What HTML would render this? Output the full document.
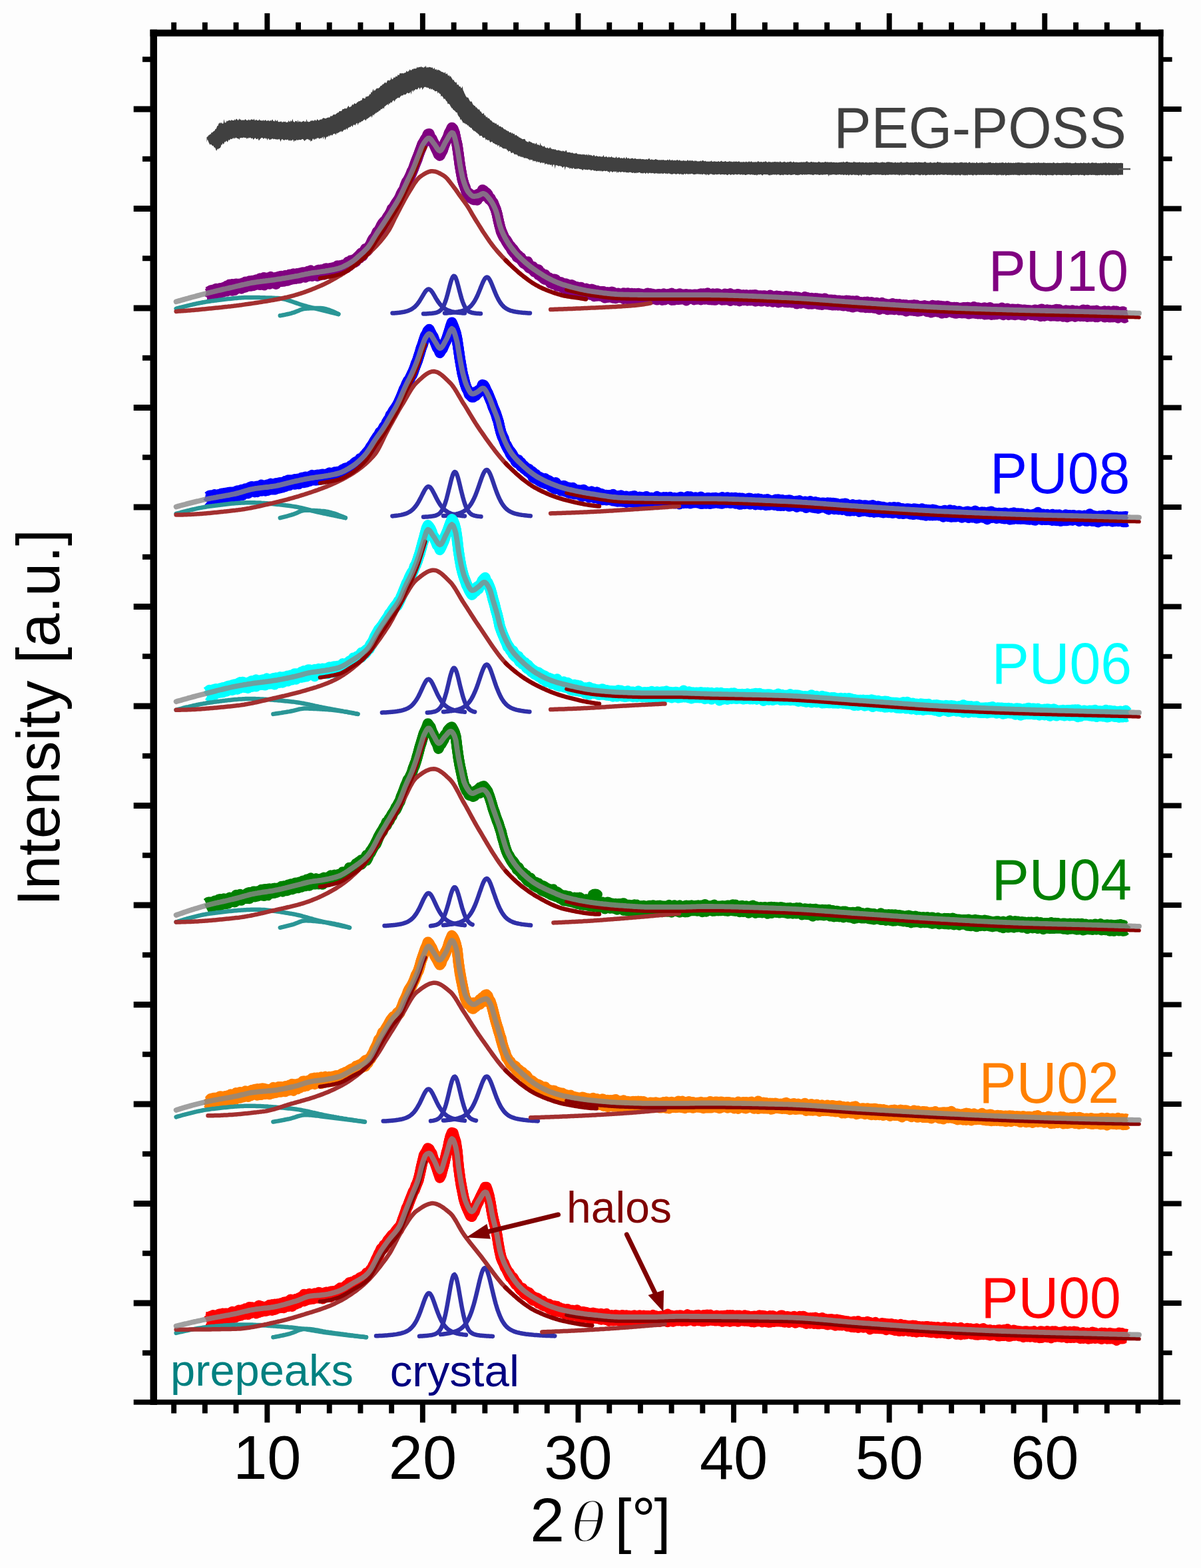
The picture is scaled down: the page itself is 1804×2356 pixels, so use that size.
<!DOCTYPE html>
<html><head><meta charset="utf-8"><style>
html,body{margin:0;padding:0;background:#fdfdfd;}
svg{display:block;}
</style></head><body>
<svg width="1804" height="2356" viewBox="0 0 1804 2356">
<rect width="1804" height="2356" fill="#fdfdfd"/>
<polygon points="310.5,205.9 311.5,205.4 312.5,204.7 313.5,203.0 314.5,203.0 315.5,201.3 316.5,202.0 317.5,199.0 318.5,199.5 319.5,198.4 320.5,197.6 321.5,196.9 322.5,196.2 323.5,193.7 324.5,193.9 325.5,191.5 326.5,189.0 327.5,189.0 328.5,185.5 329.5,185.4 330.5,183.7 331.5,185.7 332.5,183.8 333.5,185.4 334.5,185.8 335.5,185.6 336.5,178.9 337.5,184.1 338.5,184.4 339.5,183.9 340.5,181.2 341.5,182.4 342.5,181.3 343.5,181.2 344.5,180.5 345.5,180.7 346.5,181.7 347.5,180.1 348.5,180.5 349.5,181.1 350.5,181.0 351.5,181.0 352.5,179.1 353.5,181.0 354.5,178.9 355.5,178.6 356.5,179.7 357.5,180.9 358.5,180.1 359.5,177.9 360.5,179.9 361.5,179.2 362.5,181.0 363.5,180.2 364.5,180.8 365.5,180.1 366.5,181.1 367.5,180.1 368.5,178.9 369.5,180.1 370.5,180.9 371.5,180.5 372.5,181.0 373.5,179.3 374.5,180.3 375.5,181.0 376.5,179.8 377.5,179.5 378.5,179.2 379.5,180.1 380.5,180.3 381.5,178.2 382.5,180.6 383.5,181.2 384.5,179.4 385.5,180.3 386.5,180.9 387.5,180.9 388.5,181.1 389.5,179.1 390.5,180.8 391.5,181.1 392.5,181.0 393.5,181.4 394.5,181.3 395.5,179.9 396.5,181.7 397.5,181.1 398.5,180.0 399.5,180.9 400.5,182.0 401.5,181.0 402.5,181.6 403.5,180.5 404.5,182.3 405.5,181.5 406.5,180.4 407.5,182.0 408.5,179.9 409.5,179.5 410.5,182.3 411.5,181.5 412.5,182.7 413.5,179.5 414.5,181.8 415.5,182.2 416.5,179.9 417.5,182.6 418.5,183.2 419.5,183.2 420.5,182.5 421.5,182.9 422.5,182.1 423.5,183.7 424.5,183.8 425.5,182.3 426.5,183.6 427.5,182.7 428.5,182.5 429.5,183.8 430.5,184.0 431.5,183.2 432.5,184.0 433.5,181.0 434.5,182.4 435.5,183.6 436.5,180.8 437.5,182.8 438.5,181.4 439.5,178.6 440.5,182.8 441.5,182.9 442.5,183.9 443.5,181.7 444.5,182.1 445.5,181.8 446.5,184.0 447.5,179.9 448.6,183.8 449.6,182.4 450.6,182.2 451.6,183.1 452.6,183.8 453.6,182.6 454.6,182.8 455.6,181.8 456.6,181.8 457.6,183.5 458.6,182.1 459.6,183.6 460.6,178.7 461.6,183.1 462.6,182.6 463.6,183.5 464.6,182.8 465.6,182.9 466.6,181.1 467.6,181.9 468.6,180.4 469.6,181.8 470.6,181.1 471.6,182.0 472.6,180.2 473.6,179.9 474.6,181.7 475.6,180.8 476.6,178.8 477.6,180.2 478.6,181.1 479.6,180.8 480.6,179.4 481.6,179.7 482.6,179.3 483.6,179.6 484.6,177.8 485.6,177.4 486.6,176.9 487.6,178.0 488.6,178.0 489.6,178.2 490.6,177.2 491.6,176.9 492.6,176.4 493.6,176.6 494.6,176.5 495.6,176.3 496.6,174.1 497.6,174.5 498.6,174.5 499.6,173.8 500.6,172.0 501.6,172.2 502.6,171.7 503.6,172.5 504.6,171.3 505.6,170.4 506.6,169.8 507.6,169.1 508.6,169.3 509.6,167.1 510.6,167.0 511.6,167.1 512.6,167.1 513.6,165.9 514.6,163.8 515.6,163.9 516.6,163.9 517.6,162.5 518.6,163.4 519.6,162.5 520.6,163.6 521.6,161.8 522.6,160.0 523.6,158.8 524.6,161.2 525.6,161.0 526.6,160.2 527.6,160.0 528.6,158.1 529.6,156.5 530.6,158.1 531.6,156.3 532.6,154.7 533.6,155.9 534.6,156.1 535.6,154.9 536.6,153.4 537.6,153.4 538.6,152.2 539.6,151.8 540.6,152.3 541.6,150.8 542.6,150.9 543.6,150.3 544.6,147.0 545.6,147.4 546.6,147.5 547.6,148.2 548.6,147.7 549.6,144.7 550.6,145.7 551.6,144.5 552.6,144.9 553.6,144.2 554.6,143.1 555.6,140.9 556.6,142.0 557.6,137.7 558.6,139.3 559.6,136.5 560.6,133.6 561.6,137.2 562.6,135.1 563.6,136.3 564.6,133.7 565.6,133.3 566.6,132.2 567.6,133.0 568.6,132.4 569.6,131.7 570.6,130.9 571.6,129.0 572.6,128.7 573.6,128.5 574.6,126.5 575.6,126.7 576.6,125.8 577.6,124.5 578.6,123.6 579.6,124.8 580.6,124.5 581.6,121.8 582.6,120.6 583.6,120.5 584.6,121.4 585.6,120.3 586.6,120.3 587.6,116.1 588.6,119.3 589.6,119.0 590.6,118.3 591.6,116.1 592.6,116.8 593.6,116.4 594.6,114.2 595.6,115.0 596.6,115.0 597.6,112.0 598.6,113.1 599.6,112.8 600.6,110.0 601.6,109.9 602.6,110.4 603.6,110.1 604.6,110.0 605.6,110.5 606.6,109.9 607.6,109.5 608.6,109.2 609.6,109.0 610.6,106.3 611.6,107.5 612.6,108.0 613.6,106.7 614.6,106.2 615.6,104.1 616.6,105.5 617.6,105.7 618.6,104.9 619.6,103.2 620.6,104.5 621.6,102.8 622.6,103.3 623.6,103.2 624.6,102.9 625.6,102.8 626.6,100.2 627.6,102.1 628.6,101.0 629.6,100.8 630.6,100.8 631.6,101.0 632.6,99.4 633.6,101.3 634.6,100.8 635.6,101.4 636.6,101.7 637.6,100.1 638.6,101.0 639.6,98.6 640.6,101.5 641.6,101.7 642.6,100.4 643.6,101.7 644.6,100.4 645.6,100.9 646.6,100.8 647.6,101.7 648.6,101.6 649.6,101.2 650.6,103.6 651.6,103.4 652.6,101.6 653.6,104.8 654.6,104.5 655.6,103.7 656.6,106.2 657.6,104.2 658.6,105.2 659.6,105.5 660.6,105.8 661.6,106.7 662.6,107.4 663.6,107.9 664.6,108.3 665.6,108.6 666.6,109.2 667.6,110.1 668.6,107.7 669.6,111.3 670.6,111.3 671.6,109.9 672.6,112.7 673.6,114.3 674.6,112.6 675.6,115.5 676.6,113.9 677.6,115.8 678.6,117.6 679.6,118.9 680.6,120.8 681.6,119.4 682.6,122.7 683.6,123.3 684.6,124.5 685.6,123.1 686.6,127.4 687.6,127.2 688.6,127.1 689.6,129.5 690.6,130.2 691.6,129.7 692.6,132.5 693.6,132.2 694.6,129.2 695.6,135.5 696.6,137.2 697.6,140.0 698.6,141.8 699.6,144.3 700.6,145.4 701.6,146.7 702.6,146.3 703.6,147.3 704.6,149.5 705.6,151.6 706.6,152.7 707.6,152.6 708.6,152.6 709.6,155.2 710.6,157.2 711.6,158.0 712.6,159.1 713.6,159.1 714.6,161.4 715.6,160.9 716.6,162.4 717.6,163.6 718.6,165.1 719.6,163.8 720.6,165.7 721.6,167.8 722.6,167.6 723.7,170.0 724.7,171.0 725.7,170.7 726.7,169.4 727.7,173.9 728.7,172.6 729.7,174.9 730.7,176.5 731.7,175.0 732.7,177.7 733.7,177.6 734.7,178.0 735.7,179.0 736.7,180.9 737.7,180.5 738.7,182.1 739.7,182.9 740.7,184.2 741.7,184.1 742.7,184.4 743.7,185.8 744.7,185.4 745.7,185.6 746.7,188.1 747.7,187.5 748.7,187.2 749.7,190.0 750.7,189.7 751.7,189.8 752.7,190.6 753.7,191.7 754.7,190.8 755.7,192.5 756.7,193.6 757.7,194.4 758.7,194.2 759.7,195.0 760.7,196.2 761.7,196.1 762.7,197.5 763.7,196.6 764.7,198.6 765.7,199.2 766.7,198.5 767.7,199.1 768.7,201.0 769.7,199.1 770.7,201.2 771.7,201.2 772.7,200.7 773.7,203.8 774.7,202.9 775.7,202.8 776.7,204.0 777.7,205.1 778.7,205.1 779.7,206.7 780.7,206.6 781.7,207.3 782.7,208.0 783.7,208.3 784.7,209.2 785.7,209.0 786.7,209.1 787.7,208.7 788.7,209.2 789.7,211.7 790.7,212.3 791.7,213.0 792.7,213.2 793.7,213.7 794.7,211.5 795.7,213.1 796.7,212.8 797.7,213.9 798.7,213.8 799.7,215.0 800.7,215.2 801.7,215.4 802.7,215.1 803.7,216.9 804.7,215.8 805.7,214.2 806.7,217.6 807.7,217.2 808.7,217.5 809.7,217.8 810.7,219.1 811.7,214.3 812.7,218.8 813.7,218.5 814.7,219.6 815.7,220.4 816.7,220.1 817.7,219.0 818.7,221.2 819.7,222.0 820.7,222.2 821.7,222.4 822.7,221.3 823.7,222.9 824.7,223.2 825.7,221.8 826.7,221.3 827.7,223.8 828.7,223.2 829.7,224.4 830.7,223.9 831.7,224.0 832.7,225.1 833.7,224.0 834.7,224.8 835.7,225.7 836.7,225.7 837.7,226.0 838.7,225.5 839.7,225.4 840.7,226.5 841.7,226.3 842.7,226.9 843.7,227.4 844.7,225.9 845.7,227.7 846.7,226.3 847.7,227.4 848.7,228.0 849.7,226.0 850.7,225.7 851.7,228.8 852.7,228.9 853.7,228.8 854.7,229.0 855.7,228.5 856.7,229.5 857.7,229.4 858.7,230.1 859.7,228.9 860.7,230.3 861.7,230.6 862.7,230.8 863.7,230.6 864.7,230.6 865.7,229.5 866.7,231.1 867.7,231.5 868.7,231.6 869.7,231.7 870.7,231.5 871.7,232.1 872.7,231.8 873.7,232.2 874.7,232.6 875.7,231.2 876.7,232.5 877.7,231.9 878.7,232.2 879.7,233.2 880.7,231.8 881.7,232.6 882.7,233.7 883.7,231.0 884.7,233.7 885.7,232.5 886.7,232.8 887.7,233.7 888.7,233.1 889.7,234.2 890.7,234.4 891.7,232.8 892.7,233.1 893.7,234.9 894.7,234.9 895.7,233.8 896.7,234.6 897.7,235.0 898.7,235.1 899.7,235.5 900.7,234.6 901.7,235.0 902.7,235.8 903.7,235.2 904.7,235.4 905.7,235.0 906.7,232.7 907.7,236.0 908.7,236.0 909.7,235.4 910.7,234.7 911.7,236.0 912.7,236.6 913.7,236.4 914.7,235.0 915.7,236.5 916.7,236.3 917.7,236.1 918.7,234.7 919.7,236.8 920.7,236.3 921.7,236.9 922.7,236.8 923.7,237.5 924.7,236.7 925.7,234.7 926.7,237.5 927.7,237.2 928.7,237.1 929.7,236.1 930.7,236.7 931.7,237.7 932.7,237.7 933.7,237.3 934.7,237.6 935.7,238.2 936.7,237.3 937.7,236.3 938.7,238.2 939.7,238.4 940.7,235.6 941.7,237.2 942.7,238.6 943.7,237.2 944.7,237.8 945.7,238.6 946.7,238.7 947.7,238.1 948.7,237.9 949.7,237.5 950.7,238.1 951.7,238.8 952.7,238.5 953.7,237.7 954.7,238.2 955.7,238.8 956.7,238.9 957.7,238.9 958.7,238.4 959.7,239.3 960.7,238.5 961.7,238.7 962.7,238.8 963.7,239.5 964.7,239.1 965.7,239.1 966.7,239.6 967.7,239.0 968.7,239.9 969.7,239.6 970.7,239.1 971.7,239.5 972.7,239.7 973.7,239.0 974.7,238.1 975.7,238.3 976.7,240.2 977.7,240.1 978.7,238.9 979.7,240.3 980.7,239.5 981.7,240.4 982.7,240.1 983.7,239.8 984.7,239.1 985.7,239.3 986.7,240.1 987.7,240.0 988.7,240.6 989.7,240.6 990.7,240.3 991.7,240.6 992.7,240.5 993.7,240.1 994.7,240.7 995.7,240.1 996.7,240.0 997.7,241.1 998.8,240.5 999.8,240.8 1000.8,241.0 1001.8,240.6 1002.8,239.8 1003.8,240.4 1004.8,241.0 1005.8,239.1 1006.8,240.5 1007.8,241.3 1008.8,240.8 1009.8,239.7 1010.8,241.3 1011.8,241.2 1012.8,240.5 1013.8,241.2 1014.8,241.1 1015.8,241.2 1016.8,240.0 1017.8,240.2 1018.8,241.3 1019.8,241.2 1020.8,240.0 1021.8,241.3 1022.8,241.7 1023.8,241.5 1024.8,241.4 1025.8,241.7 1026.8,240.5 1027.8,241.7 1028.8,241.4 1029.8,241.8 1030.8,241.6 1031.8,241.9 1032.8,240.1 1033.8,241.1 1034.8,242.0 1035.8,241.3 1036.8,240.6 1037.8,242.3 1038.8,240.8 1039.8,241.6 1040.8,241.3 1041.8,242.0 1042.8,242.4 1043.8,240.7 1044.8,242.2 1045.8,241.2 1046.8,242.3 1047.8,242.5 1048.8,242.3 1049.8,242.6 1050.8,242.2 1051.8,242.1 1052.8,241.2 1053.8,242.7 1054.8,241.1 1055.8,241.0 1056.8,241.6 1057.8,242.2 1058.8,242.2 1059.8,241.6 1060.8,242.8 1061.8,242.8 1062.8,242.6 1063.8,242.8 1064.8,242.6 1065.8,242.9 1066.8,242.0 1067.8,242.7 1068.8,241.0 1069.8,243.0 1070.8,242.9 1071.8,242.6 1072.8,242.5 1073.8,242.2 1074.8,243.0 1075.8,242.4 1076.8,242.9 1077.8,243.1 1078.8,241.9 1079.8,242.6 1080.8,243.2 1081.8,242.8 1082.8,242.0 1083.8,241.6 1084.8,242.7 1085.8,242.9 1086.8,242.8 1087.8,242.9 1088.8,242.2 1089.8,242.1 1090.8,242.8 1091.8,243.2 1092.8,242.9 1093.8,243.0 1094.8,242.7 1095.8,241.7 1096.8,243.2 1097.8,242.3 1098.8,243.0 1099.8,243.2 1100.8,243.3 1101.8,242.2 1102.8,243.4 1103.8,242.3 1104.8,243.0 1105.8,242.8 1106.8,242.6 1107.8,243.3 1108.8,243.1 1109.8,242.0 1110.8,243.1 1111.8,243.6 1112.8,243.4 1113.8,243.6 1114.8,243.2 1115.8,243.7 1116.8,242.7 1117.8,243.4 1118.8,243.4 1119.8,243.4 1120.8,242.5 1121.8,243.6 1122.8,243.5 1123.8,243.6 1124.8,242.6 1125.8,242.4 1126.8,243.7 1127.8,242.8 1128.8,242.3 1129.8,243.6 1130.8,243.7 1131.8,243.2 1132.8,243.7 1133.8,243.3 1134.8,243.4 1135.8,243.2 1136.8,243.8 1137.8,243.0 1138.8,241.7 1139.8,243.0 1140.8,243.5 1141.8,243.2 1142.8,243.2 1143.8,242.9 1144.8,243.5 1145.8,243.8 1146.8,243.1 1147.8,243.1 1148.8,243.5 1149.8,242.1 1150.8,242.7 1151.8,243.6 1152.8,243.8 1153.8,243.8 1154.8,242.4 1155.8,243.5 1156.8,243.3 1157.8,243.5 1158.8,243.9 1159.8,243.2 1160.8,243.4 1161.8,243.5 1162.8,243.0 1163.8,243.3 1164.8,242.8 1165.8,243.8 1166.8,243.0 1167.8,243.6 1168.8,243.2 1169.8,243.5 1170.8,243.8 1171.8,241.9 1172.8,243.4 1173.8,243.6 1174.8,243.9 1175.8,243.7 1176.8,243.0 1177.8,243.6 1178.8,242.6 1179.8,243.8 1180.8,244.0 1181.8,243.9 1182.8,242.9 1183.8,243.8 1184.8,243.4 1185.8,243.1 1186.8,243.3 1187.8,242.3 1188.8,243.4 1189.8,243.8 1190.8,243.9 1191.8,242.6 1192.8,243.3 1193.8,244.0 1194.8,243.7 1195.8,243.5 1196.8,243.7 1197.8,243.8 1198.8,243.9 1199.8,244.0 1200.8,244.0 1201.8,243.2 1202.8,244.1 1203.8,243.4 1204.8,243.3 1205.8,243.9 1206.8,243.6 1207.8,243.2 1208.8,244.0 1209.8,243.3 1210.8,243.2 1211.8,242.3 1212.8,242.5 1213.8,244.0 1214.8,243.5 1215.8,244.0 1216.8,244.1 1217.8,242.9 1218.8,243.1 1219.8,243.3 1220.8,244.1 1221.8,243.0 1222.8,244.0 1223.8,243.6 1224.8,244.0 1225.8,243.6 1226.8,244.2 1227.8,243.8 1228.8,243.8 1229.8,242.5 1230.8,243.5 1231.8,243.6 1232.8,244.1 1233.8,244.2 1234.8,243.4 1235.8,243.9 1236.8,243.7 1237.8,244.1 1238.8,243.3 1239.8,243.1 1240.8,243.3 1241.8,243.7 1242.8,243.4 1243.8,243.2 1244.8,244.2 1245.8,243.2 1246.8,244.0 1247.8,243.5 1248.8,243.3 1249.8,243.9 1250.8,244.0 1251.8,243.7 1252.8,243.8 1253.8,244.0 1254.8,244.3 1255.8,243.9 1256.8,243.9 1257.8,244.2 1258.8,244.3 1259.8,243.9 1260.8,244.0 1261.8,243.4 1262.8,244.1 1263.8,243.6 1264.8,243.4 1265.8,243.9 1266.8,242.6 1267.8,243.7 1268.8,243.7 1269.8,244.1 1270.8,242.9 1271.8,243.0 1272.8,242.8 1273.8,243.6 1274.9,243.8 1275.9,243.7 1276.9,243.8 1277.9,244.3 1278.9,244.0 1279.9,243.9 1280.9,244.3 1281.9,243.6 1282.9,242.6 1283.9,243.9 1284.9,243.6 1285.9,243.7 1286.9,244.2 1287.9,243.7 1288.9,244.1 1289.9,243.7 1290.9,243.7 1291.9,243.2 1292.9,244.4 1293.9,244.0 1294.9,243.6 1295.9,244.3 1296.9,243.6 1297.9,244.4 1298.9,244.4 1299.9,244.0 1300.9,243.6 1301.9,244.2 1302.9,244.3 1303.9,244.3 1304.9,244.4 1305.9,243.8 1306.9,243.7 1307.9,244.2 1308.9,244.1 1309.9,243.8 1310.9,244.2 1311.9,244.2 1312.9,244.2 1313.9,242.9 1314.9,244.2 1315.9,243.1 1316.9,243.8 1317.9,244.0 1318.9,244.2 1319.9,244.2 1320.9,244.5 1321.9,244.5 1322.9,244.3 1323.9,243.2 1324.9,244.4 1325.9,242.8 1326.9,244.3 1327.9,244.0 1328.9,244.0 1329.9,244.4 1330.9,244.3 1331.9,243.5 1332.9,243.2 1333.9,243.8 1334.9,243.0 1335.9,243.8 1336.9,243.4 1337.9,243.8 1338.9,244.1 1339.9,243.5 1340.9,244.4 1341.9,244.3 1342.9,244.5 1343.9,244.2 1344.9,243.3 1345.9,244.4 1346.9,244.5 1347.9,243.9 1348.9,244.2 1349.9,244.4 1350.9,244.0 1351.9,244.6 1352.9,243.3 1353.9,243.1 1354.9,244.4 1355.9,244.0 1356.9,244.4 1357.9,244.0 1358.9,244.4 1359.9,243.6 1360.9,244.6 1361.9,242.8 1362.9,243.8 1363.9,243.8 1364.9,244.0 1365.9,244.4 1366.9,243.9 1367.9,244.1 1368.9,244.2 1369.9,244.0 1370.9,244.0 1371.9,244.4 1372.9,243.9 1373.9,243.5 1374.9,244.2 1375.9,243.0 1376.9,244.1 1377.9,244.2 1378.9,244.3 1379.9,243.3 1380.9,243.8 1381.9,243.9 1382.9,244.1 1383.9,243.9 1384.9,244.2 1385.9,244.0 1386.9,244.6 1387.9,243.5 1388.9,243.6 1389.9,243.0 1390.9,243.9 1391.9,244.5 1392.9,244.6 1393.9,244.6 1394.9,244.5 1395.9,244.6 1396.9,243.9 1397.9,243.2 1398.9,244.8 1399.9,244.2 1400.9,244.7 1401.9,244.6 1402.9,244.1 1403.9,244.3 1404.9,244.2 1405.9,244.5 1406.9,244.3 1407.9,243.3 1408.9,243.1 1409.9,243.7 1410.9,244.6 1411.9,243.0 1412.9,244.2 1413.9,244.6 1414.9,244.6 1415.9,244.4 1416.9,244.7 1417.9,244.4 1418.9,244.3 1419.9,244.5 1420.9,244.5 1421.9,244.0 1422.9,244.8 1423.9,244.2 1424.9,244.7 1425.9,244.1 1426.9,244.6 1427.9,244.5 1428.9,244.6 1429.9,244.8 1430.9,244.8 1431.9,244.6 1432.9,244.3 1433.9,244.1 1434.9,243.9 1435.9,244.8 1436.9,244.3 1437.9,244.5 1438.9,244.4 1439.9,244.8 1440.9,244.4 1441.9,244.1 1442.9,244.3 1443.9,243.3 1444.9,244.4 1445.9,243.5 1446.9,244.9 1447.9,244.1 1448.9,244.4 1449.9,244.0 1450.9,244.4 1451.9,243.7 1452.9,244.7 1453.9,244.9 1454.9,244.2 1455.9,243.2 1456.9,244.0 1457.9,244.8 1458.9,244.7 1459.9,244.5 1460.9,244.5 1461.9,244.2 1462.9,244.9 1463.9,244.3 1464.9,244.9 1465.9,244.9 1466.9,243.3 1467.9,244.4 1468.9,244.9 1469.9,244.8 1470.9,244.7 1471.9,244.2 1472.9,244.6 1473.9,244.4 1474.9,243.8 1475.9,244.3 1476.9,244.6 1477.9,244.9 1478.9,244.3 1479.9,244.7 1480.9,245.0 1481.9,244.6 1482.9,244.6 1483.9,244.8 1484.9,243.7 1485.9,244.2 1486.9,243.9 1487.9,243.5 1488.9,244.8 1489.9,244.9 1490.9,244.8 1491.9,244.5 1492.9,245.0 1493.9,245.0 1494.9,245.0 1495.9,243.7 1496.9,244.9 1497.9,244.4 1498.9,244.7 1499.9,244.9 1500.9,244.6 1501.9,244.4 1502.9,244.7 1503.9,244.4 1504.9,244.3 1505.9,244.3 1506.9,244.1 1507.9,245.0 1508.9,244.9 1509.9,244.5 1510.9,244.1 1511.9,244.9 1512.9,244.7 1513.9,244.8 1514.9,243.9 1515.9,244.5 1516.9,245.1 1517.9,244.5 1518.9,244.4 1519.9,245.0 1520.9,245.0 1521.9,244.5 1522.9,244.8 1523.9,244.9 1524.9,244.7 1525.9,243.9 1526.9,245.1 1527.9,244.1 1528.9,244.5 1529.9,244.1 1530.9,244.3 1531.9,244.3 1532.9,245.0 1533.9,244.1 1534.9,244.7 1535.9,244.3 1536.9,244.9 1537.9,244.7 1538.9,244.9 1539.9,245.0 1540.9,244.7 1541.9,244.4 1542.9,244.4 1543.9,244.4 1544.9,244.3 1545.9,244.7 1546.9,244.2 1547.9,245.1 1548.9,245.0 1550.0,244.9 1551.0,244.6 1552.0,244.9 1553.0,244.6 1554.0,244.2 1555.0,244.7 1556.0,245.0 1557.0,244.6 1558.0,244.5 1559.0,245.0 1560.0,243.6 1561.0,244.8 1562.0,244.9 1563.0,244.6 1564.0,245.1 1565.0,244.4 1566.0,244.9 1567.0,244.5 1568.0,243.9 1569.0,244.9 1570.0,244.4 1571.0,245.1 1572.0,245.0 1573.0,244.8 1574.0,244.7 1575.0,244.9 1576.0,244.6 1577.0,245.1 1578.0,244.7 1579.0,244.8 1580.0,245.0 1581.0,245.2 1582.0,243.4 1583.0,244.8 1584.0,244.4 1585.0,245.2 1586.0,245.2 1587.0,244.8 1588.0,244.7 1589.0,244.5 1590.0,245.1 1591.0,244.9 1592.0,244.9 1593.0,245.0 1594.0,244.9 1595.0,244.4 1596.0,245.0 1597.0,244.6 1598.0,244.3 1599.0,245.2 1600.0,244.4 1601.0,244.5 1602.0,244.4 1603.0,244.3 1604.0,244.8 1605.0,244.5 1606.0,244.9 1607.0,244.2 1608.0,244.7 1609.0,245.3 1610.0,245.2 1611.0,245.3 1612.0,245.2 1613.0,245.0 1614.0,245.3 1615.0,244.3 1616.0,244.3 1617.0,245.2 1618.0,244.8 1619.0,245.2 1620.0,244.8 1621.0,245.3 1622.0,244.9 1623.0,244.4 1624.0,244.7 1625.0,245.0 1626.0,245.0 1627.0,245.3 1628.0,243.7 1629.0,244.9 1630.0,245.2 1631.0,244.4 1632.0,245.2 1633.0,245.2 1634.0,244.5 1635.0,244.5 1636.0,244.3 1637.0,245.4 1638.0,245.3 1639.0,244.4 1640.0,244.8 1641.0,243.7 1642.0,245.0 1643.0,244.6 1644.0,245.1 1645.0,244.8 1646.0,244.6 1647.0,244.6 1648.0,245.3 1649.0,245.2 1650.0,244.9 1651.0,245.2 1652.0,245.2 1653.0,245.0 1654.0,244.6 1655.0,245.4 1656.0,245.0 1657.0,244.6 1658.0,244.7 1659.0,245.1 1660.0,244.3 1661.0,244.6 1662.0,244.4 1663.0,245.3 1664.0,245.2 1665.0,244.2 1666.0,244.5 1667.0,245.0 1668.0,244.9 1669.0,245.3 1670.0,245.3 1671.0,244.4 1672.0,245.3 1673.0,244.8 1674.0,244.7 1675.0,245.3 1676.0,245.3 1677.0,244.6 1678.0,244.9 1679.0,245.2 1680.0,245.1 1681.0,245.1 1682.0,245.1 1683.0,245.1 1684.0,244.4 1685.0,245.3 1686.0,245.2 1687.0,245.2 1687.0,263.1 1686.0,262.6 1685.0,262.6 1684.0,262.8 1683.0,262.7 1682.0,262.6 1681.0,262.8 1680.0,263.2 1679.0,263.4 1678.0,262.9 1677.0,262.5 1676.0,262.8 1675.0,263.3 1674.0,262.8 1673.0,262.7 1672.0,263.4 1671.0,262.8 1670.0,263.2 1669.0,262.7 1668.0,262.8 1667.0,263.3 1666.0,263.5 1665.0,263.1 1664.0,262.7 1663.0,262.8 1662.0,263.5 1661.0,263.6 1660.0,262.9 1659.0,262.7 1658.0,262.6 1657.0,263.0 1656.0,263.2 1655.0,263.3 1654.0,262.9 1653.0,262.6 1652.0,263.3 1651.0,263.2 1650.0,262.9 1649.0,263.2 1648.0,263.7 1647.0,262.8 1646.0,263.7 1645.0,263.1 1644.0,262.8 1643.0,263.0 1642.0,262.8 1641.0,262.7 1640.0,263.1 1639.0,263.1 1638.0,262.8 1637.0,262.5 1636.0,262.9 1635.0,263.0 1634.0,263.6 1633.0,262.7 1632.0,263.2 1631.0,262.6 1630.0,263.2 1629.0,263.9 1628.0,263.4 1627.0,262.9 1626.0,262.7 1625.0,263.1 1624.0,263.1 1623.0,262.5 1622.0,262.7 1621.0,263.3 1620.0,263.4 1619.0,263.1 1618.0,262.6 1617.0,262.9 1616.0,263.1 1615.0,262.8 1614.0,263.1 1613.0,262.9 1612.0,263.0 1611.0,262.9 1610.0,262.9 1609.0,264.5 1608.0,263.0 1607.0,262.6 1606.0,262.8 1605.0,263.0 1604.0,263.2 1603.0,262.8 1602.0,263.5 1601.0,262.8 1600.0,263.1 1599.0,263.0 1598.0,262.5 1597.0,262.8 1596.0,263.8 1595.0,262.8 1594.0,263.2 1593.0,262.9 1592.0,262.8 1591.0,263.1 1590.0,262.7 1589.0,262.8 1588.0,262.9 1587.0,263.4 1586.0,262.9 1585.0,262.5 1584.0,262.6 1583.0,262.8 1582.0,263.4 1581.0,263.4 1580.0,263.3 1579.0,263.1 1578.0,263.2 1577.0,262.6 1576.0,263.6 1575.0,262.8 1574.0,262.9 1573.0,262.6 1572.0,264.1 1571.0,263.4 1570.0,263.0 1569.0,262.9 1568.0,263.0 1567.0,262.8 1566.0,263.8 1565.0,262.7 1564.0,262.6 1563.0,263.4 1562.0,263.2 1561.0,263.1 1560.0,262.6 1559.0,262.7 1558.0,262.4 1557.0,263.3 1556.0,262.7 1555.0,262.7 1554.0,262.4 1553.0,262.6 1552.0,263.1 1551.0,262.5 1550.0,262.5 1548.9,263.2 1547.9,263.0 1546.9,262.5 1545.9,262.7 1544.9,262.8 1543.9,262.6 1542.9,263.1 1541.9,263.1 1540.9,263.2 1539.9,262.8 1538.9,262.9 1537.9,262.5 1536.9,262.6 1535.9,263.2 1534.9,262.8 1533.9,262.8 1532.9,262.5 1531.9,263.4 1530.9,263.6 1529.9,263.1 1528.9,263.4 1527.9,262.7 1526.9,262.7 1525.9,262.9 1524.9,262.5 1523.9,262.6 1522.9,263.3 1521.9,262.6 1520.9,263.1 1519.9,262.6 1518.9,262.9 1517.9,263.0 1516.9,262.4 1515.9,263.5 1514.9,263.0 1513.9,262.9 1512.9,262.9 1511.9,263.0 1510.9,264.4 1509.9,262.6 1508.9,262.6 1507.9,263.3 1506.9,263.2 1505.9,262.5 1504.9,264.0 1503.9,262.6 1502.9,263.0 1501.9,262.6 1500.9,262.4 1499.9,263.5 1498.9,262.5 1497.9,263.4 1496.9,263.4 1495.9,262.5 1494.9,262.7 1493.9,262.9 1492.9,262.4 1491.9,262.6 1490.9,262.6 1489.9,263.1 1488.9,262.8 1487.9,262.8 1486.9,263.0 1485.9,262.9 1484.9,262.4 1483.9,262.8 1482.9,262.9 1481.9,262.4 1480.9,263.3 1479.9,262.3 1478.9,262.7 1477.9,263.1 1476.9,263.0 1475.9,262.5 1474.9,263.1 1473.9,262.7 1472.9,262.7 1471.9,262.7 1470.9,263.1 1469.9,262.4 1468.9,262.7 1467.9,262.7 1466.9,263.3 1465.9,263.4 1464.9,262.6 1463.9,262.7 1462.9,262.6 1461.9,263.7 1460.9,263.6 1459.9,262.7 1458.9,262.8 1457.9,262.7 1456.9,262.7 1455.9,263.1 1454.9,262.4 1453.9,262.6 1452.9,264.0 1451.9,262.7 1450.9,263.1 1449.9,263.6 1448.9,263.5 1447.9,262.6 1446.9,263.8 1445.9,262.6 1444.9,262.5 1443.9,262.3 1442.9,263.9 1441.9,263.0 1440.9,263.6 1439.9,262.6 1438.9,262.7 1437.9,263.4 1436.9,262.6 1435.9,263.8 1434.9,262.9 1433.9,262.4 1432.9,263.1 1431.9,262.4 1430.9,263.2 1429.9,263.8 1428.9,262.3 1427.9,263.2 1426.9,262.4 1425.9,262.9 1424.9,262.5 1423.9,262.9 1422.9,263.0 1421.9,262.6 1420.9,262.3 1419.9,262.4 1418.9,262.6 1417.9,263.1 1416.9,262.6 1415.9,262.8 1414.9,262.3 1413.9,262.3 1412.9,262.3 1411.9,262.9 1410.9,262.7 1409.9,262.3 1408.9,262.7 1407.9,262.8 1406.9,263.6 1405.9,262.5 1404.9,262.3 1403.9,262.7 1402.9,263.0 1401.9,263.3 1400.9,262.3 1399.9,262.8 1398.9,262.8 1397.9,262.7 1396.9,262.8 1395.9,262.9 1394.9,262.5 1393.9,262.6 1392.9,263.0 1391.9,263.1 1390.9,263.6 1389.9,263.4 1388.9,262.3 1387.9,262.9 1386.9,262.7 1385.9,263.5 1384.9,262.2 1383.9,262.3 1382.9,263.7 1381.9,262.7 1380.9,263.8 1379.9,262.8 1378.9,262.4 1377.9,262.4 1376.9,262.3 1375.9,262.4 1374.9,262.3 1373.9,263.0 1372.9,263.4 1371.9,263.0 1370.9,263.1 1369.9,262.4 1368.9,262.7 1367.9,263.7 1366.9,262.8 1365.9,262.4 1364.9,263.2 1363.9,262.2 1362.9,262.6 1361.9,262.3 1360.9,262.4 1359.9,262.8 1358.9,262.4 1357.9,263.2 1356.9,262.7 1355.9,262.3 1354.9,264.1 1353.9,262.5 1352.9,262.4 1351.9,262.4 1350.9,264.0 1349.9,262.6 1348.9,262.8 1347.9,262.4 1346.9,262.4 1345.9,262.3 1344.9,263.0 1343.9,262.5 1342.9,262.2 1341.9,262.6 1340.9,262.2 1339.9,262.7 1338.9,262.4 1337.9,262.5 1336.9,262.5 1335.9,262.3 1334.9,262.7 1333.9,263.0 1332.9,262.8 1331.9,262.5 1330.9,262.9 1329.9,263.4 1328.9,262.5 1327.9,262.7 1326.9,262.9 1325.9,262.8 1324.9,263.3 1323.9,262.4 1322.9,262.4 1321.9,262.3 1320.9,262.8 1319.9,262.5 1318.9,262.2 1317.9,262.4 1316.9,262.3 1315.9,262.8 1314.9,262.4 1313.9,262.5 1312.9,262.3 1311.9,262.2 1310.9,262.3 1309.9,262.3 1308.9,263.0 1307.9,262.7 1306.9,263.1 1305.9,263.4 1304.9,263.2 1303.9,262.5 1302.9,262.9 1301.9,263.2 1300.9,262.6 1299.9,262.3 1298.9,262.6 1297.9,262.6 1296.9,262.8 1295.9,262.2 1294.9,262.6 1293.9,264.8 1292.9,262.8 1291.9,262.5 1290.9,262.8 1289.9,264.3 1288.9,263.0 1287.9,262.8 1286.9,263.2 1285.9,262.3 1284.9,263.2 1283.9,263.0 1282.9,262.3 1281.9,262.4 1280.9,262.4 1279.9,263.1 1278.9,263.2 1277.9,262.2 1276.9,262.5 1275.9,262.4 1274.9,263.9 1273.8,262.4 1272.8,262.5 1271.8,262.9 1270.8,263.2 1269.8,262.3 1268.8,262.3 1267.8,263.3 1266.8,262.7 1265.8,262.6 1264.8,262.2 1263.8,262.7 1262.8,262.4 1261.8,262.2 1260.8,262.1 1259.8,262.2 1258.8,262.8 1257.8,262.0 1256.8,263.0 1255.8,262.8 1254.8,262.5 1253.8,262.5 1252.8,262.1 1251.8,262.2 1250.8,262.3 1249.8,262.2 1248.8,262.9 1247.8,262.2 1246.8,263.5 1245.8,262.1 1244.8,264.9 1243.8,262.4 1242.8,262.0 1241.8,262.1 1240.8,262.2 1239.8,262.6 1238.8,262.3 1237.8,262.6 1236.8,262.2 1235.8,262.9 1234.8,262.6 1233.8,262.6 1232.8,262.4 1231.8,262.8 1230.8,263.0 1229.8,262.9 1228.8,262.1 1227.8,262.6 1226.8,262.4 1225.8,262.3 1224.8,262.1 1223.8,262.3 1222.8,262.3 1221.8,263.3 1220.8,263.0 1219.8,262.5 1218.8,262.6 1217.8,262.3 1216.8,262.5 1215.8,262.1 1214.8,262.0 1213.8,262.2 1212.8,261.9 1211.8,262.8 1210.8,262.2 1209.8,262.2 1208.8,262.8 1207.8,262.2 1206.8,262.0 1205.8,262.7 1204.8,262.8 1203.8,262.2 1202.8,262.0 1201.8,262.3 1200.8,262.9 1199.8,262.4 1198.8,263.5 1197.8,263.1 1196.8,262.7 1195.8,263.2 1194.8,262.7 1193.8,262.1 1192.8,262.0 1191.8,262.5 1190.8,262.2 1189.8,262.9 1188.8,262.8 1187.8,263.2 1186.8,262.5 1185.8,262.4 1184.8,261.9 1183.8,263.0 1182.8,263.1 1181.8,262.6 1180.8,262.7 1179.8,262.2 1178.8,262.5 1177.8,262.1 1176.8,263.6 1175.8,262.9 1174.8,262.5 1173.8,262.7 1172.8,262.9 1171.8,263.4 1170.8,262.4 1169.8,262.4 1168.8,261.9 1167.8,262.0 1166.8,263.4 1165.8,262.0 1164.8,262.5 1163.8,262.6 1162.8,262.3 1161.8,262.5 1160.8,261.9 1159.8,263.0 1158.8,262.7 1157.8,262.6 1156.8,263.7 1155.8,263.1 1154.8,263.5 1153.8,262.4 1152.8,262.2 1151.8,261.9 1150.8,262.5 1149.8,261.9 1148.8,262.3 1147.8,262.1 1146.8,262.1 1145.8,263.4 1144.8,263.4 1143.8,262.4 1142.8,262.0 1141.8,262.0 1140.8,262.7 1139.8,262.0 1138.8,262.6 1137.8,262.6 1136.8,263.9 1135.8,262.2 1134.8,262.9 1133.8,262.9 1132.8,262.7 1131.8,262.6 1130.8,262.5 1129.8,262.4 1128.8,262.0 1127.8,262.3 1126.8,262.9 1125.8,261.8 1124.8,262.2 1123.8,261.8 1122.8,262.4 1121.8,262.3 1120.8,263.1 1119.8,262.9 1118.8,263.1 1117.8,262.0 1116.8,262.2 1115.8,263.3 1114.8,261.8 1113.8,262.4 1112.8,261.9 1111.8,262.9 1110.8,261.8 1109.8,261.7 1108.8,262.1 1107.8,262.6 1106.8,262.3 1105.8,262.2 1104.8,261.8 1103.8,261.8 1102.8,262.8 1101.8,262.8 1100.8,262.0 1099.8,262.2 1098.8,261.9 1097.8,263.2 1096.8,262.4 1095.8,261.8 1094.8,261.8 1093.8,262.6 1092.8,263.2 1091.8,263.1 1090.8,262.0 1089.8,262.2 1088.8,261.9 1087.8,262.8 1086.8,261.9 1085.8,262.0 1084.8,262.0 1083.8,261.9 1082.8,262.6 1081.8,262.4 1080.8,261.5 1079.8,261.8 1078.8,262.0 1077.8,262.2 1076.8,262.0 1075.8,262.4 1074.8,261.6 1073.8,262.2 1072.8,262.7 1071.8,262.2 1070.8,262.5 1069.8,261.9 1068.8,261.6 1067.8,261.5 1066.8,261.4 1065.8,261.8 1064.8,263.5 1063.8,262.2 1062.8,262.5 1061.8,261.3 1060.8,263.7 1059.8,261.8 1058.8,262.3 1057.8,261.6 1056.8,261.3 1055.8,261.9 1054.8,262.6 1053.8,261.4 1052.8,261.7 1051.8,262.0 1050.8,261.4 1049.8,261.8 1048.8,261.5 1047.8,261.3 1046.8,261.8 1045.8,261.2 1044.8,261.9 1043.8,262.1 1042.8,262.3 1041.8,262.1 1040.8,261.8 1039.8,261.0 1038.8,261.0 1037.8,261.2 1036.8,261.4 1035.8,261.8 1034.8,261.0 1033.8,262.3 1032.8,261.4 1031.8,260.9 1030.8,261.1 1029.8,262.5 1028.8,260.9 1027.8,260.9 1026.8,262.7 1025.8,261.4 1024.8,262.6 1023.8,261.8 1022.8,261.2 1021.8,261.2 1020.8,262.4 1019.8,260.9 1018.8,261.5 1017.8,260.8 1016.8,261.4 1015.8,262.1 1014.8,261.4 1013.8,261.5 1012.8,260.8 1011.8,261.0 1010.8,261.8 1009.8,261.6 1008.8,262.1 1007.8,261.6 1006.8,261.2 1005.8,260.9 1004.8,260.3 1003.8,260.4 1002.8,261.8 1001.8,260.3 1000.8,261.3 999.8,260.8 998.8,260.5 997.7,260.1 996.7,260.7 995.7,261.4 994.7,260.5 993.7,260.3 992.7,261.3 991.7,260.2 990.7,260.8 989.7,261.6 988.7,259.9 987.7,261.2 986.7,260.3 985.7,260.3 984.7,260.5 983.7,260.6 982.7,261.3 981.7,260.1 980.7,260.2 979.7,260.0 978.7,260.3 977.7,260.6 976.7,259.6 975.7,260.2 974.7,259.6 973.7,261.5 972.7,259.9 971.7,259.5 970.7,260.1 969.7,261.6 968.7,259.9 967.7,259.6 966.7,260.5 965.7,260.3 964.7,260.4 963.7,260.0 962.7,260.6 961.7,259.4 960.7,259.0 959.7,259.1 958.7,259.5 957.7,260.1 956.7,259.1 955.7,260.5 954.7,259.7 953.7,259.8 952.7,260.4 951.7,258.9 950.7,259.7 949.7,259.9 948.7,259.6 947.7,258.7 946.7,258.8 945.7,259.1 944.7,258.4 943.7,259.9 942.7,258.9 941.7,259.0 940.7,259.6 939.7,258.6 938.7,258.6 937.7,258.8 936.7,258.9 935.7,258.1 934.7,258.2 933.7,258.2 932.7,258.7 931.7,259.0 930.7,257.8 929.7,258.3 928.7,259.8 927.7,257.6 926.7,260.3 925.7,257.6 924.7,257.6 923.7,258.7 922.7,257.3 921.7,257.8 920.7,258.6 919.7,259.0 918.7,257.5 917.7,257.7 916.7,256.9 915.7,260.2 914.7,257.5 913.7,258.6 912.7,257.5 911.7,256.6 910.7,256.9 909.7,257.3 908.7,257.1 907.7,256.4 906.7,257.0 905.7,257.2 904.7,257.4 903.7,257.5 902.7,256.0 901.7,257.7 900.7,256.4 899.7,256.4 898.7,257.0 897.7,256.4 896.7,257.1 895.7,257.2 894.7,256.3 893.7,256.6 892.7,256.6 891.7,256.3 890.7,255.3 889.7,255.4 888.7,255.6 887.7,256.7 886.7,255.1 885.7,255.1 884.7,254.8 883.7,254.7 882.7,255.3 881.7,255.6 880.7,254.5 879.7,255.3 878.7,254.7 877.7,254.5 876.7,254.1 875.7,256.1 874.7,255.6 873.7,254.3 872.7,254.4 871.7,253.9 870.7,254.1 869.7,253.6 868.7,253.2 867.7,253.1 866.7,254.5 865.7,253.1 864.7,253.9 863.7,254.0 862.7,253.4 861.7,252.2 860.7,252.4 859.7,254.1 858.7,252.9 857.7,252.4 856.7,252.5 855.7,253.9 854.7,251.1 853.7,252.7 852.7,251.2 851.7,251.0 850.7,250.6 849.7,250.7 848.7,255.8 847.7,250.1 846.7,250.4 845.7,251.4 844.7,252.1 843.7,250.2 842.7,249.4 841.7,249.8 840.7,249.0 839.7,249.4 838.7,249.7 837.7,248.8 836.7,248.6 835.7,248.2 834.7,248.0 833.7,253.8 832.7,247.5 831.7,247.4 830.7,247.2 829.7,251.2 828.7,247.8 827.7,247.2 826.7,248.2 825.7,247.5 824.7,246.3 823.7,247.7 822.7,247.3 821.7,245.9 820.7,245.9 819.7,245.7 818.7,247.8 817.7,244.8 816.7,244.3 815.7,245.4 814.7,244.2 813.7,244.4 812.7,244.3 811.7,245.5 810.7,243.8 809.7,243.1 808.7,243.7 807.7,243.4 806.7,242.1 805.7,244.5 804.7,241.8 803.7,242.0 802.7,242.5 801.7,241.0 800.7,243.0 799.7,240.3 798.7,239.8 797.7,240.7 796.7,239.2 795.7,241.2 794.7,239.2 793.7,239.5 792.7,238.2 791.7,237.9 790.7,237.8 789.7,237.6 788.7,237.6 787.7,237.4 786.7,237.6 785.7,235.6 784.7,236.8 783.7,235.3 782.7,235.9 781.7,235.6 780.7,234.1 779.7,235.5 778.7,234.3 777.7,233.9 776.7,232.0 775.7,232.8 774.7,231.5 773.7,232.2 772.7,232.0 771.7,230.5 770.7,229.3 769.7,229.4 768.7,229.8 767.7,230.2 766.7,227.4 765.7,227.1 764.7,226.6 763.7,228.4 762.7,225.7 761.7,225.8 760.7,223.8 759.7,223.5 758.7,223.7 757.7,223.1 756.7,223.5 755.7,222.9 754.7,222.4 753.7,221.3 752.7,220.9 751.7,219.7 750.7,222.0 749.7,218.3 748.7,218.1 747.7,219.9 746.7,217.2 745.7,217.2 744.7,217.3 743.7,216.2 742.7,216.1 741.7,214.7 740.7,215.6 739.7,213.3 738.7,212.8 737.7,213.2 736.7,214.1 735.7,213.1 734.7,210.3 733.7,210.7 732.7,210.7 731.7,210.3 730.7,209.1 729.7,210.8 728.7,207.3 727.7,206.6 726.7,207.2 725.7,206.9 724.7,206.3 723.7,204.0 722.6,204.0 721.6,203.8 720.6,204.8 719.6,202.4 718.6,201.5 717.6,200.8 716.6,199.5 715.6,199.5 714.6,197.8 713.6,197.7 712.6,196.2 711.6,197.2 710.6,195.1 709.6,195.0 708.6,192.5 707.6,192.0 706.6,191.9 705.6,190.4 704.6,190.7 703.6,188.3 702.6,188.8 701.6,187.5 700.6,186.2 699.6,187.0 698.6,184.9 697.6,185.8 696.6,183.9 695.6,185.1 694.6,182.5 693.6,181.0 692.6,178.7 691.6,180.8 690.6,176.6 689.6,175.4 688.6,174.3 687.6,172.4 686.6,168.9 685.6,168.9 684.6,168.4 683.6,166.8 682.6,166.3 681.6,165.3 680.6,165.1 679.6,162.4 678.6,162.8 677.6,160.8 676.6,159.4 675.6,157.0 674.6,156.5 673.6,155.5 672.6,156.6 671.6,152.8 670.6,152.1 669.6,150.7 668.6,148.7 667.6,148.2 666.6,148.9 665.6,146.3 664.6,144.9 663.6,143.8 662.6,145.5 661.6,140.9 660.6,141.0 659.6,139.9 658.6,138.2 657.6,140.8 656.6,137.2 655.6,136.8 654.6,136.9 653.6,137.5 652.6,136.2 651.6,135.0 650.6,135.5 649.6,133.7 648.6,133.4 647.6,135.0 646.6,132.5 645.6,133.9 644.6,133.5 643.6,131.4 642.6,132.5 641.6,131.1 640.6,131.9 639.6,130.6 638.6,131.1 637.6,130.5 636.6,131.7 635.6,133.0 634.6,135.2 633.6,131.4 632.6,131.4 631.6,132.0 630.6,134.8 629.6,132.0 628.6,131.4 627.6,133.4 626.6,134.4 625.6,134.5 624.6,133.8 623.6,134.6 622.6,136.3 621.6,135.3 620.6,138.4 619.6,135.6 618.6,136.7 617.6,142.1 616.6,137.4 615.6,139.2 614.6,140.3 613.6,140.2 612.6,139.5 611.6,139.4 610.6,140.5 609.6,142.1 608.6,141.9 607.6,142.6 606.6,141.4 605.6,143.2 604.6,143.4 603.6,143.6 602.6,143.8 601.6,144.7 600.6,146.3 599.6,147.4 598.6,146.6 597.6,147.0 596.6,147.6 595.6,148.5 594.6,149.0 593.6,150.4 592.6,153.1 591.6,150.6 590.6,151.0 589.6,151.7 588.6,154.4 587.6,153.7 586.6,153.7 585.6,156.2 584.6,154.8 583.6,158.4 582.6,156.0 581.6,157.5 580.6,157.4 579.6,158.8 578.6,159.5 577.6,160.1 576.6,163.7 575.6,161.8 574.6,163.1 573.6,164.2 572.6,163.6 571.6,164.9 570.6,166.6 569.6,165.9 568.6,167.6 567.6,168.4 566.6,168.2 565.6,169.9 564.6,169.3 563.6,170.9 562.6,171.0 561.6,173.8 560.6,172.0 559.6,173.6 558.6,177.0 557.6,173.8 556.6,175.6 555.6,175.2 554.6,176.6 553.6,177.1 552.6,178.0 551.6,178.5 550.6,178.7 549.6,181.5 548.6,180.2 547.6,179.3 546.6,180.0 545.6,180.7 544.6,182.3 543.6,181.9 542.6,182.7 541.6,184.3 540.6,183.0 539.6,185.1 538.6,184.7 537.6,188.2 536.6,184.8 535.6,185.2 534.6,186.2 533.6,188.8 532.6,187.3 531.6,187.5 530.6,187.8 529.6,191.3 528.6,188.8 527.6,189.1 526.6,190.9 525.6,190.6 524.6,191.6 523.6,191.4 522.6,192.5 521.6,195.4 520.6,192.4 519.6,194.0 518.6,195.4 517.6,194.5 516.6,195.2 515.6,196.2 514.6,197.5 513.6,198.6 512.6,196.4 511.6,197.9 510.6,197.5 509.6,198.8 508.6,199.3 507.6,199.4 506.6,200.8 505.6,199.4 504.6,202.9 503.6,201.1 502.6,200.7 501.6,200.9 500.6,201.2 499.6,203.0 498.6,203.8 497.6,202.2 496.6,203.8 495.6,203.1 494.6,205.4 493.6,203.3 492.6,205.7 491.6,205.3 490.6,205.7 489.6,206.7 488.6,210.5 487.6,206.4 486.6,204.9 485.6,209.4 484.6,205.6 483.6,206.7 482.6,207.9 481.6,207.5 480.6,207.8 479.6,209.1 478.6,207.4 477.6,207.1 476.6,207.8 475.6,207.6 474.6,209.8 473.6,207.9 472.6,209.7 471.6,210.1 470.6,208.2 469.6,208.7 468.6,212.0 467.6,211.3 466.6,213.1 465.6,209.6 464.6,211.2 463.6,209.2 462.6,209.5 461.6,208.7 460.6,209.2 459.6,209.9 458.6,210.6 457.6,212.0 456.6,211.1 455.6,209.6 454.6,209.1 453.6,209.1 452.6,209.9 451.6,210.0 450.6,210.4 449.6,209.7 448.6,210.1 447.5,211.1 446.5,210.3 445.5,209.8 444.5,211.8 443.5,211.0 442.5,211.1 441.5,213.5 440.5,210.3 439.5,209.6 438.5,211.6 437.5,210.5 436.5,212.1 435.5,210.0 434.5,211.8 433.5,211.1 432.5,209.5 431.5,209.8 430.5,210.4 429.5,209.8 428.5,209.7 427.5,210.7 426.5,210.5 425.5,210.4 424.5,209.2 423.5,208.9 422.5,210.2 421.5,213.0 420.5,210.3 419.5,208.8 418.5,209.0 417.5,209.9 416.5,209.3 415.5,209.4 414.5,209.5 413.5,208.9 412.5,208.9 411.5,208.6 410.5,209.6 409.5,207.9 408.5,208.6 407.5,209.2 406.5,209.7 405.5,209.5 404.5,210.5 403.5,207.7 402.5,208.4 401.5,210.9 400.5,207.2 399.5,208.9 398.5,207.3 397.5,207.6 396.5,207.9 395.5,209.1 394.5,206.9 393.5,207.0 392.5,206.9 391.5,208.2 390.5,209.1 389.5,210.7 388.5,210.9 387.5,207.5 386.5,208.9 385.5,208.9 384.5,208.8 383.5,207.0 382.5,207.7 381.5,209.1 380.5,209.9 379.5,207.8 378.5,207.6 377.5,208.6 376.5,207.0 375.5,206.4 374.5,207.8 373.5,206.5 372.5,208.5 371.5,206.9 370.5,209.0 369.5,206.8 368.5,207.1 367.5,207.1 366.5,206.6 365.5,206.6 364.5,207.4 363.5,206.7 362.5,207.3 361.5,207.3 360.5,206.9 359.5,209.9 358.5,208.4 357.5,208.1 356.5,207.9 355.5,207.5 354.5,206.5 353.5,207.3 352.5,208.8 351.5,206.5 350.5,208.7 349.5,207.3 348.5,209.2 347.5,209.1 346.5,208.6 345.5,209.8 344.5,211.0 343.5,209.7 342.5,212.2 341.5,213.8 340.5,211.4 339.5,212.0 338.5,213.8 337.5,212.8 336.5,215.8 335.5,217.1 334.5,214.7 333.5,217.7 332.5,217.3 331.5,221.1 330.5,222.3 329.5,223.1 328.5,222.9 327.5,224.8 326.5,223.2 325.5,226.5 324.5,225.8 323.5,222.5 322.5,221.6 321.5,221.4 320.5,218.8 319.5,219.2 318.5,218.6 317.5,217.2 316.5,216.4 315.5,217.7 314.5,216.0 313.5,213.9 312.5,211.3 311.5,209.3 310.5,213.8" fill="#404040"/><path d="M1680 254 L1698 254" stroke="#555" stroke-width="2.5"/>
<g fill="none" stroke="#800080" stroke-width="16" stroke-linejoin="round" stroke-linecap="butt"><path d="M310.6 437.9L312.6 438.7 314.6 437.5 316.6 436.4 318.6 435.7 320.6 436 322.6 435.2 324.6 433.7 326.6 435.5 328.6 433.7 330.6 433 332.6 433.8 334.6 432.9 336.6 431.4 338.6 431.5 340.6 429.6 342.6 429.6 344.6 427.6 346.6 430.3 348.6 427 350.6 428.9 352.6 427.1 354.6 426.5 356.6 426.8 358.6 426.7 360.6 426.5 362.6 427.1 364.6 425.3 366.6 425.3 368.6 423.5 370.6 424.2 372.6 423.3 374.6 422.3 376.6 422.2 378.6 421.8 380.6 421.7 382.6 421.6 384.6 420.4 386.6 419.9 388.6 421 390.6 418.5 392.6 419.3 394.6 421 396.6 416.9 398.6 418.5 400.6 419.5 402.6 417.2 404.6 420.7 406.6 415.8 408.6 419.2 410.6 419 412.6 418.2 414.6 416.8 416.6 417.1 418.6 415.6 420.6 416.8 422.6 414.8 424.6 415.2 426.6 416 428.6 413.8 430.6 414.1 432.6 414.3 434.6 412.6 436.6 414.5 438.6 413.4 440.6 411.3 442.6 412.3 444.6 411.3 446.7 411 448.7 411.3 450.7 410.2 452.7 411.2 454.7 409.3 456.7 410.4 458.7 409 460.7 409.4 462.7 407.7 464.7 407.4 466.7 406.4 468.7 407.7 470.7 407.7 472.7 408.5 474.7 407.5 476.7 406.3 478.7 405.6 480.7 405.8 482.7 405.2 484.7 406.3 486.7 405.5 488.7 403.5 490.7 403.3 492.7 404.9 494.7 403.6 496.7 402.8 498.7 403.7 500.7 401.9 502.7 401.6 504.7 401.1 506.7 399.3 508.7 401.4 510.7 399 512.7 398.9 514.7 398.1 516.7 398.6 518.7 397 520.7 396.1 522.7 393.5 524.7 393.9 526.7 391.4 528.7 391.9 530.7 390.8 532.7 389.2 534.7 389.5 536.7 386.3 538.7 384.5 540.7 382.2 542.7 380.1 544.7 379.5 546.7 378 548.7 374.1 550.7 374.4 552.7 371.9 554.7 370 556.7 366.6 558.7 361.8 560.7 358.4 562.7 357.6 564.7 352.7 566.7 348 568.7 346.6 570.7 343 572.7 338.7 574.7 335.4 576.7 333 578.7 331.7 580.7 328.3 582.7 325 584.7 322.3 586.7 319.4 588.7 313.8 590.7 312.2 592.7 308.6 594.7 305.1 596.7 302.5 598.7 299.5 600.7 295.8 602.7 290.8 604.7 287.5 606.7 285.4 608.7 278.2 610.7 273.3 612.7 270.8 614.7 267 616.7 262.8 618.7 257.2 620.7 254.5 622.7 247.9 624.7 242.3 626.7 237.3 628.7 232.5 630.7 227.6 632.7 221.7 634.7 216 636.7 213.1 638.7 209.1 640.7 206.6 642.7 201.5 644.7 200.9 646.7 206.6 648.7 208.4 650.7 213 652.7 216.5 654.7 220.1 656.7 224.1 658.7 228.3 660.7 224.2 662.7 228.1 664.7 226.2 666.7 219.1 668.7 213.8 670.7 210.3 672.7 207 674.7 199.6 676.7 196.3 678.7 191.7 680.7 193.7 682.7 199.8 684.7 209.3 686.7 218.3 688.7 232.2 690.7 246.5 692.7 258.9 694.7 269.5 696.7 276.4 698.7 281.4 700.7 288.5 702.7 289.7 704.7 290.2 706.7 294 708.7 293.1 710.7 294.2 712.7 293.5 714.7 293.3 716.7 292.6 718.7 291.4 720.7 291.2 722.7 291.2 724.7 285.2 726.7 286.3 728.7 288.4 730.7 289.6 732.7 291.9 734.7 297.7 736.7 297.9 738.7 303.2 740.7 305.5 742.7 309.4 744.7 314.9 746.7 322 748.7 331.9 750.7 340.2 752.7 346 754.7 350.7 756.7 355.9 758.7 359.1 760.7 360.7 762.7 364.1 764.7 367.8 766.7 369.6 768.7 372.4 770.7 374.3 772.7 377.2 774.7 380 776.7 382.6 778.7 383.6 780.7 387.4 782.7 387.3 784.7 392.1 786.7 391.9 788.7 393.1 790.7 393.9 792.7 393.4 794.7 397.3 796.7 399.2 798.7 402.2 800.7 400.7 802.7 405 804.7 404.5 806.7 406.7 808.8 405.1 810.8 408.9 812.8 409.7 814.8 411.9 816.8 412.6 818.8 412.7 820.8 415.7 822.8 416.5 824.8 417.4 826.8 418.8 828.8 419.8 830.8 419.7 832.8 419.4 834.8 420.2 836.8 423.5 838.8 423.7 840.8 423.9 842.8 424.2 844.8 425.3 846.8 425.9 848.8 426.1 850.8 426.4 852.8 429.5 854.8 428.4 856.8 428.2 858.8 428.1 860.8 429.1 862.8 431 864.8 431.5 866.8 431.1 868.8 431.9 870.8 432 872.8 431.7 874.8 434.3 876.8 433.9 878.8 436.2 880.8 433.7 882.8 434.6 884.8 435.9 886.8 435.2 888.8 434.5 890.8 435.2 892.8 436.4 894.8 436.9 896.8 436.8 898.8 438.1 900.8 438.4 902.8 438.1 904.8 438.1 906.8 438.1 908.8 439.1 910.8 439.7 912.8 439.1 914.8 439.7 916.8 439.2 918.8 438.5 920.8 439 922.8 440.8 924.8 440.7 926.8 441.8 928.8 440.6 930.8 441.4 932.8 441.9 934.8 441.7 936.8 440.3 938.8 440.8 940.8 441.1 942.8 440.2 944.8 441.5 946.8 442.1 948.8 440.8 950.8 443 952.8 441.1 954.8 441.2 956.8 441.2 958.8 440.8 960.8 441.9 962.8 441.6 964.8 443.1 966.8 442.2 968.8 442.2 970.8 441.5 972.8 440.5 974.8 441.7 976.8 441 978.8 442.6 980.8 441.8 982.8 443.3 984.8 442.5 986.8 442.6 988.8 442.1 990.8 442.1 992.8 442.5 994.8 442.8 996.8 441.3 998.8 442.4 1000.8 444.4 1002.8 441.9 1004.8 441.8 1006.8 441.4 1008.8 440.7 1010.8 443.1 1012.8 442.1 1014.8 442.3 1016.8 443.7 1018.8 444.3 1020.8 441.2 1022.8 443 1024.8 442.6 1026.8 442.4 1028.8 442.5 1030.8 442 1032.8 443.5 1034.8 442.6 1036.8 442.4 1038.8 443.2 1040.8 442.9 1042.8 442.5 1044.8 442.4 1046.8 443.7 1048.8 442.6 1050.8 442 1052.8 441.3 1054.8 441.8 1056.8 441.2 1058.8 442.2 1060.8 442.4 1062.8 440.3 1064.8 442.2 1066.8 442.8 1068.8 442.4 1070.8 441.4 1072.8 443.4 1074.8 441.7 1076.8 441.2 1078.8 441.4 1080.8 442.4 1082.8 443.3 1084.8 443.5 1086.8 442.7 1088.8 441.5 1090.8 442 1092.8 441.9 1094.8 442.6 1096.8 441.2 1098.8 442.9 1100.8 443.5 1102.8 442.8 1104.8 443.5 1106.8 442.3 1108.8 441.9 1110.8 442.7 1112.8 444.4 1114.8 444.3 1116.8 443.1 1118.8 444.6 1120.8 443.3 1122.8 445.1 1124.8 444.2 1126.8 443.4 1128.8 444.7 1130.8 443.3 1132.8 443.3 1134.8 442.9 1136.8 444.5 1138.8 444.3 1140.8 444.4 1142.8 444.2 1144.8 445.9 1146.8 444.3 1148.8 444.2 1150.8 446 1152.8 446.3 1154.8 445.4 1156.8 443.6 1158.8 444.7 1160.8 445.9 1162.8 445.5 1164.8 446.9 1166.8 444.4 1168.9 446.3 1170.9 445.2 1172.9 447.1 1174.9 445.9 1176.9 447 1178.9 445.6 1180.9 445 1182.9 445.4 1184.9 445.9 1186.9 445.6 1188.9 447.7 1190.9 448 1192.9 447.1 1194.9 446.1 1196.9 447 1198.9 446.6 1200.9 448.7 1202.9 447.8 1204.9 448.1 1206.9 447.4 1208.9 446.1 1210.9 447.3 1212.9 447.1 1214.9 448.6 1216.9 448.5 1218.9 447.8 1220.9 448.3 1222.9 450.3 1224.9 448.1 1226.9 448.3 1228.9 449.1 1230.9 448.8 1232.9 449.2 1234.9 450.2 1236.9 451.4 1238.9 448.4 1240.9 450.2 1242.9 450.4 1244.9 450.4 1246.9 450.5 1248.9 450.5 1250.9 451.8 1252.9 450.7 1254.9 451.1 1256.9 451.4 1258.9 451.6 1260.9 451.5 1262.9 452.7 1264.9 452 1266.9 452.3 1268.9 452.2 1270.9 451.5 1272.9 451.8 1274.9 451.8 1276.9 453 1278.9 452.4 1280.9 452.2 1282.9 453.5 1284.9 453.9 1286.9 452 1288.9 455.2 1290.9 453.8 1292.9 453.9 1294.9 455 1296.9 454.3 1298.9 453.8 1300.9 456.4 1302.9 453.6 1304.9 454.6 1306.9 455.6 1308.9 454 1310.9 455 1312.9 455.6 1314.9 457.5 1316.9 454.7 1318.9 455.6 1320.9 456.4 1322.9 456 1324.9 454.9 1326.9 456.5 1328.9 456.4 1330.9 456.8 1332.9 457.6 1334.9 457.6 1336.9 457.2 1338.9 457.2 1340.9 456.1 1342.9 457.1 1344.9 457.5 1346.9 457.1 1348.9 457.7 1350.9 457 1352.9 459.2 1354.9 459.9 1356.9 457.8 1358.9 458.6 1360.9 458.1 1362.9 459.6 1364.9 459 1366.9 458.8 1368.9 458.6 1370.9 459.1 1372.9 458.2 1374.9 459.8 1376.9 458.7 1378.9 459.9 1380.9 459.7 1382.9 460.6 1384.9 459.8 1386.9 460.8 1388.9 459.2 1390.9 460.6 1392.9 460 1394.9 460.5 1396.9 460.5 1398.9 461.4 1400.9 458.8 1402.9 461 1404.9 459.5 1406.9 462 1408.9 459.2 1410.9 460.2 1412.9 459.7 1414.9 462.7 1416.9 460.2 1418.9 461.5 1420.9 461 1422.9 460 1424.9 461.4 1426.9 462.4 1428.9 461.7 1430.9 462.8 1432.9 461.7 1434.9 462.1 1436.9 461.8 1438.9 462.6 1440.9 464 1442.9 462.7 1444.9 462.7 1446.9 462 1448.9 462 1450.9 464 1452.9 461.8 1454.9 462 1456.9 462.8 1458.9 462.6 1460.9 464.8 1462.9 461 1464.9 463.5 1466.9 463.9 1468.9 462.3 1470.9 462.8 1472.9 463.9 1474.9 465 1476.9 462.8 1478.9 462.3 1480.9 464.6 1482.9 465.2 1484.9 463.6 1486.9 461.9 1488.9 465.3 1490.9 463.9 1492.9 465.1 1494.9 464.2 1496.9 463.9 1498.9 463.9 1500.9 465.7 1502.9 465.7 1504.9 462.6 1506.9 463.7 1508.9 466.2 1510.9 464.4 1512.9 463.5 1514.9 464.8 1516.9 464.8 1518.9 464.8 1520.9 464.5 1522.9 464.8 1524.9 464.7 1526.9 465.5 1528.9 464.5 1531 465 1533 465.2 1535 466.6 1537 465.8 1539 465.4 1541 466 1543 466 1545 466.6 1547 466.2 1549 467.4 1551 467 1553 465.8 1555 465.5 1557 466.8 1559 466.5 1561 466 1563 464.8 1565 464.5 1567 466.5 1569 466.9 1571 467 1573 465.2 1575 467.3 1577 465.9 1579 466.8 1581 466.9 1583 465.8 1585 466.1 1587 464.8 1589 465.9 1591 465.1 1593 467.2 1595 466.9 1597 467.7 1599 467.2 1601 466.4 1603 467.3 1605 466.7 1607 467.7 1609 467.4 1611 466.3 1613 467.2 1615 467.3 1617 467.1 1619 468.2 1621 469 1623 467.2 1625 467.2 1627 465.6 1629 467.5 1631 467.3 1633 465.8 1635 468 1637 468.4 1639 467.2 1641 467.6 1643 467.1 1645 468.7 1647 466.7 1649 467.9 1651 470 1653 468.3 1655 468.7 1657 468.2 1659 467.4 1661 468.5 1663 468.9 1665 467.7 1667 469 1669 469.9 1671 469.8 1673 467.4 1675 468.1 1677 467.5 1679 470 1681 469.7 1683 469.8 1685 468.5 1687 468.3 1689 469.5 1691 469.6 1693 468.8"/><path d="M310.6 445.2L312.6 445 314.6 444 316.6 442.3 318.6 440.8 320.6 442 322.6 441.9 324.6 441 326.6 440.3 328.6 439.6 330.6 440.4 332.6 439.2 334.6 438.9 336.6 437.5 338.6 437.3 340.6 437.6 342.6 436.1 344.6 435.4 346.6 435.8 348.6 436.7 350.6 435.3 352.6 436 354.6 434.1 356.6 433.5 358.6 432 360.6 432.3 362.6 433.6 364.6 432.1 366.6 432 368.6 431.5 370.6 430.4 372.6 429.8 374.6 429.7 376.6 429.8 378.6 429.3 380.6 429 382.6 428.4 384.6 427.3 386.6 427.4 388.6 426.6 390.6 428.1 392.6 425 394.6 426.5 396.6 428.6 398.6 425.9 400.6 425 402.6 425.7 404.6 426.7 406.6 425.1 408.6 425.5 410.6 424.8 412.6 424 414.6 426.9 416.6 423.8 418.6 423 420.6 422.7 422.6 423.1 424.6 422.8 426.6 422.8 428.6 421.9 430.6 420.2 432.6 421.6 434.6 420.5 436.6 420.1 438.6 418.7 440.6 419.2 442.6 418.7 444.6 418.9 446.7 417.2 448.7 418.2 450.7 417.8 452.7 416.2 454.7 416.3 456.7 415.6 458.7 416.8 460.7 413.3 462.7 414.9 464.7 413.3 466.7 414.1 468.7 415 470.7 413.3 472.7 413.8 474.7 412.6 476.7 414.9 478.7 413.7 480.7 413.6 482.7 411.1 484.7 411 486.7 412.6 488.7 411.1 490.7 410.7 492.7 410.9 494.7 409.2 496.7 410.7 498.7 409.6 500.7 409.6 502.7 408.2 504.7 408.8 506.7 407.2 508.7 408.1 510.7 407.6 512.7 406.6 514.7 405.3 516.7 404.4 518.7 400.3 520.7 402.4 522.7 400.2 524.7 399.4 526.7 397.8 528.7 395.5 530.7 394.8 532.7 394.1 534.7 392.9 536.7 389.2 538.7 387.1 540.7 387.4 542.7 383.7 544.7 384.7 546.7 381 548.7 378.2 550.7 377.7 552.7 375.9 554.7 370.2 556.7 369.6 558.7 364.5 560.7 362.6 562.7 357.4 564.7 353 566.7 351.9 568.7 349.3 570.7 347.5 572.7 344.2 574.7 340.3 576.7 336.5 578.7 333.1 580.7 330.2 582.7 326.6 584.7 323.9 586.7 318.6 588.7 317.9 590.7 314.5 592.7 313.7 594.7 308.9 596.7 304.5 598.7 301.9 600.7 296.5 602.7 293 604.7 287.5 606.7 286.1 608.7 281 610.7 275 612.7 271.9 614.7 268.7 616.7 264.2 618.7 259.7 620.7 253.9 622.7 249 624.7 244.2 626.7 239.6 628.7 232.7 630.7 226.8 632.7 223.1 634.7 216.5 636.7 215.2 638.7 211.5 640.7 209.8 642.7 210 644.7 209.1 646.7 209.3 648.7 210.6 650.7 214.5 652.7 218.9 654.7 223.4 656.7 227.4 658.7 232.2 660.7 233.9 662.7 230.1 664.7 226.2 666.7 220.1 668.7 214.9 670.7 210 672.7 207.4 674.7 200.9 676.7 198.5 678.7 195.6 680.7 196.6 682.7 199.2 684.7 209.8 686.7 217.4 688.7 231.9 690.7 248.3 692.7 259 694.7 270.1 696.7 276.7 698.7 281.2 700.7 288.7 702.7 292.7 704.7 294 706.7 297.7 708.7 298.7 710.7 299.9 712.7 300.3 714.7 298.9 716.7 300.7 718.7 296.1 720.7 296.3 722.7 294.7 724.7 291.4 726.7 291.8 728.7 293.7 730.7 293.7 732.7 296.4 734.7 299.5 736.7 300.6 738.7 302.4 740.7 304.1 742.7 310.7 744.7 314.4 746.7 322.1 748.7 331.4 750.7 339 752.7 348.3 754.7 352.7 756.7 356.8 758.7 358.9 760.7 363.2 762.7 366.3 764.7 369.5 766.7 371.7 768.7 375.9 770.7 378.3 772.7 380.9 774.7 382.4 776.7 386.3 778.7 387.4 780.7 386.8 782.7 390.6 784.7 393.1 786.7 395.9 788.7 396.5 790.7 398.3 792.7 399.7 794.7 402.5 796.7 403.1 798.7 404.5 800.7 405.9 802.7 408.6 804.7 409.1 806.7 409.4 808.8 412.9 810.8 413.1 812.8 415.4 814.8 416.8 816.8 418.8 818.8 419.9 820.8 419.7 822.8 421.3 824.8 421.4 826.8 425.1 828.8 425 830.8 426.9 832.8 426.3 834.8 425.6 836.8 429.8 838.8 429.3 840.8 430.2 842.8 431 844.8 432.2 846.8 432.9 848.8 431.6 850.8 434.6 852.8 433.8 854.8 434.4 856.8 436.9 858.8 436.8 860.8 436.2 862.8 435.4 864.8 437.7 866.8 438.6 868.8 438.5 870.8 438 872.8 438.9 874.8 438.9 876.8 440.7 878.8 441.6 880.8 442.2 882.8 441 884.8 442.3 886.8 442.9 888.8 442.3 890.8 442.9 892.8 445.3 894.8 443.9 896.8 444.8 898.8 443.9 900.8 444.6 902.8 443.3 904.8 445.1 906.8 446.5 908.8 447.5 910.8 447 912.8 446.8 914.8 446.5 916.8 446.1 918.8 446.7 920.8 447.6 922.8 446.5 924.8 448.3 926.8 446.7 928.8 446.1 930.8 446.9 932.8 446.4 934.8 446.8 936.8 449.1 938.8 447.9 940.8 448.4 942.8 449.3 944.8 449.4 946.8 447.9 948.8 449.6 950.8 448.8 952.8 448.5 954.8 449 956.8 447.3 958.8 448 960.8 448.6 962.8 449.3 964.8 448.5 966.8 448.7 968.8 449.7 970.8 450.2 972.8 449.6 974.8 450.1 976.8 448.6 978.8 448.7 980.8 449.3 982.8 448.8 984.8 448.6 986.8 450.6 988.8 448.9 990.8 448.2 992.8 449.6 994.8 450.8 996.8 449.2 998.8 450.3 1000.8 448.8 1002.8 448.8 1004.8 448.6 1006.8 449.1 1008.8 450.9 1010.8 448.2 1012.8 450.7 1014.8 448.3 1016.8 449 1018.8 450 1020.8 449.8 1022.8 449.5 1024.8 447.7 1026.8 449.5 1028.8 448.3 1030.8 451.5 1032.8 449 1034.8 449.4 1036.8 448.2 1038.8 448.8 1040.8 448.1 1042.8 450.2 1044.8 449 1046.8 449.8 1048.8 448.7 1050.8 448.8 1052.8 450.5 1054.8 448.4 1056.8 447.7 1058.8 449.7 1060.8 448.3 1062.8 449 1064.8 450.2 1066.8 448.6 1068.8 450.2 1070.8 448.8 1072.8 450.8 1074.8 450.7 1076.8 449.1 1078.8 449.4 1080.8 448.8 1082.8 449.8 1084.8 450.7 1086.8 448.4 1088.8 450.6 1090.8 448.6 1092.8 449.1 1094.8 448.3 1096.8 451.9 1098.8 450.1 1100.8 450.3 1102.8 449.6 1104.8 451.2 1106.8 448.4 1108.8 450.4 1110.8 452.4 1112.8 450.2 1114.8 450.6 1116.8 451.3 1118.8 450 1120.8 450.8 1122.8 451.7 1124.8 451.1 1126.8 451.4 1128.8 450.8 1130.8 451.5 1132.8 451.3 1134.8 452.7 1136.8 452.1 1138.8 451.3 1140.8 449.4 1142.8 452.4 1144.8 452.5 1146.8 451.1 1148.8 450.2 1150.8 451.1 1152.8 453 1154.8 451.3 1156.8 451.9 1158.8 452.6 1160.8 453.6 1162.8 452.6 1164.8 452.6 1166.8 452.3 1168.9 454.4 1170.9 454 1172.9 453 1174.9 451.9 1176.9 452.6 1178.9 453.9 1180.9 452.8 1182.9 454.3 1184.9 454 1186.9 454 1188.9 454.4 1190.9 454.4 1192.9 453.3 1194.9 453.9 1196.9 456.4 1198.9 453.3 1200.9 454.1 1202.9 455.6 1204.9 454.6 1206.9 454.2 1208.9 453.9 1210.9 455.7 1212.9 456.2 1214.9 456.7 1216.9 455.6 1218.9 456.7 1220.9 454.9 1222.9 456.2 1224.9 455.5 1226.9 456.4 1228.9 457.1 1230.9 457.5 1232.9 455.8 1234.9 458 1236.9 456.6 1238.9 456.3 1240.9 457.2 1242.9 456.2 1244.9 457.6 1246.9 458 1248.9 457.8 1250.9 458.6 1252.9 458 1254.9 458.4 1256.9 457.2 1258.9 458.7 1260.9 458.1 1262.9 458.6 1264.9 459.1 1266.9 459.5 1268.9 458 1270.9 458.2 1272.9 459.5 1274.9 460.3 1276.9 460.3 1278.9 461 1280.9 461.5 1282.9 460.9 1284.9 460.6 1286.9 459.8 1288.9 460 1290.9 460.6 1292.9 461.4 1294.9 461.4 1296.9 461.4 1298.9 461.4 1300.9 462.2 1302.9 461.9 1304.9 462.2 1306.9 462.3 1308.9 461.7 1310.9 461.3 1312.9 462.8 1314.9 462.9 1316.9 462.5 1318.9 462.4 1320.9 465 1322.9 462.4 1324.9 463 1326.9 463.6 1328.9 462.4 1330.9 463.7 1332.9 465.3 1334.9 464.7 1336.9 464.6 1338.9 464.7 1340.9 464.3 1342.9 465.2 1344.9 464.4 1346.9 464.3 1348.9 464.9 1350.9 465.7 1352.9 465.3 1354.9 465.8 1356.9 463.5 1358.9 466.5 1360.9 467.6 1362.9 466.9 1364.9 465.5 1366.9 465.1 1368.9 466.3 1370.9 465.2 1372.9 466.9 1374.9 465.9 1376.9 467.4 1378.9 467.8 1380.9 464.9 1382.9 467.1 1384.9 466.3 1386.9 465.8 1388.9 466.6 1390.9 467.1 1392.9 468.3 1394.9 466.1 1396.9 468.5 1398.9 469.5 1400.9 468.3 1402.9 468.4 1404.9 468 1406.9 467 1408.9 468.7 1410.9 468.6 1412.9 469 1414.9 470.8 1416.9 469.2 1418.9 469 1420.9 470.1 1422.9 467.6 1424.9 467.8 1426.9 468.6 1428.9 468.5 1430.9 469.7 1432.9 468.9 1434.9 470.8 1436.9 470.7 1438.9 470.1 1440.9 469.2 1442.9 470.1 1444.9 470.4 1446.9 468.8 1448.9 470.1 1450.9 470.5 1452.9 470.2 1454.9 471.5 1456.9 471.2 1458.9 469.4 1460.9 470.4 1462.9 469.6 1464.9 470.9 1466.9 469.7 1468.9 471.4 1470.9 471 1472.9 471.5 1474.9 470.6 1476.9 469.5 1478.9 472.5 1480.9 470.8 1482.9 472.2 1484.9 471.5 1486.9 471.7 1488.9 472.8 1490.9 471.6 1492.9 472.6 1494.9 470.1 1496.9 472.2 1498.9 471.3 1500.9 471.5 1502.9 471.6 1504.9 472 1506.9 473.2 1508.9 470.1 1510.9 471.9 1512.9 471.3 1514.9 473 1516.9 471.7 1518.9 472.5 1520.9 471.8 1522.9 472.8 1524.9 473.2 1526.9 472 1528.9 472.4 1531 471.2 1533 472.8 1535 473.3 1537 472.1 1539 473.7 1541 470.9 1543 471.1 1545 471.6 1547 472.5 1549 473 1551 472.9 1553 473 1555 473.8 1557 472.7 1559 472.1 1561 472.1 1563 475.2 1565 471.2 1567 473.2 1569 474.8 1571 473.9 1573 472.8 1575 473.6 1577 474.4 1579 474.8 1581 472.9 1583 474.4 1585 474 1587 474.8 1589 475.1 1591 473.6 1593 472.7 1595 474.4 1597 475.7 1599 474.7 1601 474.4 1603 476.4 1605 473.3 1607 475.1 1609 473.8 1611 474.4 1613 474.5 1615 475.9 1617 473.7 1619 474.1 1621 473.2 1623 475.1 1625 474.3 1627 475.2 1629 473.9 1631 474.6 1633 475.9 1635 474.8 1637 475.6 1639 475.6 1641 474.8 1643 473.8 1645 476.1 1647 475.4 1649 476.2 1651 473.6 1653 474 1655 473.6 1657 474.8 1659 476.6 1661 476.2 1663 475.7 1665 475.9 1667 476.6 1669 475.7 1671 476.4 1673 476.2 1675 474.2 1677 475.8 1679 477.5 1681 476 1683 476.3 1685 475.9 1687 476.1 1689 477.6 1691 476.4 1693 475.8"/><path d="M310.6 441.8L312.6 441.1 314.6 440.5 316.6 439.9 318.6 439.4 320.6 438.9 322.6 438.3 324.6 437.8 326.6 437.3 328.6 436.8 330.6 436.4 332.6 435.9 334.6 435.4 336.6 434.9 338.6 434.5 340.6 434 342.6 433.6 344.6 433.1 346.6 432.6 348.6 432.2 350.6 431.7 352.6 431.3 354.6 430.8 356.6 430.3 358.6 429.9 360.6 429.4 362.6 428.9 364.6 428.4 366.6 427.9 368.6 427.5 370.6 427 372.6 426.6 374.6 426.1 376.6 425.7 378.6 425.4 380.6 425 382.6 424.7 384.6 424.4 386.6 424.1 388.6 423.9 390.6 423.6 392.6 423.4 394.6 423.1 396.6 422.9 398.6 422.7 400.6 422.4 402.6 422.2 404.6 422 406.6 421.7 408.6 421.4 410.6 421.2 412.6 420.9 414.6 420.6 416.6 420.2 418.6 419.9 420.6 419.6 422.6 419.3 424.6 419 426.6 418.6 428.6 418.3 430.6 418 432.6 417.6 434.6 417.3 436.6 416.9 438.6 416.5 440.6 416.2 442.6 415.8 444.6 415.5 446.7 415.1 448.7 414.7 450.7 414.3 452.7 413.8 454.7 413.4 456.7 412.9 458.7 412.5 460.7 412.1 462.7 411.7 464.7 411.3 466.7 411 468.7 410.7 470.7 410.4 472.7 410.1 474.7 409.8 476.7 409.6 478.7 409.3 480.7 409 482.7 408.7 484.7 408.4 486.7 408.1 488.7 407.8 490.7 407.5 492.7 407.1 494.7 406.8 496.7 406.5 498.7 406.1 500.7 405.7 502.7 405.3 504.7 404.9 506.7 404.4 508.7 403.9 510.7 403.3 512.7 402.6 514.7 401.8 516.7 400.9 518.7 399.9 520.7 398.9 522.7 397.8 524.7 396.6 526.7 395.4 528.7 394.2 530.7 392.9 532.7 391.4 534.7 389.6 536.7 387.8 538.7 385.9 540.7 384.1 542.7 382.4 544.7 380.7 546.7 379 548.7 377.1 550.7 375.2 552.7 372.9 554.7 370.3 556.7 367.2 558.7 363.8 560.7 360.3 562.7 356.8 564.7 353.5 566.7 350.4 568.7 347.4 570.7 344.4 572.7 341.5 574.7 338.6 576.7 335.6 578.7 332.5 580.7 329.4 582.7 326.3 584.7 323.1 586.7 319.9 588.7 316.7 590.7 313.5 592.7 310.4 594.7 307.2 596.7 304 598.7 300.5 600.7 296.8 602.7 292.8 604.7 288.6 606.7 284.2 608.7 279.8 610.7 275.5 612.7 271.2 614.7 267.1 616.7 263 618.7 258.8 620.7 254.2 622.7 249.1 624.7 243.7 626.7 238.3 628.7 233 630.7 227.4 632.7 221.6 634.7 216.7 636.7 213.2 638.7 210.1 640.7 207.4 642.7 205.6 644.7 205.4 646.7 207.3 648.7 210.6 650.7 214.2 652.7 217.4 654.7 221.3 656.7 225.3 658.7 228.6 660.7 230.1 662.7 228.6 664.7 224.7 666.7 219.6 668.7 214.4 670.7 210.3 672.7 205.9 674.7 201.2 676.7 197.1 678.7 194.4 680.7 194.4 682.7 199.9 684.7 208.9 686.7 218.8 688.7 232.2 690.7 247.1 692.7 259.6 694.7 269.8 696.7 276.8 698.7 282.9 700.7 287.7 702.7 291.1 704.7 293.2 706.7 295.1 708.7 296.6 710.7 297.3 712.7 296.9 714.7 296.3 716.7 295.5 718.7 294.7 720.7 293.4 722.7 291.6 724.7 290.2 726.7 289.8 728.7 290.6 730.7 292.3 732.7 294.6 734.7 297.1 736.7 299.6 738.7 302.3 740.7 305.8 742.7 310 744.7 314.8 746.7 321.7 748.7 331 750.7 340.1 752.7 346.3 754.7 351.1 756.7 355.4 758.7 359.2 760.7 362.6 762.7 365.7 764.7 368.7 766.7 371.4 768.7 374.1 770.7 376.6 772.7 379 774.7 381.2 776.7 383.4 778.7 385.4 780.7 387.4 782.7 389.3 784.7 391.2 786.7 393 788.7 394.7 790.7 396.4 792.7 398.1 794.7 399.7 796.7 401.3 798.7 402.8 800.7 404.2 802.7 405.7 804.7 407.1 806.7 408.5 808.8 409.9 810.8 411.2 812.8 412.6 814.8 413.9 816.8 415.1 818.8 416.4 820.8 417.5 822.8 418.7 824.8 419.7 826.8 420.7 828.8 421.7 830.8 422.7 832.8 423.6 834.8 424.5 836.8 425.3 838.8 426.2 840.8 427 842.8 427.7 844.8 428.4 846.8 429.1 848.8 429.7 850.8 430.3 852.8 430.9 854.8 431.5 856.8 432.1 858.8 432.6 860.8 433.2 862.8 433.7 864.8 434.2 866.8 434.7 868.8 435.2 870.8 435.7 872.8 436.1 874.8 436.6 876.8 437 878.8 437.4 880.8 437.8 882.8 438.2 884.8 438.6 886.8 438.9 888.8 439.3 890.8 439.6 892.8 439.9 894.8 440.1 896.8 440.4 898.8 440.7 900.8 441 902.8 441.3 904.8 441.6 906.8 441.8 908.8 442.1 910.8 442.4 912.8 442.6 914.8 442.9 916.8 443.1 918.8 443.3 920.8 443.5 922.8 443.7 924.8 443.8 926.8 444 928.8 444.1 930.8 444.2 932.8 444.3 934.8 444.4 936.8 444.5 938.8 444.5 940.8 444.6 942.8 444.6 944.8 444.7 946.8 444.8 948.8 444.8 950.8 444.9 952.8 444.9 954.8 445 956.8 445 958.8 445.1 960.8 445.1 962.8 445.2 964.8 445.2 966.8 445.2 968.8 445.3 970.8 445.3 972.8 445.3 974.8 445.4 976.8 445.4 978.8 445.4 980.8 445.4 982.8 445.4 984.8 445.4 986.8 445.5 988.8 445.5 990.8 445.5 992.8 445.5 994.8 445.5 996.8 445.6 998.8 445.6 1000.8 445.6 1002.8 445.6 1004.8 445.6 1006.8 445.6 1008.8 445.6 1010.8 445.6 1012.8 445.6 1014.8 445.6 1016.8 445.6 1018.8 445.6 1020.8 445.6 1022.8 445.6 1024.8 445.6 1026.8 445.6 1028.8 445.6 1030.8 445.6 1032.8 445.6 1034.8 445.6 1036.8 445.6 1038.8 445.7 1040.8 445.7 1042.8 445.7 1044.8 445.7 1046.8 445.7 1048.8 445.7 1050.8 445.7 1052.8 445.7 1054.8 445.7 1056.8 445.7 1058.8 445.7 1060.8 445.7 1062.8 445.8 1064.8 445.8 1066.8 445.8 1068.8 445.8 1070.8 445.8 1072.8 445.9 1074.8 445.9 1076.8 445.9 1078.8 446 1080.8 446 1082.8 446 1084.8 446.1 1086.8 446.1 1088.8 446.2 1090.8 446.2 1092.8 446.3 1094.8 446.3 1096.8 446.4 1098.8 446.4 1100.8 446.5 1102.8 446.6 1104.8 446.6 1106.8 446.7 1108.8 446.8 1110.8 446.8 1112.8 446.9 1114.8 447 1116.8 447.1 1118.8 447.1 1120.8 447.2 1122.8 447.3 1124.8 447.4 1126.8 447.4 1128.8 447.5 1130.8 447.6 1132.8 447.7 1134.8 447.8 1136.8 447.9 1138.8 448 1140.8 448 1142.8 448.1 1144.8 448.2 1146.8 448.3 1148.8 448.4 1150.8 448.5 1152.8 448.6 1154.8 448.7 1156.8 448.8 1158.8 448.9 1160.8 448.9 1162.8 449 1164.8 449.1 1166.8 449.2 1168.9 449.3 1170.9 449.4 1172.9 449.5 1174.9 449.6 1176.9 449.7 1178.9 449.8 1180.9 449.9 1182.9 450 1184.9 450.1 1186.9 450.2 1188.9 450.3 1190.9 450.4 1192.9 450.5 1194.9 450.6 1196.9 450.7 1198.9 450.8 1200.9 451 1202.9 451.1 1204.9 451.2 1206.9 451.3 1208.9 451.5 1210.9 451.6 1212.9 451.7 1214.9 451.9 1216.9 452 1218.9 452.1 1220.9 452.3 1222.9 452.4 1224.9 452.6 1226.9 452.7 1228.9 452.9 1230.9 453 1232.9 453.1 1234.9 453.3 1236.9 453.4 1238.9 453.6 1240.9 453.7 1242.9 453.9 1244.9 454 1246.9 454.2 1248.9 454.4 1250.9 454.5 1252.9 454.7 1254.9 454.8 1256.9 455 1258.9 455.1 1260.9 455.3 1262.9 455.4 1264.9 455.6 1266.9 455.7 1268.9 455.9 1270.9 456 1272.9 456.1 1274.9 456.3 1276.9 456.4 1278.9 456.6 1280.9 456.7 1282.9 456.9 1284.9 457 1286.9 457.1 1288.9 457.3 1290.9 457.4 1292.9 457.5 1294.9 457.7 1296.9 457.8 1298.9 457.9 1300.9 458 1302.9 458.2 1304.9 458.3 1306.9 458.4 1308.9 458.6 1310.9 458.7 1312.9 458.8 1314.9 459 1316.9 459.1 1318.9 459.2 1320.9 459.3 1322.9 459.5 1324.9 459.6 1326.9 459.7 1328.9 459.9 1330.9 460 1332.9 460.1 1334.9 460.3 1336.9 460.4 1338.9 460.5 1340.9 460.7 1342.9 460.8 1344.9 460.9 1346.9 461.1 1348.9 461.2 1350.9 461.3 1352.9 461.4 1354.9 461.6 1356.9 461.7 1358.9 461.8 1360.9 461.9 1362.9 462.1 1364.9 462.2 1366.9 462.3 1368.9 462.4 1370.9 462.6 1372.9 462.7 1374.9 462.8 1376.9 462.9 1378.9 463 1380.9 463.1 1382.9 463.2 1384.9 463.4 1386.9 463.5 1388.9 463.6 1390.9 463.7 1392.9 463.8 1394.9 463.9 1396.9 464 1398.9 464.1 1400.9 464.2 1402.9 464.3 1404.9 464.4 1406.9 464.5 1408.9 464.6 1410.9 464.7 1412.9 464.8 1414.9 464.9 1416.9 464.9 1418.9 465 1420.9 465.1 1422.9 465.2 1424.9 465.3 1426.9 465.4 1428.9 465.4 1430.9 465.5 1432.9 465.6 1434.9 465.7 1436.9 465.8 1438.9 465.8 1440.9 465.9 1442.9 466 1444.9 466.1 1446.9 466.2 1448.9 466.2 1450.9 466.3 1452.9 466.4 1454.9 466.4 1456.9 466.5 1458.9 466.6 1460.9 466.7 1462.9 466.7 1464.9 466.8 1466.9 466.9 1468.9 466.9 1470.9 467 1472.9 467.1 1474.9 467.1 1476.9 467.2 1478.9 467.3 1480.9 467.3 1482.9 467.4 1484.9 467.5 1486.9 467.5 1488.9 467.6 1490.9 467.7 1492.9 467.7 1494.9 467.8 1496.9 467.9 1498.9 467.9 1500.9 468 1502.9 468 1504.9 468.1 1506.9 468.2 1508.9 468.2 1510.9 468.3 1512.9 468.3 1514.9 468.4 1516.9 468.5 1518.9 468.5 1520.9 468.6 1522.9 468.6 1524.9 468.7 1526.9 468.8 1528.9 468.8 1531 468.9 1533 468.9 1535 469 1537 469 1539 469.1 1541 469.1 1543 469.2 1545 469.3 1547 469.3 1549 469.4 1551 469.4 1553 469.5 1555 469.5 1557 469.6 1559 469.6 1561 469.7 1563 469.7 1565 469.7 1567 469.8 1569 469.8 1571 469.9 1573 469.9 1575 470 1577 470 1579 470.1 1581 470.1 1583 470.2 1585 470.2 1587 470.3 1589 470.3 1591 470.3 1593 470.4 1595 470.4 1597 470.5 1599 470.5 1601 470.6 1603 470.6 1605 470.7 1607 470.7 1609 470.8 1611 470.8 1613 470.8 1615 470.9 1617 470.9 1619 471 1621 471 1623 471.1 1625 471.1 1627 471.2 1629 471.2 1631 471.3 1633 471.3 1635 471.4 1637 471.4 1639 471.5 1641 471.5 1643 471.6 1645 471.6 1647 471.7 1649 471.7 1651 471.8 1653 471.9 1655 471.9 1657 472 1659 472 1661 472.1 1663 472.2 1665 472.2 1667 472.3 1669 472.3 1671 472.4 1673 472.5 1675 472.5 1677 472.6 1679 472.7 1681 472.7 1683 472.8 1685 472.9 1687 472.9 1689 473 1691 473.1 1693 473.2"/></g>
<path d="M264.6 463.8L266.6 463.2 268.6 462.7 270.6 462.1 272.7 461.6 274.7 461.1 276.7 460.6 278.7 460.1 280.7 459.6 282.7 459.1 284.7 458.6 286.8 458.1 288.8 457.7 290.8 457.2 292.8 456.8 294.8 456.3 296.8 455.9 298.8 455.5 300.9 455.1 302.9 454.7 304.9 454.3 306.9 454 308.9 453.6 310.9 453.3 312.9 453 315 452.7 317 452.4 319 452.1 321 451.9 323 451.6 325 451.4 327 451.1 329 450.8 331.1 450.6 333.1 450.3 335.1 450.1 337.1 449.8 339.1 449.6 341.1 449.3 343.1 449.1 345.2 448.9 347.2 448.7 349.2 448.5 351.2 448.3 353.2 448.1 355.2 447.9 357.2 447.7 359.3 447.6 361.3 447.5 363.3 447.3 365.3 447.2 367.3 447.1 369.3 447.1 371.3 447 373.4 447 375.4 447 377.4 447 379.4 447 381.4 447 383.4 447 385.4 447.1 387.5 447.1 389.5 447.1 391.5 447.2 393.5 447.2 395.5 447.3 397.5 447.3 399.5 447.4 401.6 447.4 403.6 447.5 405.6 447.6 407.6 447.6 409.6 447.7 411.6 447.8 413.6 447.9 415.7 448 417.7 448.1 419.7 448.2 421.7 448.5 423.7 448.8 425.7 449.2 427.7 449.7 429.8 450.2 431.8 450.8 433.8 451.4 435.8 452.1 437.8 452.8 439.8 453.5 441.8 454.2 443.9 454.9 445.9 455.6 447.9 456.3 449.9 457 451.9 457.7 453.9 458.3 455.9 458.9 457.9 459.5 460 460 462 460.6 464 461.1 466 461.6 468 462.1 470 462.6 472 463.2 474.1 463.7 476.1 464.2 478.1 464.7 480.1 465.2 482.1 465.7 484.1 466.2 486.1 466.7 488.2 467.2 490.2 467.7 492.2 468.2 494.2 468.7 496.2 469.2 498.2 469.6 500.2 470.1 502.3 470.6 504.3 471.1 506.3 471.5 508.3 472" fill="none" stroke="#2a9696" stroke-width="6.5" stroke-linejoin="round" stroke-linecap="round" />
<path d="M420.8 474.2L422.8 473.9 424.9 473.5 426.9 473.1 428.9 472.7 431 472.2 433 471.8 435 471.3 437.1 470.8 439.1 470.2 441.1 469.7 443.2 468.9 445.2 468.1 447.3 467.2 449.3 466.4 451.3 465.5 453.4 464.8 455.4 464.2 457.4 463.8 459.5 463.7 461.5 463.6 463.5 463.4 465.6 463.3 467.6 463.3 469.6 463.2 471.7 463.1 473.7 463.1 475.7 463 477.8 463 479.8 463 481.8 463.1 483.9 463.2 485.9 463.5 488 463.9 490 464.4 492 465 494.1 465.6 496.1 466.4 498.1 467.2 500.2 468.1 502.2 469 504.2 470 506.3 471 508.3 472" fill="none" stroke="#2a9696" stroke-width="6.5" stroke-linejoin="round" stroke-linecap="round" />
<path d="M589.5 470.6L591 470.5 592.5 470.4 594 470.3 595.5 470.2 597 470 598.5 469.9 600 469.7 601.6 469.5 603.1 469.3 604.6 469 606.1 468.8 607.6 468.5 609.1 468.1 610.6 467.7 612.1 467.3 613.6 466.7 615.1 466.1 616.6 465.4 618.1 464.6 619.6 463.6 621.1 462.5 622.7 461.3 624.2 459.9 625.7 458.3 627.2 456.5 628.7 454.5 630.2 452.3 631.7 449.9 633.2 447.4 634.7 444.9 636.2 442.3 637.7 439.9 639.2 437.7 640.7 436 642.2 434.9 643.8 434.5 645.3 434.9 646.8 435.9 648.3 437.6 649.8 439.7 651.3 442.2 652.8 444.7 654.3 447.3 655.8 449.8 657.3 452.1 658.8 454.3 660.3 456.3 661.8 458.1 663.3 459.8 664.8 461.2 666.4 462.5 667.9 463.6 669.4 464.5 670.9 465.4 672.4 466.1 673.9 466.7 675.4 467.2 676.9 467.7 678.4 468.1 679.9 468.4 681.4 468.8 682.9 469 684.4 469.3 685.9 469.5 687.5 469.7 689 469.8 690.5 470 692 470.1 693.5 470.3 695 470.4 696.5 470.5 698 470.6" fill="none" stroke="#3030a8" stroke-width="6.5" stroke-linejoin="round" stroke-linecap="round" />
<path d="M636 471.6L637.5 471.5 639 471.5 640.5 471.4 642 471.3 643.5 471.2 645.1 471.1 646.6 471 648.1 470.9 649.6 470.7 651.1 470.5 652.6 470.3 654.1 470 655.6 469.6 657.1 469.1 658.6 468.5 660.1 467.5 661.6 466.3 663.2 464.7 664.7 462.6 666.2 459.9 667.7 456.5 669.2 452.4 670.7 447.7 672.2 442.4 673.7 436.6 675.2 430.8 676.7 425.1 678.2 420.2 679.8 416.6 681.3 414.7 682.8 414.9 684.3 417 685.8 420.9 687.3 426 688.8 431.7 690.3 437.5 691.8 443.2 693.3 448.5 694.8 453.1 696.4 457.1 697.9 460.3 699.4 462.9 700.9 465 702.4 466.5 703.9 467.7 705.4 468.6 706.9 469.2 708.4 469.7 709.9 470 711.4 470.3 712.9 470.5 714.5 470.7 716 470.9 717.5 471 719 471.1 720.5 471.2 722 471.3" fill="none" stroke="#3030a8" stroke-width="6.5" stroke-linejoin="round" stroke-linecap="round" />
<path d="M668 470.6L669.5 470.5 671 470.4 672.5 470.3 674 470.1 675.5 470 677 469.9 678.5 469.8 680 469.6 681.6 469.4 683.1 469.3 684.6 469.1 686.1 468.8 687.6 468.6 689.1 468.3 690.6 468 692.1 467.7 693.6 467.3 695.1 466.9 696.6 466.4 698.1 465.8 699.6 465.1 701.1 464.4 702.6 463.5 704.1 462.4 705.6 461.2 707.2 459.8 708.7 458.1 710.2 456.2 711.7 454.1 713.2 451.7 714.7 449 716.2 446 717.7 442.8 719.2 439.3 720.7 435.6 722.2 431.8 723.7 428.1 725.2 424.5 726.7 421.4 728.2 418.8 729.7 417.2 731.2 416.5 732.8 416.9 734.3 418.4 735.8 420.8 737.3 423.8 738.8 427.3 740.3 431 741.8 434.8 743.3 438.5 744.8 442.1 746.3 445.4 747.8 448.4 749.3 451.2 750.8 453.6 752.3 455.8 753.8 457.8 755.3 459.4 756.8 460.9 758.4 462.2 759.9 463.3 761.4 464.2 762.9 465 764.4 465.7 765.9 466.3 767.4 466.8 768.9 467.2 770.4 467.6 771.9 468 773.4 468.3 774.9 468.6 776.4 468.8 777.9 469 779.4 469.2 780.9 469.4 782.4 469.6 784 469.7 785.5 469.9 787 470 788.5 470.1 790 470.2 791.5 470.3 793 470.4 794.5 470.5 796 470.6" fill="none" stroke="#3030a8" stroke-width="6.5" stroke-linejoin="round" stroke-linecap="round" />
<path d="M264.6 467.9L266.6 467.8 268.6 467.6 270.6 467.5 272.6 467.3 274.6 467.2 276.6 467 278.6 466.9 280.6 466.7 282.6 466.6 284.6 466.4 286.7 466.2 288.7 466.1 290.7 465.9 292.7 465.7 294.7 465.5 296.7 465.4 298.7 465.2 300.7 465 302.7 464.8 304.7 464.6 306.7 464.4 308.7 464.2 310.7 464 312.7 463.8 314.7 463.6 316.7 463.4 318.7 463.2 320.7 463 322.7 462.8 324.7 462.6 326.7 462.4 328.7 462.2 330.8 462 332.8 461.8 334.8 461.5 336.8 461.3 338.8 461.1 340.8 460.9 342.8 460.6 344.8 460.4 346.8 460.2 348.8 459.9 350.8 459.7 352.8 459.4 354.8 459.2 356.8 458.9 358.8 458.7 360.8 458.4 362.8 458.2 364.8 457.9 366.8 457.6 368.8 457.3 370.8 457.1 372.8 456.8 374.9 456.5 376.9 456.2 378.9 455.9 380.9 455.6 382.9 455.3 384.9 455 386.9 454.7 388.9 454.4 390.9 454.1 392.9 453.8 394.9 453.4 396.9 453.1 398.9 452.8 400.9 452.5 402.9 452.1 404.9 451.8 406.9 451.4 408.9 451.1 410.9 450.7 412.9 450.3 414.9 450 416.9 449.6 419 449.2 421 448.8 423 448.4 425 447.9 427 447.5 429 447 431 446.6 433 446.1 435 445.6 437 445.1 439 444.6 441 444.1 443 443.5 445 442.9 447 442.3 449 441.7 451 441.1 453 440.4 455 439.8 457 439.1 459 438.4 461 437.6 463.1 436.9 465.1 436.1 467.1 435.4 469.1 434.6 471.1 433.8 473.1 433 475.1 432.1 477.1 431.3 479.1 430.4 481.1 429.6 483.1 428.7 485.1 427.8 487.1 426.8 489.1 425.8 491.1 424.8 493.1 423.8 495.1 422.8 497.1 421.7 499.1 420.6 501.1 419.5 503.1 418.4 505.1 417.2 507.2 416 509.2 414.8 511.2 413.6 513.2 412.4 515.2 411.1 517.2 409.9 519.2 408.6 521.2 407.2 523.2 405.9 525.2 404.5 527.2 403.1 529.2 401.6 531.2 400.1 533.2 398.6 535.2 397 537.2 395.4 539.2 393.8 541.2 392.1 543.2 390.4 545.2 388.7 547.2 386.9 549.2 385.1 551.3 383.2 553.3 381.3 555.3 379.4 557.3 377.5 559.3 375.5 561.3 373.6 563.3 371.5 565.3 369.4 567.3 367.3 569.3 365.1 571.3 362.8 573.3 360.4 575.3 357.9 577.3 355.4 579.3 352.7 581.3 349.9 583.3 347 585.3 343.7 587.3 340 589.3 336 591.3 331.8 593.3 327.6 595.4 323.7 597.4 319.8 599.4 316 601.4 312.1 603.4 308.3 605.4 304.4 607.4 300.7 609.4 297.1 611.4 293.6 613.4 290.3 615.4 287.1 617.4 283.8 619.4 280.5 621.4 277.3 623.4 274.3 625.4 271.5 627.4 269 629.4 266.9 631.4 265.3 633.4 263.9 635.4 262.6 637.4 261.3 639.5 260.2 641.5 259.2 643.5 258.3 645.5 257.7 647.5 257.3 649.5 257.2 651.5 257.4 653.5 257.7 655.5 258.3 657.5 259.1 659.5 260 661.5 261 663.5 262.2 665.5 263.3 667.5 264.6 669.5 266.2 671.5 268.2 673.5 270.6 675.5 273.1 677.5 275.8 679.5 278.3 681.5 280.9 683.6 283.7 685.6 286.5 687.6 289.4 689.6 292.3 691.6 295.1 693.6 297.8 695.6 300.6 697.6 303.3 699.6 306.1 701.6 309 703.6 312.1 705.6 315.4 707.6 318.8 709.6 322.3 711.6 325.7 713.6 329 715.6 332.2 717.6 335.4 719.6 338.6 721.6 341.8 723.6 345 725.6 348.2 727.7 351.3 729.7 354.3 731.7 357.3 733.7 360.2 735.7 363.1 737.7 365.8 739.7 368.5 741.7 371.1 743.7 373.5 745.7 375.9 747.7 378.3 749.7 380.5 751.7 382.7 753.7 384.9 755.7 387 757.7 389.1 759.7 391.1 761.7 393.1" fill="none" stroke="#a33030" stroke-width="6.5" stroke-linejoin="round" stroke-linecap="round" />
<path d="M480.7 418L482.7 417.7 484.7 417.4 486.7 417.1 488.7 416.8 490.7 416.4 492.7 416.1 494.7 415.7 496.7 415.4 498.7 415 500.7 414.6 502.7 414.2 504.7 413.7 506.7 413.2 508.7 412.7 510.7 412.1 512.7 411.3 514.7 410.5 516.7 409.6 518.7 408.6 520.7 407.6 522.7 406.2 524.7 404.9 526.7 403.5 528.7 402 530.7 400.5 532.7 399 534.7 397.5 536.7 395.9 538.7 394.2 540.7 392.6 542.7 390.9 544.7 389.1 546.7 387.4 548.7 385.6 550.7 383.6 552.7 381.3 554.7 378.7 556.7 375.7 558.7 372.5 560.7 369.1 562.7 365.7 564.7 362.5 566.7 359.4 568.7 356.4 570.7 353.4 572.7 350.5 574.7 347.5 576.7 344.5 578.7 341.4 580.7 338.3 582.7 335.2 584.7 332 586.7 328.8 588.7 325.5 590.7 322.3 592.7 319.1 594.7 315.9 596.7 312.5 598.7 309.1 600.7 305.3 602.7 301.4 604.7 297.2 606.7 292.9 608.7 288.6 610.7 284.3 612.7 280 614.7 275.9 616.7 271.7 618.7 267.4 620.7 262.9 622.7 257.9 624.7 252.8 626.7 247.7 628.7 242.7 630.7 237.5 632.7 232.3 634.7 227.7 636.7 224.5 638.7 221.6" fill="none" stroke="#8b0000" stroke-width="6" stroke-linejoin="round" stroke-linecap="round" />
<path d="M759.7 391.1L761.7 393.1 763.7 395.1 765.7 397.1 767.7 399 769.7 400.9 771.8 402.8 773.8 404.6 775.8 406.4 777.8 408.2 779.8 409.9 781.8 411.6 783.8 413.2 785.8 414.8 787.8 416.3 789.8 417.9 791.8 419.4 793.8 420.9 795.8 422.3 797.8 423.7 799.8 425.1 801.8 426.3 803.8 427.5 805.8 428.7 807.8 429.7 809.8 430.8 811.8 431.8 813.8 432.7 815.9 433.7 817.9 434.5 819.9 435.4 821.9 436.2 823.9 437 825.9 437.8 827.9 438.5 829.9 439.2 831.9 439.9 833.9 440.6 835.9 441.2 837.9 441.8 839.9 442.4 841.9 443 843.9 443.5 845.9 444 847.9 444.5 849.9 444.9 851.9 445.2 853.9 445.6 855.9 445.9 857.9 446.2 860 446.5 862 446.7 864 447 866 447.3 868 447.6 870 447.9 872 448.2 874 448.5 876 448.9 878 449.2 880 449.5" fill="none" stroke="#8b0000" stroke-width="6.5" stroke-linejoin="round" stroke-linecap="round" />
<path d="M827.1 465L829.1 464.9 831.2 464.9 833.2 464.8 835.2 464.8 837.2 464.7 839.3 464.6 841.3 464.5 843.3 464.5 845.3 464.4 847.4 464.3 849.4 464.3 851.4 464.2 853.4 464.1 855.5 464 857.5 464 859.5 463.9 861.5 463.8 863.6 463.7 865.6 463.6 867.6 463.5 869.6 463.5 871.7 463.4 873.7 463.3 875.7 463.2 877.7 463.1 879.8 463 881.8 462.9 883.8 462.8 885.8 462.7 887.9 462.6 889.9 462.6 891.9 462.5 893.9 462.4 896 462.3 898 462.2 900 462.1 902 462 904.1 461.9 906.1 461.8 908.1 461.7 910.2 461.6 912.2 461.5 914.2 461.4 916.2 461.3 918.3 461.2 920.3 461.1 922.3 461 924.3 460.9 926.4 460.7 928.4 460.6 930.4 460.5 932.4 460.4 934.5 460.2 936.5 460.1 938.5 460 940.5 459.8 942.6 459.7 944.6 459.5 946.6 459.4 948.6 459.2 950.7 459 952.7 458.9 954.7 458.7 956.7 458.5 958.8 458.3 960.8 458 962.8 457.8 964.8 457.5 966.9 457.2 968.9 456.8 970.9 456.5 972.9 456.2 975 455.8 977 455.5" fill="none" stroke="#a33030" stroke-width="6.5" stroke-linejoin="round" stroke-linecap="round" />
<path d="M850.8 435.4L852.8 436 854.8 436.6 856.8 437.1 858.8 437.7 860.8 438.2 862.8 438.7 864.8 439.2 866.8 439.7 868.8 440.2 870.8 440.6 872.8 441.1 874.8 441.5 876.8 441.9 878.8 442.3 880.8 442.7 882.8 443 884.8 443.4 886.8 443.7 888.8 444 890.8 444.3 892.8 444.6 894.8 444.9 896.8 445.1 898.8 445.4 900.8 445.7 902.8 445.9 904.8 446.2 906.8 446.5 908.8 446.7 910.8 446.9 912.8 447.2 914.8 447.4 916.8 447.6 918.8 447.8 920.8 447.9 922.8 448.1 924.8 448.2 926.8 448.4 928.8 448.5 930.8 448.6 932.8 448.7 934.8 448.7 936.8 448.8 938.8 448.8 940.8 448.9 942.8 448.9 944.8 448.9 946.8 449 948.8 449 950.8 449.1 952.8 449.1 954.8 449.1 956.8 449.1 958.8 449.2 960.8 449.2 962.8 449.2 964.8 449.2 966.8 449.3 968.8 449.3 970.8 449.3 972.8 449.3 974.8 449.3 976.8 449.3 978.8 449.3 980.8 449.3 982.8 449.3 984.8 449.3 986.8 449.3 988.8 449.3 990.8 449.3 992.8 449.3 994.8 449.3 996.8 449.3 998.8 449.3 1000.8 449.3 1002.8 449.3 1004.8 449.3 1006.8 449.3 1008.8 449.3 1010.8 449.3 1012.8 449.3 1014.8 449.3 1016.8 449.3 1018.8 449.3 1020.8 449.3 1022.8 449.3 1024.8 449.3 1026.8 449.3 1028.8 449.3 1030.8 449.3 1032.8 449.3 1034.8 449.3 1036.8 449.3 1038.8 449.3 1040.8 449.3 1042.8 449.3 1044.8 449.3 1046.8 449.4 1048.8 449.4 1050.8 449.4 1052.8 449.4 1054.8 449.4 1056.8 449.4 1058.8 449.4 1060.8 449.4 1062.8 449.4 1064.8 449.4 1066.8 449.4 1068.8 449.5 1070.8 449.5 1072.8 449.5 1074.8 449.5 1076.8 449.6 1078.8 449.6 1080.8 449.6 1082.8 449.7 1084.8 449.7 1086.8 449.8 1088.8 449.8 1090.8 449.9 1092.8 449.9 1094.8 450 1096.8 450 1098.8 450.1 1100.8 450.1 1102.8 450.2 1104.8 450.3 1106.8 450.3 1108.8 450.4 1110.8 450.5 1112.8 450.5 1114.8 450.6 1116.8 450.7 1118.8 450.8 1120.8 450.8 1122.8 450.9 1124.8 451 1126.8 451.1 1128.8 451.1 1130.8 451.2 1132.8 451.3 1134.8 451.4 1136.8 451.5 1138.8 451.6 1140.8 451.6 1142.8 451.7 1144.8 451.8 1146.8 451.9 1148.8 452 1150.8 452.1 1152.8 452.2 1154.8 452.3 1156.8 452.4 1158.8 452.4 1160.8 452.5 1162.8 452.6 1164.8 452.7 1166.8 452.8 1168.9 452.9 1170.9 453 1172.9 453.1 1174.9 453.2 1176.9 453.3 1178.9 453.3 1180.9 453.4 1182.9 453.5 1184.9 453.6 1186.9 453.7 1188.9 453.8 1190.9 453.9 1192.9 454.1 1194.9 454.2 1196.9 454.3 1198.9 454.4 1200.9 454.5 1202.9 454.6 1204.9 454.8 1206.9 454.9 1208.9 455 1210.9 455.1 1212.9 455.3 1214.9 455.4 1216.9 455.6 1218.9 455.7 1220.9 455.8 1222.9 456 1224.9 456.1 1226.9 456.3 1228.9 456.4 1230.9 456.5 1232.9 456.7 1234.9 456.8 1236.9 457 1238.9 457.1 1240.9 457.3 1242.9 457.4 1244.9 457.6 1246.9 457.7 1248.9 457.9 1250.9 458 1252.9 458.2 1254.9 458.3 1256.9 458.5 1258.9 458.6 1260.9 458.8 1262.9 458.9 1264.9 459.1 1266.9 459.2 1268.9 459.4 1270.9 459.5 1272.9 459.6 1274.9 459.8 1276.9 459.9 1278.9 460.1 1280.9 460.2 1282.9 460.4 1284.9 460.5 1286.9 460.6 1288.9 460.8 1290.9 460.9 1292.9 461 1294.9 461.1 1296.9 461.3 1298.9 461.4 1300.9 461.5 1302.9 461.7 1304.9 461.8 1306.9 461.9 1308.9 462 1310.9 462.2 1312.9 462.3 1314.9 462.4 1316.9 462.6 1318.9 462.7 1320.9 462.8 1322.9 463 1324.9 463.1 1326.9 463.2 1328.9 463.3 1330.9 463.5 1332.9 463.6 1334.9 463.7 1336.9 463.9 1338.9 464 1340.9 464.1 1342.9 464.2 1344.9 464.4 1346.9 464.5 1348.9 464.6 1350.9 464.8 1352.9 464.9 1354.9 465 1356.9 465.1 1358.9 465.3 1360.9 465.4 1362.9 465.5 1364.9 465.6 1366.9 465.7 1368.9 465.9 1370.9 466 1372.9 466.1 1374.9 466.2 1376.9 466.3 1378.9 466.4 1380.9 466.6 1382.9 466.7 1384.9 466.8 1386.9 466.9 1388.9 467 1390.9 467.1 1392.9 467.2 1394.9 467.3 1396.9 467.4 1398.9 467.5 1400.9 467.6 1402.9 467.7 1404.9 467.8 1406.9 467.9 1408.9 468 1410.9 468.1 1412.9 468.2 1414.9 468.3 1416.9 468.3 1418.9 468.4 1420.9 468.5 1422.9 468.6 1424.9 468.7 1426.9 468.8 1428.9 468.8 1430.9 468.9 1432.9 469 1434.9 469.1 1436.9 469.2 1438.9 469.2 1440.9 469.3 1442.9 469.4 1444.9 469.5 1446.9 469.5 1448.9 469.6 1450.9 469.7 1452.9 469.7 1454.9 469.8 1456.9 469.9 1458.9 470 1460.9 470 1462.9 470.1 1464.9 470.2 1466.9 470.2 1468.9 470.3 1470.9 470.4 1472.9 470.4 1474.9 470.5 1476.9 470.6 1478.9 470.6 1480.9 470.7 1482.9 470.8 1484.9 470.8 1486.9 470.9 1488.9 471 1490.9 471 1492.9 471.1 1494.9 471.1 1496.9 471.2 1498.9 471.3 1500.9 471.3 1502.9 471.4 1504.9 471.4 1506.9 471.5 1508.9 471.6 1510.9 471.6 1512.9 471.7 1514.9 471.7 1516.9 471.8 1518.9 471.8 1520.9 471.9 1522.9 472 1524.9 472 1526.9 472.1 1528.9 472.1 1531 472.2 1533 472.2 1535 472.3 1537 472.3 1539 472.4 1541 472.5 1543 472.5 1545 472.6 1547 472.6 1549 472.7 1551 472.7 1553 472.8 1555 472.8 1557 472.9 1559 472.9 1561 472.9 1563 473 1565 473 1567 473.1 1569 473.1 1571 473.2 1573 473.2 1575 473.3 1577 473.3 1579 473.4 1581 473.4 1583 473.4 1585 473.5 1587 473.5 1589 473.6 1591 473.6 1593 473.7 1595 473.7 1597 473.8 1599 473.8 1601 473.8 1603 473.9 1605 473.9 1607 474 1609 474 1611 474.1 1613 474.1 1615 474.2 1617 474.2 1619 474.2 1621 474.3 1623 474.3 1625 474.4 1627 474.4 1629 474.5 1631 474.5 1633 474.6 1635 474.6 1637 474.7 1639 474.7 1641 474.8 1643 474.8 1645 474.9 1647 474.9 1649 475 1651 475 1653 475.1 1655 475.2 1657 475.2 1659 475.3 1661 475.3 1663 475.4 1665 475.4 1667 475.5 1669 475.6 1671 475.6 1673 475.7 1675 475.7 1677 475.8 1679 475.9 1681 475.9 1683 476 1685 476.1 1687 476.1 1689 476.2 1691 476.2 1693 476.3 1695 476.4 1697 476.4 1699 476.5 1701 476.6 1703 476.6 1705 476.7 1707 476.8 1709 476.8 1711 476.9" fill="none" stroke="#8b0000" stroke-width="5.5" stroke-linejoin="round" stroke-linecap="round" />
<path d="M264.6 453.3L266.6 452.7 268.6 452.1 270.6 451.6 272.6 451 274.6 450.4 276.6 449.9 278.6 449.3 280.6 448.7 282.6 448.2 284.6 447.6 286.6 447.1 288.6 446.5 290.6 446 292.6 445.5 294.6 444.9 296.6 444.4 298.6 443.9 300.6 443.3 302.6 442.8 304.6 442.3 306.6 441.8 308.6 441.3 310.6 440.7 312.6 440.2 314.6 439.7 316.6 439.2 318.6 438.7 320.6 438.3 322.6 437.8 324.6 437.3 326.6 436.8 328.6 436.3 330.6 435.9 332.6 435.4 334.6 434.9 336.6 434.4 338.6 434 340.6 433.5 342.6 433.1 344.6 432.6 346.6 432.1 348.6 431.7 350.6 431.2 352.6 430.8 354.6 430.3 356.6 429.8 358.6 429.4 360.6 428.9 362.6 428.4 364.6 427.9 366.6 427.5 368.6 427 370.6 426.6 372.6 426.1 374.6 425.7 376.6 425.3 378.6 424.9 380.6 424.6 382.6 424.3 384.6 424 386.6 423.7 388.6 423.4 390.6 423.2 392.6 422.9 394.6 422.7 396.6 422.4 398.6 422.2 400.6 421.9 402.6 421.7 404.6 421.4 406.6 421.2 408.6 420.9 410.6 420.6 412.6 420.3 414.6 420 416.6 419.7 418.6 419.4 420.6 419.1 422.6 418.8 424.6 418.4 426.6 418.1 428.6 417.8 430.6 417.4 432.6 417.1 434.6 416.7 436.6 416.4 438.6 416 440.6 415.7 442.6 415.3 444.6 414.9 446.7 414.6 448.7 414.2 450.7 413.7 452.7 413.3 454.7 412.9 456.7 412.5 458.7 412 460.7 411.6 462.7 411.3 464.7 410.9 466.7 410.5 468.7 410.2 470.7 409.9 472.7 409.6 474.7 409.3 476.7 409.1 478.7 408.8 480.7 408.5 482.7 408.2 484.7 407.9 486.7 407.6 488.7 407.3 490.7 406.9 492.7 406.6 494.7 406.2 496.7 405.9 498.7 405.5 500.7 405.1 502.7 404.7 504.7 404.2 506.7 403.7 508.7 403.2 510.7 402.6 512.7 401.8 514.7 401 516.7 400.1 518.7 399.1 520.7 398.1 522.7 397 524.7 395.8 526.7 394.6 528.7 393.4 530.7 392 532.7 390.5 534.7 388.8 536.7 387 538.7 385.2 540.7 383.4 542.7 381.6 544.7 379.9 546.7 378.1 548.7 376.1 550.7 374.1 552.7 371.8 554.7 369.2 556.7 366.2 558.7 363 560.7 359.6 562.7 356.2 564.7 353 566.7 349.9 568.7 346.9 570.7 343.9 572.7 341 574.7 338 576.7 335 578.7 331.9 580.7 328.8 582.7 325.7 584.7 322.5 586.7 319.3 588.7 316 590.7 312.8 592.7 309.6 594.7 306.4 596.7 303 598.7 299.6 600.7 295.8 602.7 291.9 604.7 287.7 606.7 283.4 608.7 279.1 610.7 274.8 612.7 270.5 614.7 266.4 616.7 262.2 618.7 257.9 620.7 253.4 622.7 248.4 624.7 243.3 626.7 238.2 628.7 233.2 630.7 228 632.7 222.8 634.7 218.2 636.7 215 638.7 212.1 640.7 209.6 642.7 207.9 644.7 207.6 646.7 208.9 648.7 211.5 650.7 214.3 652.7 216.9 654.7 219.9 656.7 223.1 658.7 225.6 660.7 226.7 662.7 225.5 664.7 222.4 666.7 218.3 668.7 214.2 670.7 210.9 672.7 207.5 674.7 204 676.7 201.1 678.7 199.4 680.7 200.1 682.7 205.1 684.7 213 686.7 221.8 688.7 233.4 690.7 246.2 692.7 257.2 694.7 266.5 696.7 273.2 698.7 279.1 700.7 283.9 702.7 287.5 704.7 290 706.7 292.2 708.7 293.9 710.7 294.9 712.7 295 714.7 294.7 716.7 294.4 718.7 293.9 720.7 293.1 722.7 291.9 724.7 291 726.7 290.9 728.7 291.9 730.7 293.5 732.7 295.8 734.7 298.3 736.7 300.8 738.7 303.7 740.7 307.2 742.7 311.3 744.7 316 746.7 322.3 748.7 330.6 750.7 338.6 752.7 344.5 754.7 349.2 756.7 353.5 758.7 357.4 760.7 361 762.7 364.2 764.7 367.3 766.7 370.2 768.7 372.9 770.7 375.5 772.7 378 774.7 380.3 776.7 382.5 778.7 384.6 780.7 386.6 782.7 388.5 784.7 390.4 786.7 392.2 788.7 394 790.7 395.7 792.7 397.4 794.7 399 796.7 400.6 798.7 402.1 800.7 403.6 802.7 405 804.7 406.4 806.7 407.8 808.8 409.2 810.8 410.5 812.8 411.8 814.8 413.1 816.8 414.3 818.8 415.5 820.8 416.7 822.8 417.8 824.8 418.8 826.8 419.8 828.8 420.8 830.8 421.7 832.8 422.6 834.8 423.5 836.8 424.3 838.8 425.2 840.8 425.9 842.8 426.7 844.8 427.4 846.8 428 848.8 428.6 850.8 429.2 852.8 429.8 854.8 430.4 856.8 430.9 858.8 431.5 860.8 432 862.8 432.5 864.8 433 866.8 433.5 868.8 434 870.8 434.4 872.8 434.9 874.8 435.3 876.8 435.7 878.8 436.1 880.8 436.5 882.8 436.8 884.8 437.2 886.8 437.5 888.8 437.8 890.8 438.1 892.8 438.4 894.8 438.7 896.8 438.9 898.8 439.2 900.8 439.5 902.8 439.7 904.8 440 906.8 440.3 908.8 440.5 910.8 440.7 912.8 441 914.8 441.2 916.8 441.4 918.8 441.6 920.8 441.7 922.8 441.9 924.8 442 926.8 442.2 928.8 442.3 930.8 442.4 932.8 442.5 934.8 442.5 936.8 442.6 938.8 442.6 940.8 442.7 942.8 442.7 944.8 442.7 946.8 442.8 948.8 442.8 950.8 442.9 952.8 442.9 954.8 442.9 956.8 442.9 958.8 443 960.8 443 962.8 443 964.8 443 966.8 443.1 968.8 443.1 970.8 443.1 972.8 443.1 974.8 443.1 976.8 443.1 978.8 443.1 980.8 443.1 982.8 443.1 984.8 443.1 986.8 443.1 988.8 443.1 990.8 443.1 992.8 443.1 994.8 443.1 996.8 443.1 998.8 443.1 1000.8 443.1 1002.8 443.1 1004.8 443.1 1006.8 443.1 1008.8 443.1 1010.8 443.1 1012.8 443.1 1014.8 443.1 1016.8 443.1 1018.8 443.1 1020.8 443.1 1022.8 443.1 1024.8 443.1 1026.8 443.1 1028.8 443.1 1030.8 443.1 1032.8 443.1 1034.8 443.1 1036.8 443.1 1038.8 443.1 1040.8 443.1 1042.8 443.1 1044.8 443.1 1046.8 443.2 1048.8 443.2 1050.8 443.2 1052.8 443.2 1054.8 443.2 1056.8 443.2 1058.8 443.2 1060.8 443.2 1062.8 443.2 1064.8 443.2 1066.8 443.2 1068.8 443.3 1070.8 443.3 1072.8 443.3 1074.8 443.3 1076.8 443.4 1078.8 443.4 1080.8 443.4 1082.8 443.5 1084.8 443.5 1086.8 443.6 1088.8 443.6 1090.8 443.7 1092.8 443.7 1094.8 443.8 1096.8 443.8 1098.8 443.9 1100.8 443.9 1102.8 444 1104.8 444.1 1106.8 444.1 1108.8 444.2 1110.8 444.3 1112.8 444.3 1114.8 444.4 1116.8 444.5 1118.8 444.6 1120.8 444.6 1122.8 444.7 1124.8 444.8 1126.8 444.9 1128.8 444.9 1130.8 445 1132.8 445.1 1134.8 445.2 1136.8 445.3 1138.8 445.4 1140.8 445.4 1142.8 445.5 1144.8 445.6 1146.8 445.7 1148.8 445.8 1150.8 445.9 1152.8 446 1154.8 446.1 1156.8 446.2 1158.8 446.2 1160.8 446.3 1162.8 446.4 1164.8 446.5 1166.8 446.6 1168.9 446.7 1170.9 446.8 1172.9 446.9 1174.9 447 1176.9 447.1 1178.9 447.1 1180.9 447.2 1182.9 447.3 1184.9 447.4 1186.9 447.5 1188.9 447.6 1190.9 447.7 1192.9 447.9 1194.9 448 1196.9 448.1 1198.9 448.2 1200.9 448.3 1202.9 448.4 1204.9 448.6 1206.9 448.7 1208.9 448.8 1210.9 448.9 1212.9 449.1 1214.9 449.2 1216.9 449.4 1218.9 449.5 1220.9 449.6 1222.9 449.8 1224.9 449.9 1226.9 450.1 1228.9 450.2 1230.9 450.3 1232.9 450.5 1234.9 450.6 1236.9 450.8 1238.9 450.9 1240.9 451.1 1242.9 451.2 1244.9 451.4 1246.9 451.5 1248.9 451.7 1250.9 451.8 1252.9 452 1254.9 452.1 1256.9 452.3 1258.9 452.4 1260.9 452.6 1262.9 452.7 1264.9 452.9 1266.9 453 1268.9 453.2 1270.9 453.3 1272.9 453.4 1274.9 453.6 1276.9 453.7 1278.9 453.9 1280.9 454 1282.9 454.2 1284.9 454.3 1286.9 454.4 1288.9 454.6 1290.9 454.7 1292.9 454.8 1294.9 454.9 1296.9 455.1 1298.9 455.2 1300.9 455.3 1302.9 455.5 1304.9 455.6 1306.9 455.7 1308.9 455.8 1310.9 456 1312.9 456.1 1314.9 456.2 1316.9 456.4 1318.9 456.5 1320.9 456.6 1322.9 456.8 1324.9 456.9 1326.9 457 1328.9 457.1 1330.9 457.3 1332.9 457.4 1334.9 457.5 1336.9 457.7 1338.9 457.8 1340.9 457.9 1342.9 458 1344.9 458.2 1346.9 458.3 1348.9 458.4 1350.9 458.6 1352.9 458.7 1354.9 458.8 1356.9 458.9 1358.9 459.1 1360.9 459.2 1362.9 459.3 1364.9 459.4 1366.9 459.5 1368.9 459.7 1370.9 459.8 1372.9 459.9 1374.9 460 1376.9 460.1 1378.9 460.2 1380.9 460.4 1382.9 460.5 1384.9 460.6 1386.9 460.7 1388.9 460.8 1390.9 460.9 1392.9 461 1394.9 461.1 1396.9 461.2 1398.9 461.3 1400.9 461.4 1402.9 461.5 1404.9 461.6 1406.9 461.7 1408.9 461.8 1410.9 461.9 1412.9 462 1414.9 462.1 1416.9 462.1 1418.9 462.2 1420.9 462.3 1422.9 462.4 1424.9 462.5 1426.9 462.6 1428.9 462.6 1430.9 462.7 1432.9 462.8 1434.9 462.9 1436.9 463 1438.9 463 1440.9 463.1 1442.9 463.2 1444.9 463.3 1446.9 463.3 1448.9 463.4 1450.9 463.5 1452.9 463.5 1454.9 463.6 1456.9 463.7 1458.9 463.8 1460.9 463.8 1462.9 463.9 1464.9 464 1466.9 464 1468.9 464.1 1470.9 464.2 1472.9 464.2 1474.9 464.3 1476.9 464.4 1478.9 464.4 1480.9 464.5 1482.9 464.6 1484.9 464.6 1486.9 464.7 1488.9 464.8 1490.9 464.8 1492.9 464.9 1494.9 464.9 1496.9 465 1498.9 465.1 1500.9 465.1 1502.9 465.2 1504.9 465.2 1506.9 465.3 1508.9 465.4 1510.9 465.4 1512.9 465.5 1514.9 465.5 1516.9 465.6 1518.9 465.6 1520.9 465.7 1522.9 465.8 1524.9 465.8 1526.9 465.9 1528.9 465.9 1531 466 1533 466 1535 466.1 1537 466.1 1539 466.2 1541 466.3 1543 466.3 1545 466.4 1547 466.4 1549 466.5 1551 466.5 1553 466.6 1555 466.6 1557 466.7 1559 466.7 1561 466.7 1563 466.8 1565 466.8 1567 466.9 1569 466.9 1571 467 1573 467 1575 467.1 1577 467.1 1579 467.2 1581 467.2 1583 467.2 1585 467.3 1587 467.3 1589 467.4 1591 467.4 1593 467.5 1595 467.5 1597 467.6 1599 467.6 1601 467.6 1603 467.7 1605 467.7 1607 467.8 1609 467.8 1611 467.9 1613 467.9 1615 468 1617 468 1619 468 1621 468.1 1623 468.1 1625 468.2 1627 468.2 1629 468.3 1631 468.3 1633 468.4 1635 468.4 1637 468.5 1639 468.5 1641 468.6 1643 468.6 1645 468.7 1647 468.7 1649 468.8 1651 468.8 1653 468.9 1655 469 1657 469 1659 469.1 1661 469.1 1663 469.2 1665 469.2 1667 469.3 1669 469.4 1671 469.4 1673 469.5 1675 469.5 1677 469.6 1679 469.7 1681 469.7 1683 469.8 1685 469.9 1687 469.9 1689 470 1691 470 1693 470.1 1695 470.2 1697 470.2 1699 470.3 1701 470.4 1703 470.4 1705 470.5 1707 470.6 1709 470.6 1711 470.7" fill="none" stroke="#888888" stroke-width="7.8" stroke-linejoin="round" stroke-linecap="round" stroke-linecap="butt" stroke-opacity="0.8"/>
<g fill="none" stroke="#0000FF" stroke-width="16" stroke-linejoin="round" stroke-linecap="butt"><path d="M310.6 744.7L312.6 746.4 314.6 744.7 316.6 744.3 318.6 746.2 320.6 745.7 322.6 742.9 324.6 745.1 326.6 744.3 328.6 742.9 330.6 743.9 332.6 741.4 334.6 741.4 336.6 740.9 338.6 740.8 340.6 742.3 342.6 739.9 344.6 739.7 346.6 739.5 348.6 740.2 350.6 739.3 352.6 740 354.6 738.1 356.6 737.2 358.6 737.4 360.6 737.3 362.6 735.8 364.6 736.3 366.6 737 368.6 734.2 370.6 734.2 372.6 734.7 374.6 732.3 376.6 731.6 378.6 730.9 380.6 731.8 382.6 731.6 384.6 730.7 386.6 730.6 388.6 731.4 390.6 730.8 392.6 728.5 394.6 729.6 396.6 729.5 398.6 729.8 400.6 728.7 402.6 728.1 404.6 728.1 406.6 726.6 408.6 728 410.6 727.2 412.6 727.8 414.6 726.1 416.6 726.3 418.6 725.4 420.6 724.9 422.6 726 424.6 724.4 426.6 724.8 428.6 722.8 430.6 723.4 432.6 721.3 434.6 721.8 436.6 721.3 438.6 721.8 440.6 720.9 442.6 720.1 444.6 720.6 446.7 719.6 448.7 719.4 450.7 719.2 452.7 718 454.7 717.4 456.7 717.6 458.7 716.5 460.7 716.8 462.7 717.1 464.7 716.5 466.7 715 468.7 713.9 470.7 714.7 472.7 714.3 474.7 715.1 476.7 713.5 478.7 713.4 480.7 714 482.7 712.7 484.7 712.6 486.7 714 488.7 713.5 490.7 712.4 492.7 711.7 494.7 710.3 496.7 711.3 498.7 710.6 500.7 710.3 502.7 709.3 504.7 709.4 506.7 708.8 508.7 708.7 510.7 709.2 512.7 707.7 514.7 705.1 516.7 704.9 518.7 703.3 520.7 703 522.7 703.1 524.7 701.8 526.7 699.7 528.7 699.2 530.7 697.1 532.7 695.3 534.7 693.9 536.7 692.9 538.7 693.3 540.7 689.1 542.7 689.6 544.7 687.9 546.7 684.5 548.7 682.5 550.7 679.8 552.7 677.6 554.7 675.3 556.7 671.5 558.7 669 560.7 665.9 562.7 661.9 564.7 658.9 566.7 655.7 568.7 653.4 570.7 649.4 572.7 648 574.7 645.1 576.7 641.1 578.7 640.7 580.7 634.6 582.7 631.2 584.7 628.8 586.7 623.4 588.7 621 590.7 617.1 592.7 614.3 594.7 611.6 596.7 608.4 598.7 605.1 600.7 600.4 602.7 596.1 604.7 590.8 606.7 585.1 608.7 581.9 610.7 576.3 612.7 572.3 614.7 570.5 616.7 566.2 618.7 561.7 620.7 557.8 622.7 553.2 624.7 546.2 626.7 542 628.7 535.5 630.7 530 632.7 522.4 634.7 518.1 636.7 511.2 638.7 504.6 640.7 501.4 642.7 496.8 644.7 494.8 646.7 499 648.7 503 650.7 505.7 652.7 511.3 654.7 516 656.7 520.3 658.7 524.6 660.7 522.2 662.7 524.4 664.7 521.5 666.7 518.3 668.7 513.9 670.7 509.8 672.7 503.3 674.7 497.4 676.7 490.1 678.7 484.4 680.7 489.2 682.7 494.5 684.7 500.5 686.7 510 688.7 524.4 690.7 539.3 692.7 551 694.7 561.7 696.7 567.9 698.7 576.7 700.7 582.6 702.7 586.4 704.7 590.2 706.7 591.9 708.7 593.3 710.7 593 712.7 590.9 714.7 588.7 716.7 589.9 718.7 586.2 720.7 585.5 722.7 583.4 724.7 577.9 726.7 578.7 728.7 582 730.7 586.8 732.7 590.7 734.7 596.4 736.7 600.5 738.7 605.8 740.7 612.3 742.7 616 744.7 620.9 746.7 628.8 748.7 633.3 750.7 642.6 752.7 650 754.7 654.5 756.7 658.6 758.7 666 760.7 668.4 762.7 672.4 764.7 675.8 766.7 678.2 768.7 680.8 770.7 684.3 772.7 688.5 774.7 689.1 776.7 691 778.7 690.9 780.7 694.1 782.7 694.8 784.7 698.4 786.7 699.4 788.7 701.4 790.7 703 792.7 704.2 794.7 705 796.7 708.4 798.7 708.1 800.7 709.7 802.7 711.8 804.7 712.6 806.7 714.7 808.8 716.5 810.8 716.9 812.8 717.9 814.8 718.7 816.8 720.4 818.8 718.9 820.8 721.8 822.8 721.5 824.8 722.1 826.8 724 828.8 724.5 830.8 726.2 832.8 727.4 834.8 725.1 836.8 727.8 838.8 730.4 840.8 730.1 842.8 731.2 844.8 730.6 846.8 729.8 848.8 730.6 850.8 732.8 852.8 733.5 854.8 732.5 856.8 733.4 858.8 734.3 860.8 733 862.8 734.7 864.8 736.9 866.8 737.8 868.8 736.2 870.8 738.3 872.8 736.6 874.8 736.7 876.8 735.8 878.8 739.1 880.8 738.2 882.8 741 884.8 739.6 886.8 739.8 888.8 738.3 890.8 741.6 892.8 740.3 894.8 740.8 896.8 739.3 898.8 742.4 900.8 742.8 902.8 741.7 904.8 742.7 906.8 743.3 908.8 744.2 910.8 743.7 912.8 745.5 914.8 744 916.8 743.9 918.8 744.3 920.8 742.7 922.8 744.5 924.8 746.4 926.8 745.9 928.8 745.1 930.8 746.3 932.8 744.3 934.8 745.9 936.8 746.7 938.8 747 940.8 745.7 942.8 747.3 944.8 748.3 946.8 746.3 948.8 747.4 950.8 745.4 952.8 745.1 954.8 747.5 956.8 747 958.8 747.2 960.8 746.6 962.8 746.9 964.8 748 966.8 748.8 968.8 747.1 970.8 745.9 972.8 748.6 974.8 748 976.8 748.1 978.8 747.7 980.8 749.7 982.8 747.7 984.8 748.2 986.8 746.1 988.8 747.3 990.8 747.2 992.8 747.9 994.8 748.3 996.8 747.3 998.8 749.6 1000.8 747.1 1002.8 747.7 1004.8 748.3 1006.8 747 1008.8 748.6 1010.8 748.7 1012.8 747.9 1014.8 749.9 1016.8 748.2 1018.8 748.4 1020.8 747.3 1022.8 746.7 1024.8 747.6 1026.8 747.9 1028.8 747.8 1030.8 748.9 1032.8 746 1034.8 747.2 1036.8 746.5 1038.8 749.4 1040.8 747.7 1042.8 747.7 1044.8 747.2 1046.8 749 1048.8 747.8 1050.8 748.4 1052.8 746.4 1054.8 749.2 1056.8 748.5 1058.8 748.7 1060.8 749.3 1062.8 748 1064.8 748.1 1066.8 748.9 1068.8 748.6 1070.8 748 1072.8 748.3 1074.8 747.8 1076.8 749 1078.8 749.2 1080.8 748.4 1082.8 750.1 1084.8 747.1 1086.8 748.3 1088.8 750.1 1090.8 748.2 1092.8 747.2 1094.8 750 1096.8 749.3 1098.8 747.8 1100.8 749.6 1102.8 748 1104.8 747.8 1106.8 749 1108.8 748.7 1110.8 748.2 1112.8 749 1114.8 748.5 1116.8 749.5 1118.8 749.5 1120.8 750.3 1122.8 749.3 1124.8 748.6 1126.8 748.7 1128.8 749.7 1130.8 751.4 1132.8 750.9 1134.8 749.6 1136.8 751.1 1138.8 749.3 1140.8 751.4 1142.8 750.2 1144.8 751.4 1146.8 751.3 1148.8 750.6 1150.8 751.2 1152.8 750.1 1154.8 751.1 1156.8 752.2 1158.8 755 1160.8 752 1162.8 751.6 1164.8 750.7 1166.8 752.6 1168.9 750.3 1170.9 751.1 1172.9 752.3 1174.9 751 1176.9 753.5 1178.9 753.2 1180.9 751.8 1182.9 751.9 1184.9 751.3 1186.9 751.4 1188.9 753.1 1190.9 753.4 1192.9 753.3 1194.9 753.3 1196.9 752.7 1198.9 753.6 1200.9 752.1 1202.9 753.6 1204.9 755 1206.9 755 1208.9 753.5 1210.9 753.8 1212.9 755.4 1214.9 755.9 1216.9 753.1 1218.9 754.2 1220.9 755 1222.9 756 1224.9 754.3 1226.9 755.8 1228.9 755.1 1230.9 757.6 1232.9 756 1234.9 755.6 1236.9 755.6 1238.9 757 1240.9 756.8 1242.9 755.4 1244.9 756.7 1246.9 755.5 1248.9 756.1 1250.9 755.8 1252.9 755.9 1254.9 756.7 1256.9 756.5 1258.9 758.1 1260.9 758.4 1262.9 757.7 1264.9 757 1266.9 758.9 1268.9 756.5 1270.9 756.7 1272.9 759.3 1274.9 759.4 1276.9 759.8 1278.9 758.9 1280.9 758.1 1282.9 758.9 1284.9 760 1286.9 758.9 1288.9 759.1 1290.9 758.6 1292.9 759 1294.9 760.9 1296.9 760.7 1298.9 759.3 1300.9 759.5 1302.9 760.1 1304.9 761.3 1306.9 759.9 1308.9 760.9 1310.9 759.2 1312.9 760.2 1314.9 761.8 1316.9 762.4 1318.9 760.6 1320.9 761.1 1322.9 762.7 1324.9 761.7 1326.9 761.7 1328.9 762.8 1330.9 762.7 1332.9 763.6 1334.9 763.5 1336.9 762.3 1338.9 762.9 1340.9 763.1 1342.9 762 1344.9 762.5 1346.9 764.4 1348.9 762.2 1350.9 764.7 1352.9 764.2 1354.9 763.9 1356.9 764.6 1358.9 764.7 1360.9 765.5 1362.9 764.2 1364.9 764.4 1366.9 764.6 1368.9 766.6 1370.9 765.9 1372.9 764.3 1374.9 765 1376.9 764.7 1378.9 765.5 1380.9 765.8 1382.9 767.8 1384.9 764.2 1386.9 766.9 1388.9 766.5 1390.9 765.6 1392.9 766.2 1394.9 766 1396.9 766.6 1398.9 767.5 1400.9 765.4 1402.9 768 1404.9 766.6 1406.9 768.4 1408.9 767.5 1410.9 768.4 1412.9 767.9 1414.9 768.4 1416.9 767.6 1418.9 766.9 1420.9 768.3 1422.9 768.5 1424.9 769.8 1426.9 766.2 1428.9 767.9 1430.9 769.2 1432.9 767.2 1434.9 768.2 1436.9 770.4 1438.9 769.8 1440.9 767.9 1442.9 770 1444.9 769.9 1446.9 769.6 1448.9 769.4 1450.9 769.3 1452.9 768.4 1454.9 768.8 1456.9 770 1458.9 769.6 1460.9 771.2 1462.9 769.3 1464.9 767.5 1466.9 769.5 1468.9 770.1 1470.9 770.3 1472.9 770.1 1474.9 769.4 1476.9 771.5 1478.9 769.7 1480.9 771 1482.9 770.2 1484.9 769.4 1486.9 771.9 1488.9 768.4 1490.9 770 1492.9 771.2 1494.9 770.6 1496.9 771.6 1498.9 770.9 1500.9 770.7 1502.9 773.1 1504.9 771.1 1506.9 771.2 1508.9 770.4 1510.9 770.8 1512.9 772.1 1514.9 772.1 1516.9 771.7 1518.9 771.1 1520.9 772.4 1522.9 770.4 1524.9 771.6 1526.9 771.8 1528.9 771.3 1531 772.3 1533 771.6 1535 771.6 1537 774 1539 773.1 1541 773.5 1543 772.6 1545 773.5 1547 773.4 1549 773.8 1551 774.9 1553 772.6 1555 773.1 1557 772.9 1559 769.8 1561 771.8 1563 773.1 1565 773.7 1567 772.7 1569 774.3 1571 774.5 1573 773 1575 774.7 1577 775.1 1579 774 1581 772.7 1583 775 1585 773.6 1587 773.4 1589 773.9 1591 773.4 1593 774.9 1595 774.7 1597 775.1 1599 774.6 1601 773.4 1603 774 1605 775 1607 773.9 1609 777 1611 774.2 1613 773.9 1615 775.5 1617 775.2 1619 774.6 1621 774.4 1623 775.1 1625 775.5 1627 775.5 1629 774.6 1631 775.3 1633 775.7 1635 775.7 1637 772.3 1639 774.3 1641 774.4 1643 775 1645 775.4 1647 776.1 1649 775.9 1651 775.3 1653 775.5 1655 777.1 1657 775 1659 775.9 1661 777.1 1663 776 1665 773.9 1667 776.2 1669 775.5 1671 775.8 1673 776.9 1675 776.5 1677 775.9 1679 777 1681 776.6 1683 776.4 1685 776.6 1687 776.6 1689 776.2 1691 776.1 1693 776.6"/><path d="M310.6 753.4L312.6 752.6 314.6 754.4 316.6 752.6 318.6 752.4 320.6 751.9 322.6 751.6 324.6 751.3 326.6 751 328.6 749.8 330.6 751 332.6 749.2 334.6 750.4 336.6 747.4 338.6 747.9 340.6 749.3 342.6 748 344.6 747.1 346.6 747.7 348.6 746 350.6 746.6 352.6 744.1 354.6 745.2 356.6 744.5 358.6 745 360.6 744.7 362.6 742.5 364.6 744 366.6 741.4 368.6 739.5 370.6 738.6 372.6 741.5 374.6 739.6 376.6 738.6 378.6 738.1 380.6 737.5 382.6 739.4 384.6 737.8 386.6 739.2 388.6 737.2 390.6 735 392.6 737.7 394.6 736.4 396.6 736.3 398.6 737.7 400.6 735.8 402.6 736.9 404.6 735.6 406.6 734.7 408.6 735.5 410.6 734.2 412.6 735.5 414.6 734.9 416.6 733.7 418.6 733.7 420.6 733.2 422.6 731.9 424.6 732.5 426.6 730.9 428.6 731.2 430.6 729.2 432.6 729.7 434.6 729.4 436.6 727.8 438.6 727.7 440.6 727.1 442.6 727.8 444.6 726.1 446.7 726.7 448.7 727.3 450.7 725.8 452.7 723.6 454.7 724.7 456.7 725.2 458.7 723.6 460.7 724.4 462.7 723.6 464.7 723.1 466.7 722.2 468.7 721.6 470.7 721.6 472.7 721.6 474.7 721.7 476.7 721.4 478.7 720.5 480.7 720.5 482.7 720.5 484.7 718.4 486.7 718.8 488.7 718.5 490.7 718.7 492.7 718.3 494.7 718 496.7 717.1 498.7 718.1 500.7 717.4 502.7 715.2 504.7 716.3 506.7 714.7 508.7 716.7 510.7 714 512.7 713.2 514.7 712.7 516.7 711.4 518.7 710.4 520.7 710.6 522.7 708.2 524.7 707.5 526.7 706.5 528.7 703.3 530.7 704.4 532.7 702 534.7 700.5 536.7 697.1 538.7 696.9 540.7 694.7 542.7 691.9 544.7 692.3 546.7 688.6 548.7 685.4 550.7 683.2 552.7 680.8 554.7 677.8 556.7 674 558.7 671.2 560.7 668.2 562.7 662.8 564.7 660.6 566.7 657.5 568.7 655.8 570.7 654.3 572.7 650.7 574.7 646.3 576.7 643.8 578.7 641.7 580.7 636.9 582.7 633.8 584.7 630.7 586.7 625.4 588.7 624.4 590.7 620.8 592.7 617.6 594.7 612.6 596.7 609 598.7 604.9 600.7 601.1 602.7 596.2 604.7 591.5 606.7 588.3 608.7 583.4 610.7 577.6 612.7 573.9 614.7 572.4 616.7 566.7 618.7 564.1 620.7 559.7 622.7 553 624.7 548.2 626.7 543.1 628.7 536.5 630.7 529.7 632.7 523.4 634.7 518.4 636.7 511.2 638.7 506.4 640.7 503.1 642.7 500.2 644.7 503.4 646.7 499.2 648.7 503.7 650.7 509.2 652.7 511.9 654.7 517.5 656.7 522.5 658.7 525.1 660.7 530.2 662.7 526.8 664.7 524.3 666.7 519.5 668.7 515 670.7 511.5 672.7 505 674.7 499.2 676.7 493 678.7 490.4 680.7 491 682.7 495.8 684.7 501.2 686.7 512.2 688.7 524.6 690.7 538.5 692.7 549.6 694.7 561.4 696.7 570.3 698.7 577.2 700.7 583.4 702.7 585.7 704.7 592.9 706.7 594.4 708.7 596.7 710.7 596.8 712.7 595.1 714.7 594.5 716.7 591.5 718.7 590.3 720.7 586.5 722.7 587.1 724.7 585 726.7 586.1 728.7 583.8 730.7 588.5 732.7 591 734.7 596.4 736.7 601.5 738.7 605.2 740.7 611.3 742.7 616.3 744.7 620.9 746.7 626.8 748.7 633.6 750.7 642.3 752.7 650.8 754.7 656.9 756.7 660.4 758.7 665.8 760.7 670.6 762.7 674.4 764.7 677.6 766.7 682.2 768.7 685.1 770.7 687.7 772.7 689.4 774.7 693.7 776.7 695.6 778.7 695.7 780.7 697.9 782.7 700.9 784.7 701 786.7 703.9 788.7 705.4 790.7 706.6 792.7 708.8 794.7 709.3 796.7 711.9 798.7 712.2 800.7 717.6 802.7 718.4 804.7 719.6 806.7 720 808.8 721.9 810.8 723.3 812.8 724.2 814.8 725.3 816.8 724.7 818.8 726.9 820.8 727 822.8 727.3 824.8 728.3 826.8 730.6 828.8 732 830.8 730.6 832.8 734.3 834.8 734.8 836.8 733.9 838.8 734.6 840.8 735.7 842.8 737.4 844.8 736.8 846.8 736.8 848.8 738.7 850.8 737.1 852.8 739.6 854.8 741 856.8 740.7 858.8 741.6 860.8 741.9 862.8 742.5 864.8 742.5 866.8 742 868.8 743 870.8 743.6 872.8 745.2 874.8 745.9 876.8 745.2 878.8 744.5 880.8 744.9 882.8 745.8 884.8 747.6 886.8 747 888.8 746.9 890.8 746.6 892.8 748.4 894.8 748.2 896.8 748.3 898.8 748.8 900.8 750.5 902.8 749.2 904.8 751.2 906.8 751.1 908.8 750.4 910.8 751.5 912.8 750.9 914.8 750.6 916.8 751.4 918.8 751.1 920.8 752.6 922.8 752.4 924.8 753.1 926.8 753.6 928.8 750.2 930.8 753.5 932.8 751.7 934.8 753.6 936.8 752.7 938.8 753.7 940.8 754.9 942.8 752.2 944.8 754 946.8 753.8 948.8 752.3 950.8 754.6 952.8 754.1 954.8 753.7 956.8 753.6 958.8 757.2 960.8 754 962.8 752.8 964.8 753.6 966.8 754.2 968.8 754.2 970.8 754.6 972.8 753.7 974.8 755.2 976.8 754.3 978.8 753.6 980.8 754.1 982.8 754.6 984.8 755.7 986.8 755.4 988.8 754.7 990.8 755.1 992.8 755.3 994.8 757 996.8 754.7 998.8 755.7 1000.8 756 1002.8 754.5 1004.8 755.5 1006.8 755.5 1008.8 755 1010.8 755.9 1012.8 756.3 1014.8 756.4 1016.8 755.2 1018.8 755.6 1020.8 757.5 1022.8 754.4 1024.8 755.6 1026.8 756.2 1028.8 755.6 1030.8 756 1032.8 755.6 1034.8 756.1 1036.8 756.6 1038.8 755.2 1040.8 755.6 1042.8 755.4 1044.8 755.1 1046.8 755.4 1048.8 754.4 1050.8 756.1 1052.8 757 1054.8 757 1056.8 756.6 1058.8 754.6 1060.8 756.8 1062.8 754.8 1064.8 755.4 1066.8 757.1 1068.8 754.5 1070.8 756.2 1072.8 755.8 1074.8 755.4 1076.8 754.8 1078.8 756 1080.8 755.2 1082.8 756.6 1084.8 756.8 1086.8 754.5 1088.8 755.3 1090.8 755.6 1092.8 754.8 1094.8 754.9 1096.8 756.1 1098.8 755.9 1100.8 754.6 1102.8 755.7 1104.8 756.7 1106.8 755.2 1108.8 755.6 1110.8 757.9 1112.8 757.7 1114.8 755.2 1116.8 755.5 1118.8 757.1 1120.8 755.8 1122.8 756.7 1124.8 756.6 1126.8 757.6 1128.8 754.9 1130.8 755.3 1132.8 756.2 1134.8 758.3 1136.8 757.4 1138.8 756.1 1140.8 758.1 1142.8 758.4 1144.8 757.7 1146.8 757.7 1148.8 758.5 1150.8 759.3 1152.8 758.4 1154.8 758.8 1156.8 758.4 1158.8 758.2 1160.8 757.8 1162.8 759 1164.8 758.5 1166.8 758.7 1168.9 759.8 1170.9 759.5 1172.9 760 1174.9 757.9 1176.9 759.9 1178.9 758.9 1180.9 758.8 1182.9 758.9 1184.9 760.8 1186.9 760.6 1188.9 759.3 1190.9 759 1192.9 760.2 1194.9 759.9 1196.9 761.9 1198.9 759.2 1200.9 759 1202.9 760.5 1204.9 760.9 1206.9 761.1 1208.9 761.8 1210.9 763.1 1212.9 761.1 1214.9 761.1 1216.9 760.1 1218.9 762 1220.9 762.7 1222.9 761.9 1224.9 763.3 1226.9 762.4 1228.9 763.9 1230.9 763 1232.9 761.9 1234.9 762.4 1236.9 761.7 1238.9 761.7 1240.9 763.7 1242.9 764.4 1244.9 765.5 1246.9 763.8 1248.9 763.8 1250.9 763.2 1252.9 765.2 1254.9 764.8 1256.9 764.1 1258.9 765.4 1260.9 765.4 1262.9 763.4 1264.9 765.9 1266.9 765.5 1268.9 765.2 1270.9 765.3 1272.9 767.4 1274.9 767.3 1276.9 767.8 1278.9 765.2 1280.9 765.8 1282.9 767.4 1284.9 765.6 1286.9 766.2 1288.9 765.3 1290.9 768.8 1292.9 768.2 1294.9 767.8 1296.9 767.7 1298.9 767.2 1300.9 767.4 1302.9 768.4 1304.9 767.3 1306.9 769.2 1308.9 767.8 1310.9 767.6 1312.9 769.7 1314.9 768.5 1316.9 769.3 1318.9 768.5 1320.9 767 1322.9 769.7 1324.9 768.1 1326.9 770.4 1328.9 768.2 1330.9 768 1332.9 770.1 1334.9 770.3 1336.9 770.2 1338.9 769.1 1340.9 771.1 1342.9 769.1 1344.9 770.2 1346.9 770 1348.9 770.5 1350.9 771.7 1352.9 770.5 1354.9 771.7 1356.9 772 1358.9 769.9 1360.9 770.6 1362.9 771.4 1364.9 771.3 1366.9 772.3 1368.9 770.4 1370.9 772.9 1372.9 773 1374.9 772.3 1376.9 771.3 1378.9 772.7 1380.9 772.3 1382.9 773.5 1384.9 773 1386.9 773.8 1388.9 772.9 1390.9 774.7 1392.9 771.4 1394.9 772.7 1396.9 774.2 1398.9 772.5 1400.9 774.6 1402.9 773 1404.9 774.2 1406.9 773.4 1408.9 774 1410.9 774.6 1412.9 774.5 1414.9 774.3 1416.9 776.7 1418.9 774.9 1420.9 774.1 1422.9 775.9 1424.9 775.9 1426.9 776.3 1428.9 776.9 1430.9 774.6 1432.9 776.5 1434.9 776.6 1436.9 775.7 1438.9 776 1440.9 773.2 1442.9 775.4 1444.9 777.7 1446.9 774.5 1448.9 775.7 1450.9 776.6 1452.9 776.9 1454.9 778 1456.9 775 1458.9 776.7 1460.9 777.5 1462.9 775.6 1464.9 776.9 1466.9 778.7 1468.9 778.3 1470.9 777.6 1472.9 774.9 1474.9 777.2 1476.9 777.7 1478.9 777.2 1480.9 777.5 1482.9 780.4 1484.9 777.5 1486.9 776.9 1488.9 778.1 1490.9 777.7 1492.9 777.7 1494.9 778 1496.9 778.9 1498.9 778.5 1500.9 777.2 1502.9 778.3 1504.9 778.9 1506.9 778.1 1508.9 779.6 1510.9 779.4 1512.9 777.9 1514.9 779.1 1516.9 780.7 1518.9 780.4 1520.9 779 1522.9 779.9 1524.9 778.6 1526.9 777.9 1528.9 779.8 1531 779.6 1533 779.9 1535 779.5 1537 779.8 1539 779.2 1541 780.1 1543 780.5 1545 779.7 1547 780.6 1549 778.3 1551 779.3 1553 781.3 1555 781.7 1557 780.4 1559 780.1 1561 779.1 1563 780.6 1565 781.1 1567 779.1 1569 781 1571 781 1573 781 1575 779.6 1577 781.2 1579 779.4 1581 782.1 1583 781 1585 779.9 1587 782.2 1589 782.1 1591 780.5 1593 783.1 1595 780.3 1597 781.5 1599 782.3 1601 779.3 1603 782.3 1605 781.4 1607 781.5 1609 780.6 1611 781.9 1613 780.6 1615 780.8 1617 781.3 1619 780.7 1621 783.2 1623 780.7 1625 781.2 1627 781.7 1629 782 1631 782.8 1633 782.9 1635 781.9 1637 781.9 1639 782.3 1641 783.1 1643 783 1645 782 1647 780.6 1649 784.5 1651 783.5 1653 782.9 1655 783 1657 782.3 1659 781.9 1661 782.6 1663 782.7 1665 782.4 1667 781.7 1669 782.8 1671 783.7 1673 782.7 1675 783.3 1677 781.4 1679 783.2 1681 783.3 1683 782.4 1685 782 1687 784 1689 782.9 1691 784.2 1693 783.4"/><path d="M310.6 750.9L312.6 750.3 314.6 749.8 316.6 749.4 318.6 748.9 320.6 748.5 322.6 748.1 324.6 747.8 326.6 747.4 328.6 747.1 330.6 746.7 332.6 746.4 334.6 746 336.6 745.7 338.6 745.3 340.6 745 342.6 744.6 344.6 744.2 346.6 743.9 348.6 743.5 350.6 743.1 352.6 742.6 354.6 742.2 356.6 741.7 358.6 741.2 360.6 740.6 362.6 740 364.6 739.3 366.6 738.7 368.6 738 370.6 737.4 372.6 736.8 374.6 736.3 376.6 735.8 378.6 735.3 380.6 735 382.6 734.6 384.6 734.3 386.6 734.1 388.6 733.8 390.6 733.6 392.6 733.4 394.6 733.2 396.6 732.9 398.6 732.7 400.6 732.5 402.6 732.3 404.6 732.1 406.6 731.8 408.6 731.5 410.6 731.2 412.6 730.9 414.6 730.5 416.6 730.1 418.6 729.7 420.6 729.3 422.6 728.8 424.6 728.3 426.6 727.8 428.6 727.2 430.6 726.7 432.6 726.2 434.6 725.7 436.6 725.2 438.6 724.7 440.6 724.2 442.6 723.7 444.6 723.3 446.7 722.9 448.7 722.4 450.7 722 452.7 721.6 454.7 721.2 456.7 720.8 458.7 720.4 460.7 720 462.7 719.6 464.7 719.2 466.7 718.9 468.7 718.6 470.7 718.3 472.7 718 474.7 717.7 476.7 717.5 478.7 717.2 480.7 716.9 482.7 716.6 484.7 716.3 486.7 716 488.7 715.7 490.7 715.4 492.7 715 494.7 714.7 496.7 714.4 498.7 714 500.7 713.7 502.7 713.3 504.7 712.8 506.7 712.4 508.7 711.8 510.7 711.2 512.7 710.5 514.7 709.6 516.7 708.6 518.7 707.6 520.7 706.5 522.7 705.3 524.7 704.1 526.7 702.9 528.7 701.6 530.7 700.4 532.7 699 534.7 697.4 536.7 695.8 538.7 694.1 540.7 692.3 542.7 690.4 544.7 688.5 546.7 686.4 548.7 684.1 550.7 681.7 552.7 678.8 554.7 675.7 556.7 672.5 558.7 669.2 560.7 665.9 562.7 662.8 564.7 659.9 566.7 657.1 568.7 654.4 570.7 651.7 572.7 648.9 574.7 646 576.7 643 578.7 639.8 580.7 636.4 582.7 633 584.7 629.5 586.7 626.1 588.7 622.8 590.7 619.5 592.7 616.1 594.7 612.7 596.7 608.9 598.7 604.8 600.7 600.3 602.7 595.6 604.7 590.8 606.7 586.1 608.7 581.6 610.7 577.5 612.7 573.7 614.7 570 616.7 566.3 618.7 562.2 620.7 557.7 622.7 553 624.7 547.9 626.7 542.6 628.7 536.9 630.7 530.3 632.7 523.4 634.7 517.3 636.7 511.2 638.7 506 640.7 502.5 642.7 499.7 644.7 498.4 646.7 499.9 648.7 503.5 650.7 508.1 652.7 512.4 654.7 516.2 656.7 520.7 658.7 524.7 660.7 526.7 662.7 525.9 664.7 523 666.7 518.8 668.7 514.1 670.7 509.8 672.7 504.2 674.7 497.6 676.7 491.8 678.7 488.6 680.7 489.8 682.7 495 684.7 502.2 686.7 510.9 688.7 524.5 690.7 538 692.7 550.3 694.7 561.2 696.7 569.8 698.7 577.2 700.7 582.8 702.7 586.8 704.7 590.8 706.7 593.8 708.7 595.2 710.7 594.7 712.7 593.4 714.7 591.8 716.7 590.2 718.7 588.4 720.7 585.9 722.7 583.4 724.7 581.7 726.7 581.4 728.7 583.5 730.7 587.2 732.7 591.2 734.7 595.3 736.7 600.5 738.7 606.2 740.7 611.8 742.7 616.8 744.7 621.7 746.7 627.2 748.7 634.2 750.7 643.4 752.7 650.4 754.7 655.9 756.7 661 758.7 665.7 760.7 669.9 762.7 673.7 764.7 677.2 766.7 680.3 768.7 683.1 770.7 685.6 772.7 688 774.7 690.2 776.7 692.2 778.7 694.2 780.7 696.1 782.7 697.9 784.7 699.8 786.7 701.6 788.7 703.4 790.7 705.2 792.7 706.9 794.7 708.5 796.7 710.1 798.7 711.7 800.7 713.2 802.7 714.6 804.7 715.9 806.7 717.1 808.8 718.3 810.8 719.4 812.8 720.5 814.8 721.6 816.8 722.6 818.8 723.6 820.8 724.5 822.8 725.4 824.8 726.3 826.8 727.1 828.8 728 830.8 728.8 832.8 729.6 834.8 730.4 836.8 731.1 838.8 731.9 840.8 732.6 842.8 733.2 844.8 733.9 846.8 734.5 848.8 735 850.8 735.5 852.8 736.1 854.8 736.6 856.8 737.1 858.8 737.5 860.8 738 862.8 738.5 864.8 738.9 866.8 739.3 868.8 739.8 870.8 740.2 872.8 740.6 874.8 741 876.8 741.4 878.8 741.7 880.8 742.1 882.8 742.5 884.8 742.8 886.8 743.2 888.8 743.5 890.8 743.8 892.8 744.1 894.8 744.5 896.8 744.8 898.8 745.2 900.8 745.5 902.8 745.8 904.8 746.2 906.8 746.5 908.8 746.8 910.8 747.2 912.8 747.5 914.8 747.8 916.8 748.1 918.8 748.3 920.8 748.6 922.8 748.8 924.8 749.1 926.8 749.3 928.8 749.4 930.8 749.6 932.8 749.7 934.8 749.8 936.8 749.9 938.8 750 940.8 750.1 942.8 750.1 944.8 750.2 946.8 750.3 948.8 750.4 950.8 750.4 952.8 750.5 954.8 750.6 956.8 750.6 958.8 750.7 960.8 750.8 962.8 750.8 964.8 750.9 966.8 750.9 968.8 751 970.8 751 972.8 751.1 974.8 751.1 976.8 751.2 978.8 751.2 980.8 751.3 982.8 751.3 984.8 751.4 986.8 751.4 988.8 751.4 990.8 751.5 992.8 751.5 994.8 751.6 996.8 751.6 998.8 751.7 1000.8 751.7 1002.8 751.7 1004.8 751.7 1006.8 751.8 1008.8 751.8 1010.8 751.8 1012.8 751.8 1014.8 751.8 1016.8 751.8 1018.8 751.8 1020.8 751.8 1022.8 751.8 1024.8 751.8 1026.8 751.8 1028.8 751.8 1030.8 751.8 1032.8 751.8 1034.8 751.8 1036.8 751.8 1038.8 751.8 1040.8 751.8 1042.8 751.8 1044.8 751.8 1046.8 751.8 1048.8 751.8 1050.8 751.8 1052.8 751.8 1054.8 751.8 1056.8 751.8 1058.8 751.8 1060.8 751.8 1062.8 751.8 1064.8 751.8 1066.8 751.9 1068.8 751.9 1070.8 751.9 1072.8 751.9 1074.8 751.9 1076.8 752 1078.8 752 1080.8 752 1082.8 752.1 1084.8 752.1 1086.8 752.2 1088.8 752.2 1090.8 752.3 1092.8 752.3 1094.8 752.4 1096.8 752.4 1098.8 752.5 1100.8 752.5 1102.8 752.6 1104.8 752.7 1106.8 752.7 1108.8 752.8 1110.8 752.9 1112.8 752.9 1114.8 753 1116.8 753.1 1118.8 753.2 1120.8 753.3 1122.8 753.3 1124.8 753.4 1126.8 753.5 1128.8 753.6 1130.8 753.7 1132.8 753.8 1134.8 753.8 1136.8 753.9 1138.8 754 1140.8 754.1 1142.8 754.2 1144.8 754.3 1146.8 754.4 1148.8 754.5 1150.8 754.6 1152.8 754.7 1154.8 754.8 1156.8 754.9 1158.8 754.9 1160.8 755 1162.8 755.1 1164.8 755.2 1166.8 755.3 1168.9 755.4 1170.9 755.5 1172.9 755.6 1174.9 755.7 1176.9 755.8 1178.9 755.9 1180.9 756 1182.9 756.1 1184.9 756.2 1186.9 756.3 1188.9 756.4 1190.9 756.5 1192.9 756.6 1194.9 756.7 1196.9 756.8 1198.9 756.9 1200.9 757 1202.9 757.2 1204.9 757.3 1206.9 757.4 1208.9 757.6 1210.9 757.7 1212.9 757.8 1214.9 758 1216.9 758.1 1218.9 758.2 1220.9 758.4 1222.9 758.5 1224.9 758.7 1226.9 758.8 1228.9 758.9 1230.9 759.1 1232.9 759.2 1234.9 759.4 1236.9 759.5 1238.9 759.7 1240.9 759.8 1242.9 760 1244.9 760.1 1246.9 760.3 1248.9 760.4 1250.9 760.6 1252.9 760.7 1254.9 760.9 1256.9 761 1258.9 761.2 1260.9 761.3 1262.9 761.5 1264.9 761.6 1266.9 761.8 1268.9 761.9 1270.9 762.1 1272.9 762.2 1274.9 762.4 1276.9 762.5 1278.9 762.7 1280.9 762.8 1282.9 763 1284.9 763.1 1286.9 763.2 1288.9 763.4 1290.9 763.5 1292.9 763.6 1294.9 763.8 1296.9 763.9 1298.9 764 1300.9 764.1 1302.9 764.3 1304.9 764.4 1306.9 764.5 1308.9 764.7 1310.9 764.8 1312.9 764.9 1314.9 765.1 1316.9 765.2 1318.9 765.3 1320.9 765.4 1322.9 765.6 1324.9 765.7 1326.9 765.8 1328.9 766 1330.9 766.1 1332.9 766.2 1334.9 766.4 1336.9 766.5 1338.9 766.6 1340.9 766.8 1342.9 766.9 1344.9 767 1346.9 767.1 1348.9 767.3 1350.9 767.4 1352.9 767.5 1354.9 767.6 1356.9 767.8 1358.9 767.9 1360.9 768 1362.9 768.2 1364.9 768.3 1366.9 768.4 1368.9 768.5 1370.9 768.6 1372.9 768.8 1374.9 768.9 1376.9 769 1378.9 769.1 1380.9 769.2 1382.9 769.4 1384.9 769.5 1386.9 769.6 1388.9 769.7 1390.9 769.8 1392.9 769.9 1394.9 770 1396.9 770.1 1398.9 770.2 1400.9 770.4 1402.9 770.5 1404.9 770.6 1406.9 770.7 1408.9 770.8 1410.9 770.9 1412.9 771 1414.9 771.1 1416.9 771.2 1418.9 771.3 1420.9 771.4 1422.9 771.4 1424.9 771.5 1426.9 771.6 1428.9 771.7 1430.9 771.8 1432.9 771.9 1434.9 772 1436.9 772.1 1438.9 772.2 1440.9 772.3 1442.9 772.4 1444.9 772.5 1446.9 772.5 1448.9 772.6 1450.9 772.7 1452.9 772.8 1454.9 772.9 1456.9 773 1458.9 773.1 1460.9 773.1 1462.9 773.2 1464.9 773.3 1466.9 773.4 1468.9 773.5 1470.9 773.6 1472.9 773.6 1474.9 773.7 1476.9 773.8 1478.9 773.9 1480.9 774 1482.9 774 1484.9 774.1 1486.9 774.2 1488.9 774.3 1490.9 774.4 1492.9 774.4 1494.9 774.5 1496.9 774.6 1498.9 774.7 1500.9 774.7 1502.9 774.8 1504.9 774.9 1506.9 774.9 1508.9 775 1510.9 775.1 1512.9 775.2 1514.9 775.2 1516.9 775.3 1518.9 775.4 1520.9 775.4 1522.9 775.5 1524.9 775.6 1526.9 775.6 1528.9 775.7 1531 775.8 1533 775.8 1535 775.9 1537 776 1539 776 1541 776.1 1543 776.1 1545 776.2 1547 776.3 1549 776.3 1551 776.4 1553 776.4 1555 776.5 1557 776.6 1559 776.6 1561 776.7 1563 776.7 1565 776.8 1567 776.8 1569 776.9 1571 776.9 1573 777 1575 777 1577 777.1 1579 777.2 1581 777.2 1583 777.3 1585 777.3 1587 777.4 1589 777.4 1591 777.5 1593 777.5 1595 777.6 1597 777.6 1599 777.7 1601 777.7 1603 777.8 1605 777.8 1607 777.9 1609 777.9 1611 778 1613 778 1615 778.1 1617 778.1 1619 778.2 1621 778.2 1623 778.3 1625 778.3 1627 778.4 1629 778.4 1631 778.5 1633 778.5 1635 778.6 1637 778.6 1639 778.7 1641 778.7 1643 778.8 1645 778.8 1647 778.9 1649 779 1651 779 1653 779.1 1655 779.1 1657 779.2 1659 779.2 1661 779.3 1663 779.3 1665 779.4 1667 779.4 1669 779.5 1671 779.5 1673 779.6 1675 779.7 1677 779.7 1679 779.8 1681 779.8 1683 779.9 1685 779.9 1687 780 1689 780.1 1691 780.1 1693 780.2"/></g>
<path d="M264.6 771.9L266.6 771.3 268.6 770.8 270.6 770.3 272.6 769.7 274.6 769.2 276.6 768.7 278.6 768.2 280.6 767.6 282.6 767.1 284.6 766.7 286.6 766.2 288.6 765.7 290.6 765.3 292.6 764.8 294.6 764.4 296.6 763.9 298.6 763.5 300.6 763.1 302.6 762.8 304.6 762.4 306.6 762 308.6 761.7 310.6 761.3 312.6 761 314.6 760.7 316.6 760.4 318.6 760.2 320.6 759.9 322.6 759.7 324.6 759.4 326.6 759.2 328.6 758.9 330.6 758.7 332.6 758.4 334.6 758.2 336.6 757.9 338.6 757.7 340.6 757.5 342.6 757.3 344.6 757 346.6 756.8 348.6 756.6 350.7 756.4 352.7 756.3 354.7 756.1 356.7 755.9 358.7 755.8 360.7 755.7 362.7 755.6 364.7 755.4 366.7 755.4 368.7 755.3 370.7 755.2 372.7 755.2 374.7 755.2 376.7 755.2 378.7 755.2 380.7 755.3 382.7 755.3 384.7 755.4 386.7 755.5 388.7 755.5 390.7 755.6 392.7 755.8 394.7 755.9 396.7 756 398.7 756.2 400.7 756.3 402.7 756.5 404.7 756.7 406.7 756.9 408.7 757.1 410.7 757.3 412.7 757.5 414.7 757.7 416.7 757.9 418.7 758.1 420.7 758.3 422.7 758.6 424.7 758.8 426.7 759.1 428.7 759.3 430.7 759.6 432.7 759.8 434.7 760 436.7 760.3 438.7 760.6 440.7 760.9 442.7 761.2 444.7 761.5 446.7 761.9 448.7 762.3 450.7 762.8 452.7 763.2 454.7 763.7 456.7 764.2 458.7 764.7 460.7 765.2 462.7 765.7 464.7 766.2 466.7 766.8 468.7 767.3 470.7 767.8 472.7 768.3 474.7 768.8 476.7 769.3 478.7 769.7 480.7 770.2 482.7 770.6 484.7 771 486.7 771.5 488.7 771.9 490.7 772.3 492.7 772.7 494.7 773.2 496.7 773.6 498.7 774 500.7 774.4 502.7 774.8 504.7 775.2 506.7 775.7 508.7 776.1 510.7 776.5 512.7 776.9 514.7 777.3 516.7 777.7 518.8 778.1" fill="none" stroke="#2a9696" stroke-width="6.5" stroke-linejoin="round" stroke-linecap="round" />
<path d="M420.8 778.1L422.8 777.6 424.9 777.1 426.9 776.6 429 776.1 431 775.6 433 775 435.1 774.4 437.1 773.9 439.2 773.2 441.2 772.6 443.2 771.8 445.3 770.9 447.3 770 449.4 769.1 451.4 768.2 453.4 767.5 455.5 767 457.5 766.7 459.6 766.7 461.6 766.7 463.7 766.8 465.7 766.8 467.7 766.9 469.8 767 471.8 767.1 473.9 767.2 475.9 767.3 477.9 767.5 480 767.6 482 767.8 484.1 767.9 486.1 768.1 488.1 768.3 490.2 768.6 492.2 769 494.3 769.5 496.3 769.9 498.3 770.5 500.4 771.1 502.4 771.7 504.5 772.4 506.5 773.1 508.5 773.9 510.6 774.7 512.6 775.5 514.7 776.3 516.7 777.2 518.8 778.1" fill="none" stroke="#2a9696" stroke-width="6.5" stroke-linejoin="round" stroke-linecap="round" />
<path d="M589.4 775.4L590.9 775.3 592.4 775.1 593.9 775 595.4 774.8 596.9 774.6 598.4 774.4 600 774.1 601.5 773.9 603 773.6 604.5 773.2 606 772.9 607.5 772.4 609 772 610.5 771.4 612 770.8 613.5 770 615 769.2 616.5 768.2 618.1 767.1 619.6 765.8 621.1 764.4 622.6 762.7 624.1 760.9 625.6 758.8 627.1 756.6 628.6 754.1 630.1 751.4 631.6 748.6 633.1 745.6 634.6 742.6 636.2 739.6 637.7 736.8 639.2 734.4 640.7 732.5 642.2 731.4 643.7 731 645.2 731.5 646.7 732.8 648.2 734.7 649.7 737.2 651.2 740 652.8 743 654.3 746 655.8 748.9 657.3 751.8 658.8 754.4 660.3 756.9 661.8 759.1 663.3 761.1 664.8 763 666.3 764.6 667.8 766 669.3 767.2 670.9 768.3 672.4 769.3 673.9 770.1 675.4 770.8 676.9 771.5 678.4 772 679.9 772.5 681.4 772.9 682.9 773.3 684.4 773.6 685.9 773.9 687.4 774.2 689 774.4 690.5 774.6 692 774.8 693.5 775 695 775.2 696.5 775.3 698 775.4" fill="none" stroke="#3030a8" stroke-width="6.5" stroke-linejoin="round" stroke-linecap="round" />
<path d="M636 776.8L637.5 776.7 639 776.6 640.6 776.5 642.1 776.4 643.6 776.3 645.1 776.1 646.6 776 648.1 775.8 649.7 775.6 651.2 775.3 652.7 775 654.2 774.6 655.7 774.1 657.2 773.4 658.8 772.5 660.3 771.4 661.8 769.8 663.3 767.8 664.8 765.3 666.4 762.2 667.9 758.4 669.4 753.9 670.9 748.8 672.4 743 673.9 736.8 675.5 730.5 677 724.2 678.5 718.4 680 713.7 681.5 710.4 683 709 684.6 709.7 686.1 712.4 687.6 716.7 689.1 722.2 690.6 728.3 692.1 734.7 693.7 741 695.2 746.9 696.7 752.2 698.2 757 699.7 761 701.3 764.3 702.8 767 704.3 769.2 705.8 770.9 707.3 772.2 708.8 773.2 710.4 773.9 711.9 774.5 713.4 774.9 714.9 775.2 716.4 775.5 717.9 775.7 719.5 775.9 721 776.1 722.5 776.2" fill="none" stroke="#3030a8" stroke-width="6.5" stroke-linejoin="round" stroke-linecap="round" />
<path d="M666 775.1L667.5 775 669 774.9 670.5 774.7 672 774.5 673.5 774.4 675 774.2 676.5 774 678 773.8 679.5 773.5 681 773.3 682.5 773 684 772.7 685.5 772.4 687 772 688.6 771.6 690.1 771.1 691.6 770.6 693.1 770 694.6 769.3 696.1 768.5 697.6 767.6 699.1 766.5 700.6 765.3 702.1 763.9 703.6 762.4 705.1 760.6 706.6 758.5 708.1 756.3 709.6 753.7 711.1 750.8 712.6 747.6 714.1 744.2 715.6 740.4 717.1 736.4 718.6 732.2 720.1 727.8 721.6 723.4 723.1 719.2 724.6 715.1 726.1 711.6 727.6 708.8 729.1 706.9 730.6 706 732.2 706.3 733.7 707.8 735.2 710.2 736.7 713.4 738.2 717.2 739.7 721.4 741.2 725.8 742.7 730.2 744.2 734.5 745.7 738.6 747.2 742.5 748.7 746.1 750.2 749.4 751.7 752.4 753.2 755.1 754.7 757.5 756.2 759.7 757.7 761.6 759.2 763.2 760.7 764.7 762.2 766 763.7 767.1 765.2 768.1 766.7 768.9 768.2 769.6 769.7 770.3 771.2 770.9 772.7 771.4 774.2 771.8 775.8 772.2 777.3 772.5 778.8 772.9 780.3 773.2 781.8 773.4 783.3 773.7 784.8 773.9 786.3 774.1 787.8 774.3 789.3 774.5 790.8 774.6 792.3 774.8 793.8 774.9 795.3 775.1 796.8 775.2" fill="none" stroke="#3030a8" stroke-width="6.5" stroke-linejoin="round" stroke-linecap="round" />
<path d="M264.6 773.5L266.6 773.5 268.6 773.5 270.6 773.4 272.6 773.4 274.6 773.4 276.6 773.3 278.6 773.2 280.6 773.2 282.6 773.1 284.6 773 286.6 772.9 288.7 772.8 290.7 772.7 292.7 772.6 294.7 772.4 296.7 772.3 298.7 772.2 300.7 772 302.7 771.9 304.7 771.7 306.7 771.6 308.7 771.4 310.7 771.2 312.7 771 314.7 770.9 316.7 770.7 318.7 770.5 320.7 770.3 322.7 770.1 324.7 769.9 326.7 769.7 328.7 769.5 330.7 769.3 332.8 769.1 334.8 768.9 336.8 768.6 338.8 768.4 340.8 768.2 342.8 768 344.8 767.8 346.8 767.5 348.8 767.3 350.8 767.1 352.8 766.9 354.8 766.6 356.8 766.4 358.8 766.1 360.8 765.9 362.8 765.6 364.8 765.3 366.8 765 368.8 764.6 370.8 764.3 372.8 763.9 374.8 763.6 376.8 763.2 378.9 762.8 380.9 762.4 382.9 762 384.9 761.6 386.9 761.1 388.9 760.7 390.9 760.3 392.9 759.8 394.9 759.4 396.9 758.9 398.9 758.4 400.9 758 402.9 757.5 404.9 757 406.9 756.5 408.9 756.1 410.9 755.6 412.9 755.1 414.9 754.6 416.9 754.1 418.9 753.7 420.9 753.2 422.9 752.7 425 752.2 427 751.6 429 751.1 431 750.6 433 750 435 749.5 437 748.9 439 748.4 441 747.8 443 747.2 445 746.7 447 746.1 449 745.5 451 744.8 453 744.2 455 743.6 457 743 459 742.3 461 741.7 463 741 465 740.4 467 739.7 469.1 739 471.1 738.3 473.1 737.6 475.1 736.9 477.1 736.2 479.1 735.4 481.1 734.7 483.1 734 485.1 733.2 487.1 732.4 489.1 731.7 491.1 730.9 493.1 730.1 495.1 729.2 497.1 728.4 499.1 727.5 501.1 726.6 503.1 725.7 505.1 724.8 507.1 723.9 509.1 722.9 511.1 721.9 513.1 720.9 515.2 719.8 517.2 718.7 519.2 717.6 521.2 716.5 523.2 715.3 525.2 714.1 527.2 712.9 529.2 711.7 531.2 710.4 533.2 709.1 535.2 707.8 537.2 706.4 539.2 704.9 541.2 703.4 543.2 701.9 545.2 700.3 547.2 698.6 549.2 696.9 551.2 695.1 553.2 693.2 555.2 691.2 557.2 689.1 559.2 687 561.3 684.7 563.3 682.4 565.3 679.6 567.3 676.3 569.3 672.7 571.3 668.8 573.3 664.8 575.3 660.6 577.3 656.4 579.3 652.3 581.3 648.4 583.3 644.7 585.3 641 587.3 637.4 589.3 633.8 591.3 630.2 593.3 626.6 595.3 623 597.3 619.5 599.3 616 601.3 612.6 603.3 609.3 605.4 606 607.4 602.6 609.4 599.1 611.4 595.6 613.4 592.1 615.4 588.8 617.4 585.6 619.4 582.5 621.4 579.8 623.4 577.3 625.4 575.2 627.4 573.3 629.4 571.4 631.4 569.6 633.4 567.8 635.4 566 637.4 564.4 639.4 562.9 641.4 561.5 643.4 560.4 645.4 559.4 647.4 558.7 649.4 558.2 651.5 558.1 653.5 558.3 655.5 558.8 657.5 559.6 659.5 560.7 661.5 562 663.5 563.5 665.5 565.2 667.5 567 669.5 568.9 671.5 570.8 673.5 572.8 675.5 574.7 677.5 576.8 679.5 579.3 681.5 582 683.5 585 685.5 588.2 687.5 591.6 689.5 595 691.5 598.4 693.5 601.9 695.5 605.2 697.6 608.4 699.6 611.6 701.6 614.9 703.6 618.2 705.6 621.6 707.6 624.9 709.6 628.2 711.6 631.5 713.6 634.7 715.6 637.9 717.6 640.9 719.6 643.9 721.6 646.8 723.6 649.7 725.6 652.5 727.6 655.4 729.6 658.3 731.6 661.1 733.6 663.9 735.6 666.7 737.6 669.4 739.6 672.1 741.7 674.8 743.7 677.4 745.7 680 747.7 682.5 749.7 684.9 751.7 687.3 753.7 689.7 755.7 692 757.7 694.2 759.7 696.3 761.7 698.4" fill="none" stroke="#a33030" stroke-width="6.5" stroke-linejoin="round" stroke-linecap="round" />
<path d="M480.7 725.9L482.7 725.6 484.7 725.3 486.7 725 488.7 724.7 490.7 724.3 492.7 724 494.7 723.6 496.7 723.3 498.7 722.9 500.7 722.5 502.7 722.1 504.7 721.6 506.7 721.1 508.7 720.6 510.7 719.9 512.7 719.2 514.7 718.3 516.7 717.4 518.7 716.3 520.7 715.2 522.7 714.1 524.7 712.9 526.7 711.6 528.7 710.4 530.7 709.1 532.7 707.6 534.7 706.1 536.7 704.4 538.7 702.7 540.7 700.9 542.7 699 544.7 697 546.7 694.9 548.7 692.6 550.7 690.1 552.7 687.4 554.7 684.4 556.7 681.3 558.7 678.1 560.7 674.9 562.7 671.8 564.7 668.9 566.7 666.1 568.7 663.3 570.7 660.5 572.7 657.7 574.7 654.8 576.7 651.7 578.7 648.5 580.7 645.2 582.7 641.7 584.7 638.3 586.7 634.9 588.7 631.5 590.7 628.1 592.7 624.7 594.7 621.2 596.7 617.4 598.7 613.3 600.7 609 602.7 604.4 604.7 599.7 606.7 595.2 608.7 590.7 610.7 586.5 612.7 582.6 614.7 578.8 616.7 574.8 618.7 570.7 620.7 566.2 622.7 561.5 624.7 556.5 626.7 551.3 628.7 545.9 630.7 539.8 632.7 533.6 634.7 528 636.7 522.5 638.7 517.9" fill="none" stroke="#8b0000" stroke-width="6" stroke-linejoin="round" stroke-linecap="round" />
<path d="M759.7 696.3L761.7 698.4 763.7 700.4 765.7 702.3 767.7 704.3 769.7 706.2 771.7 708.1 773.7 709.9 775.7 711.8 777.7 713.6 779.7 715.3 781.7 717 783.7 718.7 785.7 720.4 787.8 722 789.8 723.5 791.8 725 793.8 726.5 795.8 727.8 797.8 729.2 799.8 730.5 801.8 731.7 803.8 732.9 805.8 733.9 807.8 735 809.8 736 811.8 737 813.8 738 815.8 739 817.8 739.9 819.8 740.8 821.8 741.7 823.8 742.6 825.8 743.4 827.8 744.2 829.8 745 831.8 745.7 833.9 746.5 835.9 747.2 837.9 747.8 839.9 748.5 841.9 749.1 843.9 749.7 845.9 750.3 847.9 750.8 849.9 751.3 851.9 751.8 853.9 752.3 855.9 752.8 857.9 753.3 859.9 753.8 861.9 754.3 863.9 754.8 865.9 755.2 867.9 755.7 869.9 756.1 871.9 756.5 873.9 756.9 875.9 757.3 878 757.7 880 758.1 882 758.4 884 758.7 886 759 888 759.3 890 759.6 892 759.8 894 760.1 896 760.3 898 760.4 900 760.6" fill="none" stroke="#8b0000" stroke-width="6.5" stroke-linejoin="round" stroke-linecap="round" />
<path d="M827.1 771.4L829.1 771.3 831.1 771.3 833.1 771.2 835.1 771.2 837.1 771.1 839.2 771 841.2 771 843.2 770.9 845.2 770.8 847.2 770.8 849.2 770.7 851.2 770.6 853.2 770.6 855.2 770.5 857.2 770.4 859.2 770.3 861.3 770.2 863.3 770.2 865.3 770.1 867.3 770 869.3 769.9 871.3 769.8 873.3 769.8 875.3 769.7 877.3 769.6 879.3 769.5 881.4 769.4 883.4 769.3 885.4 769.2 887.4 769.1 889.4 769 891.4 768.9 893.4 768.8 895.4 768.7 897.4 768.6 899.4 768.5 901.4 768.4 903.5 768.3 905.5 768.2 907.5 768.1 909.5 768 911.5 767.8 913.5 767.7 915.5 767.6 917.5 767.5 919.5 767.4 921.5 767.2 923.5 767.1 925.6 767 927.6 766.8 929.6 766.7 931.6 766.6 933.6 766.4 935.6 766.3 937.6 766.2 939.6 766.1 941.6 765.9 943.6 765.8 945.7 765.7 947.7 765.5 949.7 765.4 951.7 765.3 953.7 765.1 955.7 765 957.7 764.9 959.7 764.7 961.7 764.6 963.7 764.5 965.7 764.3 967.8 764.2 969.8 764.1 971.8 763.9 973.8 763.8 975.8 763.7 977.8 763.5 979.8 763.4 981.8 763.3 983.8 763.1 985.8 763 987.9 762.9 989.9 762.7 991.9 762.6 993.9 762.4 995.9 762.3 997.9 762.2 999.9 762 1001.9 761.9 1003.9 761.7 1005.9 761.6 1007.9 761.5 1010 761.3 1012 761.2 1014 761 1016 760.9 1018 760.7 1020 760.6" fill="none" stroke="#a33030" stroke-width="6.5" stroke-linejoin="round" stroke-linecap="round" />
<path d="M850.8 740.7L852.8 741.2 854.8 741.7 856.8 742.1 858.8 742.6 860.8 743 862.8 743.5 864.8 743.9 866.8 744.3 868.8 744.7 870.8 745.1 872.8 745.5 874.8 745.9 876.8 746.3 878.8 746.6 880.8 747 882.8 747.3 884.8 747.6 886.8 748 888.8 748.3 890.8 748.6 892.8 748.9 894.8 749.2 896.8 749.5 898.8 749.9 900.8 750.2 902.8 750.5 904.8 750.8 906.8 751.1 908.8 751.4 910.8 751.7 912.8 752 914.8 752.3 916.8 752.5 918.8 752.8 920.8 753 922.8 753.2 924.8 753.4 926.8 753.6 928.8 753.8 930.8 753.9 932.8 754 934.8 754.1 936.8 754.2 938.8 754.3 940.8 754.3 942.8 754.4 944.8 754.5 946.8 754.5 948.8 754.6 950.8 754.6 952.8 754.7 954.8 754.7 956.8 754.8 958.8 754.8 960.8 754.8 962.8 754.9 964.8 754.9 966.8 754.9 968.8 755 970.8 755 972.8 755 974.8 755.1 976.8 755.1 978.8 755.1 980.8 755.1 982.8 755.2 984.8 755.2 986.8 755.2 988.8 755.3 990.8 755.3 992.8 755.3 994.8 755.3 996.8 755.4 998.8 755.4 1000.8 755.4 1002.8 755.4 1004.8 755.4 1006.8 755.4 1008.8 755.5 1010.8 755.5 1012.8 755.5 1014.8 755.5 1016.8 755.5 1018.8 755.5 1020.8 755.5 1022.8 755.5 1024.8 755.5 1026.8 755.5 1028.8 755.5 1030.8 755.5 1032.8 755.5 1034.8 755.5 1036.8 755.5 1038.8 755.5 1040.8 755.5 1042.8 755.5 1044.8 755.5 1046.8 755.5 1048.8 755.5 1050.8 755.5 1052.8 755.5 1054.8 755.5 1056.8 755.5 1058.8 755.5 1060.8 755.5 1062.8 755.5 1064.8 755.5 1066.8 755.5 1068.8 755.5 1070.8 755.6 1072.8 755.6 1074.8 755.6 1076.8 755.6 1078.8 755.7 1080.8 755.7 1082.8 755.7 1084.8 755.8 1086.8 755.8 1088.8 755.8 1090.8 755.9 1092.8 755.9 1094.8 756 1096.8 756.1 1098.8 756.1 1100.8 756.2 1102.8 756.2 1104.8 756.3 1106.8 756.4 1108.8 756.4 1110.8 756.5 1112.8 756.6 1114.8 756.6 1116.8 756.7 1118.8 756.8 1120.8 756.9 1122.8 756.9 1124.8 757 1126.8 757.1 1128.8 757.2 1130.8 757.3 1132.8 757.4 1134.8 757.5 1136.8 757.5 1138.8 757.6 1140.8 757.7 1142.8 757.8 1144.8 757.9 1146.8 758 1148.8 758.1 1150.8 758.2 1152.8 758.3 1154.8 758.3 1156.8 758.4 1158.8 758.5 1160.8 758.6 1162.8 758.7 1164.8 758.8 1166.8 758.9 1168.9 759 1170.9 759.1 1172.9 759.2 1174.9 759.3 1176.9 759.4 1178.9 759.4 1180.9 759.5 1182.9 759.6 1184.9 759.7 1186.9 759.8 1188.9 759.9 1190.9 760 1192.9 760.1 1194.9 760.3 1196.9 760.4 1198.9 760.5 1200.9 760.6 1202.9 760.7 1204.9 760.9 1206.9 761 1208.9 761.1 1210.9 761.2 1212.9 761.4 1214.9 761.5 1216.9 761.6 1218.9 761.8 1220.9 761.9 1222.9 762.1 1224.9 762.2 1226.9 762.3 1228.9 762.5 1230.9 762.6 1232.9 762.8 1234.9 762.9 1236.9 763.1 1238.9 763.2 1240.9 763.4 1242.9 763.5 1244.9 763.7 1246.9 763.8 1248.9 764 1250.9 764.1 1252.9 764.3 1254.9 764.4 1256.9 764.6 1258.9 764.7 1260.9 764.9 1262.9 765 1264.9 765.2 1266.9 765.3 1268.9 765.5 1270.9 765.6 1272.9 765.7 1274.9 765.9 1276.9 766 1278.9 766.2 1280.9 766.3 1282.9 766.4 1284.9 766.6 1286.9 766.7 1288.9 766.9 1290.9 767 1292.9 767.1 1294.9 767.2 1296.9 767.4 1298.9 767.5 1300.9 767.6 1302.9 767.8 1304.9 767.9 1306.9 768 1308.9 768.1 1310.9 768.3 1312.9 768.4 1314.9 768.5 1316.9 768.7 1318.9 768.8 1320.9 768.9 1322.9 769 1324.9 769.2 1326.9 769.3 1328.9 769.4 1330.9 769.6 1332.9 769.7 1334.9 769.8 1336.9 770 1338.9 770.1 1340.9 770.2 1342.9 770.3 1344.9 770.5 1346.9 770.6 1348.9 770.7 1350.9 770.8 1352.9 771 1354.9 771.1 1356.9 771.2 1358.9 771.3 1360.9 771.5 1362.9 771.6 1364.9 771.7 1366.9 771.8 1368.9 772 1370.9 772.1 1372.9 772.2 1374.9 772.3 1376.9 772.4 1378.9 772.5 1380.9 772.7 1382.9 772.8 1384.9 772.9 1386.9 773 1388.9 773.1 1390.9 773.2 1392.9 773.3 1394.9 773.4 1396.9 773.6 1398.9 773.7 1400.9 773.8 1402.9 773.9 1404.9 774 1406.9 774.1 1408.9 774.2 1410.9 774.3 1412.9 774.4 1414.9 774.5 1416.9 774.6 1418.9 774.7 1420.9 774.7 1422.9 774.8 1424.9 774.9 1426.9 775 1428.9 775.1 1430.9 775.2 1432.9 775.3 1434.9 775.4 1436.9 775.5 1438.9 775.6 1440.9 775.7 1442.9 775.7 1444.9 775.8 1446.9 775.9 1448.9 776 1450.9 776.1 1452.9 776.2 1454.9 776.3 1456.9 776.4 1458.9 776.4 1460.9 776.5 1462.9 776.6 1464.9 776.7 1466.9 776.8 1468.9 776.8 1470.9 776.9 1472.9 777 1474.9 777.1 1476.9 777.2 1478.9 777.2 1480.9 777.3 1482.9 777.4 1484.9 777.5 1486.9 777.5 1488.9 777.6 1490.9 777.7 1492.9 777.8 1494.9 777.8 1496.9 777.9 1498.9 778 1500.9 778.1 1502.9 778.1 1504.9 778.2 1506.9 778.3 1508.9 778.3 1510.9 778.4 1512.9 778.5 1514.9 778.6 1516.9 778.6 1518.9 778.7 1520.9 778.8 1522.9 778.8 1524.9 778.9 1526.9 779 1528.9 779 1531 779.1 1533 779.1 1535 779.2 1537 779.3 1539 779.3 1541 779.4 1543 779.5 1545 779.5 1547 779.6 1549 779.6 1551 779.7 1553 779.7 1555 779.8 1557 779.9 1559 779.9 1561 780 1563 780 1565 780.1 1567 780.1 1569 780.2 1571 780.2 1573 780.3 1575 780.3 1577 780.4 1579 780.4 1581 780.5 1583 780.5 1585 780.6 1587 780.6 1589 780.7 1591 780.7 1593 780.8 1595 780.8 1597 780.9 1599 780.9 1601 781 1603 781 1605 781.1 1607 781.1 1609 781.2 1611 781.2 1613 781.3 1615 781.3 1617 781.4 1619 781.4 1621 781.5 1623 781.5 1625 781.6 1627 781.6 1629 781.7 1631 781.7 1633 781.8 1635 781.8 1637 781.9 1639 781.9 1641 782 1643 782 1645 782.1 1647 782.1 1649 782.2 1651 782.2 1653 782.3 1655 782.3 1657 782.4 1659 782.5 1661 782.5 1663 782.6 1665 782.6 1667 782.7 1669 782.7 1671 782.8 1673 782.8 1675 782.9 1677 782.9 1679 783 1681 783 1683 783.1 1685 783.1 1687 783.2 1689 783.2 1691 783.3 1693 783.3 1695 783.4 1697 783.4 1699 783.5 1701 783.5 1703 783.6 1705 783.6 1707 783.7 1709 783.7 1711 783.8" fill="none" stroke="#8b0000" stroke-width="5.5" stroke-linejoin="round" stroke-linecap="round" />
<path d="M264.6 761.5L266.6 760.9 268.6 760.4 270.6 759.8 272.6 759.3 274.6 758.7 276.6 758.2 278.6 757.7 280.6 757.1 282.6 756.6 284.6 756.1 286.6 755.6 288.6 755.1 290.6 754.6 292.6 754.1 294.6 753.6 296.6 753.1 298.6 752.7 300.6 752.2 302.6 751.7 304.6 751.3 306.6 750.8 308.6 750.4 310.6 750 312.6 749.5 314.6 749.1 316.6 748.7 318.6 748.3 320.6 748 322.6 747.6 324.6 747.3 326.6 746.9 328.6 746.5 330.6 746.2 332.6 745.9 334.6 745.5 336.6 745.2 338.6 744.8 340.6 744.4 342.6 744.1 344.6 743.7 346.6 743.3 348.6 742.9 350.6 742.5 352.6 742.1 354.6 741.6 356.6 741.1 358.6 740.6 360.6 740 362.6 739.4 364.6 738.8 366.6 738.2 368.6 737.6 370.6 737 372.6 736.4 374.6 735.9 376.6 735.4 378.6 735 380.6 734.6 382.6 734.2 384.6 733.9 386.6 733.7 388.6 733.4 390.6 733.1 392.6 732.9 394.6 732.7 396.6 732.4 398.6 732.2 400.6 732 402.6 731.8 404.6 731.5 406.6 731.2 408.6 731 410.6 730.7 412.6 730.3 414.6 730 416.6 729.6 418.6 729.1 420.6 728.7 422.6 728.2 424.6 727.7 426.6 727.2 428.6 726.7 430.6 726.2 432.6 725.7 434.6 725.2 436.6 724.7 438.6 724.2 440.6 723.7 442.6 723.3 444.6 722.8 446.7 722.4 448.7 722 450.7 721.5 452.7 721.1 454.7 720.7 456.7 720.3 458.7 719.9 460.7 719.5 462.7 719.1 464.7 718.8 466.7 718.4 468.7 718.1 470.7 717.8 472.7 717.5 474.7 717.2 476.7 717 478.7 716.7 480.7 716.4 482.7 716.1 484.7 715.8 486.7 715.5 488.7 715.2 490.7 714.8 492.7 714.5 494.7 714.1 496.7 713.8 498.7 713.4 500.7 713 502.7 712.6 504.7 712.1 506.7 711.6 508.7 711.1 510.7 710.4 512.7 709.7 514.7 708.8 516.7 707.9 518.7 706.8 520.7 705.7 522.7 704.6 524.7 703.4 526.7 702.1 528.7 700.9 530.7 699.6 532.7 698.1 534.7 696.6 536.7 694.9 538.7 693.2 540.7 691.4 542.7 689.5 544.7 687.5 546.7 685.4 548.7 683.1 550.7 680.6 552.7 677.9 554.7 674.9 556.7 671.8 558.7 668.6 560.7 665.4 562.7 662.3 564.7 659.4 566.7 656.6 568.7 653.8 570.7 651 572.7 648.2 574.7 645.3 576.7 642.2 578.7 639 580.7 635.7 582.7 632.2 584.7 628.8 586.7 625.4 588.7 622 590.7 618.6 592.7 615.2 594.7 611.7 596.7 607.9 598.7 603.8 600.7 599.5 602.7 594.9 604.7 590.2 606.7 585.7 608.7 581.2 610.7 577 612.7 573.1 614.7 569.3 616.7 565.3 618.7 561.2 620.7 556.7 622.7 552 624.7 547 626.7 541.8 628.7 536.4 630.7 530.3 632.7 524.1 634.7 518.5 636.7 513 638.7 508.4 640.7 505.2 642.7 502.6 644.7 501.4 646.7 502.4 648.7 505.1 650.7 508.6 652.7 512 654.7 515.1 656.7 518.6 658.7 521.7 660.7 523.3 662.7 522.6 664.7 520.2 666.7 516.9 668.7 513.1 670.7 509.6 672.7 505.3 674.7 500.3 676.7 496 678.7 493.8 680.7 495.3 682.7 500.1 684.7 506.6 686.7 514.4 688.7 526.1 690.7 537.9 692.7 548.7 694.7 558.5 696.7 566.4 698.7 573.4 700.7 578.9 702.7 583.1 704.7 587 706.7 590.1 708.7 591.7 710.7 591.8 712.7 591.2 714.7 590.2 716.7 589.2 718.7 588 720.7 586.2 722.7 584.5 724.7 583.5 726.7 583.6 728.7 585.7 730.7 589 732.7 592.8 734.7 596.7 736.7 601.5 738.7 606.9 740.7 612.2 742.7 617.2 744.7 622.1 746.7 627.4 748.7 634.1 750.7 642.2 752.7 648.8 754.7 654.2 756.7 659.3 758.7 663.9 760.7 668.1 762.7 672 764.7 675.6 766.7 678.8 768.7 681.7 770.7 684.3 772.7 686.8 774.7 689.1 776.7 691.2 778.7 693.3 780.7 695.2 782.7 697.1 784.7 699 786.7 700.9 788.7 702.7 790.7 704.4 792.7 706.2 794.7 707.8 796.7 709.4 798.7 710.9 800.7 712.4 802.7 713.8 804.7 715.1 806.7 716.3 808.8 717.5 810.8 718.6 812.8 719.7 814.8 720.8 816.8 721.8 818.8 722.7 820.8 723.7 822.8 724.6 824.8 725.4 826.8 726.3 828.8 727.1 830.8 727.9 832.8 728.7 834.8 729.4 836.8 730.2 838.8 730.9 840.8 731.6 842.8 732.2 844.8 732.8 846.8 733.4 848.8 733.9 850.8 734.5 852.8 735 854.8 735.5 856.8 735.9 858.8 736.4 860.8 736.8 862.8 737.3 864.8 737.7 866.8 738.1 868.8 738.5 870.8 738.9 872.8 739.3 874.8 739.7 876.8 740.1 878.8 740.4 880.8 740.8 882.8 741.1 884.8 741.4 886.8 741.8 888.8 742.1 890.8 742.4 892.8 742.7 894.8 743 896.8 743.3 898.8 743.7 900.8 744 902.8 744.3 904.8 744.6 906.8 744.9 908.8 745.2 910.8 745.5 912.8 745.8 914.8 746.1 916.8 746.3 918.8 746.6 920.8 746.8 922.8 747 924.8 747.2 926.8 747.4 928.8 747.6 930.8 747.7 932.8 747.8 934.8 747.9 936.8 748 938.8 748.1 940.8 748.1 942.8 748.2 944.8 748.3 946.8 748.3 948.8 748.4 950.8 748.4 952.8 748.5 954.8 748.5 956.8 748.6 958.8 748.6 960.8 748.6 962.8 748.7 964.8 748.7 966.8 748.7 968.8 748.8 970.8 748.8 972.8 748.8 974.8 748.9 976.8 748.9 978.8 748.9 980.8 748.9 982.8 749 984.8 749 986.8 749 988.8 749.1 990.8 749.1 992.8 749.1 994.8 749.1 996.8 749.2 998.8 749.2 1000.8 749.2 1002.8 749.2 1004.8 749.2 1006.8 749.2 1008.8 749.3 1010.8 749.3 1012.8 749.3 1014.8 749.3 1016.8 749.3 1018.8 749.3 1020.8 749.3 1022.8 749.3 1024.8 749.3 1026.8 749.3 1028.8 749.3 1030.8 749.3 1032.8 749.3 1034.8 749.3 1036.8 749.3 1038.8 749.3 1040.8 749.3 1042.8 749.3 1044.8 749.3 1046.8 749.3 1048.8 749.3 1050.8 749.3 1052.8 749.3 1054.8 749.3 1056.8 749.3 1058.8 749.3 1060.8 749.3 1062.8 749.3 1064.8 749.3 1066.8 749.3 1068.8 749.3 1070.8 749.4 1072.8 749.4 1074.8 749.4 1076.8 749.4 1078.8 749.5 1080.8 749.5 1082.8 749.5 1084.8 749.6 1086.8 749.6 1088.8 749.6 1090.8 749.7 1092.8 749.7 1094.8 749.8 1096.8 749.9 1098.8 749.9 1100.8 750 1102.8 750 1104.8 750.1 1106.8 750.2 1108.8 750.2 1110.8 750.3 1112.8 750.4 1114.8 750.4 1116.8 750.5 1118.8 750.6 1120.8 750.7 1122.8 750.7 1124.8 750.8 1126.8 750.9 1128.8 751 1130.8 751.1 1132.8 751.2 1134.8 751.3 1136.8 751.3 1138.8 751.4 1140.8 751.5 1142.8 751.6 1144.8 751.7 1146.8 751.8 1148.8 751.9 1150.8 752 1152.8 752.1 1154.8 752.1 1156.8 752.2 1158.8 752.3 1160.8 752.4 1162.8 752.5 1164.8 752.6 1166.8 752.7 1168.9 752.8 1170.9 752.9 1172.9 753 1174.9 753.1 1176.9 753.2 1178.9 753.2 1180.9 753.3 1182.9 753.4 1184.9 753.5 1186.9 753.6 1188.9 753.7 1190.9 753.8 1192.9 753.9 1194.9 754.1 1196.9 754.2 1198.9 754.3 1200.9 754.4 1202.9 754.5 1204.9 754.7 1206.9 754.8 1208.9 754.9 1210.9 755 1212.9 755.2 1214.9 755.3 1216.9 755.4 1218.9 755.6 1220.9 755.7 1222.9 755.9 1224.9 756 1226.9 756.1 1228.9 756.3 1230.9 756.4 1232.9 756.6 1234.9 756.7 1236.9 756.9 1238.9 757 1240.9 757.2 1242.9 757.3 1244.9 757.5 1246.9 757.6 1248.9 757.8 1250.9 757.9 1252.9 758.1 1254.9 758.2 1256.9 758.4 1258.9 758.5 1260.9 758.7 1262.9 758.8 1264.9 759 1266.9 759.1 1268.9 759.3 1270.9 759.4 1272.9 759.5 1274.9 759.7 1276.9 759.8 1278.9 760 1280.9 760.1 1282.9 760.2 1284.9 760.4 1286.9 760.5 1288.9 760.7 1290.9 760.8 1292.9 760.9 1294.9 761 1296.9 761.2 1298.9 761.3 1300.9 761.4 1302.9 761.6 1304.9 761.7 1306.9 761.8 1308.9 761.9 1310.9 762.1 1312.9 762.2 1314.9 762.3 1316.9 762.5 1318.9 762.6 1320.9 762.7 1322.9 762.8 1324.9 763 1326.9 763.1 1328.9 763.2 1330.9 763.4 1332.9 763.5 1334.9 763.6 1336.9 763.8 1338.9 763.9 1340.9 764 1342.9 764.1 1344.9 764.3 1346.9 764.4 1348.9 764.5 1350.9 764.6 1352.9 764.8 1354.9 764.9 1356.9 765 1358.9 765.1 1360.9 765.3 1362.9 765.4 1364.9 765.5 1366.9 765.6 1368.9 765.8 1370.9 765.9 1372.9 766 1374.9 766.1 1376.9 766.2 1378.9 766.3 1380.9 766.5 1382.9 766.6 1384.9 766.7 1386.9 766.8 1388.9 766.9 1390.9 767 1392.9 767.1 1394.9 767.2 1396.9 767.4 1398.9 767.5 1400.9 767.6 1402.9 767.7 1404.9 767.8 1406.9 767.9 1408.9 768 1410.9 768.1 1412.9 768.2 1414.9 768.3 1416.9 768.4 1418.9 768.5 1420.9 768.5 1422.9 768.6 1424.9 768.7 1426.9 768.8 1428.9 768.9 1430.9 769 1432.9 769.1 1434.9 769.2 1436.9 769.3 1438.9 769.4 1440.9 769.5 1442.9 769.5 1444.9 769.6 1446.9 769.7 1448.9 769.8 1450.9 769.9 1452.9 770 1454.9 770.1 1456.9 770.2 1458.9 770.2 1460.9 770.3 1462.9 770.4 1464.9 770.5 1466.9 770.6 1468.9 770.6 1470.9 770.7 1472.9 770.8 1474.9 770.9 1476.9 771 1478.9 771 1480.9 771.1 1482.9 771.2 1484.9 771.3 1486.9 771.3 1488.9 771.4 1490.9 771.5 1492.9 771.6 1494.9 771.6 1496.9 771.7 1498.9 771.8 1500.9 771.9 1502.9 771.9 1504.9 772 1506.9 772.1 1508.9 772.1 1510.9 772.2 1512.9 772.3 1514.9 772.4 1516.9 772.4 1518.9 772.5 1520.9 772.6 1522.9 772.6 1524.9 772.7 1526.9 772.8 1528.9 772.8 1531 772.9 1533 772.9 1535 773 1537 773.1 1539 773.1 1541 773.2 1543 773.3 1545 773.3 1547 773.4 1549 773.4 1551 773.5 1553 773.5 1555 773.6 1557 773.7 1559 773.7 1561 773.8 1563 773.8 1565 773.9 1567 773.9 1569 774 1571 774 1573 774.1 1575 774.1 1577 774.2 1579 774.2 1581 774.3 1583 774.3 1585 774.4 1587 774.4 1589 774.5 1591 774.5 1593 774.6 1595 774.6 1597 774.7 1599 774.7 1601 774.8 1603 774.8 1605 774.9 1607 774.9 1609 775 1611 775 1613 775.1 1615 775.1 1617 775.2 1619 775.2 1621 775.3 1623 775.3 1625 775.4 1627 775.4 1629 775.5 1631 775.5 1633 775.6 1635 775.6 1637 775.7 1639 775.7 1641 775.8 1643 775.8 1645 775.9 1647 775.9 1649 776 1651 776 1653 776.1 1655 776.1 1657 776.2 1659 776.3 1661 776.3 1663 776.4 1665 776.4 1667 776.5 1669 776.5 1671 776.6 1673 776.6 1675 776.7 1677 776.7 1679 776.8 1681 776.8 1683 776.9 1685 776.9 1687 777 1689 777 1691 777.1 1693 777.1 1695 777.2 1697 777.2 1699 777.3 1701 777.3 1703 777.4 1705 777.4 1707 777.5 1709 777.5 1711 777.6" fill="none" stroke="#888888" stroke-width="7.8" stroke-linejoin="round" stroke-linecap="round" stroke-linecap="butt" stroke-opacity="0.8"/>
<g fill="none" stroke="#00FFFF" stroke-width="16" stroke-linejoin="round" stroke-linecap="butt"><path d="M310.6 1040L312.6 1038.5 314.6 1036.8 316.6 1037.4 318.6 1036.6 320.6 1036.9 322.6 1035.4 324.6 1034.9 326.6 1035.5 328.6 1035.2 330.6 1034.3 332.6 1034.1 334.6 1033.1 336.6 1032.8 338.6 1032.5 340.6 1031.6 342.6 1030.8 344.6 1030.4 346.6 1032 348.6 1029.4 350.6 1028.7 352.6 1028.2 354.6 1028.1 356.6 1027.9 358.6 1026.3 360.6 1025.2 362.6 1026.9 364.6 1024.8 366.6 1026.1 368.6 1025.7 370.6 1026.3 372.6 1026.4 374.6 1024.9 376.6 1023.8 378.6 1022.9 380.6 1022.9 382.6 1023.4 384.6 1021.2 386.6 1022.9 388.6 1022.5 390.6 1022.9 392.6 1021.8 394.6 1021.9 396.6 1020.9 398.6 1020.9 400.6 1019.5 402.6 1021 404.6 1022 406.6 1020.5 408.6 1020.4 410.6 1018.9 412.6 1020.8 414.6 1018.5 416.6 1019.5 418.6 1018.6 420.6 1017.2 422.6 1018.7 424.6 1017.4 426.6 1017.1 428.6 1017 430.6 1016.1 432.6 1015.4 434.6 1015.7 436.6 1014.5 438.6 1014.5 440.6 1013.4 442.6 1012.2 444.6 1012.5 446.7 1012.3 448.7 1012.2 450.7 1012.7 452.7 1009.6 454.7 1010.7 456.7 1008 458.7 1008.5 460.7 1008.4 462.7 1006.3 464.7 1006.2 466.7 1007.6 468.7 1007.2 470.7 1006.7 472.7 1005.8 474.7 1008.2 476.7 1005.8 478.7 1004.9 480.7 1007 482.7 1005.8 484.7 1004.6 486.7 1005.7 488.7 1004.4 490.7 1004.5 492.7 1003.8 494.7 1002.4 496.7 1003.9 498.7 1002.8 500.7 1001.4 502.7 1001.3 504.7 1002.4 506.7 1000.8 508.7 1000.7 510.7 1000.7 512.7 999.6 514.7 997.3 516.7 998.3 518.7 997.5 520.7 996.3 522.7 995.7 524.7 993.3 526.7 992.3 528.7 991.7 530.7 988.7 532.7 989.3 534.7 988 536.7 986 538.7 985.7 540.7 983.6 542.7 980.8 544.7 981.3 546.7 979.1 548.7 977.7 550.7 975.8 552.7 975.2 554.7 972.1 556.7 968 558.7 965.6 560.7 962.1 562.7 957 564.7 953.4 566.7 949.7 568.7 946.1 570.7 943.8 572.7 941.4 574.7 939.2 576.7 935.6 578.7 932.5 580.7 929.7 582.7 926.9 584.7 922.5 586.7 920.5 588.7 917.3 590.7 914.3 592.7 911.5 594.7 909 596.7 906.6 598.7 902.9 600.7 901.2 602.7 896.5 604.7 891.6 606.7 886.5 608.7 881.8 610.7 876.2 612.7 872.7 614.7 867.7 616.7 863.5 618.7 859.8 620.7 858.6 622.7 851 624.7 848.2 626.7 843.8 628.7 836.5 630.7 831.8 632.7 824.7 634.7 816.8 636.7 811.1 638.7 801.5 640.7 793.4 642.7 789 644.7 791.4 646.7 794.6 648.7 799 650.7 806.3 652.7 807.3 654.7 812.1 656.7 815.7 658.7 819.2 660.7 818.4 662.7 819.2 664.7 815.6 666.7 810.3 668.7 805.3 670.7 801.3 672.7 797.8 674.7 791 676.7 786.3 678.7 780 680.7 782.6 682.7 787.4 684.7 796.1 686.7 808.6 688.7 827.4 690.7 841.7 692.7 851.2 694.7 860.5 696.7 866.5 698.7 871.2 700.7 876.4 702.7 881 704.7 886.3 706.7 889.3 708.7 886.4 710.7 886.8 712.7 886.3 714.7 884.5 716.7 881.5 718.7 880.6 720.7 878.9 722.7 876.3 724.7 871.9 726.7 869.8 728.7 867.7 730.7 873.5 732.7 875.4 734.7 880 736.7 885.1 738.7 892.8 740.7 900.4 742.7 906.8 744.7 916.9 746.7 922.9 748.7 931.5 750.7 941.8 752.7 946.2 754.7 952.1 756.7 956.6 758.7 962.1 760.7 965.5 762.7 969 764.7 971.7 766.7 975.1 768.7 978.5 770.7 978 772.7 982 774.7 983.8 776.7 985.9 778.7 986.2 780.7 990.5 782.7 990.9 784.7 993.3 786.7 994.9 788.7 995.6 790.7 998.4 792.7 998.8 794.7 1001.3 796.7 1003.4 798.7 1005.1 800.7 1006.6 802.7 1007.7 804.7 1011 806.7 1010.6 808.8 1010.3 810.8 1011.9 812.8 1013 814.8 1014.4 816.8 1015 818.8 1015.7 820.8 1018.9 822.8 1018.3 824.8 1018.7 826.8 1019.6 828.8 1020.3 830.8 1022.4 832.8 1022.3 834.8 1023.5 836.8 1020.3 838.8 1024 840.8 1025.2 842.8 1026.6 844.8 1025.3 846.8 1024.3 848.8 1026.8 850.8 1026.3 852.8 1025.7 854.8 1027.3 856.8 1029.3 858.8 1029.9 860.8 1029.9 862.8 1028.8 864.8 1032.5 866.8 1029.6 868.8 1031.1 870.8 1030.3 872.8 1033.2 874.8 1032.8 876.8 1033.6 878.8 1033.3 880.8 1033.5 882.8 1034 884.8 1032.5 886.8 1035.4 888.8 1035.6 890.8 1034.6 892.8 1035.2 894.8 1035.7 896.8 1037.1 898.8 1036.3 900.8 1036.1 902.8 1035.8 904.8 1035.2 906.8 1036.2 908.8 1037 910.8 1036.9 912.8 1037.3 914.8 1038.1 916.8 1038 918.8 1038 920.8 1038.5 922.8 1038.2 924.8 1038.2 926.8 1038.7 928.8 1036.9 930.8 1039.7 932.8 1037.5 934.8 1039.5 936.8 1038.8 938.8 1039.9 940.8 1039 942.8 1038.2 944.8 1040.1 946.8 1039.4 948.8 1039.4 950.8 1039.5 952.8 1040.4 954.8 1040.3 956.8 1039.9 958.8 1038.3 960.8 1039.4 962.8 1039.9 964.8 1041.5 966.8 1040.3 968.8 1039.9 970.8 1041.1 972.8 1040 974.8 1040.1 976.8 1040.3 978.8 1038.8 980.8 1041 982.8 1040.6 984.8 1039.9 986.8 1039.2 988.8 1040.4 990.8 1041.5 992.8 1039.7 994.8 1039.3 996.8 1040.7 998.8 1038.9 1000.8 1038.4 1002.8 1040 1004.8 1039.7 1006.8 1040.1 1008.8 1039.9 1010.8 1040.7 1012.8 1040.2 1014.8 1039.8 1016.8 1039.9 1018.8 1040.9 1020.8 1041.2 1022.8 1041.2 1024.8 1041 1026.8 1037.4 1028.8 1039.5 1030.8 1040.2 1032.8 1040.7 1034.8 1039.2 1036.8 1042 1038.8 1041 1040.8 1040.3 1042.8 1041.1 1044.8 1040.7 1046.8 1040.4 1048.8 1041.6 1050.8 1040.8 1052.8 1040 1054.8 1040.8 1056.8 1041.3 1058.8 1040.5 1060.8 1042.7 1062.8 1040.6 1064.8 1043.2 1066.8 1042.5 1068.8 1040.9 1070.8 1041.9 1072.8 1042.9 1074.8 1041.7 1076.8 1040.8 1078.8 1042.1 1080.8 1043.8 1082.8 1040.7 1084.8 1042.6 1086.8 1042.1 1088.8 1042.1 1090.8 1041.9 1092.8 1042 1094.8 1043.2 1096.8 1042.9 1098.8 1041.5 1100.8 1043.8 1102.8 1041.3 1104.8 1043.1 1106.8 1042.7 1108.8 1043.6 1110.8 1042.9 1112.8 1043.6 1114.8 1042.7 1116.8 1043.6 1118.8 1043.1 1120.8 1044.7 1122.8 1042.2 1124.8 1044 1126.8 1043.4 1128.8 1043.1 1130.8 1042.5 1132.8 1043.5 1134.8 1041.8 1136.8 1041.9 1138.8 1043.8 1140.8 1041.8 1142.8 1044.6 1144.8 1043.1 1146.8 1043.6 1148.8 1043.5 1150.8 1043.9 1152.8 1043.3 1154.8 1043.3 1156.8 1043.5 1158.8 1044.6 1160.8 1044.8 1162.8 1045 1164.8 1044.2 1166.8 1043.8 1168.9 1042.5 1170.9 1044.6 1172.9 1044.9 1174.9 1043.8 1176.9 1045 1178.9 1045.5 1180.9 1044.5 1182.9 1045.4 1184.9 1044.8 1186.9 1043.1 1188.9 1044.3 1190.9 1044.5 1192.9 1045.4 1194.9 1044.3 1196.9 1044.7 1198.9 1044.4 1200.9 1045.3 1202.9 1045.5 1204.9 1046.5 1206.9 1046.4 1208.9 1046 1210.9 1046.2 1212.9 1046.2 1214.9 1046.3 1216.9 1047.7 1218.9 1044.2 1220.9 1046.5 1222.9 1047 1224.9 1047.9 1226.9 1046.1 1228.9 1047.5 1230.9 1048.1 1232.9 1047.1 1234.9 1045.9 1236.9 1047.5 1238.9 1046.9 1240.9 1048.7 1242.9 1047.5 1244.9 1050 1246.9 1048.7 1248.9 1048 1250.9 1048.4 1252.9 1048 1254.9 1049.5 1256.9 1050.7 1258.9 1049.3 1260.9 1050.5 1262.9 1048.9 1264.9 1050.2 1266.9 1052.2 1268.9 1049 1270.9 1051.5 1272.9 1051.6 1274.9 1049 1276.9 1049.6 1278.9 1050.1 1280.9 1052 1282.9 1050.9 1284.9 1051.3 1286.9 1052.2 1288.9 1051.8 1290.9 1052.1 1292.9 1051.7 1294.9 1053.2 1296.9 1051.6 1298.9 1053.9 1300.9 1052.2 1302.9 1052 1304.9 1053.4 1306.9 1053.4 1308.9 1051.3 1310.9 1053.4 1312.9 1052.2 1314.9 1052.8 1316.9 1054.4 1318.9 1053 1320.9 1054.3 1322.9 1053.8 1324.9 1056 1326.9 1054.3 1328.9 1053.5 1330.9 1053.7 1332.9 1054 1334.9 1055.1 1336.9 1055.1 1338.9 1056.1 1340.9 1055.6 1342.9 1055.7 1344.9 1056 1346.9 1055.7 1348.9 1056.2 1350.9 1056.8 1352.9 1057 1354.9 1055.9 1356.9 1055 1358.9 1056 1360.9 1057.1 1362.9 1054.7 1364.9 1056.7 1366.9 1057.7 1368.9 1056.9 1370.9 1056.5 1372.9 1059.2 1374.9 1059 1376.9 1057.7 1378.9 1059.3 1380.9 1059.4 1382.9 1057.3 1384.9 1060.9 1386.9 1057.7 1388.9 1058.5 1390.9 1057.9 1392.9 1059 1394.9 1057.9 1396.9 1059.2 1398.9 1060.3 1400.9 1059.6 1402.9 1059.3 1404.9 1061.1 1406.9 1059 1408.9 1060.8 1410.9 1059.7 1412.9 1060.3 1414.9 1060.3 1416.9 1060.4 1418.9 1060.4 1420.9 1059.8 1422.9 1060.1 1424.9 1061.1 1426.9 1060.8 1428.9 1059.9 1430.9 1060.4 1432.9 1060.5 1434.9 1061.2 1436.9 1061.5 1438.9 1061.5 1440.9 1061 1442.9 1061.7 1444.9 1060.5 1446.9 1059.2 1448.9 1061.9 1450.9 1060.5 1452.9 1061.3 1454.9 1061.1 1456.9 1062.9 1458.9 1061.3 1460.9 1062.7 1462.9 1062.1 1464.9 1061.6 1466.9 1061.3 1468.9 1063.3 1470.9 1063.3 1472.9 1063.7 1474.9 1064.8 1476.9 1063.4 1478.9 1063.5 1480.9 1063.3 1482.9 1063.5 1484.9 1063.2 1486.9 1062.8 1488.9 1065.5 1490.9 1062.1 1492.9 1064.1 1494.9 1064.3 1496.9 1064.2 1498.9 1063.2 1500.9 1064 1502.9 1063.8 1504.9 1063.4 1506.9 1064.4 1508.9 1064.1 1510.9 1064.1 1512.9 1065.2 1514.9 1063.8 1516.9 1065.2 1518.9 1064.3 1520.9 1065.3 1522.9 1065.1 1524.9 1065.3 1526.9 1064.2 1528.9 1064.5 1531 1064.5 1533 1065.5 1535 1066.1 1537 1066.4 1539 1065.1 1541 1065.7 1543 1064.2 1545 1063.7 1547 1065 1549 1065.2 1551 1064.5 1553 1064.4 1555 1066.5 1557 1065.4 1559 1064.6 1561 1068.3 1563 1066.4 1565 1066 1567 1067 1569 1065.8 1571 1067.9 1573 1065.2 1575 1065.4 1577 1066.5 1579 1066 1581 1068 1583 1065.4 1585 1066.2 1587 1067.1 1589 1067.5 1591 1067.9 1593 1067.4 1595 1069.1 1597 1066.8 1599 1067.4 1601 1068.1 1603 1067.1 1605 1067.1 1607 1067 1609 1066.9 1611 1066.5 1613 1067.1 1615 1066.3 1617 1068 1619 1066.3 1621 1069.7 1623 1069.4 1625 1068.9 1627 1067.8 1629 1067.5 1631 1069.1 1633 1068.3 1635 1068.7 1637 1067.6 1639 1069.2 1641 1067.6 1643 1068.5 1645 1066.9 1647 1067.9 1649 1069 1651 1068.2 1653 1068.2 1655 1069.4 1657 1068.7 1659 1069.9 1661 1066.7 1663 1069.4 1665 1069.4 1667 1067.6 1669 1067.9 1671 1069.9 1673 1068.2 1675 1068.6 1677 1069.8 1679 1069 1681 1069.8 1683 1068.6 1685 1069.7 1687 1070.5 1689 1069.8 1691 1067.6 1693 1070.3"/><path d="M310.6 1046L312.6 1044.5 314.6 1045.9 316.6 1042.5 318.6 1045.2 320.6 1042.4 322.6 1043.8 324.6 1041.9 326.6 1040.2 328.6 1041 330.6 1040.7 332.6 1040.4 334.6 1040.3 336.6 1038.1 338.6 1038.9 340.6 1038.6 342.6 1037.3 344.6 1036.2 346.6 1035.8 348.6 1036.9 350.6 1036.5 352.6 1034.6 354.6 1033.8 356.6 1035.7 358.6 1032.9 360.6 1034 362.6 1032.8 364.6 1031.6 366.6 1033 368.6 1032.4 370.6 1033.5 372.6 1033.9 374.6 1031.4 376.6 1032.2 378.6 1031.9 380.6 1030.2 382.6 1029.6 384.6 1031.5 386.6 1029.5 388.6 1029.6 390.6 1029.1 392.6 1029 394.6 1028.3 396.6 1029.3 398.6 1029.5 400.6 1027.8 402.6 1026.7 404.6 1027.7 406.6 1026 408.6 1026.5 410.6 1027.9 412.6 1028.5 414.6 1026.4 416.6 1024.8 418.6 1026.1 420.6 1023 422.6 1024 424.6 1025.6 426.6 1024.5 428.6 1022.2 430.6 1021.5 432.6 1023.3 434.6 1022.1 436.6 1021.2 438.6 1021.6 440.6 1020.3 442.6 1018.7 444.6 1020.7 446.7 1018.8 448.7 1018 450.7 1017.1 452.7 1017.9 454.7 1016.4 456.7 1017.1 458.7 1015.8 460.7 1016.5 462.7 1014.8 464.7 1014.1 466.7 1012.6 468.7 1013.1 470.7 1014.4 472.7 1016.2 474.7 1012.1 476.7 1012.1 478.7 1013.1 480.7 1012.9 482.7 1011.6 484.7 1012 486.7 1010.1 488.7 1011 490.7 1011.7 492.7 1012.1 494.7 1010.1 496.7 1009.7 498.7 1010 500.7 1010.2 502.7 1009.2 504.7 1007.7 506.7 1008.2 508.7 1008.1 510.7 1005.8 512.7 1004.3 514.7 1004.8 516.7 1003.5 518.7 1002.8 520.7 1000.7 522.7 998.7 524.7 997.5 526.7 995.7 528.7 994.5 530.7 993.6 532.7 992.5 534.7 992.7 536.7 989.4 538.7 989.1 540.7 987.3 542.7 987.7 544.7 985.1 546.7 982.8 548.7 982.1 550.7 979.4 552.7 976.4 554.7 975.2 556.7 971.1 558.7 968.4 560.7 964 562.7 959.8 564.7 955.5 566.7 950.9 568.7 949.3 570.7 945.7 572.7 943.2 574.7 939.7 576.7 936.1 578.7 932.9 580.7 931.5 582.7 929.2 584.7 924.9 586.7 922.7 588.7 920.8 590.7 916.4 592.7 914.3 594.7 911 596.7 910.2 598.7 906.2 600.7 901.7 602.7 896.1 604.7 892.2 606.7 888 608.7 882 610.7 877.8 612.7 875 614.7 869.7 616.7 867 618.7 863.4 620.7 857.7 622.7 852.9 624.7 848.9 626.7 843.2 628.7 837.4 630.7 831 632.7 823.7 634.7 815.6 636.7 808.8 638.7 801.8 640.7 796.1 642.7 796.1 644.7 793.9 646.7 798.3 648.7 802.2 650.7 805.6 652.7 809.7 654.7 814.1 656.7 819.4 658.7 820.9 660.7 826.2 662.7 822.3 664.7 817.7 666.7 813.4 668.7 807.6 670.7 801.1 672.7 796.4 674.7 791.1 676.7 784.9 678.7 786.4 680.7 784.7 682.7 789.4 684.7 796.6 686.7 812.2 688.7 827.8 690.7 840.1 692.7 852.7 694.7 859.4 696.7 866.9 698.7 872.1 700.7 879 702.7 882.8 704.7 887.3 706.7 890.8 708.7 893.8 710.7 892.1 712.7 889.8 714.7 888.5 716.7 886 718.7 885.3 720.7 880.7 722.7 878 724.7 875.2 726.7 876.8 728.7 874.5 730.7 876.3 732.7 879.4 734.7 881.3 736.7 886.7 738.7 891.8 740.7 901.4 742.7 907.4 744.7 916 746.7 923.1 748.7 930.9 750.7 941.1 752.7 947.3 754.7 952.1 756.7 957.1 758.7 960.9 760.7 966.3 762.7 972.2 764.7 973.3 766.7 977.5 768.7 979.6 770.7 983.4 772.7 985.6 774.7 987.3 776.7 988.1 778.7 991.3 780.7 994.7 782.7 995.3 784.7 997.9 786.7 998.8 788.7 999.4 790.7 1003.3 792.7 1004.9 794.7 1005.9 796.7 1007.7 798.7 1009.9 800.7 1010.7 802.7 1013 804.7 1013.9 806.7 1013.3 808.8 1016.5 810.8 1017.3 812.8 1018.3 814.8 1020.5 816.8 1020.8 818.8 1022.8 820.8 1024.3 822.8 1024.4 824.8 1023.8 826.8 1025.3 828.8 1027.6 830.8 1027.3 832.8 1027.5 834.8 1028.9 836.8 1030.1 838.8 1030.5 840.8 1031.4 842.8 1030.7 844.8 1031.7 846.8 1032.3 848.8 1033 850.8 1031.7 852.8 1033.8 854.8 1033.4 856.8 1036.3 858.8 1036.9 860.8 1037.5 862.8 1037.3 864.8 1036.6 866.8 1038.3 868.8 1037.8 870.8 1038.9 872.8 1038 874.8 1038.7 876.8 1040.1 878.8 1041.7 880.8 1040.4 882.8 1042.8 884.8 1043.6 886.8 1040.3 888.8 1041.7 890.8 1041.2 892.8 1042.1 894.8 1042 896.8 1042.7 898.8 1043.8 900.8 1044 902.8 1043.6 904.8 1043.6 906.8 1043.9 908.8 1044.1 910.8 1044.7 912.8 1044.4 914.8 1045 916.8 1043.5 918.8 1045.6 920.8 1046.6 922.8 1045.3 924.8 1044 926.8 1046.6 928.8 1045.3 930.8 1043 932.8 1045.6 934.8 1046.4 936.8 1046.3 938.8 1047.1 940.8 1046.7 942.8 1046.3 944.8 1044.5 946.8 1045.4 948.8 1046.6 950.8 1047.2 952.8 1045.7 954.8 1046.2 956.8 1047.2 958.8 1045.2 960.8 1045.2 962.8 1046.8 964.8 1047.3 966.8 1046.7 968.8 1045.1 970.8 1047.2 972.8 1046 974.8 1047.8 976.8 1047.2 978.8 1047.5 980.8 1047.9 982.8 1046.9 984.8 1048.1 986.8 1048.5 988.8 1047.7 990.8 1048.6 992.8 1046.9 994.8 1048.3 996.8 1047.7 998.8 1046.6 1000.8 1047.4 1002.8 1047 1004.8 1047 1006.8 1047.6 1008.8 1048.4 1010.8 1047.2 1012.8 1047.6 1014.8 1046.2 1016.8 1047.6 1018.8 1048.5 1020.8 1048.2 1022.8 1047.9 1024.8 1047 1026.8 1046.7 1028.8 1047.5 1030.8 1046.4 1032.8 1046.6 1034.8 1048.6 1036.8 1047 1038.8 1049.5 1040.8 1046.7 1042.8 1048.4 1044.8 1047.1 1046.8 1048.3 1048.8 1047.3 1050.8 1048.4 1052.8 1048.3 1054.8 1048.1 1056.8 1049 1058.8 1050 1060.8 1048.1 1062.8 1049.5 1064.8 1048.8 1066.8 1048.8 1068.8 1050.8 1070.8 1047 1072.8 1048.3 1074.8 1047.4 1076.8 1048.8 1078.8 1048.9 1080.8 1052.5 1082.8 1049.5 1084.8 1050.8 1086.8 1050.4 1088.8 1048.9 1090.8 1049.8 1092.8 1050.9 1094.8 1049.6 1096.8 1049.6 1098.8 1049.9 1100.8 1048.2 1102.8 1048.9 1104.8 1049.9 1106.8 1050.1 1108.8 1048.9 1110.8 1049.4 1112.8 1049.7 1114.8 1049.7 1116.8 1050.5 1118.8 1050 1120.8 1050.1 1122.8 1048.7 1124.8 1049.1 1126.8 1050.3 1128.8 1048.7 1130.8 1050.4 1132.8 1049.6 1134.8 1049.5 1136.8 1050.8 1138.8 1049.7 1140.8 1049.6 1142.8 1049.8 1144.8 1050.5 1146.8 1053 1148.8 1048.7 1150.8 1050.6 1152.8 1050.4 1154.8 1051.6 1156.8 1050.4 1158.8 1048.6 1160.8 1052.1 1162.8 1049.9 1164.8 1050.9 1166.8 1049.8 1168.9 1050.1 1170.9 1050.7 1172.9 1052 1174.9 1052 1176.9 1050.8 1178.9 1051.9 1180.9 1051.2 1182.9 1051.7 1184.9 1051.8 1186.9 1052.3 1188.9 1051.3 1190.9 1051.8 1192.9 1052.2 1194.9 1052.2 1196.9 1051.5 1198.9 1053.9 1200.9 1052 1202.9 1053.2 1204.9 1052.8 1206.9 1053.9 1208.9 1051 1210.9 1054.9 1212.9 1053 1214.9 1052.2 1216.9 1053.5 1218.9 1055.6 1220.9 1054.1 1222.9 1052.7 1224.9 1053.6 1226.9 1055.3 1228.9 1053 1230.9 1054.2 1232.9 1054.3 1234.9 1056.6 1236.9 1054.6 1238.9 1056.2 1240.9 1054.5 1242.9 1054.6 1244.9 1056.3 1246.9 1056.2 1248.9 1054.2 1250.9 1056.5 1252.9 1056.6 1254.9 1055.7 1256.9 1056.6 1258.9 1056.8 1260.9 1056.3 1262.9 1056.3 1264.9 1056.4 1266.9 1056.9 1268.9 1056.1 1270.9 1057.4 1272.9 1056.3 1274.9 1057.8 1276.9 1057.8 1278.9 1057.1 1280.9 1059 1282.9 1060.1 1284.9 1059.7 1286.9 1057.4 1288.9 1059.9 1290.9 1059.1 1292.9 1059 1294.9 1058.7 1296.9 1059.3 1298.9 1060.7 1300.9 1060.1 1302.9 1059.4 1304.9 1059.3 1306.9 1059.7 1308.9 1060.7 1310.9 1062 1312.9 1059.5 1314.9 1060.6 1316.9 1060.4 1318.9 1060.2 1320.9 1061.4 1322.9 1061.7 1324.9 1060 1326.9 1060.5 1328.9 1062.7 1330.9 1062 1332.9 1062.4 1334.9 1061.6 1336.9 1061.8 1338.9 1062.7 1340.9 1062 1342.9 1061.6 1344.9 1062.8 1346.9 1063.7 1348.9 1062.1 1350.9 1064.1 1352.9 1064 1354.9 1062.7 1356.9 1063.6 1358.9 1063.7 1360.9 1064.5 1362.9 1064.6 1364.9 1063 1366.9 1063.1 1368.9 1065.4 1370.9 1064.7 1372.9 1065.1 1374.9 1065.2 1376.9 1066.4 1378.9 1064.1 1380.9 1066.3 1382.9 1064.7 1384.9 1066.2 1386.9 1066.9 1388.9 1064.6 1390.9 1066.3 1392.9 1065.8 1394.9 1065.9 1396.9 1066.3 1398.9 1065.5 1400.9 1065.7 1402.9 1067.2 1404.9 1067.5 1406.9 1066.4 1408.9 1065.7 1410.9 1069.2 1412.9 1068.2 1414.9 1067.6 1416.9 1066.5 1418.9 1067 1420.9 1067.9 1422.9 1066.9 1424.9 1069.3 1426.9 1068.1 1428.9 1068.4 1430.9 1067.2 1432.9 1067.5 1434.9 1067.7 1436.9 1068.7 1438.9 1068.3 1440.9 1068.4 1442.9 1069 1444.9 1069.1 1446.9 1070.3 1448.9 1068.9 1450.9 1068.2 1452.9 1069.2 1454.9 1070.6 1456.9 1068.9 1458.9 1069.6 1460.9 1069.3 1462.9 1070.1 1464.9 1070 1466.9 1069.2 1468.9 1069.8 1470.9 1070.9 1472.9 1071.1 1474.9 1071.1 1476.9 1071.1 1478.9 1070.1 1480.9 1070.2 1482.9 1071.4 1484.9 1069.6 1486.9 1070.7 1488.9 1069.2 1490.9 1070.6 1492.9 1070.4 1494.9 1070 1496.9 1071.7 1498.9 1070.6 1500.9 1071 1502.9 1071.2 1504.9 1070.8 1506.9 1072.8 1508.9 1071.2 1510.9 1071.9 1512.9 1070.6 1514.9 1071.4 1516.9 1071.6 1518.9 1071.7 1520.9 1071.6 1522.9 1072.3 1524.9 1073.6 1526.9 1072.2 1528.9 1072.2 1531 1072.1 1533 1074.7 1535 1074 1537 1073.1 1539 1073.3 1541 1072.1 1543 1072.7 1545 1073.1 1547 1073.1 1549 1072.3 1551 1072.4 1553 1073.6 1555 1073.5 1557 1071.4 1559 1073.4 1561 1074.5 1563 1072.9 1565 1073.7 1567 1072.3 1569 1074.4 1571 1072.7 1573 1072.6 1575 1073.5 1577 1075.9 1579 1073.4 1581 1072.8 1583 1074.4 1585 1074.3 1587 1075.6 1589 1073 1591 1072.8 1593 1074 1595 1074.7 1597 1074.7 1599 1075.4 1601 1073.2 1603 1073.8 1605 1074.5 1607 1075.4 1609 1075.1 1611 1074.4 1613 1073.9 1615 1075.6 1617 1075.7 1619 1077.3 1621 1074.8 1623 1076.5 1625 1074 1627 1074.7 1629 1074.6 1631 1074.8 1633 1074.5 1635 1074.9 1637 1075.4 1639 1075.1 1641 1076.1 1643 1075.5 1645 1075.6 1647 1077 1649 1076 1651 1075.9 1653 1075.8 1655 1075.9 1657 1076.4 1659 1075.3 1661 1077 1663 1077.5 1665 1077.2 1667 1075.8 1669 1074.8 1671 1075.9 1673 1076.5 1675 1077.1 1677 1076.3 1679 1076.2 1681 1077.9 1683 1076 1685 1077.6 1687 1077.5 1689 1075.6 1691 1077.1 1693 1076.4"/><path d="M310.6 1042.7L312.6 1042 314.6 1041.4 316.6 1040.8 318.6 1040.2 320.6 1039.7 322.6 1039.1 324.6 1038.6 326.6 1038.1 328.6 1037.5 330.6 1037 332.6 1036.5 334.6 1036 336.6 1035.6 338.6 1035.1 340.6 1034.6 342.6 1034.1 344.6 1033.7 346.6 1033.2 348.6 1032.8 350.6 1032.4 352.6 1032 354.6 1031.6 356.6 1031.2 358.6 1030.8 360.6 1030.5 362.6 1030.1 364.6 1029.7 366.6 1029.4 368.6 1029.1 370.6 1028.7 372.6 1028.4 374.6 1028.1 376.6 1027.8 378.6 1027.5 380.6 1027.2 382.6 1026.9 384.6 1026.6 386.6 1026.3 388.6 1026.1 390.6 1025.8 392.6 1025.6 394.6 1025.4 396.6 1025.1 398.6 1024.9 400.6 1024.6 402.6 1024.4 404.6 1024.1 406.6 1023.9 408.6 1023.6 410.6 1023.3 412.6 1023 414.6 1022.6 416.6 1022.3 418.6 1021.9 420.6 1021.6 422.6 1021.2 424.6 1020.8 426.6 1020.4 428.6 1020 430.6 1019.6 432.6 1019.2 434.6 1018.8 436.6 1018.3 438.6 1017.9 440.6 1017.5 442.6 1017 444.6 1016.6 446.7 1016.1 448.7 1015.6 450.7 1015 452.7 1014.4 454.7 1013.9 456.7 1013.3 458.7 1012.7 460.7 1012.2 462.7 1011.7 464.7 1011.3 466.7 1010.9 468.7 1010.6 470.7 1010.3 472.7 1010 474.7 1009.8 476.7 1009.5 478.7 1009.3 480.7 1009 482.7 1008.7 484.7 1008.4 486.7 1008.1 488.7 1007.8 490.7 1007.5 492.7 1007.1 494.7 1006.8 496.7 1006.5 498.7 1006.2 500.7 1005.8 502.7 1005.4 504.7 1005 506.7 1004.5 508.7 1004 510.7 1003.3 512.7 1002.5 514.7 1001.6 516.7 1000.5 518.7 999.3 520.7 998.1 522.7 996.8 524.7 995.5 526.7 994.1 528.7 992.8 530.7 991.6 532.7 990.3 534.7 989.1 536.7 987.9 538.7 986.7 540.7 985.4 542.7 984 544.7 982.6 546.7 981 548.7 979.3 550.7 977.5 552.7 975.4 554.7 972.7 556.7 969.6 558.7 966 560.7 962.3 562.7 958.4 564.7 954.6 566.7 951 568.7 947.7 570.7 944.6 572.7 941.6 574.7 938.6 576.7 935.6 578.7 932.7 580.7 929.8 582.7 926.9 584.7 924 586.7 921.1 588.7 918.3 590.7 915.8 592.7 913.3 594.7 910.7 596.7 908 598.7 905 600.7 901.5 602.7 897 604.7 892 606.7 886.7 608.7 881.8 610.7 877.5 612.7 873.6 614.7 870 616.7 866.3 618.7 862.2 620.7 857.8 622.7 853.2 624.7 848.2 626.7 842.9 628.7 837.3 630.7 830.6 632.7 823.3 634.7 816.2 636.7 809.2 638.7 801.2 640.7 794.6 642.7 791.7 644.7 793.2 646.7 796.6 648.7 800.8 650.7 804.9 652.7 808.5 654.7 812.8 656.7 817.1 658.7 820.5 660.7 822.1 662.7 821 664.7 817.3 666.7 812 668.7 806.4 670.7 801.5 672.7 796.3 674.7 790.5 676.7 785.4 678.7 782.6 680.7 783.7 682.7 788.9 684.7 796.2 686.7 810.5 688.7 827.7 690.7 840.3 692.7 851 694.7 859.7 696.7 867.1 698.7 872.9 700.7 877.4 702.7 882 704.7 886.1 706.7 889.1 708.7 890.5 710.7 890 712.7 888.5 714.7 886.5 716.7 884.3 718.7 882.2 720.7 880 722.7 877.2 724.7 874.6 726.7 872.7 728.7 872.5 730.7 874.2 732.7 877.2 734.7 880.9 736.7 885.8 738.7 893.5 740.7 901.6 742.7 908.6 744.7 915.6 746.7 922.9 748.7 931.4 750.7 940.1 752.7 946.7 754.7 952.1 756.7 957.1 758.7 961.6 760.7 965.7 762.7 969.5 764.7 972.9 766.7 976 768.7 978.8 770.7 981.3 772.7 983.7 774.7 985.8 776.7 987.9 778.7 989.9 780.7 991.8 782.7 993.6 784.7 995.5 786.7 997.3 788.7 999.1 790.7 1000.9 792.7 1002.6 794.7 1004.2 796.7 1005.8 798.7 1007.4 800.7 1008.8 802.7 1010.3 804.7 1011.6 806.7 1012.8 808.8 1014 810.8 1015.2 812.8 1016.3 814.8 1017.4 816.8 1018.4 818.8 1019.4 820.8 1020.3 822.8 1021.2 824.8 1022.1 826.8 1022.9 828.8 1023.6 830.8 1024.4 832.8 1025 834.8 1025.7 836.8 1026.3 838.8 1026.9 840.8 1027.5 842.8 1028.1 844.8 1028.6 846.8 1029.2 848.8 1029.7 850.8 1030.2 852.8 1030.7 854.8 1031.2 856.8 1031.7 858.8 1032.2 860.8 1032.7 862.8 1033.1 864.8 1033.6 866.8 1034.1 868.8 1034.5 870.8 1035 872.8 1035.4 874.8 1035.8 876.8 1036.2 878.8 1036.6 880.8 1037 882.8 1037.3 884.8 1037.7 886.8 1038 888.8 1038.2 890.8 1038.5 892.8 1038.7 894.8 1039 896.8 1039.2 898.8 1039.4 900.8 1039.6 902.8 1039.8 904.8 1040 906.8 1040.2 908.8 1040.4 910.8 1040.6 912.8 1040.8 914.8 1041 916.8 1041.1 918.8 1041.3 920.8 1041.5 922.8 1041.6 924.8 1041.7 926.8 1041.9 928.8 1042 930.8 1042.1 932.8 1042.2 934.8 1042.3 936.8 1042.4 938.8 1042.5 940.8 1042.5 942.8 1042.6 944.8 1042.7 946.8 1042.8 948.8 1042.9 950.8 1043 952.8 1043.1 954.8 1043.1 956.8 1043.2 958.8 1043.3 960.8 1043.3 962.8 1043.4 964.8 1043.5 966.8 1043.5 968.8 1043.6 970.8 1043.6 972.8 1043.6 974.8 1043.7 976.8 1043.7 978.8 1043.7 980.8 1043.7 982.8 1043.7 984.8 1043.8 986.8 1043.8 988.8 1043.8 990.8 1043.8 992.8 1043.8 994.8 1043.8 996.8 1043.9 998.8 1043.9 1000.8 1043.9 1002.8 1043.9 1004.8 1043.9 1006.8 1043.9 1008.8 1043.9 1010.8 1043.9 1012.8 1043.9 1014.8 1043.9 1016.8 1043.9 1018.8 1043.9 1020.8 1043.9 1022.8 1043.9 1024.8 1043.9 1026.8 1044 1028.8 1044 1030.8 1044 1032.8 1044.1 1034.8 1044.2 1036.8 1044.2 1038.8 1044.3 1040.8 1044.4 1042.8 1044.4 1044.8 1044.5 1046.8 1044.6 1048.8 1044.7 1050.8 1044.8 1052.8 1044.8 1054.8 1044.9 1056.8 1045 1058.8 1045 1060.8 1045.1 1062.8 1045.1 1064.8 1045.2 1066.8 1045.2 1068.8 1045.3 1070.8 1045.3 1072.8 1045.4 1074.8 1045.4 1076.8 1045.5 1078.8 1045.5 1080.8 1045.5 1082.8 1045.6 1084.8 1045.6 1086.8 1045.7 1088.8 1045.7 1090.8 1045.7 1092.8 1045.8 1094.8 1045.8 1096.8 1045.9 1098.8 1045.9 1100.8 1045.9 1102.8 1046 1104.8 1046 1106.8 1046.1 1108.8 1046.1 1110.8 1046.1 1112.8 1046.2 1114.8 1046.2 1116.8 1046.3 1118.8 1046.3 1120.8 1046.3 1122.8 1046.4 1124.8 1046.4 1126.8 1046.5 1128.8 1046.5 1130.8 1046.6 1132.8 1046.6 1134.8 1046.6 1136.8 1046.7 1138.8 1046.7 1140.8 1046.8 1142.8 1046.8 1144.8 1046.9 1146.8 1046.9 1148.8 1047 1150.8 1047 1152.8 1047.1 1154.8 1047.1 1156.8 1047.2 1158.8 1047.2 1160.8 1047.3 1162.8 1047.3 1164.8 1047.4 1166.8 1047.5 1168.9 1047.5 1170.9 1047.6 1172.9 1047.6 1174.9 1047.7 1176.9 1047.8 1178.9 1047.8 1180.9 1047.9 1182.9 1048 1184.9 1048.1 1186.9 1048.2 1188.9 1048.3 1190.9 1048.4 1192.9 1048.4 1194.9 1048.5 1196.9 1048.7 1198.9 1048.8 1200.9 1048.9 1202.9 1049 1204.9 1049.1 1206.9 1049.2 1208.9 1049.3 1210.9 1049.5 1212.9 1049.6 1214.9 1049.7 1216.9 1049.9 1218.9 1050 1220.9 1050.1 1222.9 1050.3 1224.9 1050.4 1226.9 1050.6 1228.9 1050.7 1230.9 1050.8 1232.9 1051 1234.9 1051.1 1236.9 1051.3 1238.9 1051.4 1240.9 1051.6 1242.9 1051.7 1244.9 1051.9 1246.9 1052.1 1248.9 1052.2 1250.9 1052.4 1252.9 1052.5 1254.9 1052.7 1256.9 1052.8 1258.9 1053 1260.9 1053.1 1262.9 1053.3 1264.9 1053.5 1266.9 1053.6 1268.9 1053.8 1270.9 1053.9 1272.9 1054.1 1274.9 1054.2 1276.9 1054.4 1278.9 1054.5 1280.9 1054.7 1282.9 1054.8 1284.9 1055 1286.9 1055.1 1288.9 1055.2 1290.9 1055.4 1292.9 1055.5 1294.9 1055.7 1296.9 1055.8 1298.9 1055.9 1300.9 1056.1 1302.9 1056.2 1304.9 1056.3 1306.9 1056.5 1308.9 1056.6 1310.9 1056.8 1312.9 1056.9 1314.9 1057 1316.9 1057.2 1318.9 1057.3 1320.9 1057.5 1322.9 1057.6 1324.9 1057.8 1326.9 1057.9 1328.9 1058 1330.9 1058.2 1332.9 1058.3 1334.9 1058.5 1336.9 1058.6 1338.9 1058.8 1340.9 1058.9 1342.9 1059.1 1344.9 1059.2 1346.9 1059.4 1348.9 1059.5 1350.9 1059.6 1352.9 1059.8 1354.9 1059.9 1356.9 1060.1 1358.9 1060.2 1360.9 1060.4 1362.9 1060.5 1364.9 1060.6 1366.9 1060.8 1368.9 1060.9 1370.9 1061.1 1372.9 1061.2 1374.9 1061.3 1376.9 1061.5 1378.9 1061.6 1380.9 1061.7 1382.9 1061.9 1384.9 1062 1386.9 1062.1 1388.9 1062.2 1390.9 1062.4 1392.9 1062.5 1394.9 1062.6 1396.9 1062.7 1398.9 1062.9 1400.9 1063 1402.9 1063.1 1404.9 1063.2 1406.9 1063.3 1408.9 1063.4 1410.9 1063.6 1412.9 1063.7 1414.9 1063.8 1416.9 1063.9 1418.9 1064 1420.9 1064.1 1422.9 1064.2 1424.9 1064.3 1426.9 1064.4 1428.9 1064.5 1430.9 1064.6 1432.9 1064.7 1434.9 1064.8 1436.9 1064.9 1438.9 1065 1440.9 1065.1 1442.9 1065.2 1444.9 1065.3 1446.9 1065.4 1448.9 1065.5 1450.9 1065.6 1452.9 1065.7 1454.9 1065.8 1456.9 1065.9 1458.9 1066 1460.9 1066 1462.9 1066.1 1464.9 1066.2 1466.9 1066.3 1468.9 1066.4 1470.9 1066.5 1472.9 1066.6 1474.9 1066.7 1476.9 1066.8 1478.9 1066.9 1480.9 1066.9 1482.9 1067 1484.9 1067.1 1486.9 1067.2 1488.9 1067.3 1490.9 1067.4 1492.9 1067.4 1494.9 1067.5 1496.9 1067.6 1498.9 1067.7 1500.9 1067.8 1502.9 1067.8 1504.9 1067.9 1506.9 1068 1508.9 1068.1 1510.9 1068.1 1512.9 1068.2 1514.9 1068.3 1516.9 1068.4 1518.9 1068.4 1520.9 1068.5 1522.9 1068.6 1524.9 1068.7 1526.9 1068.7 1528.9 1068.8 1531 1068.9 1533 1068.9 1535 1069 1537 1069.1 1539 1069.1 1541 1069.2 1543 1069.3 1545 1069.3 1547 1069.4 1549 1069.5 1551 1069.5 1553 1069.6 1555 1069.6 1557 1069.7 1559 1069.8 1561 1069.8 1563 1069.9 1565 1069.9 1567 1070 1569 1070 1571 1070.1 1573 1070.2 1575 1070.2 1577 1070.3 1579 1070.3 1581 1070.4 1583 1070.4 1585 1070.5 1587 1070.5 1589 1070.6 1591 1070.7 1593 1070.7 1595 1070.8 1597 1070.8 1599 1070.9 1601 1070.9 1603 1071 1605 1071 1607 1071.1 1609 1071.1 1611 1071.2 1613 1071.2 1615 1071.3 1617 1071.3 1619 1071.4 1621 1071.4 1623 1071.5 1625 1071.5 1627 1071.6 1629 1071.6 1631 1071.7 1633 1071.7 1635 1071.8 1637 1071.8 1639 1071.9 1641 1071.9 1643 1072 1645 1072 1647 1072.1 1649 1072.2 1651 1072.2 1653 1072.3 1655 1072.3 1657 1072.4 1659 1072.4 1661 1072.5 1663 1072.5 1665 1072.6 1667 1072.6 1669 1072.7 1671 1072.7 1673 1072.8 1675 1072.8 1677 1072.9 1679 1072.9 1681 1073 1683 1073 1685 1073.1 1687 1073.1 1689 1073.2 1691 1073.3 1693 1073.3"/></g>
<path d="M264.6 1066.7L266.6 1066.2 268.6 1065.6 270.6 1065.1 272.6 1064.6 274.6 1064 276.6 1063.5 278.6 1063 280.7 1062.5 282.7 1062.1 284.7 1061.6 286.7 1061.1 288.7 1060.7 290.7 1060.2 292.7 1059.8 294.7 1059.3 296.7 1058.9 298.7 1058.5 300.7 1058.1 302.7 1057.7 304.7 1057.4 306.7 1057 308.7 1056.7 310.8 1056.3 312.8 1056 314.8 1055.7 316.8 1055.4 318.8 1055.2 320.8 1054.9 322.8 1054.6 324.8 1054.4 326.8 1054.1 328.8 1053.9 330.8 1053.6 332.8 1053.4 334.8 1053.1 336.8 1052.9 338.8 1052.6 340.9 1052.4 342.9 1052.1 344.9 1051.9 346.9 1051.7 348.9 1051.5 350.9 1051.3 352.9 1051.1 354.9 1050.9 356.9 1050.8 358.9 1050.6 360.9 1050.5 362.9 1050.4 364.9 1050.3 366.9 1050.2 368.9 1050.1 371 1050 373 1050 375 1050 377 1050 379 1050 381 1050.1 383 1050.1 385 1050.2 387 1050.2 389 1050.3 391 1050.4 393 1050.5 395 1050.6 397 1050.7 399 1050.8 401.1 1050.9 403.1 1051.1 405.1 1051.2 407.1 1051.4 409.1 1051.5 411.1 1051.7 413.1 1051.9 415.1 1052 417.1 1052.2 419.1 1052.4 421.1 1052.6 423.1 1052.8 425.1 1053 427.1 1053.2 429.1 1053.4 431.1 1053.6 433.2 1053.8 435.2 1054 437.2 1054.2 439.2 1054.4 441.2 1054.6 443.2 1054.9 445.2 1055.2 447.2 1055.5 449.2 1055.8 451.2 1056.1 453.2 1056.5 455.2 1056.8 457.2 1057.2 459.2 1057.6 461.2 1058 463.3 1058.4 465.3 1058.8 467.3 1059.3 469.3 1059.7 471.3 1060.1 473.3 1060.6 475.3 1061 477.3 1061.4 479.3 1061.9 481.3 1062.3 483.3 1062.7 485.3 1063.1 487.3 1063.5 489.3 1063.9 491.3 1064.3 493.4 1064.6 495.4 1065 497.4 1065.4 499.4 1065.8 501.4 1066.1 503.4 1066.5 505.4 1066.9 507.4 1067.3 509.4 1067.6 511.4 1068 513.4 1068.4 515.4 1068.8 517.4 1069.1 519.4 1069.5 521.4 1069.9 523.5 1070.3 525.5 1070.6 527.5 1071 529.5 1071.4 531.5 1071.8 533.5 1072.1 535.5 1072.5 537.5 1072.9" fill="none" stroke="#2a9696" stroke-width="6.5" stroke-linejoin="round" stroke-linecap="round" />
<path d="M410.4 1072.9L412.4 1072.6 414.4 1072.3 416.5 1072 418.5 1071.7 420.5 1071.4 422.5 1071.1 424.5 1070.7 426.5 1070.4 428.6 1070.1 430.6 1069.8 432.6 1069.4 434.6 1069.1 436.6 1068.7 438.6 1068.3 440.7 1067.8 442.7 1067.3 444.7 1066.8 446.7 1066.3 448.7 1065.8 450.7 1065.4 452.8 1065.1 454.8 1064.8 456.8 1064.6 458.8 1064.6 460.8 1064.6 462.9 1064.6 464.9 1064.7 466.9 1064.7 468.9 1064.8 470.9 1064.9 472.9 1065 475 1065.1 477 1065.2 479 1065.3 481 1065.4 483 1065.5 485 1065.7 487.1 1065.8 489.1 1065.9 491.1 1066.1 493.1 1066.2 495.1 1066.4 497.2 1066.6 499.2 1066.8 501.2 1067 503.2 1067.2 505.2 1067.4 507.2 1067.7 509.3 1068 511.3 1068.3 513.3 1068.5 515.3 1068.9 517.3 1069.2 519.3 1069.5 521.4 1069.8 523.4 1070.2 525.4 1070.6 527.4 1070.9 529.4 1071.3 531.4 1071.7 533.5 1072.1 535.5 1072.5 537.5 1072.9" fill="none" stroke="#2a9696" stroke-width="6.5" stroke-linejoin="round" stroke-linecap="round" />
<path d="M573.9 1070.7L575.4 1070.6 576.9 1070.6 578.4 1070.5 580 1070.4 581.5 1070.3 583 1070.2 584.5 1070.1 586 1070 587.5 1069.8 589 1069.7 590.5 1069.5 592.1 1069.4 593.6 1069.2 595.1 1069 596.6 1068.8 598.1 1068.5 599.6 1068.3 601.1 1068 602.7 1067.7 604.2 1067.3 605.7 1066.9 607.2 1066.4 608.7 1065.9 610.2 1065.3 611.7 1064.6 613.2 1063.8 614.8 1062.9 616.3 1061.9 617.8 1060.7 619.3 1059.3 620.8 1057.7 622.3 1055.9 623.8 1053.9 625.4 1051.7 626.9 1049.2 628.4 1046.5 629.9 1043.5 631.4 1040.4 632.9 1037.1 634.4 1033.8 636 1030.4 637.5 1027.3 639 1024.6 640.5 1022.4 642 1021 643.5 1020.5 645 1020.9 646.5 1022.2 648.1 1024.3 649.6 1027 651.1 1030.1 652.6 1033.4 654.1 1036.7 655.6 1040 657.1 1043.2 658.7 1046.2 660.2 1048.9 661.7 1051.4 663.2 1053.7 664.7 1055.7 666.2 1057.5 667.7 1059.1 669.2 1060.5 670.8 1061.7 672.3 1062.8 673.8 1063.7 675.3 1064.5 676.8 1065.2 678.3 1065.9 679.8 1066.4 681.4 1066.9 682.9 1067.3 684.4 1067.6 685.9 1068 687.4 1068.3 688.9 1068.5 690.4 1068.8 691.9 1069 693.5 1069.2 695 1069.3 696.5 1069.5 698 1069.7" fill="none" stroke="#3030a8" stroke-width="6.5" stroke-linejoin="round" stroke-linecap="round" />
<path d="M641.8 1070.8L643.3 1070.7 644.8 1070.5 646.4 1070.4 647.9 1070.2 649.4 1069.9 650.9 1069.6 652.4 1069.3 654 1068.8 655.5 1068.2 657 1067.3 658.5 1066.3 660 1064.8 661.5 1063 663.1 1060.6 664.6 1057.7 666.1 1054.1 667.6 1049.8 669.1 1044.9 670.7 1039.3 672.2 1033.2 673.7 1026.9 675.2 1020.5 676.7 1014.6 678.3 1009.5 679.8 1005.7 681.3 1003.7 682.8 1003.8 684.3 1005.9 685.9 1009.8 687.4 1015 688.9 1021 690.4 1027.4 691.9 1033.7 693.5 1039.7 695 1045.3 696.5 1050.2 698 1054.4 699.5 1058 701 1060.8 702.6 1063.2 704.1 1065 705.6 1066.3 707.1 1067.4 708.6 1068.2 710.2 1068.8 711.7 1069.3 713.2 1069.7" fill="none" stroke="#3030a8" stroke-width="6.5" stroke-linejoin="round" stroke-linecap="round" />
<path d="M666 1069.5L667.5 1069.4 669 1069.3 670.5 1069.1 672 1068.9 673.5 1068.8 675 1068.6 676.5 1068.4 678 1068.2 679.5 1067.9 681 1067.7 682.6 1067.4 684.1 1067.1 685.6 1066.7 687.1 1066.3 688.6 1065.9 690.1 1065.4 691.6 1064.8 693.1 1064.2 694.6 1063.5 696.1 1062.7 697.6 1061.8 699.1 1060.7 700.6 1059.4 702.1 1058 703.6 1056.4 705.1 1054.6 706.6 1052.5 708.1 1050.1 709.6 1047.4 711.1 1044.5 712.6 1041.2 714.1 1037.7 715.7 1033.8 717.2 1029.7 718.7 1025.3 720.2 1020.8 721.7 1016.3 723.2 1011.9 724.7 1007.8 726.2 1004.2 727.7 1001.3 729.2 999.3 730.7 998.5 732.2 998.9 733.7 1000.4 735.2 1002.9 736.7 1006.2 738.2 1010.2 739.7 1014.5 741.2 1019 742.7 1023.5 744.2 1027.9 745.7 1032.2 747.3 1036.1 748.8 1039.8 750.3 1043.2 751.8 1046.3 753.3 1049.1 754.8 1051.5 756.3 1053.7 757.8 1055.7 759.3 1057.4 760.8 1058.9 762.3 1060.2 763.8 1061.3 765.3 1062.3 766.8 1063.2 768.3 1063.9 769.8 1064.6 771.3 1065.2 772.8 1065.7 774.3 1066.1 775.8 1066.6 777.3 1066.9 778.8 1067.2 780.4 1067.5 781.9 1067.8 783.4 1068.1 784.9 1068.3 786.4 1068.5 787.9 1068.7 789.4 1068.9 790.9 1069 792.4 1069.2 793.9 1069.4 795.4 1069.5" fill="none" stroke="#3030a8" stroke-width="6.5" stroke-linejoin="round" stroke-linecap="round" />
<path d="M264.6 1066.7L266.6 1066.7 268.6 1066.7 270.6 1066.7 272.6 1066.6 274.6 1066.6 276.6 1066.5 278.6 1066.5 280.6 1066.4 282.6 1066.3 284.6 1066.3 286.6 1066.2 288.7 1066.1 290.7 1066 292.7 1065.9 294.7 1065.8 296.7 1065.6 298.7 1065.5 300.7 1065.4 302.7 1065.2 304.7 1065.1 306.7 1065 308.7 1064.8 310.7 1064.6 312.7 1064.5 314.7 1064.3 316.7 1064.1 318.7 1064 320.7 1063.8 322.7 1063.6 324.7 1063.4 326.7 1063.2 328.7 1063 330.7 1062.8 332.8 1062.6 334.8 1062.4 336.8 1062.2 338.8 1062 340.8 1061.8 342.8 1061.6 344.8 1061.4 346.8 1061.2 348.8 1061 350.8 1060.8 352.8 1060.6 354.8 1060.3 356.8 1060.1 358.8 1059.9 360.8 1059.6 362.8 1059.3 364.8 1059 366.8 1058.7 368.8 1058.3 370.8 1058 372.8 1057.6 374.8 1057.2 376.8 1056.9 378.9 1056.5 380.9 1056 382.9 1055.6 384.9 1055.2 386.9 1054.8 388.9 1054.3 390.9 1053.9 392.9 1053.4 394.9 1052.9 396.9 1052.5 398.9 1052 400.9 1051.5 402.9 1051.1 404.9 1050.6 406.9 1050.1 408.9 1049.7 410.9 1049.2 412.9 1048.8 414.9 1048.3 416.9 1047.8 418.9 1047.4 420.9 1046.9 422.9 1046.5 425 1046 427 1045.6 429 1045.1 431 1044.6 433 1044.2 435 1043.7 437 1043.2 439 1042.7 441 1042.2 443 1041.7 445 1041.2 447 1040.6 449 1040.1 451 1039.6 453 1039 455 1038.4 457 1037.9 459 1037.3 461 1036.7 463 1036.1 465 1035.5 467 1034.9 469.1 1034.3 471.1 1033.7 473.1 1033.1 475.1 1032.5 477.1 1031.8 479.1 1031.1 481.1 1030.5 483.1 1029.8 485.1 1029 487.1 1028.3 489.1 1027.5 491.1 1026.7 493.1 1025.9 495.1 1025.1 497.1 1024.2 499.1 1023.3 501.1 1022.4 503.1 1021.4 505.1 1020.3 507.1 1019.3 509.1 1018.1 511.1 1016.9 513.1 1015.7 515.2 1014.5 517.2 1013.1 519.2 1011.8 521.2 1010.4 523.2 1008.9 525.2 1007.5 527.2 1005.9 529.2 1004.4 531.2 1002.8 533.2 1001.1 535.2 999.4 537.2 997.7 539.2 996 541.2 994.2 543.2 992.4 545.2 990.4 547.2 988.4 549.2 986.3 551.2 984.1 553.2 981.9 555.2 979.5 557.2 977.1 559.2 974.6 561.3 972.1 563.3 969.5 565.3 966.8 567.3 964.1 569.3 961.3 571.3 958.5 573.3 955.6 575.3 952.7 577.3 949.8 579.3 946.8 581.3 943.8 583.3 940.7 585.3 937.5 587.3 934 589.3 930.4 591.3 926.6 593.3 922.7 595.3 918.8 597.3 914.9 599.3 911.1 601.3 907.5 603.3 904 605.4 900.7 607.4 897.3 609.4 893.9 611.4 890.5 613.4 887.2 615.4 883.9 617.4 880.9 619.4 878 621.4 875.4 623.4 873.2 625.4 871.3 627.4 869.6 629.4 868 631.4 866.4 633.4 864.8 635.4 863.3 637.4 862 639.4 860.7 641.4 859.5 643.4 858.6 645.4 857.8 647.4 857.2 649.4 856.8 651.5 856.7 653.5 856.9 655.5 857.4 657.5 858.3 659.5 859.4 661.5 860.7 663.5 862.3 665.5 864 667.5 865.8 669.5 867.7 671.5 869.7 673.5 871.7 675.5 873.7 677.5 875.8 679.5 878.3 681.5 881.1 683.5 884.1 685.5 887.4 687.5 890.7 689.5 894.1 691.5 897.6 693.5 901 695.5 904.3 697.6 907.4 699.6 910.5 701.6 913.6 703.6 916.7 705.6 919.8 707.6 923 709.6 926.1 711.6 929.1 713.6 932.2 715.6 935.2 717.6 938.1 719.6 941.1 721.6 944 723.6 947 725.6 950 727.6 953 729.6 956 731.6 959 733.6 962 735.6 965 737.6 968 739.6 970.9 741.7 973.8 743.7 976.6 745.7 979.4 747.7 982.1 749.7 984.7 751.7 987.3 753.7 989.7 755.7 992.1 757.7 994.3 759.7 996.5 761.7 998.5" fill="none" stroke="#a33030" stroke-width="6.5" stroke-linejoin="round" stroke-linecap="round" />
<path d="M480.7 1018L482.7 1017.7 484.7 1017.4 486.7 1017.1 488.7 1016.8 490.7 1016.4 492.7 1016.1 494.7 1015.8 496.7 1015.4 498.7 1015 500.7 1014.6 502.7 1014.2 504.7 1013.8 506.7 1013.2 508.7 1012.7 510.7 1012 512.7 1011.2 514.7 1010.3 516.7 1009.2 518.7 1008.1 520.7 1006.9 522.7 1005.6 524.7 1004.3 526.7 1003 528.7 1001.7 530.7 1000.5 532.7 999.2 534.7 998 536.7 996.7 538.7 995.4 540.7 994 542.7 992.6 544.7 990.9 546.7 989 548.7 986.9 550.7 984.7 552.7 982.5 554.7 980.2 556.7 977.8 558.7 974.5 560.7 970.9 562.7 967.3 564.7 963.6 566.7 960.1 568.7 956.9 570.7 953.8 572.7 950.7 574.7 947.7 576.7 944.8 578.7 941.8 580.7 938.9 582.7 935.9 584.7 933 586.7 930.1 588.7 927.2 590.7 924.5 592.7 921.9 594.7 919.2 596.7 916.2 598.7 912.4 600.7 908.7 602.7 905.1 604.7 900.5 606.7 895.5 608.7 890.8 610.7 886.5 612.7 882.6 614.7 878.7 616.7 874.8 618.7 870.7 620.7 866.2 622.7 861.5 624.7 856.6 626.7 851.4 628.7 845.9 630.7 839.7 632.7 833.1 634.7 826.7 636.7 820.4 638.7 813.6" fill="none" stroke="#8b0000" stroke-width="6" stroke-linejoin="round" stroke-linecap="round" />
<path d="M759.7 996.5L761.7 998.5 763.7 1000.3 765.7 1002.1 767.7 1003.9 769.7 1005.6 771.7 1007.3 773.7 1008.9 775.7 1010.5 777.7 1012 779.7 1013.5 781.7 1015 783.7 1016.4 785.7 1017.8 787.8 1019.2 789.8 1020.5 791.8 1021.7 793.8 1023 795.8 1024.2 797.8 1025.3 799.8 1026.5 801.8 1027.5 803.8 1028.6 805.8 1029.6 807.8 1030.7 809.8 1031.6 811.8 1032.6 813.8 1033.6 815.8 1034.5 817.8 1035.4 819.8 1036.3 821.8 1037.2 823.8 1038 825.8 1038.9 827.8 1039.7 829.8 1040.5 831.8 1041.2 833.9 1042 835.9 1042.7 837.9 1043.4 839.9 1044.1 841.9 1044.7 843.9 1045.3 845.9 1045.9 847.9 1046.5 849.9 1047.1 851.9 1047.6 853.9 1048.1 855.9 1048.7 857.9 1049.2 859.9 1049.7 861.9 1050.2 863.9 1050.7 865.9 1051.2 867.9 1051.7 869.9 1052.2 871.9 1052.6 873.9 1053.1 875.9 1053.5 878 1053.9 880 1054.3 882 1054.7 884 1055.1 886 1055.4 888 1055.8 890 1056.1 892 1056.4 894 1056.7 896 1056.9 898 1057.2 900 1057.4" fill="none" stroke="#8b0000" stroke-width="6.5" stroke-linejoin="round" stroke-linecap="round" />
<path d="M827.1 1066L829.1 1065.9 831.1 1065.9 833.2 1065.8 835.2 1065.8 837.2 1065.7 839.2 1065.6 841.2 1065.6 843.2 1065.5 845.3 1065.4 847.3 1065.4 849.3 1065.3 851.3 1065.2 853.3 1065.1 855.3 1065.1 857.4 1065 859.4 1064.9 861.4 1064.8 863.4 1064.7 865.4 1064.7 867.5 1064.6 869.5 1064.5 871.5 1064.4 873.5 1064.3 875.5 1064.2 877.5 1064.1 879.6 1064 881.6 1063.9 883.6 1063.8 885.6 1063.7 887.6 1063.6 889.6 1063.5 891.7 1063.4 893.7 1063.3 895.7 1063.1 897.7 1063 899.7 1062.9 901.8 1062.8 903.8 1062.6 905.8 1062.5 907.8 1062.4 909.8 1062.2 911.8 1062.1 913.9 1062 915.9 1061.8 917.9 1061.7 919.9 1061.6 921.9 1061.4 923.9 1061.3 926 1061.2 928 1061.1 930 1060.9 932 1060.8 934 1060.7 936.1 1060.6 938.1 1060.5 940.1 1060.4 942.1 1060.3 944.1 1060.2 946.1 1060 948.2 1059.9 950.2 1059.8 952.2 1059.7 954.2 1059.6 956.2 1059.5 958.2 1059.4 960.3 1059.3 962.3 1059.2 964.3 1059.1 966.3 1059 968.3 1058.9 970.4 1058.8 972.4 1058.7 974.4 1058.6 976.4 1058.5 978.4 1058.4 980.4 1058.3 982.5 1058.2 984.5 1058.1 986.5 1058 988.5 1057.9 990.5 1057.8 992.5 1057.7 994.6 1057.6 996.6 1057.5 998.6 1057.4" fill="none" stroke="#a33030" stroke-width="6.5" stroke-linejoin="round" stroke-linecap="round" />
<path d="M850.8 1035.3L852.8 1035.8 854.8 1036.3 856.8 1036.8 858.8 1037.3 860.8 1037.7 862.8 1038.2 864.8 1038.6 866.8 1039.1 868.8 1039.5 870.8 1039.9 872.8 1040.3 874.8 1040.7 876.8 1041.1 878.8 1041.5 880.8 1041.8 882.8 1042.1 884.8 1042.4 886.8 1042.7 888.8 1043 890.8 1043.2 892.8 1043.5 894.8 1043.7 896.8 1043.9 898.8 1044.1 900.8 1044.3 902.8 1044.5 904.8 1044.7 906.8 1044.8 908.8 1045 910.8 1045.2 912.8 1045.3 914.8 1045.5 916.8 1045.6 918.8 1045.8 920.8 1045.9 922.8 1046 924.8 1046.2 926.8 1046.3 928.8 1046.4 930.8 1046.5 932.8 1046.5 934.8 1046.6 936.8 1046.7 938.8 1046.8 940.8 1046.8 942.8 1046.9 944.8 1047 946.8 1047 948.8 1047.1 950.8 1047.2 952.8 1047.2 954.8 1047.3 956.8 1047.3 958.8 1047.4 960.8 1047.4 962.8 1047.5 964.8 1047.5 966.8 1047.5 968.8 1047.5 970.8 1047.6 972.8 1047.6 974.8 1047.6 976.8 1047.6 978.8 1047.6 980.8 1047.6 982.8 1047.6 984.8 1047.6 986.8 1047.6 988.8 1047.6 990.8 1047.6 992.8 1047.6 994.8 1047.6 996.8 1047.6 998.8 1047.6 1000.8 1047.6 1002.8 1047.6 1004.8 1047.6 1006.8 1047.6 1008.8 1047.6 1010.8 1047.6 1012.8 1047.6 1014.8 1047.6 1016.8 1047.6 1018.8 1047.6 1020.8 1047.6 1022.8 1047.6 1024.8 1047.6 1026.8 1047.7 1028.8 1047.7 1030.8 1047.7 1032.8 1047.8 1034.8 1047.9 1036.8 1047.9 1038.8 1048 1040.8 1048.1 1042.8 1048.1 1044.8 1048.2 1046.8 1048.3 1048.8 1048.3 1050.8 1048.4 1052.8 1048.5 1054.8 1048.5 1056.8 1048.6 1058.8 1048.7 1060.8 1048.7 1062.8 1048.8 1064.8 1048.8 1066.8 1048.9 1068.8 1048.9 1070.8 1049 1072.8 1049 1074.8 1049 1076.8 1049.1 1078.8 1049.1 1080.8 1049.2 1082.8 1049.2 1084.8 1049.3 1086.8 1049.3 1088.8 1049.3 1090.8 1049.4 1092.8 1049.4 1094.8 1049.5 1096.8 1049.5 1098.8 1049.5 1100.8 1049.6 1102.8 1049.6 1104.8 1049.7 1106.8 1049.7 1108.8 1049.7 1110.8 1049.8 1112.8 1049.8 1114.8 1049.8 1116.8 1049.9 1118.8 1049.9 1120.8 1050 1122.8 1050 1124.8 1050 1126.8 1050.1 1128.8 1050.1 1130.8 1050.2 1132.8 1050.2 1134.8 1050.2 1136.8 1050.3 1138.8 1050.3 1140.8 1050.4 1142.8 1050.4 1144.8 1050.5 1146.8 1050.5 1148.8 1050.6 1150.8 1050.6 1152.8 1050.7 1154.8 1050.7 1156.8 1050.8 1158.8 1050.8 1160.8 1050.9 1162.8 1050.9 1164.8 1051 1166.8 1051 1168.9 1051.1 1170.9 1051.2 1172.9 1051.2 1174.9 1051.3 1176.9 1051.4 1178.9 1051.4 1180.9 1051.5 1182.9 1051.6 1184.9 1051.7 1186.9 1051.7 1188.9 1051.8 1190.9 1051.9 1192.9 1052 1194.9 1052.1 1196.9 1052.2 1198.9 1052.3 1200.9 1052.4 1202.9 1052.6 1204.9 1052.7 1206.9 1052.8 1208.9 1052.9 1210.9 1053 1212.9 1053.2 1214.9 1053.3 1216.9 1053.4 1218.9 1053.5 1220.9 1053.7 1222.9 1053.8 1224.9 1054 1226.9 1054.1 1228.9 1054.2 1230.9 1054.4 1232.9 1054.5 1234.9 1054.7 1236.9 1054.8 1238.9 1055 1240.9 1055.1 1242.9 1055.3 1244.9 1055.4 1246.9 1055.6 1248.9 1055.7 1250.9 1055.9 1252.9 1056 1254.9 1056.2 1256.9 1056.3 1258.9 1056.5 1260.9 1056.7 1262.9 1056.8 1264.9 1057 1266.9 1057.1 1268.9 1057.3 1270.9 1057.4 1272.9 1057.6 1274.9 1057.7 1276.9 1057.9 1278.9 1058 1280.9 1058.2 1282.9 1058.3 1284.9 1058.5 1286.9 1058.6 1288.9 1058.7 1290.9 1058.9 1292.9 1059 1294.9 1059.1 1296.9 1059.3 1298.9 1059.4 1300.9 1059.5 1302.9 1059.7 1304.9 1059.8 1306.9 1060 1308.9 1060.1 1310.9 1060.2 1312.9 1060.4 1314.9 1060.5 1316.9 1060.7 1318.9 1060.8 1320.9 1060.9 1322.9 1061.1 1324.9 1061.2 1326.9 1061.4 1328.9 1061.5 1330.9 1061.7 1332.9 1061.8 1334.9 1061.9 1336.9 1062.1 1338.9 1062.2 1340.9 1062.4 1342.9 1062.5 1344.9 1062.7 1346.9 1062.8 1348.9 1062.9 1350.9 1063.1 1352.9 1063.2 1354.9 1063.4 1356.9 1063.5 1358.9 1063.7 1360.9 1063.8 1362.9 1063.9 1364.9 1064.1 1366.9 1064.2 1368.9 1064.3 1370.9 1064.5 1372.9 1064.6 1374.9 1064.8 1376.9 1064.9 1378.9 1065 1380.9 1065.2 1382.9 1065.3 1384.9 1065.4 1386.9 1065.5 1388.9 1065.7 1390.9 1065.8 1392.9 1065.9 1394.9 1066 1396.9 1066.2 1398.9 1066.3 1400.9 1066.4 1402.9 1066.5 1404.9 1066.6 1406.9 1066.7 1408.9 1066.8 1410.9 1067 1412.9 1067.1 1414.9 1067.2 1416.9 1067.3 1418.9 1067.4 1420.9 1067.5 1422.9 1067.6 1424.9 1067.7 1426.9 1067.8 1428.9 1067.9 1430.9 1068 1432.9 1068.1 1434.9 1068.2 1436.9 1068.3 1438.9 1068.4 1440.9 1068.5 1442.9 1068.6 1444.9 1068.7 1446.9 1068.8 1448.9 1068.9 1450.9 1069 1452.9 1069.1 1454.9 1069.1 1456.9 1069.2 1458.9 1069.3 1460.9 1069.4 1462.9 1069.5 1464.9 1069.6 1466.9 1069.7 1468.9 1069.8 1470.9 1069.9 1472.9 1069.9 1474.9 1070 1476.9 1070.1 1478.9 1070.2 1480.9 1070.3 1482.9 1070.4 1484.9 1070.5 1486.9 1070.5 1488.9 1070.6 1490.9 1070.7 1492.9 1070.8 1494.9 1070.9 1496.9 1070.9 1498.9 1071 1500.9 1071.1 1502.9 1071.2 1504.9 1071.3 1506.9 1071.3 1508.9 1071.4 1510.9 1071.5 1512.9 1071.6 1514.9 1071.6 1516.9 1071.7 1518.9 1071.8 1520.9 1071.8 1522.9 1071.9 1524.9 1072 1526.9 1072 1528.9 1072.1 1531 1072.2 1533 1072.2 1535 1072.3 1537 1072.4 1539 1072.4 1541 1072.5 1543 1072.6 1545 1072.6 1547 1072.7 1549 1072.8 1551 1072.8 1553 1072.9 1555 1072.9 1557 1073 1559 1073.1 1561 1073.1 1563 1073.2 1565 1073.2 1567 1073.3 1569 1073.3 1571 1073.4 1573 1073.4 1575 1073.5 1577 1073.6 1579 1073.6 1581 1073.7 1583 1073.7 1585 1073.8 1587 1073.8 1589 1073.9 1591 1073.9 1593 1074 1595 1074 1597 1074.1 1599 1074.1 1601 1074.2 1603 1074.2 1605 1074.3 1607 1074.3 1609 1074.4 1611 1074.4 1613 1074.5 1615 1074.5 1617 1074.6 1619 1074.6 1621 1074.7 1623 1074.7 1625 1074.8 1627 1074.8 1629 1074.9 1631 1074.9 1633 1075 1635 1075 1637 1075.1 1639 1075.1 1641 1075.2 1643 1075.2 1645 1075.3 1647 1075.3 1649 1075.4 1651 1075.4 1653 1075.5 1655 1075.5 1657 1075.6 1659 1075.6 1661 1075.7 1663 1075.7 1665 1075.8 1667 1075.8 1669 1075.9 1671 1075.9 1673 1076 1675 1076 1677 1076.1 1679 1076.1 1681 1076.2 1683 1076.2 1685 1076.3 1687 1076.3 1689 1076.4 1691 1076.4 1693 1076.5 1695 1076.5 1697 1076.6 1699 1076.6 1701 1076.7 1703 1076.7 1705 1076.8 1707 1076.8 1709 1076.9 1711 1076.9" fill="none" stroke="#8b0000" stroke-width="5.5" stroke-linejoin="round" stroke-linecap="round" />
<path d="M264.6 1054.2L266.6 1053.6 268.6 1053 270.6 1052.5 272.6 1051.9 274.6 1051.3 276.6 1050.8 278.6 1050.2 280.6 1049.7 282.6 1049.1 284.6 1048.5 286.6 1048 288.6 1047.4 290.6 1046.9 292.6 1046.4 294.6 1045.8 296.6 1045.3 298.6 1044.8 300.6 1044.2 302.6 1043.7 304.6 1043.2 306.6 1042.7 308.6 1042.2 310.6 1041.6 312.6 1041.1 314.6 1040.6 316.6 1040.1 318.6 1039.6 320.6 1039.1 322.6 1038.6 324.6 1038.1 326.6 1037.5 328.6 1037 330.6 1036.5 332.6 1036.1 334.6 1035.6 336.6 1035.1 338.6 1034.6 340.6 1034.1 342.6 1033.7 344.6 1033.2 346.6 1032.8 348.6 1032.3 350.6 1031.9 352.6 1031.5 354.6 1031.1 356.6 1030.7 358.6 1030.4 360.6 1030 362.6 1029.6 364.6 1029.3 366.6 1028.9 368.6 1028.6 370.6 1028.3 372.6 1027.9 374.6 1027.6 376.6 1027.3 378.6 1027 380.6 1026.7 382.6 1026.4 384.6 1026.1 386.6 1025.9 388.6 1025.6 390.6 1025.4 392.6 1025.1 394.6 1024.9 396.6 1024.6 398.6 1024.4 400.6 1024.1 402.6 1023.9 404.6 1023.6 406.6 1023.3 408.6 1023 410.6 1022.7 412.6 1022.4 414.6 1022.1 416.6 1021.8 418.6 1021.4 420.6 1021 422.6 1020.7 424.6 1020.3 426.6 1019.9 428.6 1019.5 430.6 1019.1 432.6 1018.6 434.6 1018.2 436.6 1017.8 438.6 1017.4 440.6 1016.9 442.6 1016.5 444.6 1016 446.7 1015.5 448.7 1015 450.7 1014.5 452.7 1013.9 454.7 1013.4 456.7 1012.8 458.7 1012.3 460.7 1011.8 462.7 1011.3 464.7 1010.9 466.7 1010.5 468.7 1010.2 470.7 1009.9 472.7 1009.6 474.7 1009.3 476.7 1009 478.7 1008.8 480.7 1008.5 482.7 1008.2 484.7 1007.9 486.7 1007.6 488.7 1007.3 490.7 1006.9 492.7 1006.6 494.7 1006.3 496.7 1005.9 498.7 1005.5 500.7 1005.1 502.7 1004.7 504.7 1004.3 506.7 1003.7 508.7 1003.2 510.7 1002.5 512.7 1001.7 514.7 1000.8 516.7 999.7 518.7 998.6 520.7 997.4 522.7 996.1 524.7 994.8 526.7 993.5 528.7 992.2 530.7 991 532.7 989.7 534.7 988.5 536.7 987.2 538.7 985.9 540.7 984.5 542.7 983.1 544.7 981.6 546.7 979.9 548.7 978.2 550.7 976.2 552.7 974.1 554.7 971.4 556.7 968.4 558.7 965 560.7 961.4 562.7 957.8 564.7 954.1 566.7 950.6 568.7 947.4 570.7 944.3 572.7 941.2 574.7 938.2 576.7 935.3 578.7 932.3 580.7 929.4 582.7 926.4 584.7 923.5 586.7 920.6 588.7 917.7 590.7 915 592.7 912.4 594.7 909.7 596.7 906.8 598.7 903.7 600.7 900.1 602.7 895.8 604.7 891 606.7 886 608.7 881.3 610.7 877 612.7 873.1 614.7 869.2 616.7 865.3 618.7 861.2 620.7 856.7 622.7 852 624.7 847.1 626.7 841.9 628.7 836.4 630.7 830.2 632.7 823.6 634.7 817.2 636.7 810.9 638.7 804.1 640.7 798.4 642.7 795.7 644.7 796.5 646.7 798.9 648.7 802.1 650.7 805.3 652.7 808.1 654.7 811.4 656.7 814.7 658.7 817.3 660.7 818.6 662.7 817.6 664.7 814.6 666.7 810.4 668.7 805.9 670.7 802 672.7 797.9 674.7 793.5 676.7 789.9 678.7 788.1 680.7 789.6 682.7 794.4 684.7 801.1 686.7 813.3 688.7 827.8 690.7 838.9 692.7 848.6 694.7 856.6 696.7 863.7 698.7 869.3 700.7 874 702.7 878.4 704.7 882.4 706.7 885.4 708.7 887 710.7 886.9 712.7 886.1 714.7 884.7 716.7 883.1 718.7 881.6 720.7 880 722.7 877.9 724.7 876.1 726.7 874.9 728.7 875.1 730.7 876.9 732.7 879.9 734.7 883.4 736.7 888.1 738.7 895.1 740.7 902.4 742.7 909 744.7 915.6 746.7 922.5 748.7 930.4 750.7 938.4 752.7 944.7 754.7 950.1 756.7 955.1 758.7 959.7 760.7 963.9 762.7 967.8 764.7 971.3 766.7 974.5 768.7 977.3 770.7 980 772.7 982.5 774.7 984.8 776.7 986.9 778.7 989 780.7 990.9 782.7 992.8 784.7 994.7 786.7 996.6 788.7 998.4 790.7 1000.1 792.7 1001.9 794.7 1003.5 796.7 1005.1 798.7 1006.6 800.7 1008.1 802.7 1009.5 804.7 1010.8 806.7 1012 808.8 1013.2 810.8 1014.4 812.8 1015.5 814.8 1016.5 816.8 1017.6 818.8 1018.5 820.8 1019.5 822.8 1020.3 824.8 1021.2 826.8 1022 828.8 1022.7 830.8 1023.4 832.8 1024.1 834.8 1024.8 836.8 1025.4 838.8 1026 840.8 1026.5 842.8 1027.1 844.8 1027.6 846.8 1028.1 848.8 1028.6 850.8 1029.1 852.8 1029.6 854.8 1030.1 856.8 1030.6 858.8 1031.1 860.8 1031.5 862.8 1032 864.8 1032.4 866.8 1032.9 868.8 1033.3 870.8 1033.7 872.8 1034.1 874.8 1034.5 876.8 1034.9 878.8 1035.3 880.8 1035.6 882.8 1035.9 884.8 1036.2 886.8 1036.5 888.8 1036.8 890.8 1037 892.8 1037.3 894.8 1037.5 896.8 1037.7 898.8 1037.9 900.8 1038.1 902.8 1038.3 904.8 1038.5 906.8 1038.6 908.8 1038.8 910.8 1039 912.8 1039.1 914.8 1039.3 916.8 1039.4 918.8 1039.6 920.8 1039.7 922.8 1039.8 924.8 1040 926.8 1040.1 928.8 1040.2 930.8 1040.3 932.8 1040.3 934.8 1040.4 936.8 1040.5 938.8 1040.6 940.8 1040.6 942.8 1040.7 944.8 1040.8 946.8 1040.8 948.8 1040.9 950.8 1041 952.8 1041 954.8 1041.1 956.8 1041.1 958.8 1041.2 960.8 1041.2 962.8 1041.3 964.8 1041.3 966.8 1041.3 968.8 1041.3 970.8 1041.4 972.8 1041.4 974.8 1041.4 976.8 1041.4 978.8 1041.4 980.8 1041.4 982.8 1041.4 984.8 1041.4 986.8 1041.4 988.8 1041.4 990.8 1041.4 992.8 1041.4 994.8 1041.4 996.8 1041.4 998.8 1041.4 1000.8 1041.4 1002.8 1041.4 1004.8 1041.4 1006.8 1041.4 1008.8 1041.4 1010.8 1041.4 1012.8 1041.4 1014.8 1041.4 1016.8 1041.4 1018.8 1041.4 1020.8 1041.4 1022.8 1041.4 1024.8 1041.4 1026.8 1041.5 1028.8 1041.5 1030.8 1041.5 1032.8 1041.6 1034.8 1041.7 1036.8 1041.7 1038.8 1041.8 1040.8 1041.9 1042.8 1041.9 1044.8 1042 1046.8 1042.1 1048.8 1042.1 1050.8 1042.2 1052.8 1042.3 1054.8 1042.3 1056.8 1042.4 1058.8 1042.5 1060.8 1042.5 1062.8 1042.6 1064.8 1042.6 1066.8 1042.7 1068.8 1042.7 1070.8 1042.8 1072.8 1042.8 1074.8 1042.8 1076.8 1042.9 1078.8 1042.9 1080.8 1043 1082.8 1043 1084.8 1043.1 1086.8 1043.1 1088.8 1043.1 1090.8 1043.2 1092.8 1043.2 1094.8 1043.3 1096.8 1043.3 1098.8 1043.3 1100.8 1043.4 1102.8 1043.4 1104.8 1043.5 1106.8 1043.5 1108.8 1043.5 1110.8 1043.6 1112.8 1043.6 1114.8 1043.6 1116.8 1043.7 1118.8 1043.7 1120.8 1043.8 1122.8 1043.8 1124.8 1043.8 1126.8 1043.9 1128.8 1043.9 1130.8 1044 1132.8 1044 1134.8 1044 1136.8 1044.1 1138.8 1044.1 1140.8 1044.2 1142.8 1044.2 1144.8 1044.3 1146.8 1044.3 1148.8 1044.4 1150.8 1044.4 1152.8 1044.5 1154.8 1044.5 1156.8 1044.6 1158.8 1044.6 1160.8 1044.7 1162.8 1044.7 1164.8 1044.8 1166.8 1044.8 1168.9 1044.9 1170.9 1045 1172.9 1045 1174.9 1045.1 1176.9 1045.2 1178.9 1045.2 1180.9 1045.3 1182.9 1045.4 1184.9 1045.5 1186.9 1045.5 1188.9 1045.6 1190.9 1045.7 1192.9 1045.8 1194.9 1045.9 1196.9 1046 1198.9 1046.1 1200.9 1046.2 1202.9 1046.4 1204.9 1046.5 1206.9 1046.6 1208.9 1046.7 1210.9 1046.8 1212.9 1047 1214.9 1047.1 1216.9 1047.2 1218.9 1047.3 1220.9 1047.5 1222.9 1047.6 1224.9 1047.8 1226.9 1047.9 1228.9 1048 1230.9 1048.2 1232.9 1048.3 1234.9 1048.5 1236.9 1048.6 1238.9 1048.8 1240.9 1048.9 1242.9 1049.1 1244.9 1049.2 1246.9 1049.4 1248.9 1049.5 1250.9 1049.7 1252.9 1049.8 1254.9 1050 1256.9 1050.1 1258.9 1050.3 1260.9 1050.5 1262.9 1050.6 1264.9 1050.8 1266.9 1050.9 1268.9 1051.1 1270.9 1051.2 1272.9 1051.4 1274.9 1051.5 1276.9 1051.7 1278.9 1051.8 1280.9 1052 1282.9 1052.1 1284.9 1052.3 1286.9 1052.4 1288.9 1052.5 1290.9 1052.7 1292.9 1052.8 1294.9 1052.9 1296.9 1053.1 1298.9 1053.2 1300.9 1053.3 1302.9 1053.5 1304.9 1053.6 1306.9 1053.8 1308.9 1053.9 1310.9 1054 1312.9 1054.2 1314.9 1054.3 1316.9 1054.5 1318.9 1054.6 1320.9 1054.7 1322.9 1054.9 1324.9 1055 1326.9 1055.2 1328.9 1055.3 1330.9 1055.5 1332.9 1055.6 1334.9 1055.7 1336.9 1055.9 1338.9 1056 1340.9 1056.2 1342.9 1056.3 1344.9 1056.5 1346.9 1056.6 1348.9 1056.7 1350.9 1056.9 1352.9 1057 1354.9 1057.2 1356.9 1057.3 1358.9 1057.5 1360.9 1057.6 1362.9 1057.7 1364.9 1057.9 1366.9 1058 1368.9 1058.1 1370.9 1058.3 1372.9 1058.4 1374.9 1058.6 1376.9 1058.7 1378.9 1058.8 1380.9 1059 1382.9 1059.1 1384.9 1059.2 1386.9 1059.3 1388.9 1059.5 1390.9 1059.6 1392.9 1059.7 1394.9 1059.8 1396.9 1060 1398.9 1060.1 1400.9 1060.2 1402.9 1060.3 1404.9 1060.4 1406.9 1060.5 1408.9 1060.6 1410.9 1060.8 1412.9 1060.9 1414.9 1061 1416.9 1061.1 1418.9 1061.2 1420.9 1061.3 1422.9 1061.4 1424.9 1061.5 1426.9 1061.6 1428.9 1061.7 1430.9 1061.8 1432.9 1061.9 1434.9 1062 1436.9 1062.1 1438.9 1062.2 1440.9 1062.3 1442.9 1062.4 1444.9 1062.5 1446.9 1062.6 1448.9 1062.7 1450.9 1062.8 1452.9 1062.9 1454.9 1062.9 1456.9 1063 1458.9 1063.1 1460.9 1063.2 1462.9 1063.3 1464.9 1063.4 1466.9 1063.5 1468.9 1063.6 1470.9 1063.7 1472.9 1063.7 1474.9 1063.8 1476.9 1063.9 1478.9 1064 1480.9 1064.1 1482.9 1064.2 1484.9 1064.3 1486.9 1064.3 1488.9 1064.4 1490.9 1064.5 1492.9 1064.6 1494.9 1064.7 1496.9 1064.7 1498.9 1064.8 1500.9 1064.9 1502.9 1065 1504.9 1065.1 1506.9 1065.1 1508.9 1065.2 1510.9 1065.3 1512.9 1065.4 1514.9 1065.4 1516.9 1065.5 1518.9 1065.6 1520.9 1065.6 1522.9 1065.7 1524.9 1065.8 1526.9 1065.8 1528.9 1065.9 1531 1066 1533 1066 1535 1066.1 1537 1066.2 1539 1066.2 1541 1066.3 1543 1066.4 1545 1066.4 1547 1066.5 1549 1066.6 1551 1066.6 1553 1066.7 1555 1066.7 1557 1066.8 1559 1066.9 1561 1066.9 1563 1067 1565 1067 1567 1067.1 1569 1067.1 1571 1067.2 1573 1067.2 1575 1067.3 1577 1067.4 1579 1067.4 1581 1067.5 1583 1067.5 1585 1067.6 1587 1067.6 1589 1067.7 1591 1067.7 1593 1067.8 1595 1067.8 1597 1067.9 1599 1067.9 1601 1068 1603 1068 1605 1068.1 1607 1068.1 1609 1068.2 1611 1068.2 1613 1068.3 1615 1068.3 1617 1068.4 1619 1068.4 1621 1068.5 1623 1068.5 1625 1068.6 1627 1068.6 1629 1068.7 1631 1068.7 1633 1068.8 1635 1068.8 1637 1068.9 1639 1068.9 1641 1069 1643 1069 1645 1069.1 1647 1069.1 1649 1069.2 1651 1069.2 1653 1069.3 1655 1069.3 1657 1069.4 1659 1069.4 1661 1069.5 1663 1069.5 1665 1069.6 1667 1069.6 1669 1069.7 1671 1069.7 1673 1069.8 1675 1069.8 1677 1069.9 1679 1069.9 1681 1070 1683 1070 1685 1070.1 1687 1070.1 1689 1070.2 1691 1070.2 1693 1070.3 1695 1070.3 1697 1070.4 1699 1070.4 1701 1070.5 1703 1070.5 1705 1070.6 1707 1070.6 1709 1070.7 1711 1070.7" fill="none" stroke="#888888" stroke-width="7.8" stroke-linejoin="round" stroke-linecap="round" stroke-linecap="butt" stroke-opacity="0.8"/>
<g fill="none" stroke="#008000" stroke-width="16" stroke-linejoin="round" stroke-linecap="butt"><path d="M310.6 1357.3L312.6 1355.8 314.6 1355.4 316.6 1356.5 318.6 1355.2 320.6 1355.2 322.6 1353.5 324.6 1353.7 326.6 1353.2 328.6 1351.6 330.6 1351.1 332.6 1352.4 334.6 1351.7 336.6 1350.3 338.6 1350.6 340.6 1350.9 342.6 1351.4 344.6 1348.6 346.6 1349.5 348.6 1350.3 350.6 1348 352.6 1348.8 354.6 1344.7 356.6 1347.8 358.6 1346 360.6 1343.8 362.6 1345.6 364.6 1345.2 366.6 1344.8 368.6 1344.2 370.6 1342.5 372.6 1341.3 374.6 1341 376.6 1340.9 378.6 1340.8 380.6 1339.6 382.6 1339.6 384.6 1340 386.6 1339.2 388.6 1340.6 390.6 1340.1 392.6 1336.9 394.6 1337.2 396.6 1336.2 398.6 1336.1 400.6 1337.3 402.6 1335.6 404.6 1335.3 406.6 1335.7 408.6 1336.3 410.6 1334.9 412.6 1334.6 414.6 1335.3 416.6 1334.5 418.6 1334.1 420.6 1334.1 422.6 1331.9 424.6 1332.5 426.6 1331.3 428.6 1332.3 430.6 1331.6 432.6 1329.5 434.6 1331.1 436.6 1328.3 438.6 1329.9 440.6 1328.6 442.6 1327.1 444.6 1326.4 446.7 1326.7 448.7 1326.4 450.7 1325.2 452.7 1325.8 454.7 1323.5 456.7 1324.2 458.7 1323.6 460.7 1321.4 462.7 1322.8 464.7 1321 466.7 1319.5 468.7 1320.8 470.7 1320.9 472.7 1321.6 474.7 1320.1 476.7 1321.6 478.7 1321.3 480.7 1320.8 482.7 1320.7 484.7 1319.6 486.7 1318.5 488.7 1319.2 490.7 1319.1 492.7 1318.1 494.7 1317.2 496.7 1315.6 498.7 1317.2 500.7 1316.4 502.7 1314.5 504.7 1315.2 506.7 1315.1 508.7 1313.8 510.7 1314 512.7 1313.2 514.7 1310.3 516.7 1310.3 518.7 1309.9 520.7 1309 522.7 1308.1 524.7 1303.8 526.7 1304 528.7 1303.3 530.7 1302.3 532.7 1301.4 534.7 1297.7 536.7 1296.9 538.7 1295 540.7 1295.3 542.7 1292 544.7 1292.8 546.7 1291 548.7 1288.9 550.7 1284.8 552.7 1284.3 554.7 1283.2 556.7 1278.4 558.7 1276.1 560.7 1272.7 562.7 1269.8 564.7 1265.3 566.7 1261.3 568.7 1256.8 570.7 1253.4 572.7 1249.7 574.7 1247 576.7 1242.9 578.7 1240.7 580.7 1235 582.7 1234.3 584.7 1229.9 586.7 1227.7 588.7 1223.5 590.7 1220.8 592.7 1218 594.7 1213 596.7 1210.3 598.7 1206.5 600.7 1202.9 602.7 1196.5 604.7 1192.4 606.7 1186.8 608.7 1181 610.7 1176.8 612.7 1171.3 614.7 1169.9 616.7 1165 618.7 1161.9 620.7 1154.4 622.7 1148.5 624.7 1143.8 626.7 1135.7 628.7 1130.4 630.7 1122 632.7 1115.3 634.7 1108.7 636.7 1101.9 638.7 1098.7 640.7 1093.3 642.7 1087.2 644.7 1089.8 646.7 1092.5 648.7 1098.8 650.7 1102.5 652.7 1107.2 654.7 1114.1 656.7 1116.3 658.7 1116.1 660.7 1116.5 662.7 1115.1 664.7 1113.3 666.7 1107.2 668.7 1103.9 670.7 1102.5 672.7 1097.3 674.7 1095.1 676.7 1093.1 678.7 1092.3 680.7 1095.7 682.7 1099.9 684.7 1107 686.7 1124.1 688.7 1138.4 690.7 1150.7 692.7 1160.4 694.7 1168.9 696.7 1177.2 698.7 1183 700.7 1184 702.7 1188.2 704.7 1190.4 706.7 1190.5 708.7 1190.3 710.7 1191.5 712.7 1189.1 714.7 1188.4 716.7 1187 718.7 1186 720.7 1183.4 722.7 1184.3 724.7 1181.5 726.7 1181.1 728.7 1183.5 730.7 1186.2 732.7 1189.2 734.7 1195.4 736.7 1201.1 738.7 1208.1 740.7 1215.3 742.7 1219.7 744.7 1226.7 746.7 1231.9 748.7 1236.7 750.7 1244.1 752.7 1248.9 754.7 1258.2 756.7 1264.2 758.7 1272.3 760.7 1279.1 762.7 1283 764.7 1285.4 766.7 1289.3 768.7 1292 770.7 1294.1 772.7 1296.8 774.7 1300.3 776.7 1303.1 778.7 1303.2 780.7 1306.8 782.7 1309.3 784.7 1311 786.7 1311.8 788.7 1315.4 790.7 1315.1 792.7 1318.4 794.7 1320.8 796.7 1319.1 798.7 1322.5 800.7 1323.9 802.7 1325.1 804.7 1325.5 806.7 1327 808.8 1327.2 810.8 1329.6 812.8 1330.9 814.8 1330.8 816.8 1331.5 818.8 1332.9 820.8 1334.2 822.8 1335.1 824.8 1335.9 826.8 1337 828.8 1336.7 830.8 1336.3 832.8 1340.2 834.8 1341.8 836.8 1340.2 838.8 1341.7 840.8 1343.4 842.8 1344.7 844.8 1345.1 846.8 1346.2 848.8 1345.6 850.8 1346.5 852.8 1347 854.8 1346.8 856.8 1348.7 858.8 1348.7 860.8 1349.5 862.8 1348.7 864.8 1350.4 866.8 1349 868.8 1350.7 870.8 1348.5 872.8 1350.3 874.8 1352.2 876.8 1351.5 878.8 1352.4 880.8 1351.2 882.8 1354.3 884.8 1353.8 886.8 1353.5 888.8 1354.2 890.8 1354.4 892.8 1355.7 894.8 1354.9 896.8 1353.7 898.8 1355 900.8 1356.6 902.8 1356.2 904.8 1355.6 906.8 1356.8 908.8 1356.6 910.8 1357.2 912.8 1355.5 914.8 1356.3 916.8 1357.9 918.8 1357.3 920.8 1358 922.8 1359.6 924.8 1357.8 926.8 1358.5 928.8 1358 930.8 1358.1 932.8 1358.7 934.8 1357.6 936.8 1357.2 938.8 1360.4 940.8 1359.3 942.8 1360.6 944.8 1359.8 946.8 1360 948.8 1360.6 950.8 1360.8 952.8 1359.3 954.8 1361.6 956.8 1359.8 958.8 1361 960.8 1363.2 962.8 1361.1 964.8 1362.6 966.8 1360.9 968.8 1361.9 970.8 1361.4 972.8 1361.8 974.8 1360.7 976.8 1360.7 978.8 1361.8 980.8 1360.2 982.8 1360.8 984.8 1362.1 986.8 1361 988.8 1360.8 990.8 1360.6 992.8 1361.8 994.8 1361.3 996.8 1361.8 998.8 1361.5 1000.8 1363.3 1002.8 1361.3 1004.8 1360 1006.8 1361.8 1008.8 1361.7 1010.8 1361.9 1012.8 1360.3 1014.8 1362.7 1016.8 1361.7 1018.8 1361.7 1020.8 1360.4 1022.8 1362.2 1024.8 1361.7 1026.8 1362.9 1028.8 1361.3 1030.8 1360.5 1032.8 1361.6 1034.8 1360.7 1036.8 1361.8 1038.8 1360.4 1040.8 1361.2 1042.8 1361 1044.8 1361.1 1046.8 1360.6 1048.8 1360.3 1050.8 1360.9 1052.8 1360.4 1054.8 1361 1056.8 1360.6 1058.8 1358.9 1060.8 1360.8 1062.8 1362.1 1064.8 1361.1 1066.8 1361.4 1068.8 1361.3 1070.8 1360.5 1072.8 1359.7 1074.8 1361.6 1076.8 1361.9 1078.8 1361.5 1080.8 1361.4 1082.8 1361.4 1084.8 1361 1086.8 1361.3 1088.8 1361.2 1090.8 1361.5 1092.8 1360.4 1094.8 1360.7 1096.8 1361.8 1098.8 1361.1 1100.8 1359.3 1102.8 1361.6 1104.8 1359.5 1106.8 1363.2 1108.8 1362.2 1110.8 1362.3 1112.8 1361.2 1114.8 1360.8 1116.8 1361.7 1118.8 1361.9 1120.8 1361.3 1122.8 1362.2 1124.8 1362.7 1126.8 1362.7 1128.8 1361.4 1130.8 1360.5 1132.8 1362.4 1134.8 1361.9 1136.8 1362.9 1138.8 1364 1140.8 1364.1 1142.8 1363 1144.8 1363.8 1146.8 1364.3 1148.8 1363 1150.8 1363.3 1152.8 1363.9 1154.8 1363.2 1156.8 1362.9 1158.8 1362.8 1160.8 1363.5 1162.8 1363 1164.8 1364.3 1166.8 1363.4 1168.9 1365.1 1170.9 1364.9 1172.9 1362.9 1174.9 1365 1176.9 1363.8 1178.9 1365.4 1180.9 1364.7 1182.9 1364.3 1184.9 1365 1186.9 1364.1 1188.9 1364.9 1190.9 1365.1 1192.9 1364.7 1194.9 1365.3 1196.9 1364.2 1198.9 1365.6 1200.9 1364.2 1202.9 1365.9 1204.9 1365.9 1206.9 1366.3 1208.9 1365.3 1210.9 1368.5 1212.9 1365.8 1214.9 1366.3 1216.9 1365.6 1218.9 1367.7 1220.9 1366.2 1222.9 1367.6 1224.9 1366 1226.9 1367.3 1228.9 1366.8 1230.9 1368.1 1232.9 1367.2 1234.9 1366.8 1236.9 1368.1 1238.9 1366.9 1240.9 1367.2 1242.9 1368.8 1244.9 1366.7 1246.9 1369.1 1248.9 1368.3 1250.9 1368 1252.9 1369.1 1254.9 1369.6 1256.9 1368.7 1258.9 1369.2 1260.9 1370.2 1262.9 1370.3 1264.9 1369.8 1266.9 1369.4 1268.9 1369.4 1270.9 1369.8 1272.9 1371 1274.9 1371.1 1276.9 1371 1278.9 1372.1 1280.9 1370.8 1282.9 1370.9 1284.9 1371 1286.9 1373.1 1288.9 1369.9 1290.9 1372 1292.9 1372.3 1294.9 1372.1 1296.9 1374.2 1298.9 1373.3 1300.9 1373.1 1302.9 1371.8 1304.9 1373.1 1306.9 1372.5 1308.9 1373 1310.9 1373.3 1312.9 1372.9 1314.9 1374 1316.9 1374.9 1318.9 1374.6 1320.9 1374 1322.9 1372.3 1324.9 1375.1 1326.9 1375.2 1328.9 1374.3 1330.9 1374.2 1332.9 1375.3 1334.9 1374.2 1336.9 1375.7 1338.9 1374.2 1340.9 1374.5 1342.9 1375.4 1344.9 1374.3 1346.9 1375.7 1348.9 1376.3 1350.9 1374.9 1352.9 1376.9 1354.9 1375.8 1356.9 1376.9 1358.9 1376.7 1360.9 1376.3 1362.9 1376.4 1364.9 1375.5 1366.9 1376.5 1368.9 1376.6 1370.9 1378.8 1372.9 1378.4 1374.9 1376.5 1376.9 1378.5 1378.9 1378.1 1380.9 1377.7 1382.9 1378.6 1384.9 1379 1386.9 1378 1388.9 1378.4 1390.9 1378.9 1392.9 1378 1394.9 1379.1 1396.9 1379 1398.9 1378.6 1400.9 1378.6 1402.9 1379.7 1404.9 1380.3 1406.9 1380 1408.9 1379.1 1410.9 1380.6 1412.9 1380.2 1414.9 1380.7 1416.9 1381.3 1418.9 1379.7 1420.9 1380.4 1422.9 1380.1 1424.9 1380 1426.9 1382.6 1428.9 1381.8 1430.9 1379.6 1432.9 1381.6 1434.9 1380.9 1436.9 1382.4 1438.9 1381.6 1440.9 1381.5 1442.9 1381.9 1444.9 1382.2 1446.9 1382 1448.9 1382 1450.9 1382.1 1452.9 1382.8 1454.9 1381.5 1456.9 1382.6 1458.9 1382.6 1460.9 1382.4 1462.9 1383.5 1464.9 1381.9 1466.9 1382.8 1468.9 1382.5 1470.9 1383.8 1472.9 1383.1 1474.9 1383.6 1476.9 1384 1478.9 1382.4 1480.9 1384.2 1482.9 1383.3 1484.9 1383.8 1486.9 1384.1 1488.9 1384.9 1490.9 1385 1492.9 1385.9 1494.9 1384.7 1496.9 1384.2 1498.9 1384.3 1500.9 1385.4 1502.9 1386.3 1504.9 1385.3 1506.9 1384.6 1508.9 1385.4 1510.9 1385.5 1512.9 1385.4 1514.9 1384.8 1516.9 1383.4 1518.9 1385.2 1520.9 1386.6 1522.9 1385.9 1524.9 1384 1526.9 1385.9 1528.9 1384.4 1531 1387.7 1533 1386.3 1535 1385.2 1537 1387 1539 1385.7 1541 1386.9 1543 1386.5 1545 1385.6 1547 1387.2 1549 1385.5 1551 1387.9 1553 1386.8 1555 1386 1557 1385.4 1559 1388.3 1561 1388.2 1563 1386 1565 1388.5 1567 1387.3 1569 1387.1 1571 1387.2 1573 1387.1 1575 1388.6 1577 1387.6 1579 1386 1581 1389.3 1583 1388.4 1585 1386.8 1587 1387.4 1589 1387 1591 1387.9 1593 1388.2 1595 1388.1 1597 1387.5 1599 1387.4 1601 1388.8 1603 1388 1605 1390.1 1607 1387.6 1609 1388.9 1611 1388.4 1613 1387.7 1615 1389.6 1617 1388.6 1619 1387.8 1621 1388.3 1623 1389.5 1625 1387.7 1627 1389.9 1629 1389.4 1631 1388.6 1633 1390 1635 1390.4 1637 1389.5 1639 1389.2 1641 1390.7 1643 1390.4 1645 1388.5 1647 1389.1 1649 1389.2 1651 1389.1 1653 1388.2 1655 1390.3 1657 1389.7 1659 1389.7 1661 1390.9 1663 1389.3 1665 1389.8 1667 1390.1 1669 1389.6 1671 1389.9 1673 1390.7 1675 1390.1 1677 1391.3 1679 1389.6 1681 1390.5 1683 1389.2 1685 1390.4 1687 1390 1689 1391.8 1691 1391.3 1693 1391.2"/><path d="M310.6 1366.2L312.6 1365.2 314.6 1364 316.6 1362.2 318.6 1361 320.6 1361.7 322.6 1360.9 324.6 1360.2 326.6 1360.1 328.6 1358.4 330.6 1360.7 332.6 1358 334.6 1357.9 336.6 1358.5 338.6 1356.2 340.6 1357.9 342.6 1357.5 344.6 1356 346.6 1354.9 348.6 1354.9 350.6 1353.2 352.6 1355.5 354.6 1353.9 356.6 1352.6 358.6 1351.9 360.6 1352.6 362.6 1352.8 364.6 1349.9 366.6 1349.9 368.6 1348.3 370.6 1349.8 372.6 1348.9 374.6 1350.2 376.6 1347.7 378.6 1347 380.6 1346.3 382.6 1347.3 384.6 1344.9 386.6 1346.6 388.6 1345.8 390.6 1344.9 392.6 1344.3 394.6 1345.6 396.6 1346 398.6 1343.8 400.6 1344.3 402.6 1345.1 404.6 1342.7 406.6 1342.7 408.6 1341.6 410.6 1342.1 412.6 1341.8 414.6 1341.1 416.6 1340.4 418.6 1339.2 420.6 1338.9 422.6 1338.8 424.6 1339.7 426.6 1338.2 428.6 1337.4 430.6 1338.2 432.6 1337.7 434.6 1336 436.6 1335.7 438.6 1336.3 440.6 1335.5 442.6 1334 444.6 1334.4 446.7 1333.7 448.7 1334.1 450.7 1331.8 452.7 1332.8 454.7 1331.8 456.7 1330 458.7 1331.3 460.7 1330.7 462.7 1328.3 464.7 1330.8 466.7 1327.7 468.7 1327.6 470.7 1327.9 472.7 1328.6 474.7 1328.2 476.7 1327.3 478.7 1328.4 480.7 1327.3 482.7 1327.8 484.7 1328.8 486.7 1326.1 488.7 1323.4 490.7 1324.8 492.7 1323.9 494.7 1324.4 496.7 1324 498.7 1322.4 500.7 1321.9 502.7 1322.1 504.7 1321.6 506.7 1318.8 508.7 1321.2 510.7 1319.5 512.7 1318.4 514.7 1317.4 516.7 1315 518.7 1314.5 520.7 1314.1 522.7 1312.7 524.7 1310.7 526.7 1308.7 528.7 1306.8 530.7 1307.3 532.7 1305.3 534.7 1303.2 536.7 1300.3 538.7 1300.1 540.7 1297.7 542.7 1298.9 544.7 1296.3 546.7 1293.7 548.7 1292.1 550.7 1292.5 552.7 1288.9 554.7 1283.7 556.7 1281.5 558.7 1277 560.7 1272.9 562.7 1270.7 564.7 1268.7 566.7 1264 568.7 1258.8 570.7 1254.7 572.7 1251.8 574.7 1249.3 576.7 1243.8 578.7 1240.1 580.7 1240.2 582.7 1235.5 584.7 1233.4 586.7 1228.9 588.7 1226.6 590.7 1221.4 592.7 1219.2 594.7 1216.8 596.7 1212.9 598.7 1207.8 600.7 1204.8 602.7 1198.4 604.7 1192.2 606.7 1188.4 608.7 1184 610.7 1179 612.7 1173 614.7 1170.9 616.7 1166.5 618.7 1160.9 620.7 1153.8 622.7 1151.2 624.7 1145 626.7 1138.3 628.7 1129.2 630.7 1121.9 632.7 1117 634.7 1109.8 636.7 1103.2 638.7 1098.1 640.7 1094.9 642.7 1093 644.7 1092.8 646.7 1094.3 648.7 1100 650.7 1104.5 652.7 1109.9 654.7 1114.7 656.7 1118.1 658.7 1124.9 660.7 1120.2 662.7 1118 664.7 1114.7 666.7 1111.3 668.7 1105.2 670.7 1105 672.7 1102 674.7 1099.8 676.7 1096.1 678.7 1097.3 680.7 1098.3 682.7 1101.1 684.7 1109.2 686.7 1124.2 688.7 1139.6 690.7 1150.4 692.7 1158.6 694.7 1168.9 696.7 1178 698.7 1183.8 700.7 1188.4 702.7 1190.8 704.7 1194.8 706.7 1195.4 708.7 1195.7 710.7 1197 712.7 1195.9 714.7 1193.4 716.7 1191.3 718.7 1191.5 720.7 1191.7 722.7 1188.8 724.7 1187.7 726.7 1187.5 728.7 1189.8 730.7 1189.6 732.7 1192.6 734.7 1196.5 736.7 1202.5 738.7 1208 740.7 1216.1 742.7 1221.9 744.7 1227.4 746.7 1233.6 748.7 1237.8 750.7 1244.1 752.7 1250.4 754.7 1258.8 756.7 1265 758.7 1272.9 760.7 1277.8 762.7 1283.7 764.7 1287.4 766.7 1291.2 768.7 1294.7 770.7 1297.5 772.7 1300.3 774.7 1301.3 776.7 1306.7 778.7 1307.5 780.7 1310.1 782.7 1311.7 784.7 1315.5 786.7 1315.8 788.7 1319 790.7 1321.4 792.7 1323.7 794.7 1324.9 796.7 1326.1 798.7 1326 800.7 1329.7 802.7 1331 804.7 1332.1 806.7 1333.4 808.8 1334 810.8 1334.6 812.8 1337.2 814.8 1338.4 816.8 1337.4 818.8 1340.1 820.8 1340.4 822.8 1341.9 824.8 1342.3 826.8 1344 828.8 1344.8 830.8 1345.6 832.8 1344.5 834.8 1347.4 836.8 1347.6 838.8 1347.5 840.8 1350 842.8 1349 844.8 1351.8 846.8 1353.3 848.8 1352 850.8 1353.8 852.8 1353.9 854.8 1354.6 856.8 1353.4 858.8 1355.6 860.8 1355.7 862.8 1356.7 864.8 1356.5 866.8 1357.9 868.8 1357.6 870.8 1358.4 872.8 1359.4 874.8 1358.8 876.8 1359.9 878.8 1359.6 880.8 1360.2 882.8 1359.6 884.8 1361.1 886.8 1361.8 888.8 1360.9 890.8 1362 892.8 1362 894.8 1360.9 896.8 1362.5 898.8 1363.6 900.8 1362.3 902.8 1361.4 904.8 1363.4 906.8 1362.9 908.8 1365.4 910.8 1363.9 912.8 1364.1 914.8 1363.8 916.8 1364.8 918.8 1364.3 920.8 1364.2 922.8 1365.1 924.8 1364.6 926.8 1366.7 928.8 1364.7 930.8 1365.8 932.8 1365.4 934.8 1365 936.8 1367.8 938.8 1364.7 940.8 1368 942.8 1365.6 944.8 1367.1 946.8 1369.2 948.8 1365.4 950.8 1366.3 952.8 1368.8 954.8 1367.9 956.8 1367.5 958.8 1368 960.8 1367.4 962.8 1368.4 964.8 1369.8 966.8 1368.2 968.8 1368.7 970.8 1369.8 972.8 1370.5 974.8 1368.3 976.8 1369.1 978.8 1368.3 980.8 1368.3 982.8 1368.5 984.8 1368.3 986.8 1367.4 988.8 1367.2 990.8 1368.3 992.8 1369.1 994.8 1370.1 996.8 1368.5 998.8 1368.9 1000.8 1369.6 1002.8 1369.7 1004.8 1368.9 1006.8 1369 1008.8 1370.7 1010.8 1368.7 1012.8 1368.6 1014.8 1367.6 1016.8 1369.4 1018.8 1368.8 1020.8 1370.7 1022.8 1368.8 1024.8 1369.8 1026.8 1369.8 1028.8 1370.4 1030.8 1367.8 1032.8 1370.2 1034.8 1368.8 1036.8 1368.6 1038.8 1368.4 1040.8 1368.2 1042.8 1368.2 1044.8 1366.4 1046.8 1368.8 1048.8 1368.4 1050.8 1367.4 1052.8 1368.2 1054.8 1370.2 1056.8 1368.5 1058.8 1367.8 1060.8 1369.7 1062.8 1367.5 1064.8 1368 1066.8 1367.7 1068.8 1368 1070.8 1368.9 1072.8 1368.7 1074.8 1367.6 1076.8 1368.2 1078.8 1368.4 1080.8 1368 1082.8 1368.3 1084.8 1367.8 1086.8 1367.8 1088.8 1368.5 1090.8 1367.6 1092.8 1368.9 1094.8 1368.4 1096.8 1367.8 1098.8 1368.1 1100.8 1368.3 1102.8 1368.6 1104.8 1368.9 1106.8 1368.7 1108.8 1368.2 1110.8 1370.2 1112.8 1369.8 1114.8 1369.2 1116.8 1370 1118.8 1369.5 1120.8 1369.1 1122.8 1369.4 1124.8 1371.8 1126.8 1370.4 1128.8 1370.5 1130.8 1369.3 1132.8 1370.2 1134.8 1371.8 1136.8 1370.2 1138.8 1370.9 1140.8 1371.1 1142.8 1370.6 1144.8 1371.5 1146.8 1370.4 1148.8 1370.7 1150.8 1369.8 1152.8 1372.8 1154.8 1370.8 1156.8 1370.7 1158.8 1371.9 1160.8 1370.3 1162.8 1370.8 1164.8 1370.2 1166.8 1371 1168.9 1370.8 1170.9 1371.6 1172.9 1371.1 1174.9 1370.8 1176.9 1371.1 1178.9 1371.4 1180.9 1371.1 1182.9 1372.5 1184.9 1372.3 1186.9 1371.9 1188.9 1370.9 1190.9 1372.5 1192.9 1371 1194.9 1372.4 1196.9 1372.4 1198.9 1371.9 1200.9 1371.8 1202.9 1372.1 1204.9 1374.6 1206.9 1372.7 1208.9 1372.9 1210.9 1374 1212.9 1373.7 1214.9 1374.3 1216.9 1372.5 1218.9 1372.7 1220.9 1376.7 1222.9 1373.9 1224.9 1373.8 1226.9 1374.4 1228.9 1375.2 1230.9 1373.5 1232.9 1374.9 1234.9 1374.8 1236.9 1375.5 1238.9 1375.3 1240.9 1374.8 1242.9 1374.7 1244.9 1373.4 1246.9 1376.6 1248.9 1374.6 1250.9 1375.7 1252.9 1377.6 1254.9 1376 1256.9 1377 1258.9 1376.4 1260.9 1377.4 1262.9 1377 1264.9 1376.6 1266.9 1378.4 1268.9 1377.2 1270.9 1376.4 1272.9 1377.4 1274.9 1378.3 1276.9 1377 1278.9 1378.8 1280.9 1378.9 1282.9 1380.3 1284.9 1378 1286.9 1379.3 1288.9 1377.4 1290.9 1378.6 1292.9 1379.2 1294.9 1379.6 1296.9 1379.4 1298.9 1379.5 1300.9 1379.1 1302.9 1379.4 1304.9 1380.2 1306.9 1380.6 1308.9 1380.8 1310.9 1381.2 1312.9 1381.5 1314.9 1379.1 1316.9 1380.3 1318.9 1380.8 1320.9 1380.5 1322.9 1382.1 1324.9 1382 1326.9 1381.4 1328.9 1381.7 1330.9 1382.9 1332.9 1381.6 1334.9 1381.8 1336.9 1383 1338.9 1382.7 1340.9 1383.7 1342.9 1382.9 1344.9 1383.4 1346.9 1382.4 1348.9 1382.2 1350.9 1383.2 1352.9 1381 1354.9 1383.8 1356.9 1384.4 1358.9 1383.8 1360.9 1383.7 1362.9 1385 1364.9 1384.1 1366.9 1385.1 1368.9 1386.3 1370.9 1385.2 1372.9 1385.5 1374.9 1385.3 1376.9 1385.2 1378.9 1385.4 1380.9 1385.3 1382.9 1386.3 1384.9 1384.1 1386.9 1385.4 1388.9 1386.3 1390.9 1385.2 1392.9 1386 1394.9 1385.6 1396.9 1386.7 1398.9 1387.2 1400.9 1387.8 1402.9 1387.1 1404.9 1386.2 1406.9 1387.1 1408.9 1387.5 1410.9 1388.4 1412.9 1385.4 1414.9 1387.7 1416.9 1385.9 1418.9 1388.2 1420.9 1388.1 1422.9 1388.3 1424.9 1388.7 1426.9 1388.4 1428.9 1387.6 1430.9 1388.6 1432.9 1389.5 1434.9 1388.4 1436.9 1388.7 1438.9 1387.7 1440.9 1389.9 1442.9 1388.6 1444.9 1388.5 1446.9 1388.8 1448.9 1388.6 1450.9 1389.2 1452.9 1390.7 1454.9 1390.4 1456.9 1391 1458.9 1391.2 1460.9 1389.2 1462.9 1390.5 1464.9 1391.5 1466.9 1392.3 1468.9 1389.2 1470.9 1389.3 1472.9 1391.1 1474.9 1390.5 1476.9 1390 1478.9 1391.3 1480.9 1390.4 1482.9 1389.2 1484.9 1391.2 1486.9 1391.5 1488.9 1392 1490.9 1392.4 1492.9 1391.8 1494.9 1391.6 1496.9 1391.3 1498.9 1390.5 1500.9 1391.7 1502.9 1393 1504.9 1392.8 1506.9 1394.1 1508.9 1392.3 1510.9 1391 1512.9 1393.3 1514.9 1393.5 1516.9 1391.7 1518.9 1391.4 1520.9 1393 1522.9 1393.6 1524.9 1392.1 1526.9 1392.8 1528.9 1392.5 1531 1392.3 1533 1392.2 1535 1393.5 1537 1393.2 1539 1393 1541 1391.4 1543 1395.2 1545 1392.9 1547 1393.7 1549 1392.9 1551 1394.3 1553 1392.7 1555 1394.1 1557 1394 1559 1395 1561 1393.3 1563 1393.7 1565 1394.1 1567 1396.2 1569 1393.2 1571 1394.8 1573 1394 1575 1394.9 1577 1395.2 1579 1394.8 1581 1395 1583 1395.1 1585 1394.4 1587 1394.7 1589 1393.6 1591 1394.7 1593 1394.4 1595 1394.9 1597 1395.8 1599 1395.6 1601 1395.7 1603 1396.3 1605 1393.3 1607 1395.8 1609 1395.5 1611 1395.4 1613 1394.5 1615 1396.1 1617 1396.7 1619 1396.6 1621 1395.7 1623 1396.4 1625 1396.7 1627 1397.5 1629 1397 1631 1396.2 1633 1396.2 1635 1396.3 1637 1396.4 1639 1395.8 1641 1397 1643 1395.8 1645 1395.7 1647 1396.8 1649 1396.1 1651 1396.4 1653 1394.9 1655 1397.4 1657 1396.8 1659 1396.7 1661 1397.3 1663 1397.2 1665 1396.4 1667 1398.8 1669 1396.8 1671 1398.1 1673 1398.9 1675 1396.8 1677 1397.5 1679 1396.8 1681 1398.4 1683 1397.3 1685 1396.7 1687 1398.9 1689 1398.6 1691 1397.1 1693 1399"/><path d="M310.6 1361.4L312.6 1360.7 314.6 1360.1 316.6 1359.5 318.6 1358.9 320.6 1358.4 322.6 1357.9 324.6 1357.4 326.6 1356.9 328.6 1356.4 330.6 1356 332.6 1355.5 334.6 1355.1 336.6 1354.6 338.6 1354.2 340.6 1353.7 342.6 1353.3 344.6 1352.8 346.6 1352.4 348.6 1351.9 350.6 1351.4 352.6 1350.9 354.6 1350.4 356.6 1349.9 358.6 1349.4 360.6 1348.8 362.6 1348.2 364.6 1347.6 366.6 1347.1 368.6 1346.5 370.6 1345.9 372.6 1345.4 374.6 1344.9 376.6 1344.4 378.6 1343.9 380.6 1343.5 382.6 1343.1 384.6 1342.8 386.6 1342.4 388.6 1342.1 390.6 1341.8 392.6 1341.5 394.6 1341.2 396.6 1340.9 398.6 1340.6 400.6 1340.4 402.6 1340.1 404.6 1339.8 406.6 1339.4 408.6 1339.1 410.6 1338.7 412.6 1338.4 414.6 1338 416.6 1337.6 418.6 1337.1 420.6 1336.7 422.6 1336.2 424.6 1335.7 426.6 1335.3 428.6 1334.8 430.6 1334.3 432.6 1333.8 434.6 1333.3 436.6 1332.8 438.6 1332.3 440.6 1331.8 442.6 1331.3 444.6 1330.8 446.7 1330.3 448.7 1329.8 450.7 1329.2 452.7 1328.7 454.7 1328.1 456.7 1327.5 458.7 1327 460.7 1326.5 462.7 1326 464.7 1325.6 466.7 1325.2 468.7 1324.9 470.7 1324.6 472.7 1324.4 474.7 1324.1 476.7 1323.9 478.7 1323.6 480.7 1323.4 482.7 1323.1 484.7 1322.8 486.7 1322.5 488.7 1322.1 490.7 1321.7 492.7 1321.3 494.7 1320.9 496.7 1320.5 498.7 1320 500.7 1319.5 502.7 1319 504.7 1318.4 506.7 1317.8 508.7 1317.2 510.7 1316.4 512.7 1315.5 514.7 1314.4 516.7 1313.3 518.7 1312 520.7 1310.7 522.7 1309.3 524.7 1307.9 526.7 1306.5 528.7 1305.1 530.7 1303.7 532.7 1302.4 534.7 1301.1 536.7 1299.7 538.7 1298.4 540.7 1297 542.7 1295.5 544.7 1293.9 546.7 1292.3 548.7 1290.5 550.7 1288.5 552.7 1286.4 554.7 1283.7 556.7 1280.6 558.7 1277.2 560.7 1273.6 562.7 1269.8 564.7 1265.8 566.7 1261.9 568.7 1258 570.7 1254.2 572.7 1250.7 574.7 1247.4 576.7 1244.1 578.7 1240.8 580.7 1237.6 582.7 1234.3 584.7 1231 586.7 1227.7 588.7 1224.4 590.7 1221 592.7 1217.7 594.7 1214.5 596.7 1211.1 598.7 1207.5 600.7 1203.4 602.7 1198.5 604.7 1193 606.7 1187.5 608.7 1182.2 610.7 1177.6 612.7 1173.4 614.7 1169.4 616.7 1165.3 618.7 1160.8 620.7 1155.6 622.7 1150 624.7 1143.9 626.7 1137.5 628.7 1130.5 630.7 1122.9 632.7 1115.9 634.7 1108.8 636.7 1102.3 638.7 1097.7 640.7 1093.7 642.7 1090.9 644.7 1091.1 646.7 1094.4 648.7 1099.3 650.7 1104.3 652.7 1108.5 654.7 1113.5 656.7 1117.8 658.7 1120 660.7 1119.1 662.7 1116.5 664.7 1112.9 666.7 1109.2 668.7 1106.1 670.7 1103.1 672.7 1099.8 674.7 1096.9 676.7 1095.1 678.7 1095.2 680.7 1097.3 682.7 1101.1 684.7 1107.9 686.7 1124.7 688.7 1138.4 690.7 1149.7 692.7 1159.8 694.7 1169.6 696.7 1178.1 698.7 1183 700.7 1186.6 702.7 1189.8 704.7 1192.4 706.7 1194.1 708.7 1194.8 710.7 1194.3 712.7 1193.1 714.7 1191.5 716.7 1189.9 718.7 1188.5 720.7 1187.3 722.7 1186.1 724.7 1185.1 726.7 1184.8 728.7 1186 730.7 1188.3 732.7 1191.1 734.7 1194.9 736.7 1201.3 738.7 1208.5 740.7 1214.9 742.7 1220.8 744.7 1226.6 746.7 1232.3 748.7 1237.9 750.7 1243.8 752.7 1250.6 754.7 1257.9 756.7 1265.3 758.7 1272.3 760.7 1278.4 762.7 1283.2 764.7 1286.9 766.7 1290.3 768.7 1293.5 770.7 1296.4 772.7 1299.2 774.7 1301.7 776.7 1304.2 778.7 1306.5 780.7 1308.6 782.7 1310.7 784.7 1312.7 786.7 1314.7 788.7 1316.6 790.7 1318.3 792.7 1320 794.7 1321.7 796.7 1323.2 798.7 1324.7 800.7 1326.1 802.7 1327.5 804.7 1328.8 806.7 1330 808.8 1331.2 810.8 1332.3 812.8 1333.4 814.8 1334.4 816.8 1335.4 818.8 1336.3 820.8 1337.2 822.8 1338.2 824.8 1339.1 826.8 1340 828.8 1340.9 830.8 1341.8 832.8 1342.7 834.8 1343.7 836.8 1344.6 838.8 1345.4 840.8 1346.3 842.8 1347.1 844.8 1347.8 846.8 1348.5 848.8 1349.1 850.8 1349.6 852.8 1350.1 854.8 1350.7 856.8 1351.2 858.8 1351.6 860.8 1352.1 862.8 1352.6 864.8 1353 866.8 1353.5 868.8 1353.9 870.8 1354.3 872.8 1354.7 874.8 1355.1 876.8 1355.5 878.8 1355.8 880.8 1356.2 882.8 1356.5 884.8 1356.8 886.8 1357.2 888.8 1357.5 890.8 1357.8 892.8 1358 894.8 1358.3 896.8 1358.6 898.8 1358.9 900.8 1359.1 902.8 1359.4 904.8 1359.6 906.8 1359.9 908.8 1360.1 910.8 1360.3 912.8 1360.5 914.8 1360.8 916.8 1361 918.8 1361.2 920.8 1361.4 922.8 1361.6 924.8 1361.8 926.8 1361.9 928.8 1362.1 930.8 1362.3 932.8 1362.4 934.8 1362.6 936.8 1362.7 938.8 1362.9 940.8 1363.1 942.8 1363.2 944.8 1363.4 946.8 1363.6 948.8 1363.7 950.8 1363.9 952.8 1364 954.8 1364.2 956.8 1364.3 958.8 1364.5 960.8 1364.6 962.8 1364.7 964.8 1364.8 966.8 1364.9 968.8 1365 970.8 1365.1 972.8 1365.1 974.8 1365.2 976.8 1365.2 978.8 1365.2 980.8 1365.2 982.8 1365.2 984.8 1365.3 986.8 1365.3 988.8 1365.3 990.8 1365.3 992.8 1365.3 994.8 1365.3 996.8 1365.4 998.8 1365.4 1000.8 1365.4 1002.8 1365.4 1004.8 1365.4 1006.8 1365.4 1008.8 1365.4 1010.8 1365.4 1012.8 1365.4 1014.8 1365.4 1016.8 1365.4 1018.8 1365.4 1020.8 1365.4 1022.8 1365.4 1024.8 1365.4 1026.8 1365.4 1028.8 1365.3 1030.8 1365.3 1032.8 1365.2 1034.8 1365.2 1036.8 1365.1 1038.8 1365 1040.8 1364.9 1042.8 1364.9 1044.8 1364.8 1046.8 1364.7 1048.8 1364.7 1050.8 1364.6 1052.8 1364.6 1054.8 1364.6 1056.8 1364.5 1058.8 1364.5 1060.8 1364.5 1062.8 1364.5 1064.8 1364.5 1066.8 1364.5 1068.8 1364.6 1070.8 1364.6 1072.8 1364.6 1074.8 1364.6 1076.8 1364.6 1078.8 1364.7 1080.8 1364.7 1082.8 1364.7 1084.8 1364.8 1086.8 1364.8 1088.8 1364.8 1090.8 1364.9 1092.8 1364.9 1094.8 1365 1096.8 1365 1098.8 1365 1100.8 1365.1 1102.8 1365.1 1104.8 1365.2 1106.8 1365.3 1108.8 1365.3 1110.8 1365.4 1112.8 1365.4 1114.8 1365.5 1116.8 1365.5 1118.8 1365.6 1120.8 1365.7 1122.8 1365.7 1124.8 1365.8 1126.8 1365.9 1128.8 1365.9 1130.8 1366 1132.8 1366.1 1134.8 1366.2 1136.8 1366.2 1138.8 1366.3 1140.8 1366.4 1142.8 1366.5 1144.8 1366.5 1146.8 1366.6 1148.8 1366.7 1150.8 1366.8 1152.8 1366.8 1154.8 1366.9 1156.8 1367 1158.8 1367.1 1160.8 1367.2 1162.8 1367.2 1164.8 1367.3 1166.8 1367.4 1168.9 1367.5 1170.9 1367.5 1172.9 1367.6 1174.9 1367.7 1176.9 1367.8 1178.9 1367.9 1180.9 1367.9 1182.9 1368 1184.9 1368.1 1186.9 1368.2 1188.9 1368.3 1190.9 1368.4 1192.9 1368.5 1194.9 1368.6 1196.9 1368.7 1198.9 1368.8 1200.9 1368.9 1202.9 1369.1 1204.9 1369.2 1206.9 1369.3 1208.9 1369.4 1210.9 1369.5 1212.9 1369.7 1214.9 1369.8 1216.9 1369.9 1218.9 1370.1 1220.9 1370.2 1222.9 1370.3 1224.9 1370.5 1226.9 1370.6 1228.9 1370.8 1230.9 1370.9 1232.9 1371.1 1234.9 1371.2 1236.9 1371.4 1238.9 1371.5 1240.9 1371.7 1242.9 1371.8 1244.9 1372 1246.9 1372.1 1248.9 1372.3 1250.9 1372.4 1252.9 1372.6 1254.9 1372.7 1256.9 1372.9 1258.9 1373 1260.9 1373.2 1262.9 1373.3 1264.9 1373.5 1266.9 1373.6 1268.9 1373.8 1270.9 1373.9 1272.9 1374.1 1274.9 1374.2 1276.9 1374.4 1278.9 1374.5 1280.9 1374.7 1282.9 1374.8 1284.9 1375 1286.9 1375.1 1288.9 1375.2 1290.9 1375.4 1292.9 1375.5 1294.9 1375.7 1296.9 1375.8 1298.9 1375.9 1300.9 1376.1 1302.9 1376.2 1304.9 1376.3 1306.9 1376.5 1308.9 1376.6 1310.9 1376.8 1312.9 1376.9 1314.9 1377 1316.9 1377.2 1318.9 1377.3 1320.9 1377.5 1322.9 1377.6 1324.9 1377.7 1326.9 1377.9 1328.9 1378 1330.9 1378.2 1332.9 1378.3 1334.9 1378.4 1336.9 1378.6 1338.9 1378.7 1340.9 1378.9 1342.9 1379 1344.9 1379.2 1346.9 1379.3 1348.9 1379.4 1350.9 1379.6 1352.9 1379.7 1354.9 1379.9 1356.9 1380 1358.9 1380.1 1360.9 1380.3 1362.9 1380.4 1364.9 1380.6 1366.9 1380.7 1368.9 1380.8 1370.9 1381 1372.9 1381.1 1374.9 1381.2 1376.9 1381.4 1378.9 1381.5 1380.9 1381.6 1382.9 1381.8 1384.9 1381.9 1386.9 1382 1388.9 1382.2 1390.9 1382.3 1392.9 1382.4 1394.9 1382.6 1396.9 1382.7 1398.9 1382.8 1400.9 1382.9 1402.9 1383.1 1404.9 1383.2 1406.9 1383.3 1408.9 1383.4 1410.9 1383.5 1412.9 1383.7 1414.9 1383.8 1416.9 1383.9 1418.9 1384 1420.9 1384.1 1422.9 1384.2 1424.9 1384.4 1426.9 1384.5 1428.9 1384.6 1430.9 1384.7 1432.9 1384.8 1434.9 1384.9 1436.9 1385 1438.9 1385.2 1440.9 1385.3 1442.9 1385.4 1444.9 1385.5 1446.9 1385.6 1448.9 1385.7 1450.9 1385.8 1452.9 1385.9 1454.9 1386.1 1456.9 1386.2 1458.9 1386.3 1460.9 1386.4 1462.9 1386.5 1464.9 1386.6 1466.9 1386.7 1468.9 1386.8 1470.9 1386.9 1472.9 1387 1474.9 1387.1 1476.9 1387.2 1478.9 1387.3 1480.9 1387.5 1482.9 1387.6 1484.9 1387.7 1486.9 1387.8 1488.9 1387.9 1490.9 1388 1492.9 1388 1494.9 1388.1 1496.9 1388.2 1498.9 1388.3 1500.9 1388.4 1502.9 1388.5 1504.9 1388.6 1506.9 1388.7 1508.9 1388.8 1510.9 1388.9 1512.9 1389 1514.9 1389 1516.9 1389.1 1518.9 1389.2 1520.9 1389.3 1522.9 1389.4 1524.9 1389.4 1526.9 1389.5 1528.9 1389.6 1531 1389.7 1533 1389.7 1535 1389.8 1537 1389.9 1539 1389.9 1541 1390 1543 1390.1 1545 1390.1 1547 1390.2 1549 1390.3 1551 1390.3 1553 1390.4 1555 1390.5 1557 1390.5 1559 1390.6 1561 1390.6 1563 1390.7 1565 1390.7 1567 1390.8 1569 1390.9 1571 1390.9 1573 1391 1575 1391 1577 1391.1 1579 1391.1 1581 1391.2 1583 1391.2 1585 1391.3 1587 1391.3 1589 1391.4 1591 1391.4 1593 1391.5 1595 1391.5 1597 1391.6 1599 1391.6 1601 1391.7 1603 1391.7 1605 1391.8 1607 1391.8 1609 1391.9 1611 1391.9 1613 1392 1615 1392 1617 1392.1 1619 1392.1 1621 1392.2 1623 1392.2 1625 1392.3 1627 1392.3 1629 1392.4 1631 1392.4 1633 1392.5 1635 1392.6 1637 1392.6 1639 1392.7 1641 1392.7 1643 1392.8 1645 1392.8 1647 1392.9 1649 1392.9 1651 1393 1653 1393.1 1655 1393.1 1657 1393.2 1659 1393.3 1661 1393.3 1663 1393.4 1665 1393.4 1667 1393.5 1669 1393.6 1671 1393.6 1673 1393.7 1675 1393.7 1677 1393.8 1679 1393.9 1681 1393.9 1683 1394 1685 1394.1 1687 1394.2 1689 1394.2 1691 1394.3 1693 1394.4"/></g>
<ellipse cx="894" cy="1344" rx="11" ry="8.5" fill="#008000"/>
<path d="M264.6 1385.4L266.6 1384.8 268.6 1384.1 270.6 1383.5 272.6 1382.9 274.6 1382.3 276.6 1381.7 278.6 1381.1 280.6 1380.5 282.6 1380 284.6 1379.4 286.6 1378.9 288.6 1378.3 290.6 1377.8 292.6 1377.3 294.6 1376.8 296.6 1376.3 298.7 1375.8 300.7 1375.4 302.7 1374.9 304.7 1374.5 306.7 1374.1 308.7 1373.8 310.7 1373.4 312.7 1373.1 314.7 1372.7 316.7 1372.4 318.7 1372.2 320.7 1371.9 322.7 1371.7 324.7 1371.4 326.7 1371.2 328.7 1370.9 330.7 1370.7 332.7 1370.5 334.7 1370.2 336.7 1370 338.7 1369.8 340.7 1369.6 342.7 1369.3 344.7 1369.1 346.7 1368.9 348.7 1368.7 350.7 1368.5 352.7 1368.3 354.7 1368.2 356.7 1368 358.7 1367.8 360.7 1367.7 362.8 1367.5 364.8 1367.4 366.8 1367.3 368.8 1367.2 370.8 1367.1 372.8 1367 374.8 1366.9 376.8 1366.8 378.8 1366.8 380.8 1366.7 382.8 1366.7 384.8 1366.7 386.8 1366.7 388.8 1366.7 390.8 1366.8 392.8 1366.9 394.8 1367 396.8 1367.1 398.8 1367.3 400.8 1367.5 402.8 1367.7 404.8 1367.9 406.8 1368.1 408.8 1368.4 410.8 1368.7 412.8 1368.9 414.8 1369.2 416.8 1369.5 418.8 1369.8 420.8 1370.1 422.8 1370.5 424.8 1370.8 426.8 1371.1 428.9 1371.5 430.9 1371.8 432.9 1372.1 434.9 1372.5 436.9 1372.8 438.9 1373.1 440.9 1373.5 442.9 1373.9 444.9 1374.3 446.9 1374.8 448.9 1375.2 450.9 1375.7 452.9 1376.2 454.9 1376.8 456.9 1377.3 458.9 1377.9 460.9 1378.4 462.9 1379 464.9 1379.6 466.9 1380.1 468.9 1380.7 470.9 1381.3 472.9 1381.8 474.9 1382.4 476.9 1382.9 478.9 1383.5 480.9 1384 482.9 1384.5 484.9 1385 486.9 1385.5 488.9 1385.9 490.9 1386.4 493 1386.8 495 1387.3 497 1387.8 499 1388.2 501 1388.6 503 1389.1 505 1389.5 507 1390 509 1390.4 511 1390.8 513 1391.3 515 1391.7 517 1392.1 519 1392.5 521 1392.9 523 1393.3 525 1393.8" fill="none" stroke="#2a9696" stroke-width="6.5" stroke-linejoin="round" stroke-linecap="round" />
<path d="M420.8 1393.8L422.8 1393.3 424.8 1392.9 426.8 1392.4 428.8 1391.9 430.8 1391.4 432.8 1390.9 434.8 1390.4 436.8 1389.9 438.8 1389.3 440.8 1388.8 442.8 1388.1 444.8 1387.3 446.9 1386.5 448.9 1385.6 450.9 1384.9 452.9 1384.2 454.9 1383.7 456.9 1383.4 458.9 1383.3 460.9 1383.3 462.9 1383.4 464.9 1383.5 466.9 1383.6 468.9 1383.7 470.9 1383.9 472.9 1384 474.9 1384.2 476.9 1384.4 478.9 1384.7 480.9 1384.9 482.9 1385.1 484.9 1385.4 486.9 1385.6 488.9 1385.9 490.9 1386.1 492.9 1386.4 494.9 1386.7 496.9 1387 499 1387.4 501 1387.7 503 1388.1 505 1388.6 507 1389 509 1389.5 511 1389.9 513 1390.4 515 1391 517 1391.5 519 1392 521 1392.6 523 1393.2 525 1393.8" fill="none" stroke="#2a9696" stroke-width="6.5" stroke-linejoin="round" stroke-linecap="round" />
<path d="M577.5 1391.1L579 1391 580.5 1390.9 582 1390.8 583.5 1390.7 585 1390.6 586.5 1390.5 588 1390.3 589.5 1390.2 591.1 1390 592.6 1389.9 594.1 1389.7 595.6 1389.5 597.1 1389.3 598.6 1389 600.1 1388.8 601.6 1388.5 603.1 1388.2 604.6 1387.8 606.1 1387.4 607.6 1386.9 609.1 1386.4 610.6 1385.8 612.1 1385.1 613.6 1384.3 615.2 1383.3 616.7 1382.3 618.2 1381.1 619.7 1379.7 621.2 1378.1 622.7 1376.3 624.2 1374.3 625.7 1372.1 627.2 1369.6 628.7 1366.9 630.2 1364 631.7 1360.9 633.2 1357.6 634.7 1354.3 636.2 1351.1 637.8 1348.2 639.3 1345.6 640.8 1343.6 642.3 1342.4 643.8 1342 645.3 1342.6 646.8 1344 648.3 1346.1 649.8 1348.8 651.3 1351.9 652.8 1355.1 654.3 1358.4 655.8 1361.6 657.3 1364.7 658.8 1367.5 660.3 1370.2 661.9 1372.6 663.4 1374.8 664.9 1376.7 666.4 1378.5 667.9 1380 669.4 1381.4 670.9 1382.5 672.4 1383.6 673.9 1384.5 675.4 1385.3 676.9 1385.9 678.4 1386.5 679.9 1387 681.4 1387.5 682.9 1387.9 684.4 1388.2 686 1388.6 687.5 1388.8 689 1389.1 690.5 1389.3 692 1389.5 693.5 1389.7 695 1389.9 696.5 1390.1 698 1390.2" fill="none" stroke="#3030a8" stroke-width="6.5" stroke-linejoin="round" stroke-linecap="round" />
<path d="M647 1391.2L648.5 1391 650.1 1390.8 651.6 1390.6 653.1 1390.2 654.6 1389.8 656.2 1389.3 657.7 1388.6 659.2 1387.7 660.7 1386.5 662.3 1384.9 663.8 1383 665.3 1380.4 666.8 1377.4 668.4 1373.7 669.9 1369.4 671.4 1364.6 673 1359.3 674.5 1353.8 676 1348.2 677.5 1343 679.1 1338.4 680.6 1335.1 682.1 1333.2 683.6 1333.2 685.2 1335 686.7 1338.3 688.2 1342.8 689.8 1348.1 691.3 1353.6 692.8 1359.2 694.3 1364.5 695.9 1369.3 697.4 1373.6 698.9 1377.3 700.4 1380.4 702 1382.9 703.5 1384.9 705 1386.5 706.5 1387.7 708.1 1388.6 709.6 1389.3" fill="none" stroke="#3030a8" stroke-width="6.5" stroke-linejoin="round" stroke-linecap="round" />
<path d="M666 1390.1L667.5 1389.9 669 1389.8 670.5 1389.7 672 1389.5 673.5 1389.3 675 1389.1 676.5 1388.9 678.1 1388.7 679.6 1388.5 681.1 1388.2 682.6 1387.9 684.1 1387.6 685.6 1387.3 687.1 1386.9 688.6 1386.5 690.1 1386 691.6 1385.4 693.1 1384.8 694.6 1384.1 696.1 1383.3 697.6 1382.4 699.2 1381.3 700.7 1380.1 702.2 1378.7 703.7 1377.1 705.2 1375.2 706.7 1373.1 708.2 1370.8 709.7 1368.2 711.2 1365.2 712.7 1362 714.2 1358.4 715.7 1354.6 717.2 1350.5 718.7 1346.2 720.2 1341.8 721.8 1337.3 723.3 1333 724.8 1328.9 726.3 1325.4 727.8 1322.6 729.3 1320.8 730.8 1320 732.3 1320.4 733.8 1322 735.3 1324.5 736.8 1327.9 738.3 1331.8 739.8 1336.1 741.3 1340.6 742.9 1345 744.4 1349.4 745.9 1353.5 747.4 1357.4 748.9 1361.1 750.4 1364.4 751.9 1367.4 753.4 1370.1 754.9 1372.5 756.4 1374.7 757.9 1376.6 759.4 1378.3 760.9 1379.7 762.4 1381 763.9 1382.1 765.5 1383.1 767 1383.9 768.5 1384.6 770 1385.3 771.5 1385.8 773 1386.3 774.5 1386.8 776 1387.2 777.5 1387.5 779 1387.9 780.5 1388.1 782 1388.4 783.5 1388.7 785 1388.9 786.6 1389.1 788.1 1389.3 789.6 1389.4 791.1 1389.6 792.6 1389.8 794.1 1389.9 795.6 1390 797.1 1390.2" fill="none" stroke="#3030a8" stroke-width="6.5" stroke-linejoin="round" stroke-linecap="round" />
<path d="M264.6 1385.4L266.6 1385.4 268.6 1385.4 270.6 1385.4 272.6 1385.3 274.6 1385.3 276.6 1385.2 278.6 1385.2 280.6 1385.1 282.6 1385.1 284.6 1385 286.6 1384.9 288.7 1384.8 290.7 1384.7 292.7 1384.6 294.7 1384.5 296.7 1384.4 298.7 1384.2 300.7 1384.1 302.7 1384 304.7 1383.8 306.7 1383.7 308.7 1383.5 310.7 1383.4 312.7 1383.2 314.7 1383.1 316.7 1382.9 318.7 1382.7 320.7 1382.5 322.7 1382.4 324.7 1382.2 326.7 1382 328.7 1381.8 330.7 1381.6 332.8 1381.4 334.8 1381.2 336.8 1381 338.8 1380.8 340.8 1380.6 342.8 1380.4 344.8 1380.2 346.8 1380 348.8 1379.8 350.8 1379.6 352.8 1379.3 354.8 1379.1 356.8 1378.9 358.8 1378.7 360.8 1378.4 362.8 1378.1 364.8 1377.8 366.8 1377.5 368.8 1377.1 370.8 1376.8 372.8 1376.4 374.8 1376.1 376.8 1375.7 378.9 1375.3 380.9 1374.9 382.9 1374.4 384.9 1374 386.9 1373.6 388.9 1373.1 390.9 1372.7 392.9 1372.2 394.9 1371.8 396.9 1371.3 398.9 1370.8 400.9 1370.4 402.9 1369.9 404.9 1369.4 406.9 1368.9 408.9 1368.5 410.9 1368 412.9 1367.6 414.9 1367.1 416.9 1366.6 418.9 1366.2 420.9 1365.8 422.9 1365.3 425 1364.9 427 1364.4 429 1364 431 1363.5 433 1363 435 1362.6 437 1362.1 439 1361.6 441 1361.1 443 1360.6 445 1360.1 447 1359.6 449 1359 451 1358.5 453 1357.9 455 1357.3 457 1356.7 459 1356 461 1355.3 463 1354.7 465 1353.9 467 1353.2 469.1 1352.4 471.1 1351.6 473.1 1350.8 475.1 1350 477.1 1349.1 479.1 1348.2 481.1 1347.3 483.1 1346.4 485.1 1345.4 487.1 1344.4 489.1 1343.4 491.1 1342.4 493.1 1341.3 495.1 1340.2 497.1 1339.1 499.1 1338 501.1 1336.8 503.1 1335.7 505.1 1334.4 507.1 1333.1 509.1 1331.8 511.1 1330.5 513.1 1329.1 515.2 1327.6 517.2 1326.1 519.2 1324.6 521.2 1323 523.2 1321.4 525.2 1319.7 527.2 1318 529.2 1316.2 531.2 1314.4 533.2 1312.6 535.2 1310.7 537.2 1308.7 539.2 1306.7 541.2 1304.7 543.2 1302.6 545.2 1300.3 547.2 1298 549.2 1295.5 551.2 1292.9 553.2 1290.2 555.2 1287.4 557.2 1284.5 559.2 1281.5 561.3 1278.5 563.3 1275.4 565.3 1272.2 567.3 1269 569.3 1265.8 571.3 1262.5 573.3 1259.2 575.3 1255.9 577.3 1252.6 579.3 1249.3 581.3 1246 583.3 1242.7 585.3 1239.4 587.3 1235.9 589.3 1232.4 591.3 1228.8 593.3 1225.2 595.3 1221.5 597.3 1217.9 599.3 1214.2 601.3 1210.6 603.3 1207 605.4 1203.4 607.4 1199.6 609.4 1195.6 611.4 1191.5 613.4 1187.4 615.4 1183.4 617.4 1179.6 619.4 1176.1 621.4 1173 623.4 1170.4 625.4 1168.3 627.4 1166.8 629.4 1165.2 631.4 1163.8 633.4 1162.4 635.4 1161 637.4 1159.8 639.4 1158.7 641.4 1157.7 643.4 1156.9 645.4 1156.2 647.4 1155.7 649.4 1155.4 651.5 1155.3 653.5 1155.5 655.5 1155.9 657.5 1156.7 659.5 1157.7 661.5 1158.9 663.5 1160.2 665.5 1161.8 667.5 1163.4 669.5 1165.2 671.5 1167.1 673.5 1168.9 675.5 1170.8 677.5 1172.9 679.5 1175.5 681.5 1178.4 683.5 1181.6 685.5 1185.2 687.5 1188.8 689.5 1192.6 691.5 1196.5 693.5 1200.3 695.5 1204 697.6 1207.5 699.6 1211 701.6 1214.6 703.6 1218.3 705.6 1222 707.6 1225.7 709.6 1229.4 711.6 1233 713.6 1236.6 715.6 1240.2 717.6 1243.6 719.6 1247 721.6 1250.3 723.6 1253.7 725.6 1257.1 727.6 1260.5 729.6 1263.9 731.6 1267.2 733.6 1270.6 735.6 1273.9 737.6 1277.2 739.6 1280.5 741.7 1283.7 743.7 1286.8 745.7 1289.9 747.7 1292.9 749.7 1295.8 751.7 1298.6 753.7 1301.4 755.7 1304 757.7 1306.5 759.7 1308.9 761.7 1311.1" fill="none" stroke="#a33030" stroke-width="6.5" stroke-linejoin="round" stroke-linecap="round" />
<path d="M480.7 1332.3L482.7 1332.1 484.7 1331.7 486.7 1331.4 488.7 1331 490.7 1330.6 492.7 1330.2 494.7 1329.8 496.7 1329.3 498.7 1328.9 500.7 1328.3 502.7 1327.8 504.7 1327.2 506.7 1326.6 508.7 1325.9 510.7 1325.1 512.7 1324.2 514.7 1323.1 516.7 1322 518.7 1320.8 520.7 1319.5 522.7 1318.2 524.7 1316.8 526.7 1315.4 528.7 1314 530.7 1312.6 532.7 1311.3 534.7 1309.9 536.7 1308.5 538.7 1307.1 540.7 1305.3 542.7 1303.2 544.7 1300.9 546.7 1298.6 548.7 1296.2 550.7 1293.6 552.7 1290.9 554.7 1288.1 556.7 1285.3 558.7 1282.3 560.7 1279.3 562.7 1276.3 564.7 1273.1 566.7 1269.9 568.7 1266.7 570.7 1263.4 572.7 1259.9 574.7 1256.5 576.7 1253.2 578.7 1249.9 580.7 1246.6 582.7 1243.2 584.7 1239.9 586.7 1236.6 588.7 1233.2 590.7 1229.7 592.7 1226.3 594.7 1222.7 596.7 1219 598.7 1215.4 600.7 1211.6 602.7 1206.8 604.7 1201.7 606.7 1196.4 608.7 1191.2 610.7 1186.6 612.7 1182.2 614.7 1178 616.7 1173.7 618.7 1169 620.7 1163.9 622.7 1158.3 624.7 1152.5 626.7 1146.4 628.7 1139.8 630.7 1132.9 632.7 1126.5 634.7 1120.1 636.7 1114.3 638.7 1110.1" fill="none" stroke="#8b0000" stroke-width="6" stroke-linejoin="round" stroke-linecap="round" />
<path d="M759.7 1308.9L761.7 1311.1 763.7 1313.2 765.7 1315.3 767.7 1317.3 769.7 1319.2 771.7 1321.2 773.7 1323 775.7 1324.8 777.7 1326.6 779.7 1328.3 781.7 1330 783.7 1331.6 785.7 1333.2 787.8 1334.7 789.8 1336.2 791.8 1337.7 793.8 1339.1 795.8 1340.5 797.8 1341.8 799.8 1343.1 801.8 1344.4 803.8 1345.6 805.8 1346.8 807.8 1347.9 809.8 1349 811.8 1350.2 813.8 1351.3 815.8 1352.4 817.8 1353.5 819.8 1354.6 821.8 1355.6 823.8 1356.6 825.8 1357.6 827.8 1358.6 829.8 1359.5 831.8 1360.4 833.9 1361.2 835.9 1362 837.9 1362.8 839.9 1363.5 841.9 1364.2 843.9 1364.8 845.9 1365.3 847.9 1365.8 849.9 1366.3 851.9 1366.7 853.9 1367.2 855.9 1367.6 857.9 1368 859.9 1368.5 861.9 1368.9 863.9 1369.3 865.9 1369.7 867.9 1370.1 869.9 1370.4 871.9 1370.8 873.9 1371.1 875.9 1371.5 878 1371.8 880 1372 882 1372.3 884 1372.5 886 1372.8 888 1372.9 890 1373.1 892 1373.2 894 1373.4 896 1373.4 898 1373.5 900 1373.5" fill="none" stroke="#8b0000" stroke-width="6.5" stroke-linejoin="round" stroke-linecap="round" />
<path d="M831.4 1386.4L833.4 1386.3 835.4 1386.2 837.4 1386.2 839.4 1386.1 841.4 1386 843.4 1385.9 845.4 1385.8 847.5 1385.7 849.5 1385.6 851.5 1385.5 853.5 1385.4 855.5 1385.3 857.5 1385.2 859.5 1385.1 861.5 1385 863.5 1384.9 865.5 1384.8 867.5 1384.7 869.5 1384.6 871.5 1384.5 873.5 1384.4 875.5 1384.3 877.5 1384.1 879.6 1384 881.6 1383.9 883.6 1383.8 885.6 1383.7 887.6 1383.5 889.6 1383.4 891.6 1383.3 893.6 1383.1 895.6 1383 897.6 1382.8 899.6 1382.7 901.6 1382.6 903.6 1382.4 905.6 1382.3 907.6 1382.1 909.6 1382 911.7 1381.8 913.7 1381.6 915.7 1381.5 917.7 1381.3 919.7 1381.2 921.7 1381 923.7 1380.8 925.7 1380.7 927.7 1380.5 929.7 1380.4 931.7 1380.2 933.7 1380 935.7 1379.9 937.7 1379.7 939.7 1379.6 941.8 1379.4 943.8 1379.2 945.8 1379.1 947.8 1378.9 949.8 1378.7 951.8 1378.6 953.8 1378.4 955.8 1378.2 957.8 1378.1 959.8 1377.9 961.8 1377.7 963.8 1377.6 965.8 1377.4 967.8 1377.2 969.8 1377 971.8 1376.9 973.9 1376.7 975.9 1376.5 977.9 1376.3 979.9 1376.2 981.9 1376 983.9 1375.8 985.9 1375.6 987.9 1375.4 989.9 1375.2 991.9 1375.1 993.9 1374.9 995.9 1374.7 997.9 1374.5 999.9 1374.3 1001.9 1374.1 1003.9 1373.9 1006 1373.8 1008 1373.6 1010 1373.4 1012 1373.2 1014 1373 1016 1372.8 1018 1372.6 1020 1372.4" fill="none" stroke="#a33030" stroke-width="6.5" stroke-linejoin="round" stroke-linecap="round" />
<path d="M850.8 1354.7L852.8 1355.2 854.8 1355.7 856.8 1356.2 858.8 1356.7 860.8 1357.2 862.8 1357.6 864.8 1358 866.8 1358.5 868.8 1358.9 870.8 1359.3 872.8 1359.6 874.8 1360 876.8 1360.4 878.8 1360.7 880.8 1361 882.8 1361.4 884.8 1361.7 886.8 1362 888.8 1362.2 890.8 1362.5 892.8 1362.8 894.8 1363 896.8 1363.3 898.8 1363.5 900.8 1363.8 902.8 1364 904.8 1364.2 906.8 1364.5 908.8 1364.7 910.8 1364.9 912.8 1365.1 914.8 1365.3 916.8 1365.5 918.8 1365.7 920.8 1365.8 922.8 1366 924.8 1366.2 926.8 1366.3 928.8 1366.5 930.8 1366.7 932.8 1366.8 934.8 1366.9 936.8 1367.1 938.8 1367.2 940.8 1367.4 942.8 1367.5 944.8 1367.6 946.8 1367.8 948.8 1367.9 950.8 1368.1 952.8 1368.2 954.8 1368.3 956.8 1368.4 958.8 1368.5 960.8 1368.6 962.8 1368.7 964.8 1368.8 966.8 1368.9 968.8 1369 970.8 1369 972.8 1369.1 974.8 1369.1 976.8 1369.1 978.8 1369.1 980.8 1369.1 982.8 1369.1 984.8 1369.1 986.8 1369.1 988.8 1369.1 990.8 1369.1 992.8 1369.1 994.8 1369.1 996.8 1369.1 998.8 1369.1 1000.8 1369.1 1002.8 1369.1 1004.8 1369.1 1006.8 1369.1 1008.8 1369.1 1010.8 1369.1 1012.8 1369.1 1014.8 1369.1 1016.8 1369.1 1018.8 1369.1 1020.8 1369.1 1022.8 1369.1 1024.8 1369.1 1026.8 1369 1028.8 1369 1030.8 1368.9 1032.8 1368.9 1034.8 1368.8 1036.8 1368.8 1038.8 1368.7 1040.8 1368.6 1042.8 1368.6 1044.8 1368.5 1046.8 1368.4 1048.8 1368.4 1050.8 1368.3 1052.8 1368.3 1054.8 1368.2 1056.8 1368.2 1058.8 1368.2 1060.8 1368.2 1062.8 1368.2 1064.8 1368.2 1066.8 1368.2 1068.8 1368.2 1070.8 1368.2 1072.8 1368.3 1074.8 1368.3 1076.8 1368.3 1078.8 1368.3 1080.8 1368.3 1082.8 1368.4 1084.8 1368.4 1086.8 1368.4 1088.8 1368.5 1090.8 1368.5 1092.8 1368.6 1094.8 1368.6 1096.8 1368.6 1098.8 1368.7 1100.8 1368.7 1102.8 1368.8 1104.8 1368.8 1106.8 1368.9 1108.8 1368.9 1110.8 1369 1112.8 1369 1114.8 1369.1 1116.8 1369.2 1118.8 1369.2 1120.8 1369.3 1122.8 1369.4 1124.8 1369.4 1126.8 1369.5 1128.8 1369.6 1130.8 1369.6 1132.8 1369.7 1134.8 1369.8 1136.8 1369.8 1138.8 1369.9 1140.8 1370 1142.8 1370.1 1144.8 1370.1 1146.8 1370.2 1148.8 1370.3 1150.8 1370.4 1152.8 1370.4 1154.8 1370.5 1156.8 1370.6 1158.8 1370.7 1160.8 1370.7 1162.8 1370.8 1164.8 1370.9 1166.8 1371 1168.9 1371 1170.9 1371.1 1172.9 1371.2 1174.9 1371.3 1176.9 1371.4 1178.9 1371.4 1180.9 1371.5 1182.9 1371.6 1184.9 1371.7 1186.9 1371.8 1188.9 1371.9 1190.9 1372 1192.9 1372.1 1194.9 1372.2 1196.9 1372.3 1198.9 1372.4 1200.9 1372.5 1202.9 1372.6 1204.9 1372.7 1206.9 1372.9 1208.9 1373 1210.9 1373.1 1212.9 1373.2 1214.9 1373.4 1216.9 1373.5 1218.9 1373.6 1220.9 1373.8 1222.9 1373.9 1224.9 1374 1226.9 1374.2 1228.9 1374.3 1230.9 1374.5 1232.9 1374.6 1234.9 1374.7 1236.9 1374.9 1238.9 1375 1240.9 1375.2 1242.9 1375.3 1244.9 1375.5 1246.9 1375.6 1248.9 1375.8 1250.9 1375.9 1252.9 1376.1 1254.9 1376.2 1256.9 1376.4 1258.9 1376.5 1260.9 1376.7 1262.9 1376.8 1264.9 1377 1266.9 1377.1 1268.9 1377.3 1270.9 1377.4 1272.9 1377.6 1274.9 1377.7 1276.9 1377.9 1278.9 1378 1280.9 1378.2 1282.9 1378.3 1284.9 1378.5 1286.9 1378.6 1288.9 1378.7 1290.9 1378.9 1292.9 1379 1294.9 1379.1 1296.9 1379.3 1298.9 1379.4 1300.9 1379.5 1302.9 1379.7 1304.9 1379.8 1306.9 1380 1308.9 1380.1 1310.9 1380.2 1312.9 1380.4 1314.9 1380.5 1316.9 1380.6 1318.9 1380.8 1320.9 1380.9 1322.9 1381.1 1324.9 1381.2 1326.9 1381.3 1328.9 1381.5 1330.9 1381.6 1332.9 1381.8 1334.9 1381.9 1336.9 1382 1338.9 1382.2 1340.9 1382.3 1342.9 1382.5 1344.9 1382.6 1346.9 1382.7 1348.9 1382.9 1350.9 1383 1352.9 1383.2 1354.9 1383.3 1356.9 1383.4 1358.9 1383.6 1360.9 1383.7 1362.9 1383.9 1364.9 1384 1366.9 1384.1 1368.9 1384.3 1370.9 1384.4 1372.9 1384.5 1374.9 1384.7 1376.9 1384.8 1378.9 1384.9 1380.9 1385.1 1382.9 1385.2 1384.9 1385.3 1386.9 1385.5 1388.9 1385.6 1390.9 1385.7 1392.9 1385.8 1394.9 1386 1396.9 1386.1 1398.9 1386.2 1400.9 1386.3 1402.9 1386.5 1404.9 1386.6 1406.9 1386.7 1408.9 1386.8 1410.9 1386.9 1412.9 1387.1 1414.9 1387.2 1416.9 1387.3 1418.9 1387.4 1420.9 1387.5 1422.9 1387.6 1424.9 1387.7 1426.9 1387.9 1428.9 1388 1430.9 1388.1 1432.9 1388.2 1434.9 1388.3 1436.9 1388.4 1438.9 1388.5 1440.9 1388.7 1442.9 1388.8 1444.9 1388.9 1446.9 1389 1448.9 1389.1 1450.9 1389.2 1452.9 1389.3 1454.9 1389.4 1456.9 1389.5 1458.9 1389.7 1460.9 1389.8 1462.9 1389.9 1464.9 1390 1466.9 1390.1 1468.9 1390.2 1470.9 1390.3 1472.9 1390.4 1474.9 1390.5 1476.9 1390.6 1478.9 1390.7 1480.9 1390.8 1482.9 1390.9 1484.9 1391 1486.9 1391.1 1488.9 1391.2 1490.9 1391.3 1492.9 1391.4 1494.9 1391.5 1496.9 1391.6 1498.9 1391.7 1500.9 1391.8 1502.9 1391.9 1504.9 1391.9 1506.9 1392 1508.9 1392.1 1510.9 1392.2 1512.9 1392.3 1514.9 1392.4 1516.9 1392.4 1518.9 1392.5 1520.9 1392.6 1522.9 1392.7 1524.9 1392.8 1526.9 1392.8 1528.9 1392.9 1531 1393 1533 1393.1 1535 1393.1 1537 1393.2 1539 1393.3 1541 1393.3 1543 1393.4 1545 1393.4 1547 1393.5 1549 1393.6 1551 1393.6 1553 1393.7 1555 1393.8 1557 1393.8 1559 1393.9 1561 1393.9 1563 1394 1565 1394 1567 1394.1 1569 1394.1 1571 1394.2 1573 1394.2 1575 1394.3 1577 1394.4 1579 1394.4 1581 1394.5 1583 1394.5 1585 1394.6 1587 1394.6 1589 1394.7 1591 1394.7 1593 1394.8 1595 1394.8 1597 1394.9 1599 1394.9 1601 1394.9 1603 1395 1605 1395 1607 1395.1 1609 1395.1 1611 1395.2 1613 1395.2 1615 1395.3 1617 1395.3 1619 1395.4 1621 1395.4 1623 1395.5 1625 1395.5 1627 1395.6 1629 1395.6 1631 1395.7 1633 1395.7 1635 1395.8 1637 1395.9 1639 1395.9 1641 1396 1643 1396 1645 1396.1 1647 1396.1 1649 1396.2 1651 1396.2 1653 1396.3 1655 1396.4 1657 1396.4 1659 1396.5 1661 1396.5 1663 1396.6 1665 1396.7 1667 1396.7 1669 1396.8 1671 1396.8 1673 1396.9 1675 1397 1677 1397 1679 1397.1 1681 1397.2 1683 1397.2 1685 1397.3 1687 1397.3 1689 1397.4 1691 1397.5 1693 1397.5 1695 1397.6 1697 1397.7 1699 1397.7 1701 1397.8 1703 1397.8 1705 1397.9 1707 1398 1709 1398 1711 1398.1" fill="none" stroke="#8b0000" stroke-width="5.5" stroke-linejoin="round" stroke-linecap="round" />
<path d="M264.6 1375L266.6 1374.3 268.6 1373.6 270.6 1372.9 272.6 1372.2 274.6 1371.5 276.6 1370.8 278.6 1370.1 280.6 1369.4 282.6 1368.8 284.6 1368.1 286.6 1367.5 288.6 1366.8 290.6 1366.2 292.6 1365.6 294.6 1365 296.6 1364.4 298.6 1363.8 300.6 1363.2 302.6 1362.6 304.6 1362 306.6 1361.4 308.6 1360.9 310.6 1360.3 312.6 1359.8 314.6 1359.3 316.6 1358.8 318.6 1358.3 320.6 1357.8 322.6 1357.3 324.6 1356.8 326.6 1356.4 328.6 1355.9 330.6 1355.5 332.6 1355 334.6 1354.6 336.6 1354.1 338.6 1353.7 340.6 1353.2 342.6 1352.8 344.6 1352.3 346.6 1351.8 348.6 1351.4 350.6 1350.9 352.6 1350.4 354.6 1349.9 356.6 1349.4 358.6 1348.8 360.6 1348.3 362.6 1347.7 364.6 1347.1 366.6 1346.6 368.6 1346 370.6 1345.5 372.6 1344.9 374.6 1344.4 376.6 1343.9 378.6 1343.5 380.6 1343.1 382.6 1342.7 384.6 1342.3 386.6 1342 388.6 1341.6 390.6 1341.3 392.6 1341 394.6 1340.7 396.6 1340.4 398.6 1340.1 400.6 1339.8 402.6 1339.5 404.6 1339.2 406.6 1338.9 408.6 1338.6 410.6 1338.2 412.6 1337.8 414.6 1337.4 416.6 1337 418.6 1336.6 420.6 1336.1 422.6 1335.7 424.6 1335.2 426.6 1334.7 428.6 1334.3 430.6 1333.8 432.6 1333.3 434.6 1332.8 436.6 1332.3 438.6 1331.8 440.6 1331.3 442.6 1330.8 444.6 1330.3 446.7 1329.8 448.7 1329.3 450.7 1328.7 452.7 1328.2 454.7 1327.6 456.7 1327.1 458.7 1326.6 460.7 1326.1 462.7 1325.6 464.7 1325.2 466.7 1324.8 468.7 1324.5 470.7 1324.2 472.7 1323.9 474.7 1323.6 476.7 1323.4 478.7 1323.1 480.7 1322.8 482.7 1322.6 484.7 1322.2 486.7 1321.9 488.7 1321.5 490.7 1321.1 492.7 1320.7 494.7 1320.3 496.7 1319.8 498.7 1319.4 500.7 1318.8 502.7 1318.3 504.7 1317.7 506.7 1317.1 508.7 1316.4 510.7 1315.6 512.7 1314.7 514.7 1313.6 516.7 1312.5 518.7 1311.3 520.7 1310 522.7 1308.7 524.7 1307.3 526.7 1305.9 528.7 1304.5 530.7 1303.1 532.7 1301.8 534.7 1300.4 536.7 1299 538.7 1297.6 540.7 1296.1 542.7 1294.6 544.7 1292.9 546.7 1291.2 548.7 1289.3 550.7 1287.3 552.7 1285 554.7 1282.4 556.7 1279.4 558.7 1276.1 560.7 1272.6 562.7 1268.9 564.7 1265.1 566.7 1261.3 568.7 1257.5 570.7 1253.9 572.7 1250.4 574.7 1247 576.7 1243.7 578.7 1240.4 580.7 1237.1 582.7 1233.7 584.7 1230.4 586.7 1227.1 588.7 1223.7 590.7 1220.2 592.7 1216.8 594.7 1213.5 596.7 1210 598.7 1206.2 600.7 1202.1 602.7 1197.3 604.7 1192.2 606.7 1186.9 608.7 1181.7 610.7 1177.1 612.7 1172.7 614.7 1168.5 616.7 1164.2 618.7 1159.5 620.7 1154.4 622.7 1148.8 624.7 1143 626.7 1136.9 628.7 1130.3 630.7 1123.4 632.7 1117 634.7 1110.6 636.7 1104.8 638.7 1100.6 640.7 1096.9 642.7 1094.4 644.7 1094.3 646.7 1096.7 648.7 1100.5 650.7 1104.4 652.7 1107.7 654.7 1111.7 656.7 1115.1 658.7 1116.9 660.7 1116.3 662.7 1114.3 664.7 1111.5 666.7 1108.7 668.7 1106.3 670.7 1104.1 672.7 1101.7 674.7 1099.8 676.7 1098.8 678.7 1099.5 680.7 1101.9 682.7 1105.8 684.7 1112.1 686.7 1126.3 688.7 1138.2 690.7 1148.3 692.7 1157.4 694.7 1166.4 696.7 1174.2 698.7 1179.1 700.7 1182.9 702.7 1186.3 704.7 1189 706.7 1191 708.7 1192 710.7 1192 712.7 1191.3 714.7 1190.3 716.7 1189.3 718.7 1188.4 720.7 1187.7 722.7 1186.9 724.7 1186.5 726.7 1186.6 728.7 1188 730.7 1190.3 732.7 1193.1 734.7 1196.9 736.7 1202.7 738.7 1209.2 740.7 1215.2 742.7 1220.9 744.7 1226.5 746.7 1232.2 748.7 1237.8 750.7 1243.6 752.7 1250.1 754.7 1257 756.7 1263.9 758.7 1270.4 760.7 1276.3 762.7 1281.1 764.7 1284.9 766.7 1288.5 768.7 1291.9 770.7 1294.9 772.7 1297.8 774.7 1300.5 776.7 1303 778.7 1305.4 780.7 1307.6 782.7 1309.8 784.7 1311.9 786.7 1313.8 788.7 1315.7 790.7 1317.5 792.7 1319.2 794.7 1320.9 796.7 1322.4 798.7 1323.9 800.7 1325.4 802.7 1326.7 804.7 1328 806.7 1329.2 808.8 1330.4 810.8 1331.5 812.8 1332.6 814.8 1333.6 816.8 1334.6 818.8 1335.5 820.8 1336.5 822.8 1337.4 824.8 1338.3 826.8 1339.1 828.8 1340 830.8 1340.9 832.8 1341.8 834.8 1342.7 836.8 1343.6 838.8 1344.4 840.8 1345.2 842.8 1346 844.8 1346.7 846.8 1347.4 848.8 1347.9 850.8 1348.5 852.8 1349 854.8 1349.5 856.8 1350 858.8 1350.5 860.8 1351 862.8 1351.4 864.8 1351.8 866.8 1352.3 868.8 1352.7 870.8 1353.1 872.8 1353.4 874.8 1353.8 876.8 1354.2 878.8 1354.5 880.8 1354.8 882.8 1355.2 884.8 1355.5 886.8 1355.8 888.8 1356 890.8 1356.3 892.8 1356.6 894.8 1356.8 896.8 1357.1 898.8 1357.3 900.8 1357.6 902.8 1357.8 904.8 1358 906.8 1358.3 908.8 1358.5 910.8 1358.7 912.8 1358.9 914.8 1359.1 916.8 1359.3 918.8 1359.5 920.8 1359.6 922.8 1359.8 924.8 1360 926.8 1360.1 928.8 1360.3 930.8 1360.5 932.8 1360.6 934.8 1360.7 936.8 1360.9 938.8 1361 940.8 1361.2 942.8 1361.3 944.8 1361.4 946.8 1361.6 948.8 1361.7 950.8 1361.9 952.8 1362 954.8 1362.1 956.8 1362.2 958.8 1362.3 960.8 1362.4 962.8 1362.5 964.8 1362.6 966.8 1362.7 968.8 1362.8 970.8 1362.8 972.8 1362.9 974.8 1362.9 976.8 1362.9 978.8 1362.9 980.8 1362.9 982.8 1362.9 984.8 1362.9 986.8 1362.9 988.8 1362.9 990.8 1362.9 992.8 1362.9 994.8 1362.9 996.8 1362.9 998.8 1362.9 1000.8 1362.9 1002.8 1362.9 1004.8 1362.9 1006.8 1362.9 1008.8 1362.9 1010.8 1362.9 1012.8 1362.9 1014.8 1362.9 1016.8 1362.9 1018.8 1362.9 1020.8 1362.9 1022.8 1362.9 1024.8 1362.9 1026.8 1362.8 1028.8 1362.8 1030.8 1362.7 1032.8 1362.7 1034.8 1362.6 1036.8 1362.6 1038.8 1362.5 1040.8 1362.4 1042.8 1362.4 1044.8 1362.3 1046.8 1362.2 1048.8 1362.2 1050.8 1362.1 1052.8 1362.1 1054.8 1362 1056.8 1362 1058.8 1362 1060.8 1362 1062.8 1362 1064.8 1362 1066.8 1362 1068.8 1362 1070.8 1362 1072.8 1362.1 1074.8 1362.1 1076.8 1362.1 1078.8 1362.1 1080.8 1362.1 1082.8 1362.2 1084.8 1362.2 1086.8 1362.2 1088.8 1362.3 1090.8 1362.3 1092.8 1362.4 1094.8 1362.4 1096.8 1362.4 1098.8 1362.5 1100.8 1362.5 1102.8 1362.6 1104.8 1362.6 1106.8 1362.7 1108.8 1362.7 1110.8 1362.8 1112.8 1362.8 1114.8 1362.9 1116.8 1363 1118.8 1363 1120.8 1363.1 1122.8 1363.2 1124.8 1363.2 1126.8 1363.3 1128.8 1363.4 1130.8 1363.4 1132.8 1363.5 1134.8 1363.6 1136.8 1363.6 1138.8 1363.7 1140.8 1363.8 1142.8 1363.9 1144.8 1363.9 1146.8 1364 1148.8 1364.1 1150.8 1364.2 1152.8 1364.2 1154.8 1364.3 1156.8 1364.4 1158.8 1364.5 1160.8 1364.5 1162.8 1364.6 1164.8 1364.7 1166.8 1364.8 1168.9 1364.8 1170.9 1364.9 1172.9 1365 1174.9 1365.1 1176.9 1365.2 1178.9 1365.2 1180.9 1365.3 1182.9 1365.4 1184.9 1365.5 1186.9 1365.6 1188.9 1365.7 1190.9 1365.8 1192.9 1365.9 1194.9 1366 1196.9 1366.1 1198.9 1366.2 1200.9 1366.3 1202.9 1366.4 1204.9 1366.5 1206.9 1366.7 1208.9 1366.8 1210.9 1366.9 1212.9 1367 1214.9 1367.2 1216.9 1367.3 1218.9 1367.4 1220.9 1367.6 1222.9 1367.7 1224.9 1367.8 1226.9 1368 1228.9 1368.1 1230.9 1368.3 1232.9 1368.4 1234.9 1368.5 1236.9 1368.7 1238.9 1368.8 1240.9 1369 1242.9 1369.1 1244.9 1369.3 1246.9 1369.4 1248.9 1369.6 1250.9 1369.7 1252.9 1369.9 1254.9 1370 1256.9 1370.2 1258.9 1370.3 1260.9 1370.5 1262.9 1370.6 1264.9 1370.8 1266.9 1370.9 1268.9 1371.1 1270.9 1371.2 1272.9 1371.4 1274.9 1371.5 1276.9 1371.7 1278.9 1371.8 1280.9 1372 1282.9 1372.1 1284.9 1372.3 1286.9 1372.4 1288.9 1372.5 1290.9 1372.7 1292.9 1372.8 1294.9 1372.9 1296.9 1373.1 1298.9 1373.2 1300.9 1373.3 1302.9 1373.5 1304.9 1373.6 1306.9 1373.8 1308.9 1373.9 1310.9 1374 1312.9 1374.2 1314.9 1374.3 1316.9 1374.4 1318.9 1374.6 1320.9 1374.7 1322.9 1374.9 1324.9 1375 1326.9 1375.1 1328.9 1375.3 1330.9 1375.4 1332.9 1375.6 1334.9 1375.7 1336.9 1375.8 1338.9 1376 1340.9 1376.1 1342.9 1376.3 1344.9 1376.4 1346.9 1376.5 1348.9 1376.7 1350.9 1376.8 1352.9 1377 1354.9 1377.1 1356.9 1377.2 1358.9 1377.4 1360.9 1377.5 1362.9 1377.7 1364.9 1377.8 1366.9 1377.9 1368.9 1378.1 1370.9 1378.2 1372.9 1378.3 1374.9 1378.5 1376.9 1378.6 1378.9 1378.7 1380.9 1378.9 1382.9 1379 1384.9 1379.1 1386.9 1379.3 1388.9 1379.4 1390.9 1379.5 1392.9 1379.6 1394.9 1379.8 1396.9 1379.9 1398.9 1380 1400.9 1380.1 1402.9 1380.3 1404.9 1380.4 1406.9 1380.5 1408.9 1380.6 1410.9 1380.7 1412.9 1380.9 1414.9 1381 1416.9 1381.1 1418.9 1381.2 1420.9 1381.3 1422.9 1381.4 1424.9 1381.5 1426.9 1381.7 1428.9 1381.8 1430.9 1381.9 1432.9 1382 1434.9 1382.1 1436.9 1382.2 1438.9 1382.3 1440.9 1382.5 1442.9 1382.6 1444.9 1382.7 1446.9 1382.8 1448.9 1382.9 1450.9 1383 1452.9 1383.1 1454.9 1383.2 1456.9 1383.3 1458.9 1383.5 1460.9 1383.6 1462.9 1383.7 1464.9 1383.8 1466.9 1383.9 1468.9 1384 1470.9 1384.1 1472.9 1384.2 1474.9 1384.3 1476.9 1384.4 1478.9 1384.5 1480.9 1384.6 1482.9 1384.7 1484.9 1384.8 1486.9 1384.9 1488.9 1385 1490.9 1385.1 1492.9 1385.2 1494.9 1385.3 1496.9 1385.4 1498.9 1385.5 1500.9 1385.6 1502.9 1385.7 1504.9 1385.7 1506.9 1385.8 1508.9 1385.9 1510.9 1386 1512.9 1386.1 1514.9 1386.2 1516.9 1386.2 1518.9 1386.3 1520.9 1386.4 1522.9 1386.5 1524.9 1386.6 1526.9 1386.6 1528.9 1386.7 1531 1386.8 1533 1386.9 1535 1386.9 1537 1387 1539 1387.1 1541 1387.1 1543 1387.2 1545 1387.2 1547 1387.3 1549 1387.4 1551 1387.4 1553 1387.5 1555 1387.6 1557 1387.6 1559 1387.7 1561 1387.7 1563 1387.8 1565 1387.8 1567 1387.9 1569 1387.9 1571 1388 1573 1388 1575 1388.1 1577 1388.2 1579 1388.2 1581 1388.3 1583 1388.3 1585 1388.4 1587 1388.4 1589 1388.5 1591 1388.5 1593 1388.6 1595 1388.6 1597 1388.7 1599 1388.7 1601 1388.7 1603 1388.8 1605 1388.8 1607 1388.9 1609 1388.9 1611 1389 1613 1389 1615 1389.1 1617 1389.1 1619 1389.2 1621 1389.2 1623 1389.3 1625 1389.3 1627 1389.4 1629 1389.4 1631 1389.5 1633 1389.5 1635 1389.6 1637 1389.7 1639 1389.7 1641 1389.8 1643 1389.8 1645 1389.9 1647 1389.9 1649 1390 1651 1390 1653 1390.1 1655 1390.2 1657 1390.2 1659 1390.3 1661 1390.3 1663 1390.4 1665 1390.5 1667 1390.5 1669 1390.6 1671 1390.6 1673 1390.7 1675 1390.8 1677 1390.8 1679 1390.9 1681 1391 1683 1391 1685 1391.1 1687 1391.1 1689 1391.2 1691 1391.3 1693 1391.3 1695 1391.4 1697 1391.5 1699 1391.5 1701 1391.6 1703 1391.6 1705 1391.7 1707 1391.8 1709 1391.8 1711 1391.9" fill="none" stroke="#888888" stroke-width="7.8" stroke-linejoin="round" stroke-linecap="round" stroke-linecap="butt" stroke-opacity="0.8"/>
<g fill="none" stroke="#FF8000" stroke-width="16" stroke-linejoin="round" stroke-linecap="butt"><path d="M310.6 1653.1L312.6 1654.7 314.6 1653.3 316.6 1650.8 318.6 1650.6 320.6 1649.7 322.6 1650.1 324.6 1649.6 326.6 1649.8 328.6 1648.9 330.6 1647.2 332.6 1647.4 334.6 1649 336.6 1648.4 338.6 1646.9 340.6 1646.6 342.6 1646.2 344.6 1646 346.6 1644.2 348.6 1646 350.6 1644.3 352.6 1644.6 354.6 1641.9 356.6 1643.9 358.6 1644.4 360.6 1640.9 362.6 1643.6 364.6 1642.2 366.6 1640.6 368.6 1639.4 370.6 1641.2 372.6 1640 374.6 1639.8 376.6 1638.6 378.6 1637.8 380.6 1638.9 382.6 1637.1 384.6 1638.5 386.6 1636 388.6 1636.5 390.6 1635.9 392.6 1638.1 394.6 1635.3 396.6 1635.7 398.6 1637.1 400.6 1636.5 402.6 1638.1 404.6 1637.6 406.6 1636.4 408.6 1636.2 410.6 1633.8 412.6 1634.4 414.6 1634.6 416.6 1634.5 418.6 1633.1 420.6 1633.2 422.6 1632.9 424.6 1634.2 426.6 1633.2 428.6 1632.2 430.6 1631.8 432.6 1631.9 434.6 1630.6 436.6 1630.5 438.6 1628.8 440.6 1630.4 442.6 1630.2 444.6 1629.2 446.7 1628.8 448.7 1628.2 450.7 1629 452.7 1626.8 454.7 1624.7 456.7 1624.3 458.7 1625 460.7 1624.7 462.7 1623.8 464.7 1623.3 466.7 1622.3 468.7 1620.4 470.7 1620.8 472.7 1619.6 474.7 1620.5 476.7 1619.4 478.7 1620.5 480.7 1620 482.7 1618.2 484.7 1620.3 486.7 1620 488.7 1617.8 490.7 1618.8 492.7 1618.9 494.7 1617.8 496.7 1618.4 498.7 1617.5 500.7 1617.9 502.7 1616.8 504.7 1616.1 506.7 1616.2 508.7 1616 510.7 1615 512.7 1613.8 514.7 1612.7 516.7 1612.2 518.7 1611 520.7 1610.5 522.7 1609.4 524.7 1607.9 526.7 1606.8 528.7 1605.7 530.7 1605.8 532.7 1604.3 534.7 1601.8 536.7 1601.7 538.7 1600.2 540.7 1599.5 542.7 1598.4 544.7 1597.1 546.7 1595.4 548.7 1593.3 550.7 1594.4 552.7 1594 554.7 1590.2 556.7 1588.7 558.7 1584.6 560.7 1581.3 562.7 1576.3 564.7 1572.6 566.7 1568.4 568.7 1562.2 570.7 1560.5 572.7 1556.5 574.7 1551.1 576.7 1550.5 578.7 1546.5 580.7 1543.3 582.7 1540.1 584.7 1536.2 586.7 1532.6 588.7 1530.2 590.7 1527.4 592.7 1527.4 594.7 1525.3 596.7 1521.8 598.7 1520.2 600.7 1518.6 602.7 1515.2 604.7 1509.3 606.7 1503.8 608.7 1501.4 610.7 1496.2 612.7 1489.9 614.7 1485.9 616.7 1482.9 618.7 1479.8 620.7 1475.9 622.7 1470.8 624.7 1465.2 626.7 1462.1 628.7 1457.4 630.7 1450.7 632.7 1443.4 634.7 1437.6 636.7 1431.6 638.7 1425.4 640.7 1421.3 642.7 1415.4 644.7 1417.4 646.7 1421.2 648.7 1424.2 650.7 1429.4 652.7 1434 654.7 1435.5 656.7 1441.3 658.7 1444.5 660.7 1441 662.7 1442.4 664.7 1438.9 666.7 1436.5 668.7 1430.6 670.7 1427.3 672.7 1422.4 674.7 1416.3 676.7 1410.7 678.7 1405.6 680.7 1408 682.7 1412.5 684.7 1418.6 686.7 1426.5 688.7 1445.5 690.7 1462.2 692.7 1472.6 694.7 1481.2 696.7 1491.2 698.7 1499.7 700.7 1502.1 702.7 1506.4 704.7 1506.4 706.7 1508 708.7 1510.4 710.7 1506.5 712.7 1508.8 714.7 1506.3 716.7 1505.7 718.7 1504.2 720.7 1501.8 722.7 1500.7 724.7 1498.5 726.7 1497.6 728.7 1495.1 730.7 1494.4 732.7 1496.4 734.7 1501.9 736.7 1504.3 738.7 1511.5 740.7 1518.4 742.7 1526.5 744.7 1535.1 746.7 1541.3 748.7 1546.4 750.7 1555.3 752.7 1559.4 754.7 1569.3 756.7 1575.4 758.7 1580.5 760.7 1586.8 762.7 1590.1 764.7 1594.8 766.7 1595.1 768.7 1599.4 770.7 1600.9 772.7 1600.9 774.7 1602.5 776.7 1606.1 778.7 1606.5 780.7 1608.4 782.7 1609.9 784.7 1610.9 786.7 1613.5 788.7 1614.7 790.7 1615.9 792.7 1618.7 794.7 1622.2 796.7 1623.6 798.7 1623.6 800.7 1625.2 802.7 1626.8 804.7 1628.8 806.7 1629 808.8 1629.5 810.8 1630.7 812.8 1633.1 814.8 1635.5 816.8 1633.6 818.8 1633.2 820.8 1636.7 822.8 1636.7 824.8 1637.7 826.8 1639.4 828.8 1639.1 830.8 1638.6 832.8 1638.7 834.8 1641 836.8 1640.7 838.8 1642.6 840.8 1641.7 842.8 1643.1 844.8 1642.6 846.8 1644 848.8 1644.3 850.8 1645.7 852.8 1646.8 854.8 1645.8 856.8 1645.6 858.8 1648.5 860.8 1647.4 862.8 1648 864.8 1648.3 866.8 1649.4 868.8 1649.3 870.8 1649.4 872.8 1649.7 874.8 1648.6 876.8 1649.1 878.8 1649.8 880.8 1650.3 882.8 1650.5 884.8 1651 886.8 1651 888.8 1650.8 890.8 1649.9 892.8 1652.4 894.8 1652.3 896.8 1651.2 898.8 1652.7 900.8 1652.8 902.8 1652.7 904.8 1651.2 906.8 1652 908.8 1652.7 910.8 1654.9 912.8 1652.8 914.8 1653.4 916.8 1652.9 918.8 1653.6 920.8 1654.5 922.8 1652.5 924.8 1652 926.8 1655.2 928.8 1654.8 930.8 1654.3 932.8 1655.8 934.8 1655.9 936.8 1653.3 938.8 1655.1 940.8 1656.3 942.8 1654.8 944.8 1655.3 946.8 1656.5 948.8 1655.5 950.8 1654.7 952.8 1655.3 954.8 1654.8 956.8 1656.5 958.8 1654.6 960.8 1657.1 962.8 1654.8 964.8 1656.4 966.8 1655.1 968.8 1656.1 970.8 1657.4 972.8 1657.5 974.8 1657.7 976.8 1656.5 978.8 1656.7 980.8 1656.8 982.8 1657.2 984.8 1656.3 986.8 1657.6 988.8 1657 990.8 1657.7 992.8 1657.1 994.8 1657.3 996.8 1656.1 998.8 1656.4 1000.8 1655.6 1002.8 1656.5 1004.8 1656.6 1006.8 1657.5 1008.8 1655.7 1010.8 1659.7 1012.8 1656.7 1014.8 1657.9 1016.8 1657.7 1018.8 1654.5 1020.8 1656.6 1022.8 1658.1 1024.8 1654.6 1026.8 1657.5 1028.8 1655.9 1030.8 1656.3 1032.8 1656.9 1034.8 1655 1036.8 1656.8 1038.8 1656 1040.8 1655.9 1042.8 1657.2 1044.8 1659.7 1046.8 1656.8 1048.8 1657 1050.8 1656.4 1052.8 1655.8 1054.8 1656.7 1056.8 1657.8 1058.8 1656.6 1060.8 1657.2 1062.8 1656.2 1064.8 1658.7 1066.8 1654.9 1068.8 1657 1070.8 1656.9 1072.8 1656.7 1074.8 1655.5 1076.8 1655.4 1078.8 1656.3 1080.8 1656.6 1082.8 1655.4 1084.8 1655.6 1086.8 1657.1 1088.8 1657.5 1090.8 1656.1 1092.8 1656 1094.8 1656 1096.8 1658.9 1098.8 1657.1 1100.8 1656.7 1102.8 1657.6 1104.8 1658.8 1106.8 1657.8 1108.8 1655.5 1110.8 1656.8 1112.8 1656.5 1114.8 1656.6 1116.8 1655.9 1118.8 1656.6 1120.8 1656 1122.8 1657.4 1124.8 1657.1 1126.8 1655.9 1128.8 1655.6 1130.8 1656.8 1132.8 1657.8 1134.8 1657.7 1136.8 1657.3 1138.8 1654.4 1140.8 1657 1142.8 1656.8 1144.8 1657.2 1146.8 1656.4 1148.8 1657.2 1150.8 1657 1152.8 1660.1 1154.8 1658.4 1156.8 1657.6 1158.8 1657.8 1160.8 1657.8 1162.8 1658.1 1164.8 1657.6 1166.8 1658 1168.9 1659 1170.9 1658.9 1172.9 1658.4 1174.9 1659.4 1176.9 1658.5 1178.9 1657.4 1180.9 1656.8 1182.9 1657.8 1184.9 1658.4 1186.9 1658.9 1188.9 1659.6 1190.9 1658.2 1192.9 1658.1 1194.9 1659.6 1196.9 1660 1198.9 1658.6 1200.9 1659.5 1202.9 1660.5 1204.9 1659.7 1206.9 1659.4 1208.9 1657.7 1210.9 1660.9 1212.9 1660.4 1214.9 1660.1 1216.9 1659.6 1218.9 1659.1 1220.9 1660.2 1222.9 1660.4 1224.9 1661.6 1226.9 1659.6 1228.9 1662.1 1230.9 1661 1232.9 1662.2 1234.9 1660.4 1236.9 1661.7 1238.9 1662.6 1240.9 1661.8 1242.9 1660.5 1244.9 1661.7 1246.9 1662.6 1248.9 1661 1250.9 1661.1 1252.9 1662.8 1254.9 1661.9 1256.9 1663.5 1258.9 1661.9 1260.9 1661.5 1262.9 1662.6 1264.9 1664.8 1266.9 1662.8 1268.9 1663.7 1270.9 1664.1 1272.9 1663.2 1274.9 1665.1 1276.9 1664.4 1278.9 1664.8 1280.9 1663 1282.9 1663.1 1284.9 1662.3 1286.9 1664.8 1288.9 1664.9 1290.9 1665.9 1292.9 1666.7 1294.9 1665.2 1296.9 1665.3 1298.9 1666.1 1300.9 1667.2 1302.9 1665.2 1304.9 1666.6 1306.9 1665.9 1308.9 1666 1310.9 1667.1 1312.9 1665.8 1314.9 1665.7 1316.9 1667.3 1318.9 1666.8 1320.9 1666.7 1322.9 1667 1324.9 1667.7 1326.9 1667 1328.9 1668.1 1330.9 1667.9 1332.9 1669 1334.9 1668.9 1336.9 1668.7 1338.9 1667.9 1340.9 1668.3 1342.9 1667.7 1344.9 1671 1346.9 1668.3 1348.9 1669.1 1350.9 1670 1352.9 1667.6 1354.9 1668.2 1356.9 1668.7 1358.9 1668.3 1360.9 1668.2 1362.9 1669 1364.9 1670.7 1366.9 1670.3 1368.9 1669.8 1370.9 1669.9 1372.9 1668.5 1374.9 1670.7 1376.9 1670.6 1378.9 1669.4 1380.9 1670.6 1382.9 1670.4 1384.9 1670.2 1386.9 1669.9 1388.9 1670.3 1390.9 1670.2 1392.9 1671.5 1394.9 1671.5 1396.9 1671.6 1398.9 1671.3 1400.9 1671.2 1402.9 1673.5 1404.9 1670.1 1406.9 1672.9 1408.9 1672.3 1410.9 1672.1 1412.9 1671.7 1414.9 1672 1416.9 1671.3 1418.9 1671.2 1420.9 1672.4 1422.9 1671.2 1424.9 1673.5 1426.9 1673.8 1428.9 1669.8 1430.9 1671.6 1432.9 1673.4 1434.9 1673.4 1436.9 1673.4 1438.9 1673.8 1440.9 1674.2 1442.9 1674.4 1444.9 1675.3 1446.9 1673.8 1448.9 1674.7 1450.9 1672.6 1452.9 1674 1454.9 1673.1 1456.9 1675.6 1458.9 1676.5 1460.9 1675 1462.9 1673.4 1464.9 1674.6 1466.9 1674.8 1468.9 1675 1470.9 1675.9 1472.9 1675.9 1474.9 1672.8 1476.9 1676.5 1478.9 1674.9 1480.9 1674.9 1482.9 1676.8 1484.9 1675.3 1486.9 1674.4 1488.9 1674.6 1490.9 1675.9 1492.9 1676.8 1494.9 1677.4 1496.9 1676 1498.9 1675.8 1500.9 1677.7 1502.9 1675.9 1504.9 1677.8 1506.9 1676.7 1508.9 1676.8 1510.9 1676.5 1512.9 1677 1514.9 1676.4 1516.9 1676.3 1518.9 1676.9 1520.9 1676.5 1522.9 1677.4 1524.9 1677.3 1526.9 1677.1 1528.9 1677.2 1531 1677.2 1533 1679.1 1535 1677.6 1537 1677.1 1539 1677.5 1541 1678.4 1543 1677.7 1545 1677.8 1547 1677.8 1549 1678.2 1551 1678.5 1553 1678.6 1555 1676.8 1557 1677.4 1559 1676.1 1561 1679.2 1563 1679.6 1565 1679.8 1567 1678.8 1569 1679.8 1571 1678.8 1573 1678.8 1575 1677.6 1577 1678.3 1579 1678.5 1581 1680 1583 1680.7 1585 1678.8 1587 1679.7 1589 1679.6 1591 1678.8 1593 1678 1595 1678.9 1597 1678.3 1599 1679.4 1601 1679.6 1603 1679.6 1605 1679.7 1607 1680.4 1609 1679.1 1611 1680.8 1613 1678.6 1615 1680.2 1617 1680.6 1619 1679.6 1621 1678.9 1623 1680.9 1625 1679.8 1627 1681.2 1629 1681.2 1631 1680.6 1633 1680.6 1635 1681.6 1637 1681.1 1639 1680 1641 1681 1643 1681.4 1645 1681.1 1647 1681.2 1649 1680.9 1651 1681 1653 1680.3 1655 1679.9 1657 1682.2 1659 1680.7 1661 1681.5 1663 1680 1665 1681.5 1667 1680.7 1669 1684.1 1671 1680.6 1673 1680.7 1675 1682.5 1677 1682.7 1679 1679.8 1681 1682 1683 1682.6 1685 1680.7 1687 1682.5 1689 1681.4 1691 1681.1 1693 1681.7"/><path d="M310.6 1659.2L312.6 1657.8 314.6 1660.6 316.6 1657.7 318.6 1657 320.6 1658 322.6 1656.8 324.6 1657.7 326.6 1655.9 328.6 1656.1 330.6 1655.5 332.6 1655.2 334.6 1654.5 336.6 1654.3 338.6 1655.5 340.6 1653 342.6 1652.8 344.6 1652.6 346.6 1653.1 348.6 1652.5 350.6 1652.6 352.6 1650.2 354.6 1651.2 356.6 1650.4 358.6 1649.8 360.6 1649.7 362.6 1647.2 364.6 1648.7 366.6 1648.1 368.6 1646.2 370.6 1646.9 372.6 1647.9 374.6 1645.8 376.6 1646.3 378.6 1645.3 380.6 1644.5 382.6 1644.2 384.6 1644.4 386.6 1645.7 388.6 1645.1 390.6 1643.6 392.6 1645 394.6 1643.8 396.6 1643.2 398.6 1644 400.6 1642.7 402.6 1641.9 404.6 1644.3 406.6 1641.3 408.6 1643.2 410.6 1641.1 412.6 1642.2 414.6 1641.8 416.6 1641.2 418.6 1639.3 420.6 1640.8 422.6 1640.5 424.6 1639.4 426.6 1639.7 428.6 1640.2 430.6 1638.3 432.6 1638.7 434.6 1637 436.6 1637.9 438.6 1637.7 440.6 1638.8 442.6 1637 444.6 1636 446.7 1636.3 448.7 1633.5 450.7 1634.6 452.7 1632.5 454.7 1631.7 456.7 1632.5 458.7 1631.1 460.7 1631.5 462.7 1628.5 464.7 1629.6 466.7 1628.6 468.7 1628.5 470.7 1626.7 472.7 1629 474.7 1628.1 476.7 1626.8 478.7 1626.3 480.7 1626.4 482.7 1628.2 484.7 1626.6 486.7 1626 488.7 1626.4 490.7 1625.7 492.7 1625.5 494.7 1625.7 496.7 1625 498.7 1625.1 500.7 1622.9 502.7 1623.6 504.7 1622.7 506.7 1622.6 508.7 1621.9 510.7 1620.6 512.7 1620 514.7 1620.1 516.7 1617.6 518.7 1615.8 520.7 1616.3 522.7 1615.4 524.7 1613.1 526.7 1612.3 528.7 1610.3 530.7 1609.9 532.7 1610.1 534.7 1608.9 536.7 1607.4 538.7 1606.1 540.7 1603.9 542.7 1604.6 544.7 1603.5 546.7 1602.8 548.7 1602.1 550.7 1599 552.7 1597.3 554.7 1592.6 556.7 1591.3 558.7 1587.3 560.7 1583.7 562.7 1578.9 564.7 1574.5 566.7 1571.1 568.7 1565.2 570.7 1562.5 572.7 1559.4 574.7 1554.5 576.7 1550.8 578.7 1548.8 580.7 1545.2 582.7 1542.4 584.7 1539.3 586.7 1535.2 588.7 1533.5 590.7 1532 592.7 1529.1 594.7 1527.7 596.7 1525.1 598.7 1524.3 600.7 1522 602.7 1514.7 604.7 1511.6 606.7 1506.5 608.7 1500.4 610.7 1496.4 612.7 1491.9 614.7 1488.3 616.7 1485.2 618.7 1481.6 620.7 1476.8 622.7 1473.1 624.7 1468 626.7 1461.9 628.7 1459 630.7 1452.4 632.7 1443.8 634.7 1439.4 636.7 1433 638.7 1427.5 640.7 1424.4 642.7 1419 644.7 1420 646.7 1423.3 648.7 1426.3 650.7 1429.9 652.7 1435.7 654.7 1439.1 656.7 1442 658.7 1446.7 660.7 1449.8 662.7 1447.2 664.7 1440.3 666.7 1438.3 668.7 1433.8 670.7 1428.2 672.7 1423.4 674.7 1415.6 676.7 1411.2 678.7 1412.1 680.7 1410.7 682.7 1413.6 684.7 1419 686.7 1427.9 688.7 1446.7 690.7 1458.6 692.7 1470.6 694.7 1481.5 696.7 1490.2 698.7 1499.1 700.7 1505.3 702.7 1508.8 704.7 1509.6 706.7 1511.9 708.7 1515.2 710.7 1515.8 712.7 1513.8 714.7 1512.7 716.7 1510.5 718.7 1508.1 720.7 1509.2 722.7 1506.7 724.7 1504.9 726.7 1503.8 728.7 1504.7 730.7 1503 732.7 1500.6 734.7 1503.6 736.7 1506.8 738.7 1511.1 740.7 1519.5 742.7 1527.5 744.7 1534.5 746.7 1541.4 748.7 1549.4 750.7 1554.1 752.7 1563.3 754.7 1569.7 756.7 1576.7 758.7 1580.6 760.7 1589.5 762.7 1590.7 764.7 1594.8 766.7 1598.9 768.7 1600.3 770.7 1602.8 772.7 1603.3 774.7 1606.9 776.7 1609.3 778.7 1611.4 780.7 1612.3 782.7 1614.4 784.7 1616.3 786.7 1617.2 788.7 1619 790.7 1623.2 792.7 1622.5 794.7 1626 796.7 1626.7 798.7 1629.6 800.7 1629.3 802.7 1631.8 804.7 1633.1 806.7 1633.9 808.8 1635.6 810.8 1635.9 812.8 1637.6 814.8 1638.5 816.8 1640.6 818.8 1640.9 820.8 1640.7 822.8 1642.6 824.8 1643.7 826.8 1643.9 828.8 1646.6 830.8 1646.5 832.8 1647.7 834.8 1646.9 836.8 1647.9 838.8 1649.8 840.8 1648.3 842.8 1650.5 844.8 1650.8 846.8 1650.8 848.8 1651.8 850.8 1651.2 852.8 1652.7 854.8 1651.9 856.8 1652.2 858.8 1655 860.8 1653.5 862.8 1652.6 864.8 1655.7 866.8 1654.5 868.8 1652.4 870.8 1655.8 872.8 1657 874.8 1656.8 876.8 1658.3 878.8 1656.9 880.8 1657.9 882.8 1656.7 884.8 1658 886.8 1659.5 888.8 1658.8 890.8 1658.7 892.8 1657 894.8 1658.7 896.8 1658.1 898.8 1660.1 900.8 1659 902.8 1660.2 904.8 1659.2 906.8 1661.9 908.8 1659.4 910.8 1660.7 912.8 1663.1 914.8 1661.2 916.8 1660.4 918.8 1661.8 920.8 1662.3 922.8 1662.4 924.8 1660 926.8 1662.1 928.8 1660.1 930.8 1663.8 932.8 1662.3 934.8 1661.9 936.8 1663 938.8 1662.9 940.8 1661.5 942.8 1664.1 944.8 1662.6 946.8 1661.3 948.8 1664.2 950.8 1664.4 952.8 1664.3 954.8 1663.7 956.8 1662.5 958.8 1664.2 960.8 1665.1 962.8 1664.2 964.8 1665 966.8 1662.9 968.8 1664.6 970.8 1664.6 972.8 1662.4 974.8 1662.4 976.8 1663.2 978.8 1663.9 980.8 1664.3 982.8 1663.7 984.8 1663.8 986.8 1663.8 988.8 1664 990.8 1664.5 992.8 1664.4 994.8 1663.9 996.8 1664.2 998.8 1663.6 1000.8 1664.8 1002.8 1663.6 1004.8 1665.5 1006.8 1664 1008.8 1664.3 1010.8 1663.4 1012.8 1663.8 1014.8 1664.2 1016.8 1664.1 1018.8 1663.5 1020.8 1663 1022.8 1664.1 1024.8 1664.2 1026.8 1664.5 1028.8 1665.1 1030.8 1663.7 1032.8 1662.2 1034.8 1663.8 1036.8 1662.3 1038.8 1662.7 1040.8 1664.8 1042.8 1664.3 1044.8 1663.2 1046.8 1663.2 1048.8 1663.7 1050.8 1662.2 1052.8 1664.1 1054.8 1663.4 1056.8 1665.3 1058.8 1662.7 1060.8 1664.6 1062.8 1663.1 1064.8 1664.6 1066.8 1662.8 1068.8 1664.4 1070.8 1663.3 1072.8 1663 1074.8 1663.6 1076.8 1664.2 1078.8 1664.1 1080.8 1665.2 1082.8 1664.5 1084.8 1661.5 1086.8 1663.5 1088.8 1662.1 1090.8 1663.5 1092.8 1664.5 1094.8 1662.7 1096.8 1662.9 1098.8 1664.1 1100.8 1663.7 1102.8 1665.4 1104.8 1664.3 1106.8 1664.6 1108.8 1665.7 1110.8 1663.7 1112.8 1664.2 1114.8 1663.3 1116.8 1664.5 1118.8 1665.2 1120.8 1665.5 1122.8 1664.3 1124.8 1663.7 1126.8 1663.7 1128.8 1663.2 1130.8 1664.6 1132.8 1665.8 1134.8 1662.5 1136.8 1662.7 1138.8 1665.9 1140.8 1663.3 1142.8 1665 1144.8 1663.7 1146.8 1665.5 1148.8 1665.6 1150.8 1665.1 1152.8 1665.7 1154.8 1665.1 1156.8 1665.6 1158.8 1666.8 1160.8 1666.1 1162.8 1664.6 1164.8 1664.5 1166.8 1665.1 1168.9 1665.1 1170.9 1665.5 1172.9 1664.9 1174.9 1666.1 1176.9 1665.6 1178.9 1665.9 1180.9 1665.7 1182.9 1666.3 1184.9 1664.7 1186.9 1667.3 1188.9 1666.2 1190.9 1666.4 1192.9 1666.6 1194.9 1667.1 1196.9 1666.9 1198.9 1666.6 1200.9 1666.3 1202.9 1665.1 1204.9 1666.8 1206.9 1666.5 1208.9 1666.6 1210.9 1669.1 1212.9 1665.4 1214.9 1667.3 1216.9 1668.4 1218.9 1668.3 1220.9 1668.7 1222.9 1666.6 1224.9 1667 1226.9 1668.5 1228.9 1667.9 1230.9 1669.8 1232.9 1668.6 1234.9 1668.7 1236.9 1669.1 1238.9 1668.6 1240.9 1669.1 1242.9 1668.5 1244.9 1669.2 1246.9 1669 1248.9 1669.8 1250.9 1668.4 1252.9 1668.5 1254.9 1670.4 1256.9 1670.3 1258.9 1669.4 1260.9 1670.2 1262.9 1669.6 1264.9 1672.6 1266.9 1669.5 1268.9 1672.5 1270.9 1670.4 1272.9 1671.7 1274.9 1671.2 1276.9 1671.2 1278.9 1672.5 1280.9 1672.6 1282.9 1671.7 1284.9 1671.3 1286.9 1674.1 1288.9 1673.6 1290.9 1672.6 1292.9 1672.3 1294.9 1673 1296.9 1672.9 1298.9 1674 1300.9 1672.2 1302.9 1673.2 1304.9 1672.6 1306.9 1674.6 1308.9 1675.2 1310.9 1673.6 1312.9 1674.3 1314.9 1675.2 1316.9 1673.8 1318.9 1673.3 1320.9 1675.2 1322.9 1674.8 1324.9 1674.3 1326.9 1675.9 1328.9 1675 1330.9 1673.3 1332.9 1675.3 1334.9 1675 1336.9 1676.9 1338.9 1675.3 1340.9 1675.3 1342.9 1676 1344.9 1675.9 1346.9 1674.5 1348.9 1676 1350.9 1675.7 1352.9 1677.4 1354.9 1678.4 1356.9 1675.4 1358.9 1675.6 1360.9 1675.9 1362.9 1676.1 1364.9 1676.2 1366.9 1677 1368.9 1678.1 1370.9 1676 1372.9 1675.9 1374.9 1675.8 1376.9 1678.5 1378.9 1678.8 1380.9 1676.4 1382.9 1676.4 1384.9 1678.1 1386.9 1679.1 1388.9 1679.1 1390.9 1678.5 1392.9 1679 1394.9 1678.8 1396.9 1678.1 1398.9 1680.4 1400.9 1678.8 1402.9 1677.9 1404.9 1678.6 1406.9 1677.7 1408.9 1679.3 1410.9 1680.3 1412.9 1678.3 1414.9 1680.6 1416.9 1681.5 1418.9 1680.1 1420.9 1678.8 1422.9 1679.2 1424.9 1679.7 1426.9 1679 1428.9 1679.1 1430.9 1680.1 1432.9 1680.3 1434.9 1681.1 1436.9 1679.5 1438.9 1682.4 1440.9 1681.8 1442.9 1681.7 1444.9 1680.4 1446.9 1682.7 1448.9 1680.9 1450.9 1682.9 1452.9 1682.4 1454.9 1680.7 1456.9 1681.2 1458.9 1683.4 1460.9 1682.7 1462.9 1681.7 1464.9 1682.2 1466.9 1682.2 1468.9 1681.5 1470.9 1682.1 1472.9 1681.7 1474.9 1682 1476.9 1682.9 1478.9 1681.7 1480.9 1683.4 1482.9 1682.9 1484.9 1683.6 1486.9 1683.8 1488.9 1684.2 1490.9 1683.7 1492.9 1683.9 1494.9 1683.2 1496.9 1683.9 1498.9 1682.7 1500.9 1683.3 1502.9 1684.3 1504.9 1683.7 1506.9 1684.2 1508.9 1682.9 1510.9 1685.2 1512.9 1683.5 1514.9 1684.5 1516.9 1684.2 1518.9 1685.1 1520.9 1684 1522.9 1683.5 1524.9 1682.8 1526.9 1684.3 1528.9 1683.6 1531 1685.2 1533 1686.1 1535 1682.9 1537 1683.8 1539 1685.3 1541 1686.2 1543 1685.4 1545 1685.5 1547 1685.8 1549 1685.9 1551 1686.9 1553 1686.1 1555 1684.5 1557 1685.2 1559 1685.9 1561 1685.1 1563 1685.6 1565 1685.4 1567 1685.4 1569 1686.7 1571 1685.8 1573 1685.2 1575 1685.6 1577 1686.3 1579 1688.3 1581 1686.7 1583 1687.8 1585 1687 1587 1684.7 1589 1687 1591 1686 1593 1685.6 1595 1685.9 1597 1688.6 1599 1685.6 1601 1686.5 1603 1688.2 1605 1687.8 1607 1685.7 1609 1687.2 1611 1686.9 1613 1687.2 1615 1688.1 1617 1687 1619 1687.3 1621 1688.9 1623 1686 1625 1687.4 1627 1688.2 1629 1686.7 1631 1687.3 1633 1686.7 1635 1688.1 1637 1687.5 1639 1688.8 1641 1689.1 1643 1688.2 1645 1687.9 1647 1688.5 1649 1688.4 1651 1687.3 1653 1689.4 1655 1688.7 1657 1689.2 1659 1687.3 1661 1689.4 1663 1690.6 1665 1689.3 1667 1687.4 1669 1688.8 1671 1688.8 1673 1689.1 1675 1688.7 1677 1689.4 1679 1688.6 1681 1689.2 1683 1688.5 1685 1689.2 1687 1690.1 1689 1688.8 1691 1689.9 1693 1688.5"/><path d="M310.6 1656.3L312.6 1655.7 314.6 1655.2 316.6 1654.7 318.6 1654.3 320.6 1653.9 322.6 1653.4 324.6 1653.1 326.6 1652.7 328.6 1652.3 330.6 1651.9 332.6 1651.6 334.6 1651.2 336.6 1650.9 338.6 1650.5 340.6 1650.2 342.6 1649.8 344.6 1649.5 346.6 1649.1 348.6 1648.7 350.6 1648.4 352.6 1648 354.6 1647.6 356.6 1647.1 358.6 1646.7 360.6 1646.2 362.6 1645.7 364.6 1645.1 366.6 1644.6 368.6 1644.1 370.6 1643.6 372.6 1643.2 374.6 1642.7 376.6 1642.3 378.6 1642 380.6 1641.7 382.6 1641.5 384.6 1641.2 386.6 1641 388.6 1640.9 390.6 1640.7 392.6 1640.5 394.6 1640.4 396.6 1640.2 398.6 1640.1 400.6 1639.9 402.6 1639.8 404.6 1639.6 406.6 1639.4 408.6 1639.2 410.6 1639 412.6 1638.7 414.6 1638.4 416.6 1638.1 418.6 1637.8 420.6 1637.5 422.6 1637.1 424.6 1636.7 426.6 1636.3 428.6 1635.9 430.6 1635.5 432.6 1635.1 434.6 1634.6 436.6 1634.2 438.6 1633.7 440.6 1633.2 442.6 1632.8 444.6 1632.3 446.7 1631.8 448.7 1631.2 450.7 1630.5 452.7 1629.8 454.7 1629.1 456.7 1628.4 458.7 1627.7 460.7 1627 462.7 1626.5 464.7 1626 466.7 1625.6 468.7 1625.2 470.7 1624.9 472.7 1624.7 474.7 1624.4 476.7 1624.2 478.7 1623.9 480.7 1623.7 482.7 1623.4 484.7 1623.1 486.7 1622.8 488.7 1622.5 490.7 1622.2 492.7 1621.8 494.7 1621.5 496.7 1621.2 498.7 1620.8 500.7 1620.5 502.7 1620.1 504.7 1619.6 506.7 1619.2 508.7 1618.6 510.7 1618 512.7 1617.2 514.7 1616.3 516.7 1615.3 518.7 1614.2 520.7 1613.1 522.7 1611.9 524.7 1610.7 526.7 1609.5 528.7 1608.3 530.7 1607.2 532.7 1606.2 534.7 1605.3 536.7 1604.3 538.7 1603.4 540.7 1602.5 542.7 1601.5 544.7 1600.4 546.7 1599.2 548.7 1597.9 550.7 1596.5 552.7 1594.7 554.7 1592.3 556.7 1589.2 558.7 1585.7 560.7 1581.8 562.7 1577.7 564.7 1573.4 566.7 1569.2 568.7 1565 570.7 1561.1 572.7 1557.6 574.7 1554.3 576.7 1550.9 578.7 1547.5 580.7 1544.1 582.7 1540.9 584.7 1537.7 586.7 1534.7 588.7 1531.9 590.7 1529.4 592.7 1527.5 594.7 1525.8 596.7 1524.1 598.7 1522.1 600.7 1519.3 602.7 1515.3 604.7 1510.4 606.7 1505.2 608.7 1500.3 610.7 1496 612.7 1492 614.7 1488.2 616.7 1484.3 618.7 1480.3 620.7 1476.1 622.7 1471.7 624.7 1467.2 626.7 1462.4 628.7 1457.3 630.7 1451.1 632.7 1444.1 634.7 1437.5 636.7 1432.2 638.7 1426.9 640.7 1422 642.7 1418.9 644.7 1419 646.7 1421.7 648.7 1425.8 650.7 1430 652.7 1433.6 654.7 1438.1 656.7 1442.3 658.7 1445.2 660.7 1445.7 662.7 1444.1 664.7 1441.1 666.7 1437.3 668.7 1433.4 670.7 1429.2 672.7 1423.2 674.7 1416.6 676.7 1411 678.7 1407.9 680.7 1408.6 682.7 1412.4 684.7 1418.2 686.7 1427.5 688.7 1445.7 690.7 1459.5 692.7 1470.7 694.7 1480.6 696.7 1490.7 698.7 1499.2 700.7 1503.3 702.7 1506.1 704.7 1508.5 706.7 1510.3 708.7 1511.6 710.7 1512 712.7 1511.4 714.7 1510 716.7 1508.2 718.7 1506.1 720.7 1504.3 722.7 1503 724.7 1501.7 726.7 1500.3 728.7 1499.1 730.7 1498.4 732.7 1499.4 734.7 1502.3 736.7 1506.1 738.7 1511.2 740.7 1519 742.7 1527.1 744.7 1534.3 746.7 1541.5 748.7 1548.4 750.7 1555.2 752.7 1562.3 754.7 1569.3 756.7 1576.1 758.7 1582.2 760.7 1587.4 762.7 1591.3 764.7 1594.3 766.7 1596.9 768.7 1599.2 770.7 1601.4 772.7 1603.4 774.7 1605.2 776.7 1607 778.7 1608.7 780.7 1610.4 782.7 1612.1 784.7 1614 786.7 1615.8 788.7 1617.6 790.7 1619.4 792.7 1621.1 794.7 1622.8 796.7 1624.4 798.7 1625.9 800.7 1627.4 802.7 1628.8 804.7 1630.2 806.7 1631.4 808.8 1632.6 810.8 1633.8 812.8 1634.9 814.8 1636 816.8 1637 818.8 1638 820.8 1639 822.8 1639.8 824.8 1640.7 826.8 1641.5 828.8 1642.2 830.8 1643 832.8 1643.7 834.8 1644.3 836.8 1645 838.8 1645.6 840.8 1646.2 842.8 1646.8 844.8 1647.3 846.8 1647.8 848.8 1648.2 850.8 1648.6 852.8 1649 854.8 1649.4 856.8 1649.8 858.8 1650.2 860.8 1650.6 862.8 1650.9 864.8 1651.3 866.8 1651.6 868.8 1652 870.8 1652.3 872.8 1652.6 874.8 1652.9 876.8 1653.2 878.8 1653.5 880.8 1653.8 882.8 1654 884.8 1654.3 886.8 1654.5 888.8 1654.7 890.8 1655 892.8 1655.2 894.8 1655.4 896.8 1655.6 898.8 1655.8 900.8 1656 902.8 1656.2 904.8 1656.4 906.8 1656.6 908.8 1656.8 910.8 1657 912.8 1657.2 914.8 1657.3 916.8 1657.5 918.8 1657.7 920.8 1657.8 922.8 1658 924.8 1658.1 926.8 1658.2 928.8 1658.4 930.8 1658.5 932.8 1658.6 934.8 1658.7 936.8 1658.8 938.8 1658.9 940.8 1659 942.8 1659.1 944.8 1659.2 946.8 1659.2 948.8 1659.3 950.8 1659.4 952.8 1659.5 954.8 1659.6 956.8 1659.7 958.8 1659.7 960.8 1659.8 962.8 1659.9 964.8 1659.9 966.8 1660 968.8 1660 970.8 1660.1 972.8 1660.1 974.8 1660.2 976.8 1660.2 978.8 1660.2 980.8 1660.2 982.8 1660.2 984.8 1660.3 986.8 1660.3 988.8 1660.3 990.8 1660.3 992.8 1660.3 994.8 1660.3 996.8 1660.4 998.8 1660.4 1000.8 1660.4 1002.8 1660.4 1004.8 1660.4 1006.8 1660.4 1008.8 1660.4 1010.8 1660.4 1012.8 1660.4 1014.8 1660.4 1016.8 1660.4 1018.8 1660.4 1020.8 1660.4 1022.8 1660.4 1024.8 1660.4 1026.8 1660.4 1028.8 1660.4 1030.8 1660.4 1032.8 1660.3 1034.8 1660.3 1036.8 1660.3 1038.8 1660.2 1040.8 1660.2 1042.8 1660.2 1044.8 1660.2 1046.8 1660.1 1048.8 1660.1 1050.8 1660.1 1052.8 1660.1 1054.8 1660 1056.8 1660 1058.8 1660 1060.8 1660 1062.8 1660 1064.8 1660 1066.8 1660 1068.8 1660.1 1070.8 1660.1 1072.8 1660.1 1074.8 1660.1 1076.8 1660.1 1078.8 1660.1 1080.8 1660.1 1082.8 1660.1 1084.8 1660.2 1086.8 1660.2 1088.8 1660.2 1090.8 1660.2 1092.8 1660.2 1094.8 1660.3 1096.8 1660.3 1098.8 1660.3 1100.8 1660.3 1102.8 1660.4 1104.8 1660.4 1106.8 1660.4 1108.8 1660.5 1110.8 1660.5 1112.8 1660.5 1114.8 1660.6 1116.8 1660.6 1118.8 1660.6 1120.8 1660.7 1122.8 1660.7 1124.8 1660.7 1126.8 1660.8 1128.8 1660.8 1130.8 1660.8 1132.8 1660.9 1134.8 1660.9 1136.8 1661 1138.8 1661 1140.8 1661.1 1142.8 1661.1 1144.8 1661.1 1146.8 1661.2 1148.8 1661.2 1150.8 1661.3 1152.8 1661.3 1154.8 1661.4 1156.8 1661.4 1158.8 1661.5 1160.8 1661.5 1162.8 1661.6 1164.8 1661.6 1166.8 1661.7 1168.9 1661.7 1170.9 1661.7 1172.9 1661.8 1174.9 1661.8 1176.9 1661.9 1178.9 1661.9 1180.9 1662 1182.9 1662.1 1184.9 1662.1 1186.9 1662.2 1188.9 1662.3 1190.9 1662.3 1192.9 1662.4 1194.9 1662.5 1196.9 1662.6 1198.9 1662.7 1200.9 1662.8 1202.9 1662.9 1204.9 1663 1206.9 1663.1 1208.9 1663.2 1210.9 1663.3 1212.9 1663.4 1214.9 1663.6 1216.9 1663.7 1218.9 1663.8 1220.9 1663.9 1222.9 1664.1 1224.9 1664.2 1226.9 1664.3 1228.9 1664.5 1230.9 1664.6 1232.9 1664.7 1234.9 1664.9 1236.9 1665 1238.9 1665.2 1240.9 1665.3 1242.9 1665.5 1244.9 1665.6 1246.9 1665.7 1248.9 1665.9 1250.9 1666 1252.9 1666.2 1254.9 1666.3 1256.9 1666.5 1258.9 1666.6 1260.9 1666.8 1262.9 1666.9 1264.9 1667.1 1266.9 1667.2 1268.9 1667.3 1270.9 1667.5 1272.9 1667.6 1274.9 1667.8 1276.9 1667.9 1278.9 1668 1280.9 1668.2 1282.9 1668.3 1284.9 1668.4 1286.9 1668.6 1288.9 1668.7 1290.9 1668.8 1292.9 1668.9 1294.9 1669.1 1296.9 1669.2 1298.9 1669.3 1300.9 1669.4 1302.9 1669.5 1304.9 1669.7 1306.9 1669.8 1308.9 1669.9 1310.9 1670 1312.9 1670.1 1314.9 1670.2 1316.9 1670.4 1318.9 1670.5 1320.9 1670.6 1322.9 1670.7 1324.9 1670.8 1326.9 1671 1328.9 1671.1 1330.9 1671.2 1332.9 1671.3 1334.9 1671.4 1336.9 1671.5 1338.9 1671.7 1340.9 1671.8 1342.9 1671.9 1344.9 1672 1346.9 1672.1 1348.9 1672.2 1350.9 1672.4 1352.9 1672.5 1354.9 1672.6 1356.9 1672.7 1358.9 1672.8 1360.9 1672.9 1362.9 1673.1 1364.9 1673.2 1366.9 1673.3 1368.9 1673.4 1370.9 1673.5 1372.9 1673.6 1374.9 1673.7 1376.9 1673.8 1378.9 1674 1380.9 1674.1 1382.9 1674.2 1384.9 1674.3 1386.9 1674.4 1388.9 1674.5 1390.9 1674.6 1392.9 1674.7 1394.9 1674.8 1396.9 1674.9 1398.9 1675 1400.9 1675.1 1402.9 1675.3 1404.9 1675.4 1406.9 1675.5 1408.9 1675.6 1410.9 1675.7 1412.9 1675.8 1414.9 1675.9 1416.9 1676 1418.9 1676.1 1420.9 1676.2 1422.9 1676.3 1424.9 1676.4 1426.9 1676.5 1428.9 1676.6 1430.9 1676.7 1432.9 1676.8 1434.9 1676.9 1436.9 1677 1438.9 1677.1 1440.9 1677.1 1442.9 1677.2 1444.9 1677.3 1446.9 1677.4 1448.9 1677.5 1450.9 1677.6 1452.9 1677.7 1454.9 1677.8 1456.9 1677.9 1458.9 1678 1460.9 1678.1 1462.9 1678.2 1464.9 1678.3 1466.9 1678.4 1468.9 1678.5 1470.9 1678.6 1472.9 1678.7 1474.9 1678.8 1476.9 1678.8 1478.9 1678.9 1480.9 1679 1482.9 1679.1 1484.9 1679.2 1486.9 1679.3 1488.9 1679.4 1490.9 1679.5 1492.9 1679.5 1494.9 1679.6 1496.9 1679.7 1498.9 1679.8 1500.9 1679.9 1502.9 1680 1504.9 1680.1 1506.9 1680.1 1508.9 1680.2 1510.9 1680.3 1512.9 1680.4 1514.9 1680.5 1516.9 1680.5 1518.9 1680.6 1520.9 1680.7 1522.9 1680.8 1524.9 1680.8 1526.9 1680.9 1528.9 1681 1531 1681.1 1533 1681.1 1535 1681.2 1537 1681.3 1539 1681.3 1541 1681.4 1543 1681.5 1545 1681.6 1547 1681.6 1549 1681.7 1551 1681.8 1553 1681.8 1555 1681.9 1557 1682 1559 1682 1561 1682.1 1563 1682.2 1565 1682.2 1567 1682.3 1569 1682.4 1571 1682.4 1573 1682.5 1575 1682.6 1577 1682.6 1579 1682.7 1581 1682.8 1583 1682.8 1585 1682.9 1587 1682.9 1589 1683 1591 1683.1 1593 1683.1 1595 1683.2 1597 1683.3 1599 1683.3 1601 1683.4 1603 1683.4 1605 1683.5 1607 1683.5 1609 1683.6 1611 1683.7 1613 1683.7 1615 1683.8 1617 1683.8 1619 1683.9 1621 1683.9 1623 1684 1625 1684 1627 1684.1 1629 1684.2 1631 1684.2 1633 1684.3 1635 1684.3 1637 1684.4 1639 1684.4 1641 1684.5 1643 1684.5 1645 1684.6 1647 1684.6 1649 1684.7 1651 1684.7 1653 1684.7 1655 1684.8 1657 1684.8 1659 1684.9 1661 1684.9 1663 1685 1665 1685 1667 1685.1 1669 1685.1 1671 1685.2 1673 1685.2 1675 1685.2 1677 1685.3 1679 1685.3 1681 1685.4 1683 1685.4 1685 1685.4 1687 1685.5 1689 1685.5 1691 1685.6 1693 1685.6"/></g>
<path d="M264.6 1678.3L266.6 1677.7 268.6 1677.1 270.6 1676.6 272.6 1676 274.6 1675.4 276.7 1674.9 278.7 1674.3 280.7 1673.8 282.7 1673.3 284.7 1672.8 286.7 1672.3 288.7 1671.8 290.7 1671.3 292.7 1670.8 294.7 1670.4 296.7 1669.9 298.8 1669.5 300.8 1669.1 302.8 1668.7 304.8 1668.3 306.8 1667.9 308.8 1667.6 310.8 1667.3 312.8 1667 314.8 1666.7 316.8 1666.4 318.8 1666.1 320.9 1665.9 322.9 1665.7 324.9 1665.4 326.9 1665.2 328.9 1665 330.9 1664.7 332.9 1664.5 334.9 1664.3 336.9 1664.1 338.9 1663.9 341 1663.7 343 1663.5 345 1663.3 347 1663.1 349 1662.9 351 1662.8 353 1662.6 355 1662.5 357 1662.3 359 1662.2 361 1662.1 363.1 1662 365.1 1661.9 367.1 1661.8 369.1 1661.8 371.1 1661.7 373.1 1661.7 375.1 1661.7 377.1 1661.7 379.1 1661.7 381.1 1661.8 383.1 1661.8 385.2 1661.9 387.2 1661.9 389.2 1662 391.2 1662.1 393.2 1662.2 395.2 1662.3 397.2 1662.4 399.2 1662.5 401.2 1662.6 403.2 1662.8 405.2 1662.9 407.3 1663.1 409.3 1663.2 411.3 1663.4 413.3 1663.5 415.3 1663.7 417.3 1663.9 419.3 1664.1 421.3 1664.2 423.3 1664.4 425.3 1664.6 427.3 1664.8 429.4 1665 431.4 1665.2 433.4 1665.4 435.4 1665.6 437.4 1665.8 439.4 1666 441.4 1666.2 443.4 1666.5 445.4 1666.8 447.4 1667.1 449.4 1667.4 451.5 1667.8 453.5 1668.2 455.5 1668.6 457.5 1669 459.5 1669.4 461.5 1669.8 463.5 1670.2 465.5 1670.7 467.5 1671.1 469.5 1671.6 471.5 1672 473.6 1672.5 475.6 1672.9 477.6 1673.4 479.6 1673.9 481.6 1674.3 483.6 1674.7 485.6 1675.2 487.6 1675.6 489.6 1676 491.6 1676.4 493.7 1676.8 495.7 1677.1 497.7 1677.5 499.7 1677.8 501.7 1678.2 503.7 1678.5 505.7 1678.9 507.7 1679.2 509.7 1679.6 511.7 1679.9 513.7 1680.2 515.8 1680.6 517.8 1680.9 519.8 1681.2 521.8 1681.6 523.8 1681.9 525.8 1682.2 527.8 1682.5 529.8 1682.8 531.8 1683.2 533.8 1683.5 535.8 1683.8 537.9 1684.1 539.9 1684.4 541.9 1684.7 543.9 1685 545.9 1685.3 547.9 1685.6" fill="none" stroke="#2a9696" stroke-width="6.5" stroke-linejoin="round" stroke-linecap="round" />
<path d="M410.4 1685.6L412.4 1685.3 414.4 1684.9 416.5 1684.6 418.5 1684.3 420.5 1683.9 422.5 1683.5 424.6 1683.1 426.6 1682.7 428.6 1682.3 430.6 1681.9 432.6 1681.5 434.7 1681.1 436.7 1680.6 438.7 1680 440.7 1679.4 442.8 1678.8 444.8 1678.1 446.8 1677.4 448.8 1676.8 450.8 1676.3 452.9 1675.8 454.9 1675.4 456.9 1675.2 458.9 1675.2 461 1675.2 463 1675.3 465 1675.4 467 1675.6 469 1675.7 471.1 1675.9 473.1 1676.2 475.1 1676.4 477.1 1676.6 479.1 1676.9 481.2 1677.2 483.2 1677.5 485.2 1677.7 487.2 1678 489.3 1678.3 491.3 1678.6 493.3 1678.8 495.3 1679 497.3 1679.3 499.4 1679.5 501.4 1679.7 503.4 1680 505.4 1680.2 507.5 1680.4 509.5 1680.7 511.5 1680.9 513.5 1681.2 515.5 1681.4 517.6 1681.7 519.6 1681.9 521.6 1682.2 523.6 1682.4 525.7 1682.7 527.7 1682.9 529.7 1683.2 531.7 1683.4 533.7 1683.7 535.8 1684 537.8 1684.2 539.8 1684.5 541.8 1684.8 543.9 1685 545.9 1685.3 547.9 1685.6" fill="none" stroke="#2a9696" stroke-width="6.5" stroke-linejoin="round" stroke-linecap="round" />
<path d="M575.7 1684.6L577.2 1684.5 578.7 1684.4 580.2 1684.4 581.7 1684.3 583.2 1684.2 584.8 1684 586.3 1683.9 587.8 1683.8 589.3 1683.7 590.8 1683.5 592.3 1683.4 593.8 1683.2 595.3 1683 596.8 1682.8 598.3 1682.6 599.9 1682.3 601.4 1682 602.9 1681.7 604.4 1681.4 605.9 1681 607.4 1680.5 608.9 1680 610.4 1679.4 611.9 1678.7 613.4 1678 615 1677.1 616.5 1676 618 1674.9 619.5 1673.5 621 1672 622.5 1670.3 624 1668.3 625.5 1666.1 627 1663.7 628.5 1661.1 630.1 1658.2 631.6 1655.2 633.1 1652 634.6 1648.8 636.1 1645.7 637.6 1642.7 639.1 1640.1 640.6 1638.1 642.1 1636.8 643.6 1636.4 645.2 1636.9 646.7 1638.2 648.2 1640.3 649.7 1642.9 651.2 1645.9 652.7 1649 654.2 1652.2 655.7 1655.4 657.2 1658.4 658.7 1661.3 660.3 1663.9 661.8 1666.3 663.3 1668.4 664.8 1670.4 666.3 1672.1 667.8 1673.6 669.3 1674.9 670.8 1676.1 672.3 1677.1 673.8 1678 675.4 1678.8 676.9 1679.4 678.4 1680 679.9 1680.5 681.4 1681 682.9 1681.4 684.4 1681.7 685.9 1682 687.4 1682.3 688.9 1682.6 690.5 1682.8 692 1683 693.5 1683.2 695 1683.4 696.5 1683.5 698 1683.7" fill="none" stroke="#3030a8" stroke-width="6.5" stroke-linejoin="round" stroke-linecap="round" />
<path d="M647 1684.3L648.5 1684.1 650 1683.9 651.5 1683.6 653 1683.2 654.6 1682.8 656.1 1682.2 657.6 1681.4 659.1 1680.4 660.6 1679.1 662.1 1677.3 663.6 1675.1 665.1 1672.4 666.6 1668.9 668.2 1664.9 669.7 1660.1 671.2 1654.7 672.7 1648.7 674.2 1642.5 675.7 1636.1 677.2 1630 678.7 1624.7 680.2 1620.5 681.8 1618 683.3 1617.5 684.8 1619 686.3 1622.3 687.8 1627.2 689.3 1632.9 690.8 1639.2 692.3 1645.5 693.8 1651.7 695.4 1657.4 696.9 1662.5 698.4 1666.9 699.9 1670.7 701.4 1673.8 702.9 1676.3 704.4 1678.2 705.9 1679.8 707.4 1680.9 709 1681.8 710.5 1682.5 712 1683 713.5 1683.4 715 1683.7" fill="none" stroke="#3030a8" stroke-width="6.5" stroke-linejoin="round" stroke-linecap="round" />
<path d="M666 1683.6L667.5 1683.5 669 1683.4 670.5 1683.2 672 1683.1 673.5 1682.9 675.1 1682.7 676.6 1682.6 678.1 1682.3 679.6 1682.1 681.1 1681.9 682.6 1681.6 684.1 1681.3 685.6 1681 687.1 1680.6 688.6 1680.2 690.2 1679.7 691.7 1679.2 693.2 1678.6 694.7 1678 696.2 1677.2 697.7 1676.3 699.2 1675.3 700.7 1674.1 702.2 1672.8 703.7 1671.3 705.2 1669.5 706.8 1667.5 708.3 1665.3 709.8 1662.8 711.3 1660 712.8 1656.9 714.3 1653.5 715.8 1649.9 717.3 1646 718.8 1641.9 720.3 1637.7 721.9 1633.5 723.4 1629.4 724.9 1625.6 726.4 1622.3 727.9 1619.7 729.4 1618 730.9 1617.4 732.4 1617.9 733.9 1619.4 735.4 1621.9 737 1625.2 738.5 1628.9 740 1633 741.5 1637.2 743 1641.4 744.5 1645.5 746 1649.5 747.5 1653.1 749 1656.5 750.5 1659.6 752 1662.5 753.6 1665 755.1 1667.3 756.6 1669.3 758.1 1671.1 759.6 1672.6 761.1 1674 762.6 1675.2 764.1 1676.2 765.6 1677.1 767.1 1677.9 768.7 1678.6 770.2 1679.2 771.7 1679.7 773.2 1680.2 774.7 1680.6 776.2 1680.9 777.7 1681.3 779.2 1681.6 780.7 1681.8 782.2 1682.1 783.7 1682.3 785.3 1682.5 786.8 1682.7 788.3 1682.9 789.8 1683.1 791.3 1683.2 792.8 1683.4 794.3 1683.5 795.8 1683.6 797.3 1683.7 798.8 1683.9 800.4 1684 801.9 1684.1 803.4 1684.1 804.9 1684.2 806.4 1684.3 807.9 1684.4" fill="none" stroke="#3030a8" stroke-width="6.5" stroke-linejoin="round" stroke-linecap="round" />
<path d="M312.5 1676.2L314.5 1676.2 316.5 1676.2 318.5 1676.2 320.5 1676.2 322.5 1676.1 324.5 1676.1 326.5 1676 328.5 1676 330.5 1675.9 332.5 1675.8 334.5 1675.7 336.5 1675.6 338.6 1675.5 340.6 1675.4 342.6 1675.3 344.6 1675.1 346.6 1675 348.6 1674.9 350.6 1674.7 352.6 1674.6 354.6 1674.4 356.6 1674.2 358.6 1674.1 360.6 1673.9 362.6 1673.7 364.6 1673.5 366.6 1673.3 368.6 1673.1 370.6 1672.9 372.6 1672.7 374.6 1672.5 376.6 1672.3 378.6 1672 380.6 1671.8 382.6 1671.6 384.6 1671.4 386.7 1671.1 388.7 1670.9 390.7 1670.6 392.7 1670.4 394.7 1670.1 396.7 1669.9 398.7 1669.6 400.7 1669.2 402.7 1668.8 404.7 1668.4 406.7 1667.9 408.7 1667.4 410.7 1666.9 412.7 1666.3 414.7 1665.7 416.7 1665.1 418.7 1664.4 420.7 1663.8 422.7 1663.2 424.7 1662.5 426.7 1661.8 428.7 1661.2 430.7 1660.6 432.7 1659.9 434.8 1659.3 436.8 1658.7 438.8 1658.1 440.8 1657.6 442.8 1657 444.8 1656.5 446.8 1655.9 448.8 1655.3 450.8 1654.8 452.8 1654.2 454.8 1653.7 456.8 1653.1 458.8 1652.5 460.8 1651.9 462.8 1651.4 464.8 1650.8 466.8 1650.1 468.8 1649.5 470.8 1648.9 472.8 1648.2 474.8 1647.5 476.8 1646.8 478.8 1646.1 480.8 1645.4 482.9 1644.6 484.9 1643.9 486.9 1643.1 488.9 1642.3 490.9 1641.5 492.9 1640.7 494.9 1639.8 496.9 1638.9 498.9 1638 500.9 1637.1 502.9 1636.2 504.9 1635.2 506.9 1634.2 508.9 1633.2 510.9 1632.1 512.9 1631.1 514.9 1629.9 516.9 1628.8 518.9 1627.6 520.9 1626.4 522.9 1625.2 524.9 1623.9 526.9 1622.5 528.9 1621.1 530.9 1619.7 533 1618.2 535 1616.7 537 1615.1 539 1613.4 541 1611.7 543 1610 545 1608.2 547 1606.3 549 1604.4 551 1602.4 553 1600.4 555 1598.3 557 1596.2 559 1594 561 1591.7 563 1589.4 565 1586.8 567 1584 569 1581 571 1577.8 573 1574.5 575 1571.1 577 1567.7 579 1564.3 581.1 1561 583.1 1557.8 585.1 1554.6 587.1 1551.4 589.1 1548.2 591.1 1545 593.1 1541.7 595.1 1538.5 597.1 1535.3 599.1 1532.1 601.1 1528.9 603.1 1525.8 605.1 1522.6 607.1 1519.3 609.1 1515.8 611.1 1512.2 613.1 1508.7 615.1 1505.2 617.1 1501.8 619.1 1498.7 621.1 1495.9 623.1 1493.5 625.1 1491.5 627.1 1489.8 629.2 1488.3 631.2 1486.7 633.2 1485.2 635.2 1483.8 637.2 1482.5 639.2 1481.2 641.2 1480.1 643.2 1479.1 645.2 1478.2 647.2 1477.6 649.2 1477.1 651.2 1476.8 653.2 1476.7 655.2 1476.9 657.2 1477.4 659.2 1478.1 661.2 1479 663.2 1480.1 665.2 1481.4 667.2 1482.8 669.2 1484.4 671.2 1485.9 673.2 1487.6 675.2 1489.2 677.3 1491 679.3 1493.2 681.3 1495.8 683.3 1498.6 685.3 1501.7 687.3 1504.9 689.3 1508.3 691.3 1511.6 693.3 1515 695.3 1518.2 697.3 1521.3 699.3 1524.3 701.3 1527.4 703.3 1530.5 705.3 1533.7 707.3 1536.8 709.3 1539.9 711.3 1543 713.3 1546.1 715.3 1549.2 717.3 1552.1 719.3 1555.1 721.3 1557.9 723.3 1560.8 725.3 1563.6 727.4 1566.5 729.4 1569.4 731.4 1572.2 733.4 1575.1 735.4 1577.9 737.4 1580.7 739.4 1583.5 741.4 1586.2 743.4 1588.9 745.4 1591.6 747.4 1594.2 749.4 1596.7 751.4 1599.2 753.4 1601.6 755.4 1603.9 757.4 1606.1 759.4 1608.2 761.4 1610.3" fill="none" stroke="#a33030" stroke-width="6.5" stroke-linejoin="round" stroke-linecap="round" />
<path d="M480.7 1632.7L482.7 1632.4 484.7 1632.1 486.7 1631.8 488.7 1631.5 490.7 1631.1 492.7 1630.8 494.7 1630.4 496.7 1630.1 498.7 1629.7 500.7 1629.3 502.7 1628.9 504.7 1628.4 506.7 1627.9 508.7 1627.4 510.7 1626.7 512.7 1626 514.7 1625.1 516.7 1624.1 518.7 1623 520.7 1621.9 522.7 1620.8 524.7 1619.6 526.7 1618.5 528.7 1617.3 530.7 1616.2 532.7 1615.2 534.7 1614.2 536.7 1613.2 538.7 1612.2 540.7 1611.2 542.7 1610.1 544.7 1608.4 546.7 1606.6 548.7 1604.7 550.7 1602.7 552.7 1600.7 554.7 1598.6 556.7 1596.5 558.7 1593.9 560.7 1590.2 562.7 1586.2 564.7 1582.2 566.7 1578.2 568.7 1574.2 570.7 1570.4 572.7 1566.9 574.7 1563.5 576.7 1560.2 578.7 1556.8 580.7 1553.5 582.7 1550.2 584.7 1547.1 586.7 1544.1 588.7 1541.2 590.7 1538.6 592.7 1536.4 594.7 1534.4 596.7 1532.4 598.7 1530.1 600.7 1527.2 602.7 1523.3 604.7 1518.7 606.7 1513.8 608.7 1509.1 610.7 1504.9 612.7 1500.9 614.7 1497 616.7 1493.1 618.7 1488.9 620.7 1484.7 622.7 1480.3 624.7 1475.8 626.7 1471.1 628.7 1466.1 630.7 1460.4 632.7 1454.1 634.7 1448.2 636.7 1443.4 638.7 1438.7" fill="none" stroke="#8b0000" stroke-width="6" stroke-linejoin="round" stroke-linecap="round" />
<path d="M759.4 1608.2L761.4 1610.3 763.4 1612.2 765.4 1614.1 767.4 1616 769.4 1617.8 771.4 1619.6 773.4 1621.4 775.5 1623.1 777.5 1624.8 779.5 1626.5 781.5 1628.1 783.5 1629.7 785.5 1631.2 787.5 1632.7 789.5 1634.2 791.5 1635.6 793.5 1636.9 795.5 1638.2 797.5 1639.5 799.5 1640.6 801.5 1641.8 803.5 1642.8 805.5 1643.8 807.5 1644.8 809.5 1645.7 811.5 1646.6 813.5 1647.5 815.5 1648.4 817.5 1649.2 819.5 1650 821.5 1650.8 823.6 1651.6 825.6 1652.3 827.6 1653 829.6 1653.7 831.6 1654.4 833.6 1655.1 835.6 1655.7 837.6 1656.2 839.6 1656.8 841.6 1657.3 843.6 1657.8 845.6 1658.3 847.6 1658.7 849.6 1659.1 851.6 1659.5 853.6 1659.9 855.6 1660.3 857.6 1660.6 859.6 1661 861.6 1661.4 863.6 1661.7 865.6 1662.1 867.6 1662.4 869.6 1662.7 871.7 1663 873.7 1663.3 875.7 1663.6 877.7 1663.9 879.7 1664.1 881.7 1664.3 883.7 1664.6 885.7 1664.7 887.7 1664.9 889.7 1665 891.7 1665.1 893.7 1665.2 895.7 1665.3" fill="none" stroke="#8b0000" stroke-width="6.5" stroke-linejoin="round" stroke-linecap="round" />
<path d="M797.1 1679.3L799.1 1679.2 801.1 1679.2 803.1 1679.1 805.2 1679.1 807.2 1679 809.2 1678.9 811.2 1678.9 813.2 1678.8 815.2 1678.7 817.2 1678.7 819.3 1678.6 821.3 1678.5 823.3 1678.5 825.3 1678.4 827.3 1678.3 829.3 1678.2 831.4 1678.2 833.4 1678.1 835.4 1678 837.4 1677.9 839.4 1677.9 841.4 1677.8 843.4 1677.7 845.5 1677.6 847.5 1677.5 849.5 1677.4 851.5 1677.4 853.5 1677.3 855.5 1677.2 857.6 1677.1 859.6 1677 861.6 1676.9 863.6 1676.8 865.6 1676.8 867.6 1676.7 869.6 1676.6 871.7 1676.5 873.7 1676.4 875.7 1676.3 877.7 1676.2 879.7 1676.1 881.7 1676 883.7 1675.9 885.8 1675.8 887.8 1675.7 889.8 1675.6 891.8 1675.5 893.8 1675.4 895.8 1675.2 897.9 1675.1 899.9 1675 901.9 1674.9 903.9 1674.8 905.9 1674.7 907.9 1674.6 909.9 1674.4 912 1674.3 914 1674.2 916 1674.1 918 1674 920 1673.8 922 1673.7 924 1673.6 926.1 1673.4 928.1 1673.3 930.1 1673.2 932.1 1673 934.1 1672.9 936.1 1672.8 938.2 1672.6 940.2 1672.5 942.2 1672.3 944.2 1672.2 946.2 1672 948.2 1671.9 950.2 1671.7 952.3 1671.6 954.3 1671.4 956.3 1671.3 958.3 1671.1 960.3 1670.9 962.3 1670.8 964.3 1670.6 966.4 1670.4 968.4 1670.2 970.4 1670.1 972.4 1669.9 974.4 1669.7 976.4 1669.5 978.5 1669.3 980.5 1669.1 982.5 1669 984.5 1668.8 986.5 1668.6 988.5 1668.4 990.5 1668.2 992.6 1668 994.6 1667.8 996.6 1667.6 998.6 1667.4" fill="none" stroke="#a33030" stroke-width="6.5" stroke-linejoin="round" stroke-linecap="round" />
<path d="M850.8 1653.7L852.8 1654.1 854.8 1654.5 856.8 1654.9 858.8 1655.3 860.8 1655.6 862.8 1656 864.8 1656.3 866.8 1656.6 868.8 1656.9 870.8 1657.2 872.8 1657.5 874.8 1657.8 876.8 1658.1 878.8 1658.4 880.8 1658.6 882.8 1658.9 884.8 1659.1 886.8 1659.3 888.8 1659.5 890.8 1659.7 892.8 1659.9 894.8 1660.1 896.8 1660.3 898.8 1660.5 900.8 1660.7 902.8 1660.9 904.8 1661.1 906.8 1661.2 908.8 1661.4 910.8 1661.6 912.8 1661.7 914.8 1661.9 916.8 1662 918.8 1662.2 920.8 1662.3 922.8 1662.4 924.8 1662.5 926.8 1662.7 928.8 1662.8 930.8 1662.9 932.8 1662.9 934.8 1663 936.8 1663.1 938.8 1663.2 940.8 1663.2 942.8 1663.3 944.8 1663.4 946.8 1663.5 948.8 1663.5 950.8 1663.6 952.8 1663.7 954.8 1663.7 956.8 1663.8 958.8 1663.8 960.8 1663.9 962.8 1663.9 964.8 1664 966.8 1664 968.8 1664 970.8 1664.1 972.8 1664.1 974.8 1664.1 976.8 1664.1 978.8 1664.1 980.8 1664.1 982.8 1664.1 984.8 1664.1 986.8 1664.1 988.8 1664.1 990.8 1664.1 992.8 1664.1 994.8 1664.1 996.8 1664.1 998.8 1664.1 1000.8 1664.1 1002.8 1664.1 1004.8 1664.1 1006.8 1664.1 1008.8 1664.1 1010.8 1664.1 1012.8 1664.1 1014.8 1664.1 1016.8 1664.1 1018.8 1664.1 1020.8 1664.1 1022.8 1664.1 1024.8 1664.1 1026.8 1664.1 1028.8 1664.1 1030.8 1664 1032.8 1664 1034.8 1664 1036.8 1663.9 1038.8 1663.9 1040.8 1663.9 1042.8 1663.9 1044.8 1663.8 1046.8 1663.8 1048.8 1663.8 1050.8 1663.8 1052.8 1663.7 1054.8 1663.7 1056.8 1663.7 1058.8 1663.7 1060.8 1663.7 1062.8 1663.7 1064.8 1663.7 1066.8 1663.7 1068.8 1663.7 1070.8 1663.7 1072.8 1663.7 1074.8 1663.7 1076.8 1663.7 1078.8 1663.8 1080.8 1663.8 1082.8 1663.8 1084.8 1663.8 1086.8 1663.8 1088.8 1663.8 1090.8 1663.9 1092.8 1663.9 1094.8 1663.9 1096.8 1663.9 1098.8 1663.9 1100.8 1664 1102.8 1664 1104.8 1664 1106.8 1664.1 1108.8 1664.1 1110.8 1664.1 1112.8 1664.1 1114.8 1664.2 1116.8 1664.2 1118.8 1664.2 1120.8 1664.3 1122.8 1664.3 1124.8 1664.3 1126.8 1664.4 1128.8 1664.4 1130.8 1664.5 1132.8 1664.5 1134.8 1664.5 1136.8 1664.6 1138.8 1664.6 1140.8 1664.7 1142.8 1664.7 1144.8 1664.7 1146.8 1664.8 1148.8 1664.8 1150.8 1664.9 1152.8 1664.9 1154.8 1665 1156.8 1665 1158.8 1665 1160.8 1665.1 1162.8 1665.1 1164.8 1665.2 1166.8 1665.2 1168.9 1665.3 1170.9 1665.3 1172.9 1665.4 1174.9 1665.4 1176.9 1665.5 1178.9 1665.5 1180.9 1665.6 1182.9 1665.6 1184.9 1665.7 1186.9 1665.8 1188.9 1665.8 1190.9 1665.9 1192.9 1666 1194.9 1666.1 1196.9 1666.2 1198.9 1666.3 1200.9 1666.4 1202.9 1666.5 1204.9 1666.6 1206.9 1666.7 1208.9 1666.8 1210.9 1666.9 1212.9 1667 1214.9 1667.1 1216.9 1667.2 1218.9 1667.4 1220.9 1667.5 1222.9 1667.6 1224.9 1667.7 1226.9 1667.9 1228.9 1668 1230.9 1668.1 1232.9 1668.3 1234.9 1668.4 1236.9 1668.6 1238.9 1668.7 1240.9 1668.8 1242.9 1669 1244.9 1669.1 1246.9 1669.3 1248.9 1669.4 1250.9 1669.6 1252.9 1669.7 1254.9 1669.8 1256.9 1670 1258.9 1670.1 1260.9 1670.3 1262.9 1670.4 1264.9 1670.6 1266.9 1670.7 1268.9 1670.8 1270.9 1671 1272.9 1671.1 1274.9 1671.3 1276.9 1671.4 1278.9 1671.5 1280.9 1671.7 1282.9 1671.8 1284.9 1671.9 1286.9 1672.1 1288.9 1672.2 1290.9 1672.3 1292.9 1672.4 1294.9 1672.6 1296.9 1672.7 1298.9 1672.8 1300.9 1672.9 1302.9 1673 1304.9 1673.1 1306.9 1673.3 1308.9 1673.4 1310.9 1673.5 1312.9 1673.6 1314.9 1673.7 1316.9 1673.8 1318.9 1674 1320.9 1674.1 1322.9 1674.2 1324.9 1674.3 1326.9 1674.4 1328.9 1674.5 1330.9 1674.7 1332.9 1674.8 1334.9 1674.9 1336.9 1675 1338.9 1675.1 1340.9 1675.2 1342.9 1675.4 1344.9 1675.5 1346.9 1675.6 1348.9 1675.7 1350.9 1675.8 1352.9 1675.9 1354.9 1676 1356.9 1676.2 1358.9 1676.3 1360.9 1676.4 1362.9 1676.5 1364.9 1676.6 1366.9 1676.7 1368.9 1676.8 1370.9 1676.9 1372.9 1677.1 1374.9 1677.2 1376.9 1677.3 1378.9 1677.4 1380.9 1677.5 1382.9 1677.6 1384.9 1677.7 1386.9 1677.8 1388.9 1677.9 1390.9 1678 1392.9 1678.1 1394.9 1678.2 1396.9 1678.4 1398.9 1678.5 1400.9 1678.6 1402.9 1678.7 1404.9 1678.8 1406.9 1678.9 1408.9 1679 1410.9 1679.1 1412.9 1679.2 1414.9 1679.3 1416.9 1679.4 1418.9 1679.5 1420.9 1679.6 1422.9 1679.7 1424.9 1679.8 1426.9 1679.9 1428.9 1680 1430.9 1680 1432.9 1680.1 1434.9 1680.2 1436.9 1680.3 1438.9 1680.4 1440.9 1680.5 1442.9 1680.6 1444.9 1680.7 1446.9 1680.8 1448.9 1680.9 1450.9 1681 1452.9 1681.1 1454.9 1681.2 1456.9 1681.3 1458.9 1681.4 1460.9 1681.5 1462.9 1681.6 1464.9 1681.7 1466.9 1681.7 1468.9 1681.8 1470.9 1681.9 1472.9 1682 1474.9 1682.1 1476.9 1682.2 1478.9 1682.3 1480.9 1682.4 1482.9 1682.5 1484.9 1682.6 1486.9 1682.6 1488.9 1682.7 1490.9 1682.8 1492.9 1682.9 1494.9 1683 1496.9 1683.1 1498.9 1683.1 1500.9 1683.2 1502.9 1683.3 1504.9 1683.4 1506.9 1683.5 1508.9 1683.6 1510.9 1683.6 1512.9 1683.7 1514.9 1683.8 1516.9 1683.9 1518.9 1683.9 1520.9 1684 1522.9 1684.1 1524.9 1684.2 1526.9 1684.2 1528.9 1684.3 1531 1684.4 1533 1684.5 1535 1684.5 1537 1684.6 1539 1684.7 1541 1684.7 1543 1684.8 1545 1684.9 1547 1684.9 1549 1685 1551 1685.1 1553 1685.1 1555 1685.2 1557 1685.3 1559 1685.3 1561 1685.4 1563 1685.5 1565 1685.5 1567 1685.6 1569 1685.7 1571 1685.7 1573 1685.8 1575 1685.9 1577 1685.9 1579 1686 1581 1686 1583 1686.1 1585 1686.2 1587 1686.2 1589 1686.3 1591 1686.3 1593 1686.4 1595 1686.5 1597 1686.5 1599 1686.6 1601 1686.6 1603 1686.7 1605 1686.8 1607 1686.8 1609 1686.9 1611 1686.9 1613 1687 1615 1687 1617 1687.1 1619 1687.1 1621 1687.2 1623 1687.2 1625 1687.3 1627 1687.4 1629 1687.4 1631 1687.5 1633 1687.5 1635 1687.6 1637 1687.6 1639 1687.7 1641 1687.7 1643 1687.7 1645 1687.8 1647 1687.8 1649 1687.9 1651 1687.9 1653 1688 1655 1688 1657 1688.1 1659 1688.1 1661 1688.2 1663 1688.2 1665 1688.2 1667 1688.3 1669 1688.3 1671 1688.4 1673 1688.4 1675 1688.5 1677 1688.5 1679 1688.5 1681 1688.6 1683 1688.6 1685 1688.6 1687 1688.7 1689 1688.7 1691 1688.8 1693 1688.8 1695 1688.8 1697 1688.9 1699 1688.9 1701 1688.9 1703 1689 1705 1689 1707 1689 1709 1689.1 1711 1689.1" fill="none" stroke="#8b0000" stroke-width="5.5" stroke-linejoin="round" stroke-linecap="round" />
<path d="M264.6 1667.9L266.6 1667.3 268.6 1666.7 270.6 1666 272.6 1665.4 274.6 1664.8 276.6 1664.2 278.6 1663.6 280.6 1663.1 282.6 1662.5 284.6 1661.9 286.6 1661.4 288.6 1660.8 290.6 1660.3 292.6 1659.7 294.6 1659.2 296.6 1658.7 298.6 1658.2 300.6 1657.7 302.6 1657.2 304.6 1656.7 306.6 1656.3 308.6 1655.8 310.6 1655.4 312.6 1654.9 314.6 1654.5 316.6 1654.1 318.6 1653.7 320.6 1653.3 322.6 1652.9 324.6 1652.5 326.6 1652.2 328.6 1651.8 330.6 1651.4 332.6 1651.1 334.6 1650.7 336.6 1650.4 338.6 1650 340.6 1649.7 342.6 1649.3 344.6 1649 346.6 1648.6 348.6 1648.2 350.6 1647.8 352.6 1647.4 354.6 1647 356.6 1646.6 358.6 1646.1 360.6 1645.6 362.6 1645.1 364.6 1644.6 366.6 1644.2 368.6 1643.7 370.6 1643.2 372.6 1642.7 374.6 1642.3 376.6 1641.9 378.6 1641.6 380.6 1641.3 382.6 1641.1 384.6 1640.8 386.6 1640.6 388.6 1640.4 390.6 1640.2 392.6 1640.1 394.6 1639.9 396.6 1639.7 398.6 1639.6 400.6 1639.4 402.6 1639.2 404.6 1639 406.6 1638.8 408.6 1638.6 410.6 1638.4 412.6 1638.1 414.6 1637.9 416.6 1637.6 418.6 1637.2 420.6 1636.9 422.6 1636.5 424.6 1636.2 426.6 1635.8 428.6 1635.4 430.6 1634.9 432.6 1634.5 434.6 1634.1 436.6 1633.6 438.6 1633.1 440.6 1632.7 442.6 1632.2 444.6 1631.7 446.7 1631.2 448.7 1630.6 450.7 1629.9 452.7 1629.3 454.7 1628.6 456.7 1627.9 458.7 1627.3 460.7 1626.7 462.7 1626.1 464.7 1625.6 466.7 1625.2 468.7 1624.9 470.7 1624.5 472.7 1624.2 474.7 1624 476.7 1623.7 478.7 1623.4 480.7 1623.2 482.7 1622.9 484.7 1622.6 486.7 1622.3 488.7 1622 490.7 1621.6 492.7 1621.3 494.7 1620.9 496.7 1620.6 498.7 1620.2 500.7 1619.8 502.7 1619.4 504.7 1618.9 506.7 1618.4 508.7 1617.9 510.7 1617.2 512.7 1616.5 514.7 1615.6 516.7 1614.6 518.7 1613.5 520.7 1612.4 522.7 1611.3 524.7 1610.1 526.7 1609 528.7 1607.8 530.7 1606.7 532.7 1605.7 534.7 1604.7 536.7 1603.7 538.7 1602.7 540.7 1601.7 542.7 1600.6 544.7 1599.4 546.7 1598.1 548.7 1596.6 550.7 1595 552.7 1593.1 554.7 1590.7 556.7 1587.7 558.7 1584.4 560.7 1580.7 562.7 1576.7 564.7 1572.7 566.7 1568.7 568.7 1564.7 570.7 1560.9 572.7 1557.4 574.7 1554 576.7 1550.7 578.7 1547.3 580.7 1544 582.7 1540.7 584.7 1537.6 586.7 1534.6 588.7 1531.7 590.7 1529.1 592.7 1526.9 594.7 1524.9 596.7 1522.9 598.7 1520.6 600.7 1517.7 602.7 1513.8 604.7 1509.2 606.7 1504.3 608.7 1499.6 610.7 1495.4 612.7 1491.4 614.7 1487.5 616.7 1483.6 618.7 1479.4 620.7 1475.2 622.7 1470.8 624.7 1466.3 626.7 1461.6 628.7 1456.6 630.7 1450.9 632.7 1444.6 634.7 1438.7 636.7 1433.9 638.7 1429.2 640.7 1424.9 642.7 1422.2 644.7 1422 646.7 1423.9 648.7 1427 650.7 1430.2 652.7 1433.1 654.7 1436.6 656.7 1439.9 658.7 1442.1 660.7 1442.5 662.7 1441.2 664.7 1438.7 666.7 1435.6 668.7 1432.4 670.7 1429 672.7 1424.3 674.7 1419.3 676.7 1415.1 678.7 1413.1 680.7 1414.2 682.7 1417.9 684.7 1423.3 686.7 1431.5 688.7 1446.8 690.7 1458.8 692.7 1468.8 694.7 1477.9 696.7 1487 698.7 1494.7 700.7 1499.1 702.7 1502.2 704.7 1504.9 706.7 1507 708.7 1508.5 710.7 1509.2 712.7 1509.1 714.7 1508.2 716.7 1506.9 718.7 1505.5 720.7 1504.2 722.7 1503.2 724.7 1502.3 726.7 1501.5 728.7 1500.9 730.7 1500.7 732.7 1502 734.7 1504.9 736.7 1508.6 738.7 1513.5 740.7 1520.5 742.7 1527.7 744.7 1534.5 746.7 1541.3 748.7 1547.8 750.7 1554.4 752.7 1561.1 754.7 1567.8 756.7 1574.1 758.7 1580 760.7 1585 762.7 1589 764.7 1592.2 766.7 1595.1 768.7 1597.6 770.7 1600 772.7 1602.2 774.7 1604.2 776.7 1606.1 778.7 1607.9 780.7 1609.7 782.7 1611.5 784.7 1613.3 786.7 1615.1 788.7 1616.9 790.7 1618.7 792.7 1620.4 794.7 1622.1 796.7 1623.7 798.7 1625.2 800.7 1626.7 802.7 1628.1 804.7 1629.4 806.7 1630.6 808.8 1631.8 810.8 1633 812.8 1634.1 814.8 1635.2 816.8 1636.2 818.8 1637.1 820.8 1638.1 822.8 1639 824.8 1639.8 826.8 1640.6 828.8 1641.3 830.8 1642 832.8 1642.7 834.8 1643.4 836.8 1644 838.8 1644.6 840.8 1645.2 842.8 1645.7 844.8 1646.2 846.8 1646.7 848.8 1647.1 850.8 1647.5 852.8 1647.9 854.8 1648.3 856.8 1648.7 858.8 1649.1 860.8 1649.4 862.8 1649.8 864.8 1650.1 866.8 1650.4 868.8 1650.7 870.8 1651 872.8 1651.3 874.8 1651.6 876.8 1651.9 878.8 1652.2 880.8 1652.4 882.8 1652.7 884.8 1652.9 886.8 1653.1 888.8 1653.3 890.8 1653.5 892.8 1653.7 894.8 1653.9 896.8 1654.1 898.8 1654.3 900.8 1654.5 902.8 1654.7 904.8 1654.9 906.8 1655 908.8 1655.2 910.8 1655.4 912.8 1655.5 914.8 1655.7 916.8 1655.8 918.8 1656 920.8 1656.1 922.8 1656.2 924.8 1656.3 926.8 1656.5 928.8 1656.6 930.8 1656.7 932.8 1656.7 934.8 1656.8 936.8 1656.9 938.8 1657 940.8 1657 942.8 1657.1 944.8 1657.2 946.8 1657.3 948.8 1657.3 950.8 1657.4 952.8 1657.5 954.8 1657.5 956.8 1657.6 958.8 1657.6 960.8 1657.7 962.8 1657.7 964.8 1657.8 966.8 1657.8 968.8 1657.8 970.8 1657.9 972.8 1657.9 974.8 1657.9 976.8 1657.9 978.8 1657.9 980.8 1657.9 982.8 1657.9 984.8 1657.9 986.8 1657.9 988.8 1657.9 990.8 1657.9 992.8 1657.9 994.8 1657.9 996.8 1657.9 998.8 1657.9 1000.8 1657.9 1002.8 1657.9 1004.8 1657.9 1006.8 1657.9 1008.8 1657.9 1010.8 1657.9 1012.8 1657.9 1014.8 1657.9 1016.8 1657.9 1018.8 1657.9 1020.8 1657.9 1022.8 1657.9 1024.8 1657.9 1026.8 1657.9 1028.8 1657.9 1030.8 1657.8 1032.8 1657.8 1034.8 1657.8 1036.8 1657.7 1038.8 1657.7 1040.8 1657.7 1042.8 1657.7 1044.8 1657.6 1046.8 1657.6 1048.8 1657.6 1050.8 1657.6 1052.8 1657.5 1054.8 1657.5 1056.8 1657.5 1058.8 1657.5 1060.8 1657.5 1062.8 1657.5 1064.8 1657.5 1066.8 1657.5 1068.8 1657.5 1070.8 1657.5 1072.8 1657.5 1074.8 1657.5 1076.8 1657.5 1078.8 1657.6 1080.8 1657.6 1082.8 1657.6 1084.8 1657.6 1086.8 1657.6 1088.8 1657.6 1090.8 1657.7 1092.8 1657.7 1094.8 1657.7 1096.8 1657.7 1098.8 1657.7 1100.8 1657.8 1102.8 1657.8 1104.8 1657.8 1106.8 1657.9 1108.8 1657.9 1110.8 1657.9 1112.8 1657.9 1114.8 1658 1116.8 1658 1118.8 1658 1120.8 1658.1 1122.8 1658.1 1124.8 1658.1 1126.8 1658.2 1128.8 1658.2 1130.8 1658.3 1132.8 1658.3 1134.8 1658.3 1136.8 1658.4 1138.8 1658.4 1140.8 1658.5 1142.8 1658.5 1144.8 1658.5 1146.8 1658.6 1148.8 1658.6 1150.8 1658.7 1152.8 1658.7 1154.8 1658.8 1156.8 1658.8 1158.8 1658.8 1160.8 1658.9 1162.8 1658.9 1164.8 1659 1166.8 1659 1168.9 1659.1 1170.9 1659.1 1172.9 1659.2 1174.9 1659.2 1176.9 1659.3 1178.9 1659.3 1180.9 1659.4 1182.9 1659.4 1184.9 1659.5 1186.9 1659.6 1188.9 1659.6 1190.9 1659.7 1192.9 1659.8 1194.9 1659.9 1196.9 1660 1198.9 1660.1 1200.9 1660.2 1202.9 1660.3 1204.9 1660.4 1206.9 1660.5 1208.9 1660.6 1210.9 1660.7 1212.9 1660.8 1214.9 1660.9 1216.9 1661 1218.9 1661.2 1220.9 1661.3 1222.9 1661.4 1224.9 1661.5 1226.9 1661.7 1228.9 1661.8 1230.9 1661.9 1232.9 1662.1 1234.9 1662.2 1236.9 1662.4 1238.9 1662.5 1240.9 1662.6 1242.9 1662.8 1244.9 1662.9 1246.9 1663.1 1248.9 1663.2 1250.9 1663.4 1252.9 1663.5 1254.9 1663.6 1256.9 1663.8 1258.9 1663.9 1260.9 1664.1 1262.9 1664.2 1264.9 1664.4 1266.9 1664.5 1268.9 1664.6 1270.9 1664.8 1272.9 1664.9 1274.9 1665.1 1276.9 1665.2 1278.9 1665.3 1280.9 1665.5 1282.9 1665.6 1284.9 1665.7 1286.9 1665.9 1288.9 1666 1290.9 1666.1 1292.9 1666.2 1294.9 1666.4 1296.9 1666.5 1298.9 1666.6 1300.9 1666.7 1302.9 1666.8 1304.9 1666.9 1306.9 1667.1 1308.9 1667.2 1310.9 1667.3 1312.9 1667.4 1314.9 1667.5 1316.9 1667.6 1318.9 1667.8 1320.9 1667.9 1322.9 1668 1324.9 1668.1 1326.9 1668.2 1328.9 1668.3 1330.9 1668.5 1332.9 1668.6 1334.9 1668.7 1336.9 1668.8 1338.9 1668.9 1340.9 1669 1342.9 1669.2 1344.9 1669.3 1346.9 1669.4 1348.9 1669.5 1350.9 1669.6 1352.9 1669.7 1354.9 1669.8 1356.9 1670 1358.9 1670.1 1360.9 1670.2 1362.9 1670.3 1364.9 1670.4 1366.9 1670.5 1368.9 1670.6 1370.9 1670.7 1372.9 1670.9 1374.9 1671 1376.9 1671.1 1378.9 1671.2 1380.9 1671.3 1382.9 1671.4 1384.9 1671.5 1386.9 1671.6 1388.9 1671.7 1390.9 1671.8 1392.9 1671.9 1394.9 1672 1396.9 1672.2 1398.9 1672.3 1400.9 1672.4 1402.9 1672.5 1404.9 1672.6 1406.9 1672.7 1408.9 1672.8 1410.9 1672.9 1412.9 1673 1414.9 1673.1 1416.9 1673.2 1418.9 1673.3 1420.9 1673.4 1422.9 1673.5 1424.9 1673.6 1426.9 1673.7 1428.9 1673.8 1430.9 1673.8 1432.9 1673.9 1434.9 1674 1436.9 1674.1 1438.9 1674.2 1440.9 1674.3 1442.9 1674.4 1444.9 1674.5 1446.9 1674.6 1448.9 1674.7 1450.9 1674.8 1452.9 1674.9 1454.9 1675 1456.9 1675.1 1458.9 1675.2 1460.9 1675.3 1462.9 1675.4 1464.9 1675.5 1466.9 1675.5 1468.9 1675.6 1470.9 1675.7 1472.9 1675.8 1474.9 1675.9 1476.9 1676 1478.9 1676.1 1480.9 1676.2 1482.9 1676.3 1484.9 1676.4 1486.9 1676.4 1488.9 1676.5 1490.9 1676.6 1492.9 1676.7 1494.9 1676.8 1496.9 1676.9 1498.9 1676.9 1500.9 1677 1502.9 1677.1 1504.9 1677.2 1506.9 1677.3 1508.9 1677.4 1510.9 1677.4 1512.9 1677.5 1514.9 1677.6 1516.9 1677.7 1518.9 1677.7 1520.9 1677.8 1522.9 1677.9 1524.9 1678 1526.9 1678 1528.9 1678.1 1531 1678.2 1533 1678.3 1535 1678.3 1537 1678.4 1539 1678.5 1541 1678.5 1543 1678.6 1545 1678.7 1547 1678.7 1549 1678.8 1551 1678.9 1553 1678.9 1555 1679 1557 1679.1 1559 1679.1 1561 1679.2 1563 1679.3 1565 1679.3 1567 1679.4 1569 1679.5 1571 1679.5 1573 1679.6 1575 1679.7 1577 1679.7 1579 1679.8 1581 1679.8 1583 1679.9 1585 1680 1587 1680 1589 1680.1 1591 1680.1 1593 1680.2 1595 1680.3 1597 1680.3 1599 1680.4 1601 1680.4 1603 1680.5 1605 1680.6 1607 1680.6 1609 1680.7 1611 1680.7 1613 1680.8 1615 1680.8 1617 1680.9 1619 1680.9 1621 1681 1623 1681 1625 1681.1 1627 1681.2 1629 1681.2 1631 1681.3 1633 1681.3 1635 1681.4 1637 1681.4 1639 1681.5 1641 1681.5 1643 1681.5 1645 1681.6 1647 1681.6 1649 1681.7 1651 1681.7 1653 1681.8 1655 1681.8 1657 1681.9 1659 1681.9 1661 1682 1663 1682 1665 1682 1667 1682.1 1669 1682.1 1671 1682.2 1673 1682.2 1675 1682.3 1677 1682.3 1679 1682.3 1681 1682.4 1683 1682.4 1685 1682.4 1687 1682.5 1689 1682.5 1691 1682.6 1693 1682.6 1695 1682.6 1697 1682.7 1699 1682.7 1701 1682.7 1703 1682.8 1705 1682.8 1707 1682.8 1709 1682.9 1711 1682.9" fill="none" stroke="#888888" stroke-width="7.8" stroke-linejoin="round" stroke-linecap="round" stroke-linecap="butt" stroke-opacity="0.8"/>
<g fill="none" stroke="#FF0000" stroke-width="16" stroke-linejoin="round" stroke-linecap="butt"><path d="M310.6 1979.3L312.6 1978.9 314.6 1979.8 316.6 1977.5 318.6 1978.8 320.6 1976 322.6 1976.7 324.6 1977.3 326.6 1976.7 328.6 1974.8 330.6 1974.3 332.6 1975.8 334.6 1973.5 336.6 1974.8 338.6 1973.4 340.6 1973.5 342.6 1975.3 344.6 1974.2 346.6 1973.2 348.6 1970.8 350.6 1972 352.6 1971.3 354.6 1970.8 356.6 1971.7 358.6 1968.5 360.6 1969.8 362.6 1969.2 364.6 1967.9 366.6 1969.6 368.6 1966.4 370.6 1967 372.6 1966.6 374.6 1964 376.6 1964.3 378.6 1964.3 380.6 1965.5 382.6 1965.3 384.6 1964.7 386.6 1964.1 388.6 1961.6 390.6 1963.6 392.6 1962.7 394.6 1964 396.6 1964 398.6 1964.6 400.6 1963 402.6 1962.8 404.6 1960.9 406.6 1961.7 408.6 1960.2 410.6 1961.8 412.6 1959.6 414.6 1960.1 416.6 1959.2 418.6 1959.1 420.6 1959.5 422.6 1958.1 424.6 1958.3 426.6 1956.6 428.6 1958.3 430.6 1955.9 432.6 1956.8 434.6 1957.2 436.6 1952.4 438.6 1953.2 440.6 1953.3 442.6 1953.9 444.6 1951.8 446.7 1952 448.7 1950.3 450.7 1950.7 452.7 1948.2 454.7 1949.2 456.7 1944.8 458.7 1944.9 460.7 1947.5 462.7 1945.2 464.7 1943.7 466.7 1946.2 468.7 1944.9 470.7 1944.8 472.7 1943.2 474.7 1944 476.7 1943.8 478.7 1941.7 480.7 1943.7 482.7 1942.8 484.7 1944 486.7 1943.8 488.7 1941.8 490.7 1941.5 492.7 1941.9 494.7 1941.9 496.7 1940.5 498.7 1940.3 500.7 1940.5 502.7 1939.7 504.7 1939.8 506.7 1938.4 508.7 1936.8 510.7 1935.3 512.7 1936.9 514.7 1935 516.7 1934 518.7 1933 520.7 1930.6 522.7 1930.4 524.7 1927.1 526.7 1927.9 528.7 1926.1 530.7 1927.4 532.7 1924.9 534.7 1923.2 536.7 1922.5 538.7 1922 540.7 1919.6 542.7 1919 544.7 1917.8 546.7 1919.3 548.7 1915.8 550.7 1912.6 552.7 1913.7 554.7 1913.3 556.7 1907.3 558.7 1908 560.7 1901.1 562.7 1898.1 564.7 1892.6 566.7 1888.8 568.7 1883.9 570.7 1880.3 572.7 1875.9 574.7 1875.9 576.7 1870.9 578.7 1869.5 580.7 1866.8 582.7 1863.2 584.7 1861.1 586.7 1858.5 588.7 1855.8 590.7 1854.2 592.7 1852.2 594.7 1849.2 596.7 1846.7 598.7 1844.5 600.7 1842.4 602.7 1839.2 604.7 1834 606.7 1827.1 608.7 1822 610.7 1816 612.7 1811.8 614.7 1805.9 616.7 1801.1 618.7 1795.5 620.7 1790.9 622.7 1788.3 624.7 1781 626.7 1777.2 628.7 1770.8 630.7 1764 632.7 1755.2 634.7 1745.3 636.7 1735.8 638.7 1732.9 640.7 1729.2 642.7 1725.2 644.7 1726.5 646.7 1730.4 648.7 1732.9 650.7 1740.8 652.7 1745.3 654.7 1750.9 656.7 1756.1 658.7 1761.6 660.7 1761.8 662.7 1763.7 664.7 1756.6 666.7 1750.5 668.7 1741 670.7 1731.3 672.7 1725.9 674.7 1715.3 676.7 1707 678.7 1701.7 680.7 1702.4 682.7 1710.1 684.7 1715.6 686.7 1729.6 688.7 1753.1 690.7 1768.3 692.7 1779.7 694.7 1790.1 696.7 1801.7 698.7 1807.9 700.7 1813 702.7 1818 704.7 1820 706.7 1823.2 708.7 1820 710.7 1823.5 712.7 1817.3 714.7 1813.3 716.7 1808 718.7 1804.8 720.7 1801 722.7 1796.4 724.7 1792.3 726.7 1788.2 728.7 1783.7 730.7 1783.8 732.7 1789.3 734.7 1796.4 736.7 1807.6 738.7 1819.9 740.7 1830.3 742.7 1838.5 744.7 1846.4 746.7 1856.6 748.7 1868.6 750.7 1879.4 752.7 1889.6 754.7 1894.7 756.7 1897.2 758.7 1902.3 760.7 1906.6 762.7 1910.9 764.7 1912 766.7 1915.7 768.7 1919.5 770.7 1919.6 772.7 1923.2 774.7 1926.4 776.7 1928.1 778.7 1932.9 780.7 1933.8 782.7 1935 784.7 1935.5 786.7 1938.8 788.7 1940.1 790.7 1940.4 792.7 1941.9 794.7 1942.2 796.7 1944.7 798.7 1946.8 800.7 1948.1 802.7 1948.9 804.7 1950.3 806.7 1950.2 808.8 1951.5 810.8 1954.2 812.8 1954.6 814.8 1954.5 816.8 1956.7 818.8 1958 820.8 1958.8 822.8 1959.2 824.8 1959.4 826.8 1961 828.8 1962.9 830.8 1962.1 832.8 1962.1 834.8 1963.7 836.8 1962.8 838.8 1964.8 840.8 1964.8 842.8 1966.5 844.8 1966.2 846.8 1967.6 848.8 1969.1 850.8 1967.2 852.8 1967 854.8 1968.6 856.8 1968.5 858.8 1969.1 860.8 1968.7 862.8 1970.2 864.8 1970 866.8 1968.3 868.8 1970.4 870.8 1971.2 872.8 1972.3 874.8 1971 876.8 1971.1 878.8 1973.2 880.8 1971.8 882.8 1972.7 884.8 1973.3 886.8 1973.8 888.8 1973.3 890.8 1972.5 892.8 1974.7 894.8 1973.6 896.8 1973.7 898.8 1976.3 900.8 1975.5 902.8 1973.9 904.8 1974.6 906.8 1975.1 908.8 1974.8 910.8 1974 912.8 1976.7 914.8 1976.9 916.8 1976.5 918.8 1976.1 920.8 1976.8 922.8 1977.4 924.8 1975.9 926.8 1976.7 928.8 1976.6 930.8 1977.8 932.8 1977.4 934.8 1976 936.8 1976.6 938.8 1978.9 940.8 1976.3 942.8 1977.4 944.8 1976.7 946.8 1978.5 948.8 1977.2 950.8 1976.9 952.8 1976.2 954.8 1977.1 956.8 1978.2 958.8 1978 960.8 1976.2 962.8 1978.9 964.8 1977.2 966.8 1976.5 968.8 1977.6 970.8 1976.9 972.8 1977 974.8 1977 976.8 1977.5 978.8 1977.2 980.8 1976 982.8 1978.1 984.8 1977.1 986.8 1978.7 988.8 1978 990.8 1978.1 992.8 1977.6 994.8 1978.6 996.8 1977 998.8 1976.4 1000.8 1977.6 1002.8 1974.6 1004.8 1976.7 1006.8 1977.2 1008.8 1976.6 1010.8 1978.1 1012.8 1977.5 1014.8 1976.9 1016.8 1976.4 1018.8 1977.8 1020.8 1976.2 1022.8 1976.4 1024.8 1977.5 1026.8 1977.4 1028.8 1978.7 1030.8 1976.6 1032.8 1975.1 1034.8 1977.5 1036.8 1978.1 1038.8 1976.7 1040.8 1978.4 1042.8 1978.6 1044.8 1976.3 1046.8 1976.5 1048.8 1975.8 1050.8 1977.5 1052.8 1977.7 1054.8 1977.6 1056.8 1975.9 1058.8 1976.3 1060.8 1975.7 1062.8 1975.6 1064.8 1975.8 1066.8 1975.6 1068.8 1976.9 1070.8 1977.5 1072.8 1977.7 1074.8 1977.1 1076.8 1976.5 1078.8 1977.2 1080.8 1977.7 1082.8 1976.9 1084.8 1977.3 1086.8 1977 1088.8 1976.8 1090.8 1977.3 1092.8 1976.2 1094.8 1978.3 1096.8 1975.9 1098.8 1977.8 1100.8 1976.1 1102.8 1978.8 1104.8 1978.2 1106.8 1976.6 1108.8 1977 1110.8 1976.4 1112.8 1977.4 1114.8 1977.9 1116.8 1979.9 1118.8 1976.2 1120.8 1978.7 1122.8 1977 1124.8 1977.8 1126.8 1978.4 1128.8 1978.1 1130.8 1978 1132.8 1977.5 1134.8 1977.7 1136.8 1977.9 1138.8 1978.8 1140.8 1976.4 1142.8 1977.3 1144.8 1976.7 1146.8 1976.9 1148.8 1977.1 1150.8 1978.9 1152.8 1979.9 1154.8 1979.2 1156.8 1976.9 1158.8 1978.1 1160.8 1977 1162.8 1978.5 1164.8 1979.3 1166.8 1978.7 1168.9 1979 1170.9 1978.1 1172.9 1976.4 1174.9 1976.4 1176.9 1978.2 1178.9 1978.9 1180.9 1979.5 1182.9 1978.1 1184.9 1978.6 1186.9 1978.8 1188.9 1979.6 1190.9 1978.6 1192.9 1977.8 1194.9 1979.9 1196.9 1979.4 1198.9 1979.4 1200.9 1978 1202.9 1979.3 1204.9 1977.9 1206.9 1977.7 1208.9 1979.5 1210.9 1979.4 1212.9 1980.5 1214.9 1981.5 1216.9 1980.2 1218.9 1982.1 1220.9 1980 1222.9 1981.4 1224.9 1979.7 1226.9 1981.2 1228.9 1980.9 1230.9 1981.2 1232.9 1982.1 1234.9 1980 1236.9 1982 1238.9 1981.4 1240.9 1982.4 1242.9 1982.8 1244.9 1982.3 1246.9 1982.5 1248.9 1982 1250.9 1983.7 1252.9 1982.8 1254.9 1984 1256.9 1982.4 1258.9 1985.2 1260.9 1983.2 1262.9 1985.4 1264.9 1984.1 1266.9 1985.2 1268.9 1984.7 1270.9 1985.7 1272.9 1985.2 1274.9 1986.6 1276.9 1986.2 1278.9 1986.4 1280.9 1987.4 1282.9 1985.4 1284.9 1987.4 1286.9 1986.4 1288.9 1985.2 1290.9 1987.1 1292.9 1986.6 1294.9 1988.5 1296.9 1986.7 1298.9 1987.3 1300.9 1987.6 1302.9 1985.8 1304.9 1988.2 1306.9 1986.9 1308.9 1989.3 1310.9 1989.7 1312.9 1988.3 1314.9 1986.9 1316.9 1988.7 1318.9 1988.9 1320.9 1989.5 1322.9 1988.7 1324.9 1988 1326.9 1989.1 1328.9 1988.6 1330.9 1991.2 1332.9 1989.1 1334.9 1989.3 1336.9 1990 1338.9 1989 1340.9 1989.9 1342.9 1990.3 1344.9 1990.1 1346.9 1990.5 1348.9 1992 1350.9 1991.4 1352.9 1989.9 1354.9 1990.9 1356.9 1992.1 1358.9 1991 1360.9 1991.8 1362.9 1991.8 1364.9 1992.5 1366.9 1992 1368.9 1992.1 1370.9 1991.6 1372.9 1992.9 1374.9 1991.8 1376.9 1994.4 1378.9 1992.9 1380.9 1992.9 1382.9 1993.9 1384.9 1993.2 1386.9 1993.5 1388.9 1993.5 1390.9 1993 1392.9 1993 1394.9 1993.3 1396.9 1995.1 1398.9 1993.6 1400.9 1993.9 1402.9 1994 1404.9 1995.2 1406.9 1996.5 1408.9 1993.9 1410.9 1995.4 1412.9 1995.1 1414.9 1994.8 1416.9 1995.7 1418.9 1994.1 1420.9 1996.2 1422.9 1995.7 1424.9 1994.7 1426.9 1997.2 1428.9 1996.6 1430.9 1997 1432.9 1994.7 1434.9 1995.9 1436.9 1995.7 1438.9 1996.9 1440.9 1997.7 1442.9 1994.8 1444.9 1996.6 1446.9 1996.6 1448.9 1997.7 1450.9 1996.9 1452.9 1995.8 1454.9 1996.9 1456.9 1996.2 1458.9 1996.6 1460.9 1997.4 1462.9 1997 1464.9 1997.8 1466.9 1996.2 1468.9 1999.9 1470.9 1999 1472.9 1998.6 1474.9 1996.8 1476.9 1996.1 1478.9 1997.4 1480.9 1998 1482.9 2000.4 1484.9 1999.6 1486.9 1998 1488.9 1999.7 1490.9 1999.8 1492.9 1998.8 1494.9 2000 1496.9 1999.2 1498.9 1998.4 1500.9 1998 1502.9 1999 1504.9 2000.1 1506.9 1998.1 1508.9 1997.9 1510.9 2000 1512.9 1997 1514.9 2001.3 1516.9 1999.3 1518.9 2000.4 1520.9 2001.5 1522.9 1998.6 1524.9 1999 1526.9 2002.1 1528.9 1999.8 1531 2000.1 1533 2000.4 1535 2001.3 1537 2001.6 1539 2000.5 1541 2000.2 1543 2000.5 1545 2000.9 1547 2001.9 1549 2000.9 1551 2002.5 1553 2000.1 1555 2001.4 1557 2002.6 1559 2002.2 1561 2001.4 1563 2000.3 1565 2000.5 1567 2001.1 1569 2001.6 1571 2001.1 1573 2000.1 1575 2000.8 1577 2002 1579 2002.3 1581 2000.3 1583 2001.3 1585 2000.2 1587 2001.3 1589 2005.1 1591 2001.9 1593 2001.6 1595 2001.4 1597 2000.9 1599 2000.4 1601 2002.1 1603 2001.9 1605 2003.6 1607 2000.8 1609 2002.7 1611 2003.6 1613 2000.6 1615 2003.1 1617 2001.1 1619 2003.1 1621 2004 1623 2002.7 1625 2003 1627 2002.1 1629 2003.1 1631 2003.9 1633 2002.8 1635 2002.9 1637 2003.4 1639 2003.8 1641 2001.6 1643 2003.3 1645 2002.6 1647 2003.8 1649 2004.3 1651 2003.7 1653 2004.7 1655 2002.6 1657 2003.2 1659 2002.7 1661 2003.7 1663 2003.8 1665 2003.6 1667 2002.7 1669 2003.8 1671 2003.5 1673 2004.6 1675 2003.8 1677 2005.2 1679 2004.4 1681 2002.5 1683 2004.1 1685 2003 1687 2005.3 1689 2005.8 1691 2004.5 1693 2005"/><path d="M310.6 1985L312.6 1983.8 314.6 1984.9 316.6 1984.7 318.6 1983.1 320.6 1984.2 322.6 1984 324.6 1983.9 326.6 1984.4 328.6 1983.4 330.6 1981.9 332.6 1982 334.6 1982.1 336.6 1980.2 338.6 1982 340.6 1981.3 342.6 1979.9 344.6 1979.1 346.6 1982.8 348.6 1979.7 350.6 1979.4 352.6 1979.8 354.6 1978.6 356.6 1977.4 358.6 1977.4 360.6 1975.4 362.6 1976.4 364.6 1973.8 366.6 1975.1 368.6 1974.7 370.6 1972.3 372.6 1975 374.6 1971.7 376.6 1973.4 378.6 1971.6 380.6 1972 382.6 1970.8 384.6 1973.5 386.6 1971.9 388.6 1972.3 390.6 1971.2 392.6 1970.9 394.6 1970.2 396.6 1969.6 398.6 1970.1 400.6 1969.5 402.6 1969 404.6 1967.6 406.6 1968.3 408.6 1968.9 410.6 1967.5 412.6 1967.9 414.6 1967.1 416.6 1965.8 418.6 1965.5 420.6 1965.1 422.6 1965 424.6 1964.5 426.6 1965.2 428.6 1962.6 430.6 1961.1 432.6 1963.1 434.6 1961.4 436.6 1961.1 438.6 1963 440.6 1961.4 442.6 1959.9 444.6 1959.6 446.7 1958.1 448.7 1958 450.7 1955.7 452.7 1954.7 454.7 1954 456.7 1955.1 458.7 1954.3 460.7 1951.7 462.7 1952.8 464.7 1951.3 466.7 1952.2 468.7 1950.7 470.7 1951.7 472.7 1950.6 474.7 1950.3 476.7 1950.5 478.7 1950.5 480.7 1949.7 482.7 1948.8 484.7 1951.5 486.7 1949.3 488.7 1947.7 490.7 1946.9 492.7 1946 494.7 1947.6 496.7 1948.9 498.7 1945.6 500.7 1946.2 502.7 1944.2 504.7 1946.3 506.7 1945 508.7 1944.3 510.7 1944.3 512.7 1943.6 514.7 1941.9 516.7 1939.2 518.7 1937.3 520.7 1936.2 522.7 1934.3 524.7 1936.3 526.7 1933.2 528.7 1932.3 530.7 1931.2 532.7 1931.9 534.7 1928.5 536.7 1929.1 538.7 1927.2 540.7 1925.7 542.7 1922.9 544.7 1924.2 546.7 1921.2 548.7 1919.9 550.7 1918.8 552.7 1916.4 554.7 1914.4 556.7 1909.5 558.7 1906.6 560.7 1902.9 562.7 1898.6 564.7 1895.1 566.7 1890.2 568.7 1887.8 570.7 1882.4 572.7 1878.7 574.7 1877.1 576.7 1875.5 578.7 1871.2 580.7 1868.5 582.7 1866.1 584.7 1864 586.7 1861.5 588.7 1860 590.7 1856.1 592.7 1856.9 594.7 1853.7 596.7 1849.7 598.7 1848.7 600.7 1844.1 602.7 1840.3 604.7 1832.3 606.7 1829.1 608.7 1822 610.7 1814.9 612.7 1812.4 614.7 1806.4 616.7 1800.8 618.7 1796.6 620.7 1790.3 622.7 1788.3 624.7 1783 626.7 1777.8 628.7 1773.2 630.7 1763.4 632.7 1753.2 634.7 1745.1 636.7 1739 638.7 1734.8 640.7 1732.8 642.7 1732.5 644.7 1733.9 646.7 1732.8 648.7 1736.2 650.7 1743.1 652.7 1744.7 654.7 1751.5 656.7 1756.1 658.7 1763.3 660.7 1769.7 662.7 1765.7 664.7 1756.8 666.7 1750.3 668.7 1741.8 670.7 1733.6 672.7 1727 674.7 1715.5 676.7 1707.5 678.7 1706.9 680.7 1704.5 682.7 1712 684.7 1719.1 686.7 1730.3 688.7 1752.5 690.7 1767.7 692.7 1782 694.7 1790.7 696.7 1800 698.7 1806.8 700.7 1813.5 702.7 1817.2 704.7 1822.8 706.7 1827.1 708.7 1828.1 710.7 1823.6 712.7 1821.1 714.7 1814.6 716.7 1809.9 718.7 1806.4 720.7 1800.5 722.7 1796.5 724.7 1795.6 726.7 1789.9 728.7 1788.5 730.7 1788 732.7 1791.6 734.7 1797.8 736.7 1807.5 738.7 1820.3 740.7 1830.7 742.7 1839.2 744.7 1845.3 746.7 1856.4 748.7 1871 750.7 1881.1 752.7 1890.2 754.7 1895.1 756.7 1898.4 758.7 1904.5 760.7 1907 762.7 1911.6 764.7 1915.8 766.7 1919.7 768.7 1920.7 770.7 1924.3 772.7 1926.8 774.7 1929.9 776.7 1929.4 778.7 1933.8 780.7 1936.7 782.7 1939 784.7 1939.8 786.7 1943.1 788.7 1945 790.7 1945.7 792.7 1946.9 794.7 1948.2 796.7 1950 798.7 1952.3 800.7 1953.9 802.7 1953.3 804.7 1954 806.7 1955.4 808.8 1958.2 810.8 1958.7 812.8 1959.9 814.8 1961.2 816.8 1962.3 818.8 1962.9 820.8 1963.1 822.8 1964.5 824.8 1966.1 826.8 1967.2 828.8 1967.3 830.8 1968 832.8 1970.4 834.8 1969.4 836.8 1970.7 838.8 1970.9 840.8 1971 842.8 1971 844.8 1972.4 846.8 1972.7 848.8 1974.7 850.8 1973.3 852.8 1974.3 854.8 1975.7 856.8 1975.4 858.8 1976.4 860.8 1977 862.8 1975.1 864.8 1976.6 866.8 1976.4 868.8 1978.9 870.8 1977.9 872.8 1978.8 874.8 1980.2 876.8 1978.6 878.8 1979.2 880.8 1979.8 882.8 1979.5 884.8 1981.1 886.8 1980.9 888.8 1981.4 890.8 1980.7 892.8 1980.6 894.8 1980.8 896.8 1981 898.8 1980 900.8 1982.1 902.8 1982.7 904.8 1982.2 906.8 1982 908.8 1982.7 910.8 1983.1 912.8 1983.4 914.8 1984.9 916.8 1982.7 918.8 1984 920.8 1984.4 922.8 1984 924.8 1983.9 926.8 1983.3 928.8 1983.7 930.8 1985 932.8 1985.7 934.8 1983.8 936.8 1984.9 938.8 1984.9 940.8 1985.4 942.8 1984.7 944.8 1984.9 946.8 1985.3 948.8 1983.5 950.8 1984.6 952.8 1983 954.8 1982.8 956.8 1983.9 958.8 1983.2 960.8 1985.1 962.8 1985.6 964.8 1984.4 966.8 1984.6 968.8 1984.5 970.8 1984.5 972.8 1984.9 974.8 1985.1 976.8 1984.4 978.8 1984.1 980.8 1984.4 982.8 1985.6 984.8 1984.4 986.8 1986.1 988.8 1984.5 990.8 1986 992.8 1983.6 994.8 1984 996.8 1985 998.8 1985 1000.8 1984.3 1002.8 1986.2 1004.8 1984.4 1006.8 1984.5 1008.8 1983.7 1010.8 1985.6 1012.8 1984.9 1014.8 1984.4 1016.8 1982.5 1018.8 1984.4 1020.8 1983.6 1022.8 1984.4 1024.8 1984.9 1026.8 1983.4 1028.8 1984.3 1030.8 1984.9 1032.8 1984.2 1034.8 1983.8 1036.8 1983.1 1038.8 1983.5 1040.8 1983 1042.8 1985 1044.8 1984.3 1046.8 1983.1 1048.8 1984.2 1050.8 1983 1052.8 1981.2 1054.8 1985.3 1056.8 1985.3 1058.8 1982.9 1060.8 1983.6 1062.8 1984.5 1064.8 1984 1066.8 1983.5 1068.8 1983.9 1070.8 1984.1 1072.8 1983.9 1074.8 1984.6 1076.8 1984.2 1078.8 1983.7 1080.8 1984.4 1082.8 1982.9 1084.8 1985.8 1086.8 1982.9 1088.8 1984.4 1090.8 1984.8 1092.8 1984.9 1094.8 1984.8 1096.8 1985.7 1098.8 1983.5 1100.8 1984.5 1102.8 1984.7 1104.8 1984.2 1106.8 1984.1 1108.8 1985.8 1110.8 1984 1112.8 1984.2 1114.8 1984.4 1116.8 1984.5 1118.8 1984.9 1120.8 1984.6 1122.8 1985.1 1124.8 1984.9 1126.8 1985.3 1128.8 1986.1 1130.8 1984.1 1132.8 1986.4 1134.8 1984.5 1136.8 1985.5 1138.8 1985.1 1140.8 1984.7 1142.8 1983.2 1144.8 1986.5 1146.8 1984.4 1148.8 1984.4 1150.8 1986.1 1152.8 1985.2 1154.8 1986.9 1156.8 1986.7 1158.8 1985.9 1160.8 1985.5 1162.8 1986 1164.8 1984.1 1166.8 1985.5 1168.9 1985.5 1170.9 1985 1172.9 1985.7 1174.9 1984.2 1176.9 1986.3 1178.9 1986.7 1180.9 1984.4 1182.9 1985.8 1184.9 1987.1 1186.9 1986.1 1188.9 1984.9 1190.9 1985 1192.9 1986.8 1194.9 1987.7 1196.9 1985.2 1198.9 1986.3 1200.9 1985.7 1202.9 1986.3 1204.9 1986.9 1206.9 1986.7 1208.9 1986.3 1210.9 1988.9 1212.9 1987 1214.9 1987.1 1216.9 1988.4 1218.9 1987.6 1220.9 1987.6 1222.9 1988.8 1224.9 1987.1 1226.9 1988.9 1228.9 1989.3 1230.9 1989.2 1232.9 1988.6 1234.9 1988.9 1236.9 1987.6 1238.9 1989.2 1240.9 1989.7 1242.9 1990.4 1244.9 1989.9 1246.9 1989.6 1248.9 1989.4 1250.9 1990.3 1252.9 1990.7 1254.9 1991.8 1256.9 1990.9 1258.9 1990.7 1260.9 1991.2 1262.9 1991 1264.9 1991.4 1266.9 1989.9 1268.9 1990.6 1270.9 1991.1 1272.9 1992.8 1274.9 1992.5 1276.9 1992.9 1278.9 1993.9 1280.9 1992.1 1282.9 1994.2 1284.9 1993.7 1286.9 1992.9 1288.9 1995 1290.9 1992.6 1292.9 1993 1294.9 1994 1296.9 1994.7 1298.9 1994.3 1300.9 1992.7 1302.9 1994.5 1304.9 1994.8 1306.9 1997.3 1308.9 1996.4 1310.9 1995.4 1312.9 1994.5 1314.9 1995.9 1316.9 1994.7 1318.9 1996.1 1320.9 1996.3 1322.9 1995.8 1324.9 1996.5 1326.9 1996.2 1328.9 1996.1 1330.9 1998.1 1332.9 1997.4 1334.9 1996.8 1336.9 1996.5 1338.9 1997.5 1340.9 1998 1342.9 1998.4 1344.9 1999.1 1346.9 1998.3 1348.9 1997.1 1350.9 2000 1352.9 1999.4 1354.9 1999.2 1356.9 1999.8 1358.9 1997.4 1360.9 1998.6 1362.9 1998.6 1364.9 2000.2 1366.9 1998.3 1368.9 1999.2 1370.9 2000.9 1372.9 2000.3 1374.9 1999.5 1376.9 2001.7 1378.9 1998.9 1380.9 2000.7 1382.9 2000.2 1384.9 2001 1386.9 2000.4 1388.9 2000 1390.9 2001.1 1392.9 1999.8 1394.9 2001.6 1396.9 2001 1398.9 2002.2 1400.9 2001.1 1402.9 2001 1404.9 2002.1 1406.9 2002.9 1408.9 2000.1 1410.9 2002.2 1412.9 2002.7 1414.9 2001 1416.9 2001.6 1418.9 2003.1 1420.9 2001.9 1422.9 2002.1 1424.9 2004.3 1426.9 2002.1 1428.9 2002.2 1430.9 2001 1432.9 2002.2 1434.9 2002.2 1436.9 2004.9 1438.9 2004.6 1440.9 2002.5 1442.9 2005.4 1444.9 2004.5 1446.9 2003.7 1448.9 2004.7 1450.9 2004.4 1452.9 2003.5 1454.9 2002.7 1456.9 2003.6 1458.9 2004.5 1460.9 2004.2 1462.9 2004 1464.9 2005.6 1466.9 2003.9 1468.9 2005.7 1470.9 2004.6 1472.9 2005.2 1474.9 2004.2 1476.9 2005.3 1478.9 2004.7 1480.9 2003.9 1482.9 2005.5 1484.9 2005.6 1486.9 2006.4 1488.9 2006 1490.9 2005 1492.9 2005.4 1494.9 2003.8 1496.9 2005.1 1498.9 2007.3 1500.9 2007.6 1502.9 2007 1504.9 2006.7 1506.9 2007 1508.9 2007 1510.9 2005.1 1512.9 2006 1514.9 2007.9 1516.9 2007.9 1518.9 2007.2 1520.9 2006.7 1522.9 2006.7 1524.9 2006.7 1526.9 2006.4 1528.9 2005.6 1531 2007.5 1533 2007 1535 2007.3 1537 2009.1 1539 2008.2 1541 2007.1 1543 2008.3 1545 2006.5 1547 2008.8 1549 2008.2 1551 2007.8 1553 2008.6 1555 2009.4 1557 2007.8 1559 2007.4 1561 2010.2 1563 2008.4 1565 2009.7 1567 2007.9 1569 2008.8 1571 2008 1573 2009.2 1575 2008.4 1577 2008.1 1579 2010.2 1581 2009.1 1583 2007.1 1585 2008.7 1587 2008.2 1589 2007.9 1591 2008.6 1593 2008.7 1595 2009.2 1597 2008.5 1599 2007.6 1601 2008.9 1603 2010.2 1605 2008.2 1607 2010 1609 2009.9 1611 2009.2 1613 2009.9 1615 2009 1617 2009.4 1619 2008.9 1621 2010.2 1623 2011.1 1625 2009.3 1627 2011.1 1629 2008.1 1631 2009.3 1633 2009.2 1635 2011.7 1637 2009.7 1639 2011 1641 2008.5 1643 2010.5 1645 2011 1647 2010.5 1649 2008.1 1651 2010.8 1653 2011.4 1655 2011.9 1657 2011.1 1659 2009.3 1661 2010.7 1663 2011.7 1665 2010.2 1667 2011.5 1669 2010.7 1671 2011.2 1673 2011.9 1675 2010.6 1677 2013.9 1679 2011.5 1681 2011.7 1683 2010.8 1685 2011.6 1687 2011.3 1689 2010.3 1691 2010.3 1693 2012"/><path d="M310.6 1983L312.6 1982.5 314.6 1982 316.6 1981.5 318.6 1981.1 320.6 1980.7 322.6 1980.3 324.6 1979.9 326.6 1979.5 328.6 1979.1 330.6 1978.8 332.6 1978.4 334.6 1978.1 336.6 1977.7 338.6 1977.3 340.6 1977 342.6 1976.6 344.6 1976.2 346.6 1975.8 348.6 1975.5 350.6 1975.1 352.6 1974.7 354.6 1974.3 356.6 1973.8 358.6 1973.3 360.6 1972.9 362.6 1972.4 364.6 1971.8 366.6 1971.3 368.6 1970.8 370.6 1970.3 372.6 1969.8 374.6 1969.4 376.6 1968.9 378.6 1968.6 380.6 1968.2 382.6 1967.9 384.6 1967.6 386.6 1967.4 388.6 1967.1 390.6 1966.9 392.6 1966.7 394.6 1966.4 396.6 1966.2 398.6 1966 400.6 1965.8 402.6 1965.6 404.6 1965.3 406.6 1965.1 408.6 1964.8 410.6 1964.5 412.6 1964.1 414.6 1963.7 416.6 1963.3 418.6 1962.9 420.6 1962.4 422.6 1961.9 424.6 1961.4 426.6 1960.8 428.6 1960.3 430.6 1959.7 432.6 1959.1 434.6 1958.5 436.6 1957.9 438.6 1957.3 440.6 1956.7 442.6 1956.1 444.6 1955.5 446.7 1954.8 448.7 1954 450.7 1953.2 452.7 1952.3 454.7 1951.4 456.7 1950.5 458.7 1949.7 460.7 1949 462.7 1948.4 464.7 1947.9 466.7 1947.6 468.7 1947.4 470.7 1947.3 472.7 1947.1 474.7 1947 476.7 1946.9 478.7 1946.8 480.7 1946.6 482.7 1946.5 484.7 1946.3 486.7 1946.1 488.7 1945.8 490.7 1945.5 492.7 1945.1 494.7 1944.7 496.7 1944.2 498.7 1943.7 500.7 1943.2 502.7 1942.6 504.7 1942 506.7 1941.4 508.7 1940.7 510.7 1940 512.7 1939.1 514.7 1938.1 516.7 1937 518.7 1935.8 520.7 1934.6 522.7 1933.3 524.7 1932 526.7 1930.7 528.7 1929.5 530.7 1928.3 532.7 1927.2 534.7 1926.1 536.7 1925.1 538.7 1924.1 540.7 1923 542.7 1921.9 544.7 1920.7 546.7 1919.4 548.7 1918 550.7 1916.4 552.7 1914.6 554.7 1912.1 556.7 1909.1 558.7 1905.6 560.7 1901.8 562.7 1897.8 564.7 1893.8 566.7 1889.7 568.7 1885.8 570.7 1882.2 572.7 1878.9 574.7 1875.9 576.7 1873.1 578.7 1870.4 580.7 1867.7 582.7 1865.1 584.7 1862.4 586.7 1860.1 588.7 1857.9 590.7 1855.9 592.7 1853.8 594.7 1851.6 596.7 1849.1 598.7 1846.3 600.7 1842.9 602.7 1838.4 604.7 1833 606.7 1827.1 608.7 1821.5 610.7 1816.3 612.7 1811.2 614.7 1806.2 616.7 1801.2 618.7 1796.2 620.7 1791.5 622.7 1787.1 624.7 1782.6 626.7 1777.6 628.7 1771.6 630.7 1763.2 632.7 1753.6 634.7 1745.7 636.7 1738.7 638.7 1733 640.7 1730.9 642.7 1730.1 644.7 1729.9 646.7 1731.5 648.7 1735.6 650.7 1740.7 652.7 1745.3 654.7 1750.9 656.7 1757.4 658.7 1762.9 660.7 1765.7 662.7 1763.9 664.7 1757.7 666.7 1749.3 668.7 1740.8 670.7 1733.5 672.7 1724.5 674.7 1715.3 676.7 1707.9 678.7 1704 680.7 1705.1 682.7 1710.2 684.7 1718 686.7 1730.6 688.7 1751.8 690.7 1767.1 692.7 1780.1 694.7 1791.1 696.7 1801 698.7 1808.3 700.7 1813.2 702.7 1818 704.7 1821.9 706.7 1824.5 708.7 1825.2 710.7 1823.3 712.7 1819.3 714.7 1814.3 716.7 1809.1 718.7 1804.8 720.7 1801 722.7 1796.7 724.7 1792.5 726.7 1788.9 728.7 1786.6 730.7 1786.9 732.7 1791.7 734.7 1798.7 736.7 1807.7 738.7 1820.2 740.7 1830.6 742.7 1838.5 744.7 1846.7 746.7 1857.6 748.7 1870.1 750.7 1881.3 752.7 1888.8 754.7 1894.3 756.7 1899.1 758.7 1903.3 760.7 1907 762.7 1910.4 764.7 1913.5 766.7 1916.6 768.7 1919.6 770.7 1922.4 772.7 1925.2 774.7 1927.8 776.7 1930.2 778.7 1932.5 780.7 1934.7 782.7 1936.6 784.7 1938.4 786.7 1940.1 788.7 1941.7 790.7 1943.2 792.7 1944.7 794.7 1946 796.7 1947.3 798.7 1948.6 800.7 1949.8 802.7 1951 804.7 1952.2 806.7 1953.4 808.8 1954.6 810.8 1955.7 812.8 1956.9 814.8 1958 816.8 1959.1 818.8 1960.1 820.8 1961.1 822.8 1962 824.8 1962.9 826.8 1963.7 828.8 1964.4 830.8 1965.2 832.8 1965.9 834.8 1966.6 836.8 1967.2 838.8 1967.8 840.8 1968.4 842.8 1969 844.8 1969.5 846.8 1970 848.8 1970.4 850.8 1970.8 852.8 1971.2 854.8 1971.6 856.8 1972 858.8 1972.4 860.8 1972.8 862.8 1973.1 864.8 1973.5 866.8 1973.8 868.8 1974.1 870.8 1974.4 872.8 1974.7 874.8 1975 876.8 1975.3 878.8 1975.6 880.8 1975.9 882.8 1976.1 884.8 1976.4 886.8 1976.6 888.8 1976.8 890.8 1977.1 892.8 1977.3 894.8 1977.5 896.8 1977.7 898.8 1978 900.8 1978.2 902.8 1978.4 904.8 1978.6 906.8 1978.9 908.8 1979.1 910.8 1979.3 912.8 1979.5 914.8 1979.7 916.8 1979.9 918.8 1980 920.8 1980.2 922.8 1980.3 924.8 1980.5 926.8 1980.6 928.8 1980.7 930.8 1980.7 932.8 1980.8 934.8 1980.8 936.8 1980.8 938.8 1980.8 940.8 1980.8 942.8 1980.8 944.8 1980.9 946.8 1980.9 948.8 1980.9 950.8 1980.9 952.8 1980.9 954.8 1980.9 956.8 1981 958.8 1981 960.8 1981 962.8 1981 964.8 1981 966.8 1981.1 968.8 1981.1 970.8 1981.1 972.8 1981.1 974.8 1981.2 976.8 1981.2 978.8 1981.2 980.8 1981.2 982.8 1981.2 984.8 1981.2 986.8 1981.2 988.8 1981.1 990.8 1981.1 992.8 1981 994.8 1981 996.8 1980.9 998.8 1980.9 1000.8 1980.8 1002.8 1980.7 1004.8 1980.7 1006.8 1980.6 1008.8 1980.6 1010.8 1980.5 1012.8 1980.5 1014.8 1980.4 1016.8 1980.4 1018.8 1980.4 1020.8 1980.4 1022.8 1980.4 1024.8 1980.4 1026.8 1980.4 1028.8 1980.4 1030.8 1980.4 1032.8 1980.4 1034.8 1980.5 1036.8 1980.5 1038.8 1980.5 1040.8 1980.5 1042.8 1980.5 1044.8 1980.5 1046.8 1980.5 1048.8 1980.6 1050.8 1980.6 1052.8 1980.6 1054.8 1980.6 1056.8 1980.6 1058.8 1980.6 1060.8 1980.6 1062.8 1980.7 1064.8 1980.7 1066.8 1980.7 1068.8 1980.7 1070.8 1980.7 1072.8 1980.7 1074.8 1980.7 1076.8 1980.8 1078.8 1980.8 1080.8 1980.8 1082.8 1980.8 1084.8 1980.8 1086.8 1980.8 1088.8 1980.9 1090.8 1980.9 1092.8 1980.9 1094.8 1980.9 1096.8 1980.9 1098.8 1980.9 1100.8 1980.9 1102.8 1981 1104.8 1981 1106.8 1981 1108.8 1981 1110.8 1981 1112.8 1981.1 1114.8 1981.1 1116.8 1981.1 1118.8 1981.1 1120.8 1981.1 1122.8 1981.2 1124.8 1981.2 1126.8 1981.2 1128.8 1981.2 1130.8 1981.2 1132.8 1981.3 1134.8 1981.3 1136.8 1981.3 1138.8 1981.3 1140.8 1981.4 1142.8 1981.4 1144.8 1981.4 1146.8 1981.4 1148.8 1981.5 1150.8 1981.5 1152.8 1981.5 1154.8 1981.5 1156.8 1981.6 1158.8 1981.6 1160.8 1981.6 1162.8 1981.7 1164.8 1981.7 1166.8 1981.7 1168.9 1981.8 1170.9 1981.8 1172.9 1981.8 1174.9 1981.9 1176.9 1981.9 1178.9 1981.9 1180.9 1982 1182.9 1982 1184.9 1982.1 1186.9 1982.1 1188.9 1982.2 1190.9 1982.3 1192.9 1982.4 1194.9 1982.5 1196.9 1982.6 1198.9 1982.7 1200.9 1982.8 1202.9 1982.9 1204.9 1983 1206.9 1983.2 1208.9 1983.3 1210.9 1983.4 1212.9 1983.6 1214.9 1983.7 1216.9 1983.9 1218.9 1984 1220.9 1984.2 1222.9 1984.3 1224.9 1984.5 1226.9 1984.6 1228.9 1984.8 1230.9 1985 1232.9 1985.2 1234.9 1985.3 1236.9 1985.5 1238.9 1985.7 1240.9 1985.9 1242.9 1986 1244.9 1986.2 1246.9 1986.4 1248.9 1986.6 1250.9 1986.8 1252.9 1987 1254.9 1987.1 1256.9 1987.3 1258.9 1987.5 1260.9 1987.7 1262.9 1987.9 1264.9 1988.1 1266.9 1988.2 1268.9 1988.4 1270.9 1988.6 1272.9 1988.8 1274.9 1989 1276.9 1989.1 1278.9 1989.3 1280.9 1989.5 1282.9 1989.6 1284.9 1989.8 1286.9 1990 1288.9 1990.1 1290.9 1990.3 1292.9 1990.4 1294.9 1990.6 1296.9 1990.7 1298.9 1990.8 1300.9 1991 1302.9 1991.1 1304.9 1991.3 1306.9 1991.4 1308.9 1991.6 1310.9 1991.7 1312.9 1991.8 1314.9 1992 1316.9 1992.1 1318.9 1992.3 1320.9 1992.4 1322.9 1992.6 1324.9 1992.7 1326.9 1992.9 1328.9 1993 1330.9 1993.2 1332.9 1993.3 1334.9 1993.4 1336.9 1993.6 1338.9 1993.7 1340.9 1993.9 1342.9 1994 1344.9 1994.2 1346.9 1994.3 1348.9 1994.5 1350.9 1994.6 1352.9 1994.7 1354.9 1994.9 1356.9 1995 1358.9 1995.2 1360.9 1995.3 1362.9 1995.4 1364.9 1995.6 1366.9 1995.7 1368.9 1995.9 1370.9 1996 1372.9 1996.1 1374.9 1996.3 1376.9 1996.4 1378.9 1996.5 1380.9 1996.7 1382.9 1996.8 1384.9 1996.9 1386.9 1997 1388.9 1997.2 1390.9 1997.3 1392.9 1997.4 1394.9 1997.5 1396.9 1997.7 1398.9 1997.8 1400.9 1997.9 1402.9 1998 1404.9 1998.1 1406.9 1998.2 1408.9 1998.3 1410.9 1998.5 1412.9 1998.6 1414.9 1998.7 1416.9 1998.8 1418.9 1998.9 1420.9 1999 1422.9 1999.1 1424.9 1999.2 1426.9 1999.3 1428.9 1999.4 1430.9 1999.5 1432.9 1999.6 1434.9 1999.7 1436.9 1999.8 1438.9 1999.9 1440.9 2000 1442.9 2000.1 1444.9 2000.2 1446.9 2000.3 1448.9 2000.4 1450.9 2000.5 1452.9 2000.6 1454.9 2000.7 1456.9 2000.8 1458.9 2000.9 1460.9 2001 1462.9 2001 1464.9 2001.1 1466.9 2001.2 1468.9 2001.3 1470.9 2001.4 1472.9 2001.5 1474.9 2001.6 1476.9 2001.7 1478.9 2001.8 1480.9 2001.8 1482.9 2001.9 1484.9 2002 1486.9 2002.1 1488.9 2002.2 1490.9 2002.3 1492.9 2002.4 1494.9 2002.4 1496.9 2002.5 1498.9 2002.6 1500.9 2002.7 1502.9 2002.7 1504.9 2002.8 1506.9 2002.9 1508.9 2003 1510.9 2003.1 1512.9 2003.1 1514.9 2003.2 1516.9 2003.3 1518.9 2003.3 1520.9 2003.4 1522.9 2003.5 1524.9 2003.6 1526.9 2003.6 1528.9 2003.7 1531 2003.8 1533 2003.8 1535 2003.9 1537 2004 1539 2004 1541 2004.1 1543 2004.2 1545 2004.2 1547 2004.3 1549 2004.3 1551 2004.4 1553 2004.5 1555 2004.5 1557 2004.6 1559 2004.6 1561 2004.7 1563 2004.7 1565 2004.8 1567 2004.9 1569 2004.9 1571 2005 1573 2005 1575 2005.1 1577 2005.1 1579 2005.2 1581 2005.2 1583 2005.3 1585 2005.3 1587 2005.4 1589 2005.4 1591 2005.5 1593 2005.5 1595 2005.6 1597 2005.6 1599 2005.7 1601 2005.7 1603 2005.8 1605 2005.8 1607 2005.9 1609 2005.9 1611 2006 1613 2006 1615 2006.1 1617 2006.1 1619 2006.2 1621 2006.2 1623 2006.3 1625 2006.3 1627 2006.4 1629 2006.4 1631 2006.5 1633 2006.5 1635 2006.6 1637 2006.6 1639 2006.7 1641 2006.7 1643 2006.8 1645 2006.8 1647 2006.9 1649 2007 1651 2007 1653 2007.1 1655 2007.1 1657 2007.2 1659 2007.2 1661 2007.3 1663 2007.3 1665 2007.4 1667 2007.4 1669 2007.5 1671 2007.5 1673 2007.6 1675 2007.7 1677 2007.7 1679 2007.8 1681 2007.8 1683 2007.9 1685 2007.9 1687 2008 1689 2008.1 1691 2008.1 1693 2008.2"/></g>
<path d="M264.6 2002.9L266.6 2002.4 268.6 2001.9 270.6 2001.4 272.6 2001 274.6 2000.5 276.7 2000.1 278.7 1999.6 280.7 1999.2 282.7 1998.8 284.7 1998.3 286.7 1997.9 288.7 1997.5 290.7 1997.1 292.7 1996.8 294.7 1996.4 296.8 1996 298.8 1995.7 300.8 1995.4 302.8 1995.1 304.8 1994.8 306.8 1994.5 308.8 1994.2 310.8 1994 312.8 1993.7 314.8 1993.5 316.9 1993.3 318.9 1993.1 320.9 1992.9 322.9 1992.8 324.9 1992.6 326.9 1992.4 328.9 1992.2 330.9 1992.1 332.9 1991.9 334.9 1991.8 337 1991.6 339 1991.5 341 1991.3 343 1991.2 345 1991.1 347 1990.9 349 1990.8 351 1990.7 353 1990.7 355 1990.6 357.1 1990.5 359.1 1990.5 361.1 1990.4 363.1 1990.4 365.1 1990.4 367.1 1990.4 369.1 1990.4 371.1 1990.4 373.1 1990.5 375.1 1990.5 377.2 1990.6 379.2 1990.6 381.2 1990.7 383.2 1990.8 385.2 1990.9 387.2 1990.9 389.2 1991 391.2 1991.1 393.2 1991.2 395.2 1991.4 397.3 1991.5 399.3 1991.6 401.3 1991.7 403.3 1991.9 405.3 1992 407.3 1992.2 409.3 1992.3 411.3 1992.5 413.3 1992.6 415.3 1992.8 417.3 1992.9 419.4 1993.1 421.4 1993.2 423.4 1993.4 425.4 1993.6 427.4 1993.7 429.4 1993.9 431.4 1994.1 433.4 1994.3 435.4 1994.4 437.4 1994.6 439.5 1994.8 441.5 1995 443.5 1995.2 445.5 1995.4 447.5 1995.7 449.5 1995.9 451.5 1996.2 453.5 1996.5 455.5 1996.8 457.5 1997.1 459.6 1997.4 461.6 1997.7 463.6 1998.1 465.6 1998.4 467.6 1998.7 469.6 1999.1 471.6 1999.4 473.6 1999.7 475.6 2000.1 477.6 2000.4 479.7 2000.7 481.7 2001.1 483.7 2001.4 485.7 2001.7 487.7 2002 489.7 2002.3 491.7 2002.6 493.7 2002.8 495.7 2003.1 497.7 2003.3 499.8 2003.6 501.8 2003.8 503.8 2004.1 505.8 2004.3 507.8 2004.6 509.8 2004.8 511.8 2005.1 513.8 2005.3 515.8 2005.5 517.8 2005.8 519.9 2006 521.9 2006.2 523.9 2006.5 525.9 2006.7 527.9 2006.9 529.9 2007.1 531.9 2007.4 533.9 2007.6 535.9 2007.8 537.9 2008 540 2008.2 542 2008.4 544 2008.6 546 2008.8 548 2009 550 2009.2" fill="none" stroke="#2a9696" stroke-width="6.5" stroke-linejoin="round" stroke-linecap="round" />
<path d="M410.4 2009.2L412.4 2008.9 414.4 2008.5 416.5 2008.1 418.5 2007.8 420.5 2007.3 422.5 2006.9 424.6 2006.5 426.6 2006 428.6 2005.6 430.6 2005.1 432.7 2004.6 434.7 2004.1 436.7 2003.5 438.7 2002.8 440.7 2002.1 442.8 2001.2 444.8 2000.4 446.8 1999.5 448.8 1998.8 450.9 1998 452.9 1997.5 454.9 1997 456.9 1996.8 459 1996.7 461 1996.8 463 1996.9 465 1997 467 1997.2 469.1 1997.5 471.1 1997.8 473.1 1998.1 475.1 1998.4 477.2 1998.8 479.2 1999.2 481.2 1999.6 483.2 2000 485.3 2000.4 487.3 2000.7 489.3 2001.1 491.3 2001.4 493.4 2001.8 495.4 2002.1 497.4 2002.3 499.4 2002.6 501.4 2002.9 503.5 2003.2 505.5 2003.4 507.5 2003.7 509.5 2004 511.6 2004.3 513.6 2004.5 515.6 2004.8 517.6 2005.1 519.7 2005.3 521.7 2005.6 523.7 2005.9 525.7 2006.1 527.7 2006.4 529.8 2006.6 531.8 2006.9 533.8 2007.2 535.8 2007.4 537.9 2007.7 539.9 2007.9 541.9 2008.2 543.9 2008.4 546 2008.7 548 2009 550 2009.2" fill="none" stroke="#2a9696" stroke-width="6.5" stroke-linejoin="round" stroke-linecap="round" />
<path d="M565 2007.3L566.5 2007.3 568 2007.2 569.5 2007.1 571 2007 572.5 2007 574 2006.9 575.5 2006.8 577 2006.7 578.5 2006.6 580 2006.5 581.5 2006.4 583 2006.2 584.5 2006.1 586 2006 587.5 2005.8 589 2005.7 590.5 2005.5 592 2005.3 593.5 2005.1 595 2004.9 596.5 2004.6 598 2004.3 599.5 2004 601 2003.7 602.5 2003.4 604 2002.9 605.5 2002.5 607 2002 608.5 2001.4 610 2000.7 611.5 2000 613 1999.1 614.5 1998.1 616 1996.9 617.5 1995.5 619 1994 620.5 1992.2 622 1990.2 623.5 1987.9 625 1985.3 626.5 1982.4 628 1979.1 629.5 1975.6 631 1971.8 632.5 1967.7 634 1963.5 635.5 1959.1 637 1954.9 638.5 1951 640 1947.6 641.5 1945 643 1943.4 644.5 1943 646 1943.9 647.5 1945.9 649 1948.8 650.5 1952.5 652 1956.6 653.5 1960.9 655 1965.2 656.5 1969.4 658 1973.4 659.5 1977.1 661 1980.5 662.5 1983.6 664 1986.4 665.5 1988.8 667 1991 668.5 1992.9 670 1994.6 671.5 1996.1 673 1997.4 674.5 1998.5 676 1999.4 677.5 2000.3 679 2001 680.5 2001.6 682 2002.2 683.5 2002.7 685 2003.1 686.5 2003.5 688 2003.9 689.5 2004.2 691 2004.5 692.5 2004.7 694 2004.9 695.5 2005.2 697 2005.4 698.5 2005.6 700 2005.7" fill="none" stroke="#3030a8" stroke-width="6.5" stroke-linejoin="round" stroke-linecap="round" />
<path d="M630 2007.7L631.5 2007.6 633 2007.5 634.5 2007.4 636 2007.3 637.5 2007.2 639 2007.1 640.5 2006.9 642.1 2006.8 643.6 2006.6 645.1 2006.4 646.6 2006.2 648.1 2006 649.6 2005.7 651.1 2005.3 652.6 2004.9 654.1 2004.3 655.6 2003.5 657.1 2002.5 658.6 2001.2 660.1 1999.5 661.6 1997.3 663.2 1994.4 664.7 1990.7 666.2 1986.2 667.7 1980.8 669.2 1974.4 670.7 1967.1 672.2 1959 673.7 1950.4 675.2 1941.7 676.7 1933.2 678.2 1925.7 679.7 1919.7 681.2 1916 682.7 1915 684.2 1916.9 685.8 1921.4 687.3 1927.9 688.8 1935.8 690.3 1944.5 691.8 1953.2 693.3 1961.7 694.8 1969.5 696.3 1976.5 697.8 1982.6 699.3 1987.8 700.8 1992 702.3 1995.4 703.8 1998.1 705.3 2000.1 706.8 2001.7 708.4 2002.9 709.9 2003.8 711.4 2004.5 712.9 2005 714.4 2005.4 715.9 2005.8 717.4 2006.1 718.9 2006.3 720.4 2006.5 721.9 2006.7 723.4 2006.8 724.9 2007 726.4 2007.1 727.9 2007.2 729.5 2007.3 731 2007.4 732.5 2007.5 734 2007.6 735.5 2007.7 737 2007.7 738.5 2007.8 740 2007.9" fill="none" stroke="#3030a8" stroke-width="6.5" stroke-linejoin="round" stroke-linecap="round" />
<path d="M662 2005.1L663.5 2004.9 665 2004.7 666.5 2004.5 668 2004.3 669.5 2004.1 671 2003.8 672.5 2003.6 674 2003.3 675.5 2003 677 2002.6 678.5 2002.3 680 2001.9 681.5 2001.4 683 2000.9 684.5 2000.4 686 1999.8 687.5 1999.1 689 1998.3 690.5 1997.5 692.1 1996.5 693.6 1995.3 695.1 1994 696.6 1992.5 698.1 1990.8 699.6 1988.8 701.1 1986.5 702.6 1983.9 704.1 1981 705.6 1977.7 707.1 1973.9 708.6 1969.8 710.1 1965.1 711.6 1960.1 713.1 1954.6 714.6 1948.8 716.1 1942.6 717.6 1936.3 719.1 1929.8 720.6 1923.6 722.1 1917.8 723.6 1912.7 725.1 1908.7 726.6 1906.1 728.1 1905 729.6 1905.6 731.1 1907.9 732.6 1911.6 734.1 1916.5 735.6 1922.1 737.1 1928.3 738.6 1934.7 740.1 1941.1 741.6 1947.3 743.1 1953.2 744.6 1958.8 746.1 1963.9 747.6 1968.7 749.2 1972.9 750.7 1976.8 752.2 1980.2 753.7 1983.3 755.2 1985.9 756.7 1988.3 758.2 1990.3 759.7 1992.1 761.2 1993.7 762.7 1995 764.2 1996.2 765.7 1997.2 767.2 1998.1 768.7 1998.9 770.2 1999.6 771.7 2000.3 773.2 2000.8 774.7 2001.3 776.2 2001.8 777.7 2002.2 779.2 2002.5 780.7 2002.9 782.2 2003.2 783.7 2003.5 785.2 2003.8 786.7 2004 788.2 2004.2 789.7 2004.5 791.2 2004.7 792.7 2004.8 794.2 2005 795.7 2005.2 797.2 2005.3 798.7 2005.5 800.2 2005.6 801.7 2005.8 803.2 2005.9 804.8 2006 806.3 2006.1 807.8 2006.2 809.3 2006.3 810.8 2006.4 812.3 2006.5 813.8 2006.6 815.3 2006.7 816.8 2006.7 818.3 2006.8 819.8 2006.9 821.3 2006.9 822.8 2007 824.3 2007.1 825.8 2007.1 827.3 2007.2 828.8 2007.2 830.3 2007.3 831.8 2007.3 833.3 2007.4" fill="none" stroke="#3030a8" stroke-width="6.5" stroke-linejoin="round" stroke-linecap="round" />
<path d="M264.6 1997.7L266.6 1997.7 268.6 1997.7 270.6 1997.7 272.6 1997.7 274.6 1997.7 276.6 1997.7 278.6 1997.7 280.6 1997.7 282.6 1997.7 284.6 1997.6 286.6 1997.6 288.6 1997.6 290.6 1997.6 292.6 1997.6 294.6 1997.6 296.6 1997.6 298.6 1997.6 300.6 1997.5 302.6 1997.5 304.6 1997.5 306.6 1997.5 308.6 1997.5 310.7 1997.4 312.7 1997.4 314.7 1997.4 316.7 1997.4 318.7 1997.3 320.7 1997.3 322.7 1997.3 324.7 1997.2 326.7 1997.2 328.7 1997.2 330.7 1997.2 332.7 1997.1 334.7 1997.1 336.7 1997.1 338.7 1997 340.7 1997 342.7 1996.9 344.7 1996.9 346.7 1996.9 348.7 1996.8 350.7 1996.8 352.7 1996.7 354.7 1996.7 356.7 1996.6 358.7 1996.5 360.7 1996.4 362.7 1996.2 364.7 1996 366.7 1995.8 368.7 1995.6 370.7 1995.3 372.7 1995.1 374.7 1994.8 376.7 1994.4 378.7 1994.1 380.7 1993.8 382.7 1993.4 384.7 1993 386.7 1992.6 388.7 1992.2 390.7 1991.8 392.7 1991.3 394.7 1990.9 396.7 1990.5 398.8 1990 400.8 1989.6 402.8 1989.1 404.8 1988.7 406.8 1988.2 408.8 1987.8 410.8 1987.3 412.8 1986.9 414.8 1986.4 416.8 1986 418.8 1985.5 420.8 1985.1 422.8 1984.6 424.8 1984.1 426.8 1983.6 428.8 1983.1 430.8 1982.6 432.8 1982 434.8 1981.5 436.8 1980.9 438.8 1980.4 440.8 1979.8 442.8 1979.2 444.8 1978.6 446.8 1978 448.8 1977.4 450.8 1976.8 452.8 1976.2 454.8 1975.6 456.8 1975 458.8 1974.3 460.8 1973.7 462.8 1973.1 464.8 1972.5 466.8 1971.9 468.8 1971.3 470.8 1970.6 472.8 1970 474.8 1969.4 476.8 1968.7 478.8 1968.1 480.8 1967.4 482.8 1966.7 484.8 1966 486.8 1965.3 488.9 1964.6 490.9 1963.8 492.9 1963 494.9 1962.2 496.9 1961.4 498.9 1960.5 500.9 1959.6 502.9 1958.7 504.9 1957.7 506.9 1956.7 508.9 1955.7 510.9 1954.7 512.9 1953.6 514.9 1952.4 516.9 1951.3 518.9 1950.1 520.9 1948.9 522.9 1947.6 524.9 1946.3 526.9 1945 528.9 1943.6 530.9 1942.2 532.9 1940.8 534.9 1939.3 536.9 1937.8 538.9 1936.2 540.9 1934.6 542.9 1933 544.9 1931.3 546.9 1929.5 548.9 1927.7 550.9 1925.7 552.9 1923.7 554.9 1921.7 556.9 1919.6 558.9 1917.4 560.9 1915.1 562.9 1912.8 564.9 1910.4 566.9 1908 568.9 1905.5 570.9 1902.9 572.9 1900.3 574.9 1897.6 577 1894.9 579 1892.2 581 1889.4 583 1886.5 585 1883.5 587 1880.2 589 1876.6 591 1872.8 593 1868.9 595 1865 597 1861.1 599 1857.3 601 1853.6 603 1850.2 605 1847.1 607 1843.9 609 1840.8 611 1837.7 613 1834.6 615 1831.6 617 1828.9 619 1826.3 621 1823.9 623 1821.8 625 1820.1 627 1818.7 629 1817.3 631 1815.9 633 1814.6 635 1813.3 637 1812.2 639 1811.1 641 1810.2 643 1809.4 645 1808.8 647 1808.3 649 1808.1 651 1808.1 653 1808.4 655 1808.9 657 1809.6 659 1810.5 661 1811.5 663 1812.7 665 1814 667.1 1815.5 669.1 1817 671.1 1818.6 673.1 1820.2 675.1 1821.9 677.1 1823.7 679.1 1825.9 681.1 1828.7 683.1 1831.7 685.1 1835 687.1 1838.5 689.1 1842.1 691.1 1845.6 693.1 1849.1 695.1 1852.3 697.1 1855.3 699.1 1858 701.1 1860.7 703.1 1863.4 705.1 1866 707.1 1868.5 709.1 1871 711.1 1873.5 713.1 1876 715.1 1878.5 717.1 1881 719.1 1883.5 721.1 1886 723.1 1888.6 725.1 1891.2 727.1 1893.9 729.1 1896.5 731.1 1899.2 733.1 1901.9 735.1 1904.6 737.1 1907.3 739.1 1910 741.1 1912.7 743.1 1915.3 745.1 1917.9 747.1 1920.5 749.1 1923 751.1 1925.4 753.1 1927.8 755.1 1930.1 757.2 1932.3 759.2 1934.4 761.2 1936.4" fill="none" stroke="#a33030" stroke-width="6.5" stroke-linejoin="round" stroke-linecap="round" />
<path d="M480.7 1955.6L482.7 1955.4 484.7 1955.2 486.7 1955 488.7 1954.7 490.7 1954.3 492.7 1954 494.7 1953.5 496.7 1953.1 498.7 1952.6 500.7 1952 502.7 1951.4 504.7 1950.8 506.7 1950.2 508.7 1949.5 510.7 1948.7 512.7 1947.8 514.7 1946.8 516.7 1945.8 518.7 1944.6 520.7 1943.4 522.7 1942.2 524.7 1941 526.7 1939.7 528.7 1938.5 530.7 1937.3 532.7 1936.2 534.7 1935.1 536.7 1934 538.7 1932.8 540.7 1931.7 542.7 1930.5 544.7 1929.2 546.7 1927.8 548.7 1926.3 550.7 1924.5 552.7 1922.6 554.7 1920.1 556.7 1917.2 558.7 1913.9 560.7 1910.3 562.7 1906.5 564.7 1902.7 566.7 1898.8 568.7 1895.1 570.7 1891.6 572.7 1888.3 574.7 1885.4 576.7 1882.5 578.7 1879.7 580.7 1877 582.7 1874.3 584.7 1871.6 586.7 1869.1 588.7 1866.8 590.7 1864.5 592.7 1862.2 594.7 1859.8 596.7 1857.1 598.7 1854.1 600.7 1850.6 602.7 1846.2 604.7 1841 606.7 1835.6 608.7 1830.2 610.7 1825.1 612.7 1820.1 614.7 1815.1 616.7 1810.1 618.7 1805.1 620.7 1800.2 622.7 1795.6 624.7 1791 626.7 1785.9 628.7 1780.2 630.7 1772.6 632.7 1764.2 634.7 1757.3 636.7 1751 638.7 1746" fill="none" stroke="#8b0000" stroke-width="6" stroke-linejoin="round" stroke-linecap="round" />
<path d="M759.2 1934.4L761.2 1936.4 763.2 1938.3 765.2 1940.2 767.2 1942.1 769.2 1943.9 771.2 1945.7 773.2 1947.4 775.2 1949.2 777.2 1950.9 779.2 1952.6 781.2 1954.2 783.2 1955.8 785.2 1957.3 787.2 1958.9 789.2 1960.3 791.2 1961.7 793.2 1963.1 795.2 1964.4 797.2 1965.7 799.2 1966.9 801.2 1968 803.2 1969.1 805.2 1970.1 807.2 1971 809.2 1971.9 811.2 1972.8 813.2 1973.7 815.2 1974.6 817.2 1975.4 819.2 1976.2 821.2 1977 823.2 1977.8 825.2 1978.5 827.2 1979.2 829.2 1979.9 831.2 1980.6 833.2 1981.2 835.2 1981.8 837.2 1982.4 839.2 1983 841.2 1983.5 843.2 1984.1 845.3 1984.5 847.3 1985 849.3 1985.4 851.3 1985.9 853.3 1986.3 855.3 1986.7 857.3 1987.1 859.3 1987.5 861.3 1987.9 863.3 1988.3 865.3 1988.6 867.3 1989 869.3 1989.3 871.3 1989.7 873.3 1990 875.3 1990.2 877.3 1990.5 879.3 1990.8 881.3 1991 883.3 1991.2 885.3 1991.4 887.3 1991.6 889.3 1991.7" fill="none" stroke="#8b0000" stroke-width="6.5" stroke-linejoin="round" stroke-linecap="round" />
<path d="M814.3 2001.4L816.3 2001.3 818.3 2001.3 820.3 2001.2 822.3 2001.1 824.3 2001 826.3 2001 828.3 2000.9 830.3 2000.8 832.3 2000.7 834.3 2000.6 836.3 2000.6 838.3 2000.5 840.3 2000.4 842.3 2000.3 844.3 2000.2 846.4 2000.1 848.4 2000 850.4 1999.9 852.4 1999.9 854.4 1999.8 856.4 1999.7 858.4 1999.6 860.4 1999.5 862.4 1999.4 864.4 1999.3 866.4 1999.2 868.4 1999.1 870.4 1999 872.4 1998.9 874.4 1998.8 876.4 1998.7 878.4 1998.6 880.4 1998.4 882.4 1998.3 884.4 1998.2 886.4 1998.1 888.4 1998 890.4 1997.9 892.4 1997.8 894.4 1997.6 896.4 1997.5 898.4 1997.4 900.4 1997.3 902.4 1997.1 904.4 1997 906.5 1996.9 908.5 1996.8 910.5 1996.6 912.5 1996.5 914.5 1996.4 916.5 1996.2 918.5 1996.1 920.5 1996 922.5 1995.8 924.5 1995.7 926.5 1995.6 928.5 1995.4 930.5 1995.3 932.5 1995.1 934.5 1995 936.5 1994.8 938.5 1994.7 940.5 1994.5 942.5 1994.4 944.5 1994.2 946.5 1994.1 948.5 1993.9 950.5 1993.8 952.5 1993.6 954.5 1993.5 956.5 1993.3 958.5 1993.1 960.5 1993 962.5 1992.8 964.5 1992.6 966.5 1992.5 968.6 1992.3 970.6 1992.1 972.6 1992 974.6 1991.8 976.6 1991.6 978.6 1991.4 980.6 1991.3 982.6 1991.1 984.6 1990.9 986.6 1990.7 988.6 1990.5 990.6 1990.4 992.6 1990.2 994.6 1990 996.6 1989.8 998.6 1989.6" fill="none" stroke="#a33030" stroke-width="6.5" stroke-linejoin="round" stroke-linecap="round" />
<path d="M850.8 1975.9L852.8 1976.3 854.8 1976.7 856.8 1977.1 858.8 1977.4 860.8 1977.8 862.8 1978.1 864.8 1978.5 866.8 1978.8 868.8 1979.1 870.8 1979.4 872.8 1979.7 874.8 1979.9 876.8 1980.2 878.8 1980.5 880.8 1980.7 882.8 1981 884.8 1981.2 886.8 1981.4 888.8 1981.6 890.8 1981.8 892.8 1982 894.8 1982.2 896.8 1982.4 898.8 1982.7 900.8 1982.9 902.8 1983.1 904.8 1983.3 906.8 1983.5 908.8 1983.7 910.8 1983.8 912.8 1984 914.8 1984.2 916.8 1984.4 918.8 1984.5 920.8 1984.6 922.8 1984.8 924.8 1984.9 926.8 1984.9 928.8 1985 930.8 1985.1 932.8 1985.1 934.8 1985.1 936.8 1985.1 938.8 1985.1 940.8 1985.1 942.8 1985.1 944.8 1985.1 946.8 1985.1 948.8 1985.1 950.8 1985.1 952.8 1985.1 954.8 1985.1 956.8 1985.1 958.8 1985.1 960.8 1985.1 962.8 1985.1 964.8 1985.1 966.8 1985.1 968.8 1985.1 970.8 1985.1 972.8 1985.1 974.8 1985.1 976.8 1985.1 978.8 1985.1 980.8 1985.1 982.8 1985.1 984.8 1985 986.8 1985 988.8 1984.9 990.8 1984.9 992.8 1984.8 994.8 1984.7 996.8 1984.7 998.8 1984.6 1000.8 1984.5 1002.8 1984.5 1004.8 1984.4 1006.8 1984.3 1008.8 1984.3 1010.8 1984.2 1012.8 1984.2 1014.8 1984.1 1016.8 1984.1 1018.8 1984.1 1020.8 1984.1 1022.8 1984.1 1024.8 1984.1 1026.8 1984.1 1028.8 1984.1 1030.8 1984.1 1032.8 1984.1 1034.8 1984.1 1036.8 1984.2 1038.8 1984.2 1040.8 1984.2 1042.8 1984.2 1044.8 1984.2 1046.8 1984.2 1048.8 1984.2 1050.8 1984.2 1052.8 1984.3 1054.8 1984.3 1056.8 1984.3 1058.8 1984.3 1060.8 1984.3 1062.8 1984.3 1064.8 1984.3 1066.8 1984.3 1068.8 1984.4 1070.8 1984.4 1072.8 1984.4 1074.8 1984.4 1076.8 1984.4 1078.8 1984.4 1080.8 1984.4 1082.8 1984.4 1084.8 1984.5 1086.8 1984.5 1088.8 1984.5 1090.8 1984.5 1092.8 1984.5 1094.8 1984.5 1096.8 1984.5 1098.8 1984.6 1100.8 1984.6 1102.8 1984.6 1104.8 1984.6 1106.8 1984.6 1108.8 1984.6 1110.8 1984.7 1112.8 1984.7 1114.8 1984.7 1116.8 1984.7 1118.8 1984.7 1120.8 1984.7 1122.8 1984.8 1124.8 1984.8 1126.8 1984.8 1128.8 1984.8 1130.8 1984.8 1132.8 1984.9 1134.8 1984.9 1136.8 1984.9 1138.8 1984.9 1140.8 1985 1142.8 1985 1144.8 1985 1146.8 1985 1148.8 1985.1 1150.8 1985.1 1152.8 1985.1 1154.8 1985.1 1156.8 1985.2 1158.8 1985.2 1160.8 1985.2 1162.8 1985.3 1164.8 1985.3 1166.8 1985.3 1168.9 1985.3 1170.9 1985.4 1172.9 1985.4 1174.9 1985.4 1176.9 1985.5 1178.9 1985.5 1180.9 1985.6 1182.9 1985.6 1184.9 1985.7 1186.9 1985.7 1188.9 1985.8 1190.9 1985.9 1192.9 1986 1194.9 1986.1 1196.9 1986.2 1198.9 1986.3 1200.9 1986.4 1202.9 1986.5 1204.9 1986.6 1206.9 1986.7 1208.9 1986.9 1210.9 1987 1212.9 1987.1 1214.9 1987.3 1216.9 1987.4 1218.9 1987.6 1220.9 1987.7 1222.9 1987.9 1224.9 1988 1226.9 1988.2 1228.9 1988.4 1230.9 1988.5 1232.9 1988.7 1234.9 1988.9 1236.9 1989 1238.9 1989.2 1240.9 1989.4 1242.9 1989.6 1244.9 1989.8 1246.9 1989.9 1248.9 1990.1 1250.9 1990.3 1252.9 1990.5 1254.9 1990.7 1256.9 1990.8 1258.9 1991 1260.9 1991.2 1262.9 1991.4 1264.9 1991.6 1266.9 1991.8 1268.9 1991.9 1270.9 1992.1 1272.9 1992.3 1274.9 1992.5 1276.9 1992.6 1278.9 1992.8 1280.9 1993 1282.9 1993.1 1284.9 1993.3 1286.9 1993.4 1288.9 1993.6 1290.9 1993.8 1292.9 1993.9 1294.9 1994 1296.9 1994.2 1298.9 1994.3 1300.9 1994.5 1302.9 1994.6 1304.9 1994.7 1306.9 1994.9 1308.9 1995 1310.9 1995.2 1312.9 1995.3 1314.9 1995.5 1316.9 1995.6 1318.9 1995.7 1320.9 1995.9 1322.9 1996 1324.9 1996.2 1326.9 1996.3 1328.9 1996.5 1330.9 1996.6 1332.9 1996.8 1334.9 1996.9 1336.9 1997 1338.9 1997.2 1340.9 1997.3 1342.9 1997.5 1344.9 1997.6 1346.9 1997.8 1348.9 1997.9 1350.9 1998 1352.9 1998.2 1354.9 1998.3 1356.9 1998.5 1358.9 1998.6 1360.9 1998.7 1362.9 1998.9 1364.9 1999 1366.9 1999.1 1368.9 1999.3 1370.9 1999.4 1372.9 1999.6 1374.9 1999.7 1376.9 1999.8 1378.9 1999.9 1380.9 2000.1 1382.9 2000.2 1384.9 2000.3 1386.9 2000.5 1388.9 2000.6 1390.9 2000.7 1392.9 2000.8 1394.9 2000.9 1396.9 2001.1 1398.9 2001.2 1400.9 2001.3 1402.9 2001.4 1404.9 2001.5 1406.9 2001.6 1408.9 2001.7 1410.9 2001.9 1412.9 2002 1414.9 2002.1 1416.9 2002.2 1418.9 2002.3 1420.9 2002.4 1422.9 2002.5 1424.9 2002.6 1426.9 2002.7 1428.9 2002.8 1430.9 2002.9 1432.9 2003 1434.9 2003.1 1436.9 2003.2 1438.9 2003.3 1440.9 2003.4 1442.9 2003.5 1444.9 2003.6 1446.9 2003.7 1448.9 2003.8 1450.9 2003.9 1452.9 2004 1454.9 2004 1456.9 2004.1 1458.9 2004.2 1460.9 2004.3 1462.9 2004.4 1464.9 2004.5 1466.9 2004.6 1468.9 2004.7 1470.9 2004.8 1472.9 2004.9 1474.9 2004.9 1476.9 2005 1478.9 2005.1 1480.9 2005.2 1482.9 2005.3 1484.9 2005.4 1486.9 2005.5 1488.9 2005.5 1490.9 2005.6 1492.9 2005.7 1494.9 2005.8 1496.9 2005.9 1498.9 2005.9 1500.9 2006 1502.9 2006.1 1504.9 2006.2 1506.9 2006.2 1508.9 2006.3 1510.9 2006.4 1512.9 2006.5 1514.9 2006.5 1516.9 2006.6 1518.9 2006.7 1520.9 2006.7 1522.9 2006.8 1524.9 2006.9 1526.9 2006.9 1528.9 2007 1531 2007.1 1533 2007.1 1535 2007.2 1537 2007.3 1539 2007.3 1541 2007.4 1543 2007.5 1545 2007.5 1547 2007.6 1549 2007.6 1551 2007.7 1553 2007.8 1555 2007.8 1557 2007.9 1559 2007.9 1561 2008 1563 2008 1565 2008.1 1567 2008.1 1569 2008.2 1571 2008.3 1573 2008.3 1575 2008.4 1577 2008.4 1579 2008.5 1581 2008.5 1583 2008.6 1585 2008.6 1587 2008.7 1589 2008.7 1591 2008.8 1593 2008.8 1595 2008.9 1597 2008.9 1599 2009 1601 2009 1603 2009.1 1605 2009.1 1607 2009.2 1609 2009.2 1611 2009.2 1613 2009.3 1615 2009.3 1617 2009.4 1619 2009.4 1621 2009.5 1623 2009.5 1625 2009.6 1627 2009.6 1629 2009.7 1631 2009.7 1633 2009.8 1635 2009.8 1637 2009.9 1639 2009.9 1641 2010 1643 2010 1645 2010.1 1647 2010.1 1649 2010.2 1651 2010.2 1653 2010.3 1655 2010.3 1657 2010.4 1659 2010.5 1661 2010.5 1663 2010.6 1665 2010.6 1667 2010.7 1669 2010.7 1671 2010.8 1673 2010.8 1675 2010.9 1677 2010.9 1679 2011 1681 2011 1683 2011.1 1685 2011.1 1687 2011.2 1689 2011.2 1691 2011.3 1693 2011.3 1695 2011.4 1697 2011.4 1699 2011.5 1701 2011.5 1703 2011.6 1705 2011.6 1707 2011.7 1709 2011.7 1711 2011.8" fill="none" stroke="#8b0000" stroke-width="5.5" stroke-linejoin="round" stroke-linecap="round" />
<path d="M264.6 1992.5L266.6 1992 268.6 1991.5 270.6 1991 272.6 1990.6 274.6 1990.1 276.6 1989.6 278.6 1989.1 280.6 1988.7 282.6 1988.2 284.6 1987.7 286.6 1987.3 288.6 1986.8 290.6 1986.4 292.6 1985.9 294.6 1985.5 296.6 1985 298.6 1984.6 300.6 1984.2 302.6 1983.7 304.6 1983.3 306.6 1982.9 308.6 1982.5 310.6 1982.1 312.6 1981.6 314.6 1981.3 316.6 1980.9 318.6 1980.5 320.6 1980.1 322.6 1979.7 324.6 1979.4 326.6 1979 328.6 1978.6 330.6 1978.3 332.6 1977.9 334.6 1977.5 336.6 1977.2 338.6 1976.8 340.6 1976.4 342.6 1976.1 344.6 1975.7 346.6 1975.3 348.6 1974.9 350.6 1974.5 352.6 1974.1 354.6 1973.7 356.6 1973.3 358.6 1972.8 360.6 1972.3 362.6 1971.8 364.6 1971.3 366.6 1970.8 368.6 1970.3 370.6 1969.9 372.6 1969.4 374.6 1968.9 376.6 1968.5 378.6 1968.1 380.6 1967.8 382.6 1967.5 384.6 1967.2 386.6 1966.9 388.6 1966.7 390.6 1966.4 392.6 1966.2 394.6 1965.9 396.6 1965.7 398.6 1965.5 400.6 1965.3 402.6 1965 404.6 1964.8 406.6 1964.5 408.6 1964.2 410.6 1963.9 412.6 1963.5 414.6 1963.1 416.6 1962.7 418.6 1962.3 420.6 1961.8 422.6 1961.3 424.6 1960.8 426.6 1960.3 428.6 1959.7 430.6 1959.1 432.6 1958.5 434.6 1957.9 436.6 1957.3 438.6 1956.7 440.6 1956.1 442.6 1955.5 444.6 1954.9 446.7 1954.2 448.7 1953.5 450.7 1952.7 452.7 1951.8 454.7 1951 456.7 1950.2 458.7 1949.4 460.7 1948.7 462.7 1948.1 464.7 1947.7 466.7 1947.4 468.7 1947.1 470.7 1946.9 472.7 1946.7 474.7 1946.6 476.7 1946.4 478.7 1946.3 480.7 1946.1 482.7 1945.9 484.7 1945.7 486.7 1945.5 488.7 1945.2 490.7 1944.8 492.7 1944.5 494.7 1944 496.7 1943.6 498.7 1943.1 500.7 1942.5 502.7 1941.9 504.7 1941.3 506.7 1940.7 508.7 1940 510.7 1939.2 512.7 1938.3 514.7 1937.3 516.7 1936.3 518.7 1935.1 520.7 1933.9 522.7 1932.7 524.7 1931.5 526.7 1930.2 528.7 1929 530.7 1927.8 532.7 1926.7 534.7 1925.6 536.7 1924.5 538.7 1923.3 540.7 1922.2 542.7 1921 544.7 1919.7 546.7 1918.3 548.7 1916.8 550.7 1915 552.7 1913.1 554.7 1910.6 556.7 1907.7 558.7 1904.4 560.7 1900.8 562.7 1897 564.7 1893.2 566.7 1889.3 568.7 1885.6 570.7 1882.1 572.7 1878.8 574.7 1875.9 576.7 1873 578.7 1870.2 580.7 1867.5 582.7 1864.8 584.7 1862.1 586.7 1859.6 588.7 1857.3 590.7 1855 592.7 1852.7 594.7 1850.3 596.7 1847.6 598.7 1844.6 600.7 1841.1 602.7 1836.7 604.7 1831.5 606.7 1826.1 608.7 1820.7 610.7 1815.6 612.7 1810.6 614.7 1805.6 616.7 1800.6 618.7 1795.6 620.7 1790.7 622.7 1786.1 624.7 1781.5 626.7 1776.4 628.7 1770.7 630.7 1763.1 632.7 1754.7 634.7 1747.8 636.7 1741.5 638.7 1736.5 640.7 1734.3 642.7 1733.3 644.7 1732.9 646.7 1734.1 648.7 1737.2 650.7 1741.2 652.7 1744.8 654.7 1749.2 656.7 1754.2 658.7 1758.4 660.7 1760.5 662.7 1758.8 664.7 1753.7 666.7 1746.8 668.7 1739.9 670.7 1733.9 672.7 1726.7 674.7 1719.4 676.7 1713.7 678.7 1711 680.7 1712.4 682.7 1717.1 684.7 1724.1 686.7 1735 688.7 1752.7 690.7 1766 692.7 1777.5 694.7 1787.5 696.7 1796.6 698.7 1803.6 700.7 1808.6 702.7 1813.2 704.7 1817 706.7 1819.6 708.7 1820.5 710.7 1819.2 712.7 1816.3 714.7 1812.3 716.7 1808.2 718.7 1804.7 720.7 1801.7 722.7 1798.3 724.7 1795.1 726.7 1792.5 728.7 1791.1 730.7 1791.9 732.7 1796.4 734.7 1802.8 736.7 1810.8 738.7 1821.8 740.7 1831.2 742.7 1838.9 744.7 1846.8 746.7 1856.8 748.7 1868.1 750.7 1878.3 752.7 1885.6 754.7 1891.2 756.7 1896.3 758.7 1900.8 760.7 1904.8 762.7 1908.5 764.7 1911.9 766.7 1915.1 768.7 1918.2 770.7 1921.2 772.7 1924 774.7 1926.6 776.7 1929.1 778.7 1931.5 780.7 1933.6 782.7 1935.6 784.7 1937.5 786.7 1939.2 788.7 1940.9 790.7 1942.4 792.7 1943.9 794.7 1945.3 796.7 1946.6 798.7 1947.9 800.7 1949.1 802.7 1950.4 804.7 1951.5 806.7 1952.7 808.8 1953.9 810.8 1955 812.8 1956.1 814.8 1957.2 816.8 1958.2 818.8 1959.3 820.8 1960.2 822.8 1961.1 824.8 1962 826.8 1962.8 828.8 1963.5 830.8 1964.2 832.8 1964.9 834.8 1965.6 836.8 1966.2 838.8 1966.8 840.8 1967.4 842.8 1967.9 844.8 1968.4 846.8 1968.9 848.8 1969.3 850.8 1969.7 852.8 1970.1 854.8 1970.5 856.8 1970.9 858.8 1971.2 860.8 1971.6 862.8 1971.9 864.8 1972.3 866.8 1972.6 868.8 1972.9 870.8 1973.2 872.8 1973.5 874.8 1973.7 876.8 1974 878.8 1974.3 880.8 1974.5 882.8 1974.8 884.8 1975 886.8 1975.2 888.8 1975.4 890.8 1975.6 892.8 1975.8 894.8 1976 896.8 1976.2 898.8 1976.5 900.8 1976.7 902.8 1976.9 904.8 1977.1 906.8 1977.3 908.8 1977.5 910.8 1977.6 912.8 1977.8 914.8 1978 916.8 1978.2 918.8 1978.3 920.8 1978.4 922.8 1978.6 924.8 1978.7 926.8 1978.7 928.8 1978.8 930.8 1978.9 932.8 1978.9 934.8 1978.9 936.8 1978.9 938.8 1978.9 940.8 1978.9 942.8 1978.9 944.8 1978.9 946.8 1978.9 948.8 1978.9 950.8 1978.9 952.8 1978.9 954.8 1978.9 956.8 1978.9 958.8 1978.9 960.8 1978.9 962.8 1978.9 964.8 1978.9 966.8 1978.9 968.8 1978.9 970.8 1978.9 972.8 1978.9 974.8 1978.9 976.8 1978.9 978.8 1978.9 980.8 1978.9 982.8 1978.9 984.8 1978.8 986.8 1978.8 988.8 1978.7 990.8 1978.7 992.8 1978.6 994.8 1978.5 996.8 1978.5 998.8 1978.4 1000.8 1978.3 1002.8 1978.3 1004.8 1978.2 1006.8 1978.1 1008.8 1978.1 1010.8 1978 1012.8 1978 1014.8 1977.9 1016.8 1977.9 1018.8 1977.9 1020.8 1977.9 1022.8 1977.9 1024.8 1977.9 1026.8 1977.9 1028.8 1977.9 1030.8 1977.9 1032.8 1977.9 1034.8 1977.9 1036.8 1978 1038.8 1978 1040.8 1978 1042.8 1978 1044.8 1978 1046.8 1978 1048.8 1978 1050.8 1978 1052.8 1978.1 1054.8 1978.1 1056.8 1978.1 1058.8 1978.1 1060.8 1978.1 1062.8 1978.1 1064.8 1978.1 1066.8 1978.1 1068.8 1978.2 1070.8 1978.2 1072.8 1978.2 1074.8 1978.2 1076.8 1978.2 1078.8 1978.2 1080.8 1978.2 1082.8 1978.2 1084.8 1978.3 1086.8 1978.3 1088.8 1978.3 1090.8 1978.3 1092.8 1978.3 1094.8 1978.3 1096.8 1978.3 1098.8 1978.4 1100.8 1978.4 1102.8 1978.4 1104.8 1978.4 1106.8 1978.4 1108.8 1978.4 1110.8 1978.5 1112.8 1978.5 1114.8 1978.5 1116.8 1978.5 1118.8 1978.5 1120.8 1978.5 1122.8 1978.6 1124.8 1978.6 1126.8 1978.6 1128.8 1978.6 1130.8 1978.6 1132.8 1978.7 1134.8 1978.7 1136.8 1978.7 1138.8 1978.7 1140.8 1978.8 1142.8 1978.8 1144.8 1978.8 1146.8 1978.8 1148.8 1978.9 1150.8 1978.9 1152.8 1978.9 1154.8 1978.9 1156.8 1979 1158.8 1979 1160.8 1979 1162.8 1979.1 1164.8 1979.1 1166.8 1979.1 1168.9 1979.1 1170.9 1979.2 1172.9 1979.2 1174.9 1979.2 1176.9 1979.3 1178.9 1979.3 1180.9 1979.4 1182.9 1979.4 1184.9 1979.5 1186.9 1979.5 1188.9 1979.6 1190.9 1979.7 1192.9 1979.8 1194.9 1979.9 1196.9 1980 1198.9 1980.1 1200.9 1980.2 1202.9 1980.3 1204.9 1980.4 1206.9 1980.5 1208.9 1980.7 1210.9 1980.8 1212.9 1980.9 1214.9 1981.1 1216.9 1981.2 1218.9 1981.4 1220.9 1981.5 1222.9 1981.7 1224.9 1981.8 1226.9 1982 1228.9 1982.2 1230.9 1982.3 1232.9 1982.5 1234.9 1982.7 1236.9 1982.8 1238.9 1983 1240.9 1983.2 1242.9 1983.4 1244.9 1983.6 1246.9 1983.7 1248.9 1983.9 1250.9 1984.1 1252.9 1984.3 1254.9 1984.5 1256.9 1984.6 1258.9 1984.8 1260.9 1985 1262.9 1985.2 1264.9 1985.4 1266.9 1985.6 1268.9 1985.7 1270.9 1985.9 1272.9 1986.1 1274.9 1986.3 1276.9 1986.4 1278.9 1986.6 1280.9 1986.8 1282.9 1986.9 1284.9 1987.1 1286.9 1987.2 1288.9 1987.4 1290.9 1987.6 1292.9 1987.7 1294.9 1987.8 1296.9 1988 1298.9 1988.1 1300.9 1988.3 1302.9 1988.4 1304.9 1988.5 1306.9 1988.7 1308.9 1988.8 1310.9 1989 1312.9 1989.1 1314.9 1989.3 1316.9 1989.4 1318.9 1989.5 1320.9 1989.7 1322.9 1989.8 1324.9 1990 1326.9 1990.1 1328.9 1990.3 1330.9 1990.4 1332.9 1990.6 1334.9 1990.7 1336.9 1990.8 1338.9 1991 1340.9 1991.1 1342.9 1991.3 1344.9 1991.4 1346.9 1991.6 1348.9 1991.7 1350.9 1991.8 1352.9 1992 1354.9 1992.1 1356.9 1992.3 1358.9 1992.4 1360.9 1992.5 1362.9 1992.7 1364.9 1992.8 1366.9 1992.9 1368.9 1993.1 1370.9 1993.2 1372.9 1993.4 1374.9 1993.5 1376.9 1993.6 1378.9 1993.7 1380.9 1993.9 1382.9 1994 1384.9 1994.1 1386.9 1994.3 1388.9 1994.4 1390.9 1994.5 1392.9 1994.6 1394.9 1994.7 1396.9 1994.9 1398.9 1995 1400.9 1995.1 1402.9 1995.2 1404.9 1995.3 1406.9 1995.4 1408.9 1995.5 1410.9 1995.7 1412.9 1995.8 1414.9 1995.9 1416.9 1996 1418.9 1996.1 1420.9 1996.2 1422.9 1996.3 1424.9 1996.4 1426.9 1996.5 1428.9 1996.6 1430.9 1996.7 1432.9 1996.8 1434.9 1996.9 1436.9 1997 1438.9 1997.1 1440.9 1997.2 1442.9 1997.3 1444.9 1997.4 1446.9 1997.5 1448.9 1997.6 1450.9 1997.7 1452.9 1997.8 1454.9 1997.8 1456.9 1997.9 1458.9 1998 1460.9 1998.1 1462.9 1998.2 1464.9 1998.3 1466.9 1998.4 1468.9 1998.5 1470.9 1998.6 1472.9 1998.7 1474.9 1998.7 1476.9 1998.8 1478.9 1998.9 1480.9 1999 1482.9 1999.1 1484.9 1999.2 1486.9 1999.3 1488.9 1999.3 1490.9 1999.4 1492.9 1999.5 1494.9 1999.6 1496.9 1999.7 1498.9 1999.7 1500.9 1999.8 1502.9 1999.9 1504.9 2000 1506.9 2000 1508.9 2000.1 1510.9 2000.2 1512.9 2000.3 1514.9 2000.3 1516.9 2000.4 1518.9 2000.5 1520.9 2000.5 1522.9 2000.6 1524.9 2000.7 1526.9 2000.7 1528.9 2000.8 1531 2000.9 1533 2000.9 1535 2001 1537 2001.1 1539 2001.1 1541 2001.2 1543 2001.3 1545 2001.3 1547 2001.4 1549 2001.4 1551 2001.5 1553 2001.6 1555 2001.6 1557 2001.7 1559 2001.7 1561 2001.8 1563 2001.8 1565 2001.9 1567 2001.9 1569 2002 1571 2002.1 1573 2002.1 1575 2002.2 1577 2002.2 1579 2002.3 1581 2002.3 1583 2002.4 1585 2002.4 1587 2002.5 1589 2002.5 1591 2002.6 1593 2002.6 1595 2002.7 1597 2002.7 1599 2002.8 1601 2002.8 1603 2002.9 1605 2002.9 1607 2003 1609 2003 1611 2003 1613 2003.1 1615 2003.1 1617 2003.2 1619 2003.2 1621 2003.3 1623 2003.3 1625 2003.4 1627 2003.4 1629 2003.5 1631 2003.5 1633 2003.6 1635 2003.6 1637 2003.7 1639 2003.7 1641 2003.8 1643 2003.8 1645 2003.9 1647 2003.9 1649 2004 1651 2004 1653 2004.1 1655 2004.1 1657 2004.2 1659 2004.3 1661 2004.3 1663 2004.4 1665 2004.4 1667 2004.5 1669 2004.5 1671 2004.6 1673 2004.6 1675 2004.7 1677 2004.7 1679 2004.8 1681 2004.8 1683 2004.9 1685 2004.9 1687 2005 1689 2005 1691 2005.1 1693 2005.1 1695 2005.2 1697 2005.2 1699 2005.3 1701 2005.3 1703 2005.4 1705 2005.4 1707 2005.5 1709 2005.5 1711 2005.6" fill="none" stroke="#888888" stroke-width="7.8" stroke-linejoin="round" stroke-linecap="round" stroke-linecap="butt" stroke-opacity="0.8"/>
<path d="M838.6 1825 L728 1852" stroke="#7f0000" stroke-width="7" stroke-linecap="round"/>
<polygon points="700.4,1859.3 731.4,1838.9 736.8,1861.4" fill="#7f0000"/>
<path d="M941.4 1855 L985 1945" stroke="#7f0000" stroke-width="7" stroke-linecap="round"/>
<polygon points="996.4,1971 973.5,1946 997.1,1938.6" fill="#7f0000"/>
<rect x="225.5" y="44.5" width="10.5" height="2066.5" fill="#000"/>
<rect x="1740" y="44.5" width="7.5" height="2066.5" fill="#000"/>
<rect x="225.5" y="44.5" width="1522" height="10.2" fill="#000"/>
<rect x="200.7" y="2102.9" width="1572.3" height="7.8" fill="#000"/>
<rect x="257.2" y="2110" width="7.9" height="13.6" fill="#000"/>
<rect x="257.2" y="33.6" width="7.9" height="11.4" fill="#000"/>
<rect x="303.9" y="2110" width="7.9" height="13.6" fill="#000"/>
<rect x="303.9" y="33.6" width="7.9" height="11.4" fill="#000"/>
<rect x="350.6" y="2110" width="7.9" height="13.6" fill="#000"/>
<rect x="350.6" y="33.6" width="7.9" height="11.4" fill="#000"/>
<rect x="397.4" y="2110" width="7.9" height="27.5" fill="#000"/>
<rect x="397.4" y="19.9" width="7.9" height="25.1" fill="#000"/>
<rect x="444.1" y="2110" width="7.9" height="13.6" fill="#000"/>
<rect x="444.1" y="33.6" width="7.9" height="11.4" fill="#000"/>
<rect x="490.8" y="2110" width="7.9" height="13.6" fill="#000"/>
<rect x="490.8" y="33.6" width="7.9" height="11.4" fill="#000"/>
<rect x="537.5" y="2110" width="7.9" height="13.6" fill="#000"/>
<rect x="537.5" y="33.6" width="7.9" height="11.4" fill="#000"/>
<rect x="584.2" y="2110" width="7.9" height="13.6" fill="#000"/>
<rect x="584.2" y="33.6" width="7.9" height="11.4" fill="#000"/>
<rect x="630.9" y="2110" width="7.9" height="27.5" fill="#000"/>
<rect x="630.9" y="19.9" width="7.9" height="25.1" fill="#000"/>
<rect x="677.7" y="2110" width="7.9" height="13.6" fill="#000"/>
<rect x="677.7" y="33.6" width="7.9" height="11.4" fill="#000"/>
<rect x="724.4" y="2110" width="7.9" height="13.6" fill="#000"/>
<rect x="724.4" y="33.6" width="7.9" height="11.4" fill="#000"/>
<rect x="771.1" y="2110" width="7.9" height="13.6" fill="#000"/>
<rect x="771.1" y="33.6" width="7.9" height="11.4" fill="#000"/>
<rect x="817.8" y="2110" width="7.9" height="13.6" fill="#000"/>
<rect x="817.8" y="33.6" width="7.9" height="11.4" fill="#000"/>
<rect x="864.5" y="2110" width="7.9" height="27.5" fill="#000"/>
<rect x="864.5" y="19.9" width="7.9" height="25.1" fill="#000"/>
<rect x="911.3" y="2110" width="7.9" height="13.6" fill="#000"/>
<rect x="911.3" y="33.6" width="7.9" height="11.4" fill="#000"/>
<rect x="958.0" y="2110" width="7.9" height="13.6" fill="#000"/>
<rect x="958.0" y="33.6" width="7.9" height="11.4" fill="#000"/>
<rect x="1004.7" y="2110" width="7.9" height="13.6" fill="#000"/>
<rect x="1004.7" y="33.6" width="7.9" height="11.4" fill="#000"/>
<rect x="1051.4" y="2110" width="7.9" height="13.6" fill="#000"/>
<rect x="1051.4" y="33.6" width="7.9" height="11.4" fill="#000"/>
<rect x="1098.1" y="2110" width="7.9" height="27.5" fill="#000"/>
<rect x="1098.1" y="19.9" width="7.9" height="25.1" fill="#000"/>
<rect x="1144.9" y="2110" width="7.9" height="13.6" fill="#000"/>
<rect x="1144.9" y="33.6" width="7.9" height="11.4" fill="#000"/>
<rect x="1191.6" y="2110" width="7.9" height="13.6" fill="#000"/>
<rect x="1191.6" y="33.6" width="7.9" height="11.4" fill="#000"/>
<rect x="1238.3" y="2110" width="7.9" height="13.6" fill="#000"/>
<rect x="1238.3" y="33.6" width="7.9" height="11.4" fill="#000"/>
<rect x="1285.0" y="2110" width="7.9" height="13.6" fill="#000"/>
<rect x="1285.0" y="33.6" width="7.9" height="11.4" fill="#000"/>
<rect x="1331.8" y="2110" width="7.9" height="27.5" fill="#000"/>
<rect x="1331.8" y="19.9" width="7.9" height="25.1" fill="#000"/>
<rect x="1378.5" y="2110" width="7.9" height="13.6" fill="#000"/>
<rect x="1378.5" y="33.6" width="7.9" height="11.4" fill="#000"/>
<rect x="1425.2" y="2110" width="7.9" height="13.6" fill="#000"/>
<rect x="1425.2" y="33.6" width="7.9" height="11.4" fill="#000"/>
<rect x="1471.9" y="2110" width="7.9" height="13.6" fill="#000"/>
<rect x="1471.9" y="33.6" width="7.9" height="11.4" fill="#000"/>
<rect x="1518.6" y="2110" width="7.9" height="13.6" fill="#000"/>
<rect x="1518.6" y="33.6" width="7.9" height="11.4" fill="#000"/>
<rect x="1565.3" y="2110" width="7.9" height="27.5" fill="#000"/>
<rect x="1565.3" y="19.9" width="7.9" height="25.1" fill="#000"/>
<rect x="1612.1" y="2110" width="7.9" height="13.6" fill="#000"/>
<rect x="1612.1" y="33.6" width="7.9" height="11.4" fill="#000"/>
<rect x="1658.8" y="2110" width="7.9" height="13.6" fill="#000"/>
<rect x="1658.8" y="33.6" width="7.9" height="11.4" fill="#000"/>
<rect x="1705.5" y="2110" width="7.9" height="13.6" fill="#000"/>
<rect x="1705.5" y="33.6" width="7.9" height="11.4" fill="#000"/>
<rect x="200.7" y="159.5" width="25.5" height="9" fill="#000"/>
<rect x="1747" y="160.0" width="27.7" height="8" fill="#000"/>
<rect x="200.7" y="309.0" width="25.5" height="9" fill="#000"/>
<rect x="1747" y="309.5" width="27.7" height="8" fill="#000"/>
<rect x="200.7" y="458.5" width="25.5" height="9" fill="#000"/>
<rect x="1747" y="459.0" width="27.7" height="8" fill="#000"/>
<rect x="200.7" y="608.0" width="25.5" height="9" fill="#000"/>
<rect x="1747" y="608.5" width="27.7" height="8" fill="#000"/>
<rect x="200.7" y="757.5" width="25.5" height="9" fill="#000"/>
<rect x="1747" y="758.0" width="27.7" height="8" fill="#000"/>
<rect x="200.7" y="907.0" width="25.5" height="9" fill="#000"/>
<rect x="1747" y="907.5" width="27.7" height="8" fill="#000"/>
<rect x="200.7" y="1056.5" width="25.5" height="9" fill="#000"/>
<rect x="1747" y="1057.0" width="27.7" height="8" fill="#000"/>
<rect x="200.7" y="1206.0" width="25.5" height="9" fill="#000"/>
<rect x="1747" y="1206.5" width="27.7" height="8" fill="#000"/>
<rect x="200.7" y="1355.5" width="25.5" height="9" fill="#000"/>
<rect x="1747" y="1356.0" width="27.7" height="8" fill="#000"/>
<rect x="200.7" y="1505.0" width="25.5" height="9" fill="#000"/>
<rect x="1747" y="1505.5" width="27.7" height="8" fill="#000"/>
<rect x="200.7" y="1654.5" width="25.5" height="9" fill="#000"/>
<rect x="1747" y="1655.0" width="27.7" height="8" fill="#000"/>
<rect x="200.7" y="1804.0" width="25.5" height="9" fill="#000"/>
<rect x="1747" y="1804.5" width="27.7" height="8" fill="#000"/>
<rect x="200.7" y="1953.5" width="25.5" height="9" fill="#000"/>
<rect x="1747" y="1954.0" width="27.7" height="8" fill="#000"/>
<rect x="214" y="85.2" width="12" height="8" fill="#000"/>
<rect x="1747" y="85.8" width="13.6" height="7" fill="#000"/>
<rect x="214" y="234.8" width="12" height="8" fill="#000"/>
<rect x="1747" y="235.2" width="13.6" height="7" fill="#000"/>
<rect x="214" y="384.2" width="12" height="8" fill="#000"/>
<rect x="1747" y="384.8" width="13.6" height="7" fill="#000"/>
<rect x="214" y="533.8" width="12" height="8" fill="#000"/>
<rect x="1747" y="534.2" width="13.6" height="7" fill="#000"/>
<rect x="214" y="683.2" width="12" height="8" fill="#000"/>
<rect x="1747" y="683.8" width="13.6" height="7" fill="#000"/>
<rect x="214" y="832.8" width="12" height="8" fill="#000"/>
<rect x="1747" y="833.2" width="13.6" height="7" fill="#000"/>
<rect x="214" y="982.2" width="12" height="8" fill="#000"/>
<rect x="1747" y="982.8" width="13.6" height="7" fill="#000"/>
<rect x="214" y="1131.8" width="12" height="8" fill="#000"/>
<rect x="1747" y="1132.2" width="13.6" height="7" fill="#000"/>
<rect x="214" y="1281.2" width="12" height="8" fill="#000"/>
<rect x="1747" y="1281.8" width="13.6" height="7" fill="#000"/>
<rect x="214" y="1430.8" width="12" height="8" fill="#000"/>
<rect x="1747" y="1431.2" width="13.6" height="7" fill="#000"/>
<rect x="214" y="1580.2" width="12" height="8" fill="#000"/>
<rect x="1747" y="1580.8" width="13.6" height="7" fill="#000"/>
<rect x="214" y="1729.8" width="12" height="8" fill="#000"/>
<rect x="1747" y="1730.2" width="13.6" height="7" fill="#000"/>
<rect x="214" y="1879.2" width="12" height="8" fill="#000"/>
<rect x="1747" y="1879.8" width="13.6" height="7" fill="#000"/>
<rect x="214" y="2028.8" width="12" height="8" fill="#000"/>
<rect x="1747" y="2029.2" width="13.6" height="7" fill="#000"/>
<text x="401.3" y="2222" font-family="Liberation Sans, Arial, sans-serif" font-size="92" text-anchor="middle" fill="#000">10</text>
<text x="634.9" y="2222" font-family="Liberation Sans, Arial, sans-serif" font-size="92" text-anchor="middle" fill="#000">20</text>
<text x="868.5" y="2222" font-family="Liberation Sans, Arial, sans-serif" font-size="92" text-anchor="middle" fill="#000">30</text>
<text x="1102.1" y="2222" font-family="Liberation Sans, Arial, sans-serif" font-size="92" text-anchor="middle" fill="#000">40</text>
<text x="1335.7" y="2222" font-family="Liberation Sans, Arial, sans-serif" font-size="92" text-anchor="middle" fill="#000">50</text>
<text x="1569.3" y="2222" font-family="Liberation Sans, Arial, sans-serif" font-size="92" text-anchor="middle" fill="#000">60</text>
<text x="796.3" y="2315.7" font-family="Liberation Sans, Arial, sans-serif" font-size="93" fill="#000">2</text>
<text transform="translate(856.7,2316) scale(1.2,1)" x="0" y="0" font-family="Liberation Serif, serif" font-style="italic" font-size="89.5" fill="#000" stroke="#fdfdfd" stroke-width="2.4">θ</text>
<text x="923.4" y="2315.5" font-family="Liberation Sans, Arial, sans-serif" font-size="90" fill="#000">[</text>
<text x="948.7" y="2314" font-family="Liberation Sans, Arial, sans-serif" font-size="90" fill="#000">°</text>
<text x="982.6" y="2315.5" font-family="Liberation Sans, Arial, sans-serif" font-size="90" fill="#000">]</text>
<text transform="translate(89,1361.5) rotate(-90)" x="0" y="0" font-family="Liberation Sans, Arial, sans-serif" font-size="91" fill="#000">Intensity [a.u.]</text>
<text transform="translate(1252.6,221.5) scale(0.972,1)" x="0" y="0" font-family="Liberation Sans, Arial, sans-serif" font-size="86.5" fill="#404040">PEG-POSS</text>
<text transform="translate(1484.7,437) scale(0.972,1)" x="0" y="0" font-family="Liberation Sans, Arial, sans-serif" font-size="86.5" fill="#800080">PU10</text>
<text transform="translate(1487.0,740.5) scale(0.972,1)" x="0" y="0" font-family="Liberation Sans, Arial, sans-serif" font-size="86.5" fill="#0000FF">PU08</text>
<text transform="translate(1489.8,1026.6) scale(0.972,1)" x="0" y="0" font-family="Liberation Sans, Arial, sans-serif" font-size="86.5" fill="#00FFFF">PU06</text>
<text transform="translate(1489.8,1352.2) scale(0.972,1)" x="0" y="0" font-family="Liberation Sans, Arial, sans-serif" font-size="86.5" fill="#008000">PU04</text>
<text transform="translate(1470.6,1656.6) scale(0.972,1)" x="0" y="0" font-family="Liberation Sans, Arial, sans-serif" font-size="86.5" fill="#FF8000">PU02</text>
<text transform="translate(1473.4,1980.2) scale(0.972,1)" x="0" y="0" font-family="Liberation Sans, Arial, sans-serif" font-size="86.5" fill="#FF0000">PU00</text>
<text x="256.0" y="2081.7" font-family="Liberation Sans, Arial, sans-serif" font-size="66.8" fill="#008080">prepeaks</text>
<text x="585.7" y="2083.3" font-family="Liberation Sans, Arial, sans-serif" font-size="67.2" fill="#000080">crystal</text>
<text x="851.1" y="1836.8" font-family="Liberation Sans, Arial, sans-serif" font-size="66" fill="#800000">halos</text>
</svg>
</body></html>
